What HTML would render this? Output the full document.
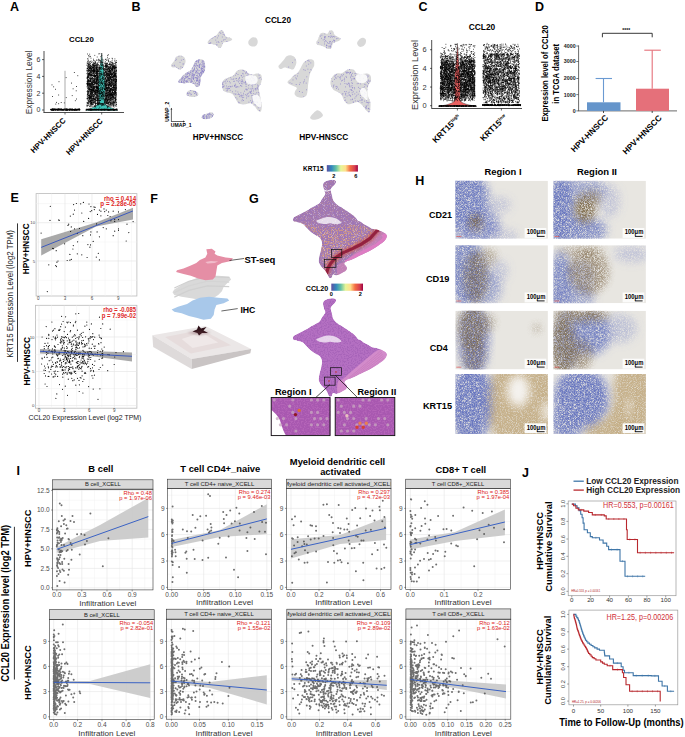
<!DOCTYPE html>
<html><head><meta charset="utf-8"><style>
html,body{margin:0;padding:0;background:#fff;}
body{width:685px;height:737px;overflow:hidden;}
svg{display:block;}
text{font-family:"Liberation Sans",sans-serif;}
</style></head><body>
<svg width="685" height="737" viewBox="0 0 685 737">
<rect width="685" height="737" fill="#fff"/>
<defs>
<linearGradient id="spec" x1="0" x2="1" y1="0" y2="0"><stop offset="0" stop-color="#5e4fa2"/><stop offset="0.15" stop-color="#3288bd"/><stop offset="0.3" stop-color="#66c2a5"/><stop offset="0.45" stop-color="#e6f598"/><stop offset="0.6" stop-color="#fee08b"/><stop offset="0.75" stop-color="#f46d43"/><stop offset="0.9" stop-color="#d53e4f"/><stop offset="1" stop-color="#9e0142"/></linearGradient>
<filter id="blur1" x="-20%" y="-20%" width="140%" height="140%"><feGaussianBlur stdDeviation="1"/></filter>
<filter id="blur2" x="-20%" y="-20%" width="140%" height="140%"><feGaussianBlur stdDeviation="2"/></filter>
<filter id="blur4" x="-50%" y="-50%" width="200%" height="200%"><feGaussianBlur stdDeviation="4"/></filter>
<filter id="dotsO" x="0" y="0" width="100%" height="100%"><feTurbulence type="fractalNoise" baseFrequency="0.7" numOctaves="1" seed="5" result="n"/><feColorMatrix in="n" type="matrix" values="0 0 0 0 0  0 0 0 0 0  0 0 0 0 0  6 0 0 0 -2.8" result="m"/><feComposite in="SourceGraphic" in2="m" operator="in"/></filter>
<filter id="dotsW" x="0" y="0" width="100%" height="100%"><feTurbulence type="fractalNoise" baseFrequency="1.1" numOctaves="1" seed="29" result="n"/><feColorMatrix in="n" type="matrix" values="0 0 0 0 0  0 0 0 0 0  0 0 0 0 0  7 0 0 0 -3.9" result="m"/><feComposite in="SourceGraphic" in2="m" operator="in"/></filter>
<filter id="speckB" x="-20%" y="-20%" width="140%" height="140%"><feGaussianBlur in="SourceGraphic" stdDeviation="4.5" result="b"/><feTurbulence type="fractalNoise" baseFrequency="1.5" numOctaves="2" seed="11" result="n"/><feColorMatrix in="n" type="matrix" values="0 0 0 0 0  0 0 0 0 0  0 0 0 0 0  2.4 0 0 0 -0.45" result="m"/><feComposite in="b" in2="m" operator="in"/></filter>
<filter id="speckBr" x="-20%" y="-20%" width="140%" height="140%"><feGaussianBlur in="SourceGraphic" stdDeviation="3.5" result="b"/><feTurbulence type="fractalNoise" baseFrequency="1.3" numOctaves="2" seed="17" result="n"/><feColorMatrix in="n" type="matrix" values="0 0 0 0 0  0 0 0 0 0  0 0 0 0 0  2.4 0 0 0 -0.55" result="m"/><feComposite in="b" in2="m" operator="in"/></filter>
<filter id="speckT" x="-20%" y="-20%" width="140%" height="140%"><feGaussianBlur in="SourceGraphic" stdDeviation="4" result="b"/><feTurbulence type="fractalNoise" baseFrequency="1.2" numOctaves="2" seed="23" result="n"/><feColorMatrix in="n" type="matrix" values="0 0 0 0 0  0 0 0 0 0  0 0 0 0 0  2 0 0 0 -0.1" result="m"/><feComposite in="b" in2="m" operator="in"/></filter>
</defs>
<text x="10" y="11" font-size="12.5" font-weight="bold" fill="#000" text-anchor="start">A</text>
<text x="131.5" y="11.2" font-size="12.5" font-weight="bold" fill="#000" text-anchor="start">B</text>
<text x="418.5" y="11.2" font-size="12.5" font-weight="bold" fill="#000" text-anchor="start">C</text>
<text x="535" y="11.3" font-size="12.5" font-weight="bold" fill="#000" text-anchor="start">D</text>
<text x="10.5" y="201.5" font-size="12.5" font-weight="bold" fill="#000" text-anchor="start">E</text>
<text x="150.3" y="203" font-size="12.5" font-weight="bold" fill="#000" text-anchor="start">F</text>
<text x="249" y="203" font-size="12.5" font-weight="bold" fill="#000" text-anchor="start">G</text>
<text x="415.2" y="185.2" font-size="12.5" font-weight="bold" fill="#000" text-anchor="start">H</text>
<text x="16.4" y="475.2" font-size="12.5" font-weight="bold" fill="#000" text-anchor="start">I</text>
<text x="522" y="476.9" font-size="12.5" font-weight="bold" fill="#000" text-anchor="start">J</text>
<text x="81.4" y="42.3" font-size="7.8" font-weight="bold" fill="#000" text-anchor="middle">CCL20</text>
<line x1="44" y1="51" x2="44" y2="112.5" stroke="#222" stroke-width="0.8"/>
<line x1="43.5" y1="112.5" x2="124" y2="112.5" stroke="#222" stroke-width="0.8"/>
<line x1="42" y1="110.0" x2="44" y2="110.0" stroke="#222" stroke-width="0.7"/>
<text x="38.4" y="112.4" font-size="7" fill="#333" text-anchor="middle">0</text>
<line x1="42" y1="93.2" x2="44" y2="93.2" stroke="#222" stroke-width="0.7"/>
<text x="38.4" y="95.60000000000001" font-size="7" fill="#333" text-anchor="middle">2</text>
<line x1="42" y1="76.4" x2="44" y2="76.4" stroke="#222" stroke-width="0.7"/>
<text x="38.4" y="78.80000000000001" font-size="7" fill="#333" text-anchor="middle">4</text>
<line x1="42" y1="59.599999999999994" x2="44" y2="59.599999999999994" stroke="#222" stroke-width="0.7"/>
<text x="38.4" y="61.99999999999999" font-size="7" fill="#333" text-anchor="middle">6</text>
<line x1="65" y1="112.5" x2="65" y2="114.5" stroke="#222" stroke-width="0.7"/>
<line x1="101.7" y1="112.5" x2="101.7" y2="114.5" stroke="#222" stroke-width="0.7"/>
<text x="32.2" y="82.4" font-size="8.6" fill="#333" text-anchor="middle" textLength="63.6" lengthAdjust="spacingAndGlyphs" transform="rotate(-90 32.2 82.4)">Expression Level</text>
<path d="M60.4 109.3h0M69.9 109.2h0M66.5 109.5h0M52.7 109.6h0M52.1 109.5h0M53.0 109.2h0M63.3 109.9h0M54.6 109.3h0M69.2 110.0h0M67.7 109.5h0M79.3 109.1h0M75.9 109.4h0M55.2 109.2h0M59.9 109.9h0M56.2 109.7h0M69.5 109.5h0M66.9 109.2h0M52.7 109.3h0M70.7 109.5h0M60.1 109.7h0M64.1 109.4h0M74.0 109.8h0M58.1 109.7h0M66.2 110.0h0M72.2 109.4h0M79.4 109.2h0M63.1 109.9h0M55.4 109.6h0M52.1 109.8h0M73.2 109.7h0M76.4 109.4h0M71.2 109.7h0M67.8 109.6h0M75.4 110.0h0M64.7 109.8h0M52.8 109.8h0M69.8 110.1h0M74.8 109.4h0M62.2 109.8h0M51.7 109.6h0M55.9 109.2h0M52.7 109.9h0M54.8 109.3h0M62.3 110.0h0M53.3 109.5h0M66.9 110.0h0M74.8 110.0h0M59.1 109.5h0M61.4 110.0h0M78.8 109.3h0M56.1 109.3h0M57.8 109.6h0M68.1 109.4h0M51.1 109.5h0M61.7 109.7h0M78.6 109.8h0M65.9 109.7h0M70.6 109.2h0M77.1 109.9h0M76.4 109.9h0M62.4 109.5h0M54.0 109.7h0M52.8 109.2h0M57.1 109.3h0M60.9 109.2h0M51.0 109.3h0M53.9 109.5h0M51.7 110.0h0M68.8 109.2h0M58.3 109.4h0M61.6 109.2h0M75.6 110.1h0M64.5 109.6h0M53.5 109.2h0M60.9 109.4h0M75.0 109.3h0M51.7 110.1h0M66.3 109.2h0M66.8 109.1h0M66.3 110.1h0M76.0 109.8h0M58.6 109.5h0M55.8 109.9h0M66.4 109.9h0M60.6 109.3h0M74.5 110.1h0M75.7 109.9h0M74.7 109.8h0M57.6 109.6h0M61.3 109.1h0M51.8 109.4h0M58.5 109.8h0M78.7 109.5h0M78.2 110.1h0M78.7 109.5h0M57.4 109.3h0M56.7 109.3h0M69.1 110.0h0M75.4 109.6h0M69.9 109.9h0M53.5 109.8h0M77.4 109.9h0M72.8 109.6h0M56.2 109.9h0M60.6 109.9h0M79.2 109.5h0M62.6 110.0h0M72.0 109.3h0M54.7 109.3h0M77.2 109.9h0M55.2 109.9h0M79.4 109.8h0M61.2 109.6h0M54.8 109.1h0M79.2 109.7h0M66.3 110.0h0M63.6 110.0h0M75.0 109.3h0M58.3 109.4h0M58.0 109.7h0M58.5 109.5h0M54.8 110.0h0M61.3 109.6h0M67.9 110.0h0M63.2 110.0h0M65.5 109.6h0M66.2 109.1h0M63.8 109.3h0M51.1 109.9h0M56.0 109.6h0M72.0 109.7h0M60.5 109.6h0M67.1 109.9h0M54.1 109.7h0M58.2 109.4h0M73.4 109.6h0M67.3 109.9h0M77.5 109.5h0M68.8 109.6h0M65.9 109.8h0M64.1 109.6h0M64.9 110.0h0M71.3 110.0h0M78.3 109.4h0M67.2 110.0h0M75.4 109.2h0M54.5 109.5h0M53.1 109.3h0M53.1 109.8h0M73.7 110.0h0M55.5 109.8h0M70.1 109.2h0M76.6 110.1h0M57.4 110.1h0M62.5 109.6h0M79.7 109.9h0M55.7 109.5h0M66.0 109.4h0M56.7 109.4h0M71.9 109.1h0M67.1 109.5h0M51.5 109.4h0M69.1 109.6h0M52.9 110.1h0M73.9 110.1h0M54.0 109.4h0M52.1 109.9h0M58.8 109.2h0M63.2 110.0h0M74.8 109.4h0M55.3 110.0h0M67.5 109.8h0M53.6 109.2h0M71.0 109.5h0M53.1 110.0h0M69.4 109.9h0M53.4 110.0h0M52.9 110.0h0M64.2 109.4h0M67.0 110.0h0M58.8 109.2h0M66.3 109.3h0M54.2 109.3h0M52.5 109.3h0M60.0 109.4h0M73.0 109.4h0M65.5 109.3h0M61.1 109.1h0M58.3 109.1h0M72.3 109.7h0M56.5 109.6h0M78.1 109.2h0M74.7 109.5h0M65.4 109.9h0M62.4 109.6h0M70.9 110.1h0M60.9 109.9h0M71.5 109.7h0M62.7 109.4h0M52.6 109.2h0M53.1 109.8h0M58.4 109.3h0M53.5 109.9h0M76.2 109.8h0M59.2 109.3h0M59.5 109.6h0M55.6 109.5h0M58.6 110.1h0M79.2 109.6h0M58.1 110.1h0M60.0 109.5h0M51.0 109.5h0M64.8 109.6h0M56.8 109.6h0M51.1 109.4h0M53.6 109.5h0M52.2 109.1h0M59.8 109.3h0M68.0 109.6h0M72.8 109.8h0M71.8 110.0h0M62.3 109.4h0M79.6 109.2h0M72.0 109.7h0M52.3 109.9h0M76.9 109.7h0M72.3 109.9h0M55.0 109.6h0M65.6 109.9h0M74.3 109.9h0M67.9 110.0h0M70.8 109.8h0M57.7 109.1h0M54.9 109.5h0M54.0 109.9h0M67.2 109.7h0M69.2 109.8h0M65.2 109.1h0M74.1 109.8h0M65.6 109.6h0M70.1 109.2h0M72.4 109.4h0M53.2 109.4h0M72.2 109.3h0M72.5 110.1h0M65.3 109.5h0M64.9 109.8h0M73.2 109.7h0M69.6 109.2h0M55.3 109.4h0M72.6 109.4h0M67.5 109.1h0M52.8 109.4h0M70.5 109.8h0M70.6 109.4h0M66.0 109.6h0M64.5 109.2h0M76.9 109.3h0M79.4 110.0h0M51.5 109.6h0M74.8 110.1h0M64.0 109.4h0M57.1 110.0h0M57.1 109.7h0M55.1 109.6h0M78.6 109.2h0M74.8 109.6h0M76.7 109.8h0M57.7 110.0h0M65.1 109.1h0M51.1 109.6h0M64.1 109.4h0M55.1 109.4h0M60.2 109.9h0M51.1 109.9h0M75.3 109.2h0M77.9 109.8h0M77.1 109.4h0M61.8 109.5h0M80.0 109.7h0M61.5 109.5h0M59.0 109.1h0M53.9 109.9h0M59.3 110.0h0M58.2 109.4h0M65.8 109.3h0M61.8 110.1h0M76.6 109.9h0M69.3 110.0h0M78.3 109.6h0M71.9 109.1h0M72.2 109.6h0M72.8 109.7h0M59.3 109.1h0M77.9 109.2h0M64.7 109.4h0M59.6 109.8h0M79.3 109.4h0M70.0 109.4h0M67.2 109.5h0M56.5 102.4h0M76.5 99.0h0M76.5 86.5h0M55.8 104.1h0M61.2 102.5h0M59.0 81.7h0M72.2 95.6h0M66.2 97.6h0M53.7 86.8h0M55.4 89.3h0M75.3 100.7h0M58.7 95.0h0M77.8 75.7h0M52.6 96.5h0M76.2 90.8h0M52.0 84.9h0M74.3 72.5h0M58.7 103.7h0M66.1 77.6h0M71.5 83.1h0M64.3 102.9h0M73.1 88.8h0" stroke="#000" stroke-width="0.9" stroke-linecap="round" opacity="1"/>
<line x1="65" y1="110" x2="65" y2="70.8" stroke="#555" stroke-width="0.5"/>
<path d="M85.7,110.5 C90,108.5 95,107 98.5,104 C99.5,100 98.5,95 98.3,90 C98.2,82 98.8,74 100,67 C100.8,62 101.4,57 101.7,53 C102,57 102.6,62 103.4,67 C104.6,74 105.2,82 105.1,90 C104.9,95 103.9,100 104.9,104 C108.4,107 113.4,108.5 118,110.5 Z" fill="#3fc2b6" stroke="#222" stroke-width="0.4"/>
<path d="M107.7 92.0h0M115.4 78.9h0M93.9 69.3h0M101.7 65.7h0M114.4 93.1h0M92.9 103.0h0M93.1 73.1h0M93.8 92.4h0M115.2 70.2h0M115.1 97.7h0M115.8 87.0h0M113.2 106.0h0M96.7 65.7h0M98.2 67.3h0M87.1 91.5h0M93.1 92.6h0M113.6 89.0h0M109.7 89.7h0M109.1 99.1h0M97.0 75.4h0M96.4 67.8h0M114.1 107.0h0M115.3 65.2h0M108.9 86.9h0M96.7 73.3h0M109.3 90.7h0M94.8 60.7h0M108.0 96.8h0M109.1 93.1h0M111.9 76.7h0M94.3 79.6h0M106.3 66.8h0M90.0 85.2h0M95.7 69.1h0M104.3 102.7h0M115.0 72.0h0M93.4 80.6h0M106.3 99.4h0M107.1 103.5h0M88.9 91.7h0M105.9 85.2h0M96.1 98.2h0M96.2 95.4h0M97.8 95.5h0M87.2 73.3h0M99.0 102.8h0M103.3 97.0h0M98.0 71.9h0M102.4 97.9h0M90.7 83.4h0M114.4 88.4h0M111.4 68.5h0M111.5 73.9h0M103.6 94.8h0M106.5 90.3h0M105.3 86.2h0M92.3 95.7h0M108.7 81.3h0M116.5 70.7h0M116.1 68.5h0M114.5 67.7h0M91.7 92.1h0M91.2 87.9h0M94.8 63.4h0M114.7 91.1h0M110.2 68.6h0M90.1 92.6h0M110.6 92.3h0M97.7 63.2h0M111.3 85.7h0M104.3 83.2h0M99.8 104.3h0M93.7 68.6h0M97.6 102.5h0M93.0 81.7h0M91.4 82.3h0M110.2 84.0h0M97.4 91.3h0M108.7 87.8h0M94.0 65.6h0M103.3 72.9h0M111.1 95.3h0M88.4 91.2h0M87.2 81.2h0M109.0 71.2h0M96.9 95.1h0M108.1 78.3h0M94.9 78.9h0M113.0 64.3h0M109.1 95.4h0M94.1 65.4h0M106.7 96.2h0M100.9 97.1h0M96.1 66.8h0M114.0 78.6h0M91.2 100.2h0M105.8 100.5h0M111.2 72.4h0M112.7 67.8h0M93.1 79.9h0M111.0 104.8h0M89.9 70.4h0M115.5 93.7h0M87.9 68.4h0M89.7 94.8h0M115.9 100.5h0M110.6 85.6h0M114.9 82.7h0M105.6 103.4h0M113.4 85.5h0M113.7 67.5h0M93.9 90.5h0M97.3 83.8h0M106.6 103.6h0M90.7 94.8h0M92.7 67.7h0M94.3 76.0h0M96.7 83.1h0M90.0 65.8h0M108.7 66.5h0M101.8 72.3h0M113.9 102.0h0M107.1 70.2h0M105.6 83.3h0M94.4 87.7h0M99.1 83.2h0M110.0 78.3h0M88.1 89.0h0M90.0 98.0h0M102.2 89.4h0M107.3 79.1h0M116.1 71.1h0M93.6 88.8h0M105.8 74.1h0M105.9 81.7h0M95.7 65.8h0M94.9 101.8h0M92.5 93.3h0M114.5 76.8h0M91.2 106.0h0M87.3 74.9h0M90.0 89.4h0M97.3 97.8h0M105.0 69.0h0M110.3 79.8h0M100.0 98.8h0M91.1 92.0h0M87.2 83.5h0M98.1 90.0h0M105.9 64.8h0M101.3 63.0h0M97.8 77.9h0M93.2 85.8h0M111.5 84.0h0M102.0 83.5h0M104.4 72.1h0M113.2 106.1h0M114.3 103.7h0M113.9 79.0h0M107.2 77.7h0M109.6 75.6h0M106.4 102.6h0M114.6 87.3h0M90.5 80.0h0M116.0 90.6h0M91.5 85.9h0M90.6 103.4h0M90.8 66.1h0M108.7 73.5h0M108.6 104.3h0M100.6 83.9h0M106.3 66.0h0M108.6 102.1h0M97.8 99.9h0M115.0 82.0h0M88.8 81.2h0M96.8 90.7h0M113.5 66.5h0M94.8 91.5h0M111.7 79.5h0M95.1 65.3h0M89.5 70.4h0M109.2 67.9h0M107.1 83.3h0M109.2 93.9h0M93.9 90.8h0M97.7 98.6h0M91.4 87.7h0M110.3 63.9h0M94.7 63.1h0M109.7 90.4h0M92.3 66.1h0M112.8 103.0h0M94.6 86.9h0M116.4 89.2h0M113.8 104.3h0M108.0 106.2h0M114.8 66.6h0M109.4 93.0h0M92.0 92.4h0M87.4 98.6h0M114.6 92.1h0M113.3 79.2h0M105.6 92.1h0M101.1 95.1h0M91.3 92.9h0M94.9 78.8h0M92.0 98.8h0M90.4 97.5h0M106.8 63.1h0M94.6 84.3h0M89.9 99.7h0M108.5 68.4h0M91.1 61.0h0M92.5 71.1h0M92.3 67.6h0M89.3 73.3h0M105.1 78.7h0M93.0 72.3h0M111.0 72.3h0M94.9 106.7h0M91.8 70.8h0M96.5 72.3h0M115.2 90.1h0M90.0 83.7h0M89.9 70.6h0M102.5 94.4h0M88.3 70.4h0M104.0 70.3h0M111.9 69.5h0M110.0 90.5h0M110.8 97.3h0M111.1 74.8h0M97.8 87.7h0M91.1 100.2h0M110.0 79.5h0M113.2 98.1h0M88.0 99.6h0M114.4 94.0h0M99.8 93.7h0M115.3 92.5h0M94.2 99.7h0M105.1 85.8h0M93.6 89.2h0M112.5 89.7h0M95.4 82.7h0M91.7 90.1h0M88.8 65.8h0M115.4 87.6h0M97.4 98.2h0M108.9 77.7h0M110.2 70.7h0M109.7 64.6h0M100.6 68.0h0M98.4 88.2h0M92.5 71.7h0M111.8 94.2h0M93.0 66.0h0M101.7 67.5h0M115.1 87.6h0M98.1 81.5h0M102.7 62.5h0M107.4 57.3h0M95.6 63.0h0M92.4 83.3h0M88.3 76.1h0M107.4 67.0h0M92.8 91.4h0M106.1 80.2h0M91.6 62.4h0M92.0 100.2h0M87.4 68.5h0M97.5 95.5h0M97.3 90.4h0M113.4 86.7h0M88.3 63.0h0M112.3 79.2h0M115.4 67.9h0M98.5 64.7h0M94.2 95.1h0M115.8 89.0h0M94.3 69.8h0M97.1 94.1h0M95.0 76.1h0M91.7 105.0h0M115.4 74.4h0M90.9 64.9h0M106.5 69.1h0M112.2 92.2h0M90.7 91.6h0M113.9 93.3h0M87.9 68.6h0M99.2 77.5h0M92.4 94.2h0M108.1 70.2h0M98.3 103.3h0M92.3 91.6h0M107.3 81.9h0M88.4 89.2h0M93.2 102.5h0M107.6 84.8h0M95.3 76.1h0M108.9 61.7h0M88.6 77.3h0M109.6 82.4h0M94.7 77.3h0M88.8 63.8h0M96.2 86.5h0M97.4 91.9h0M111.1 67.3h0M106.7 72.0h0M95.6 86.3h0M95.3 92.6h0M116.4 102.4h0M90.2 100.9h0M114.7 94.2h0M91.1 92.7h0M105.9 72.8h0M110.2 65.9h0M96.5 76.0h0M111.6 81.7h0M107.9 107.3h0M115.0 91.1h0M89.4 84.1h0M115.7 97.3h0M87.1 105.7h0M106.7 82.6h0M95.8 67.5h0M96.6 81.7h0M112.6 67.2h0M111.0 70.0h0M95.8 77.1h0M97.2 63.0h0M87.8 82.9h0M98.0 76.9h0M112.5 95.9h0M94.4 99.9h0M100.0 85.8h0M108.4 76.4h0M92.1 70.4h0M91.0 102.2h0M98.0 101.8h0M99.6 81.8h0M114.2 67.8h0M97.1 75.9h0M90.6 81.4h0M114.4 71.5h0M92.5 103.8h0M112.9 92.9h0M115.1 79.7h0M110.7 93.4h0M107.1 100.7h0M112.8 83.6h0M93.4 98.6h0M92.0 87.6h0M116.2 81.7h0M95.1 99.4h0M115.3 85.0h0M88.0 70.7h0M105.8 71.0h0M112.8 97.3h0M109.6 88.7h0M97.4 82.9h0M116.3 87.0h0M94.0 89.8h0M95.9 98.6h0M114.3 70.3h0M104.2 100.6h0M101.3 69.4h0M91.9 93.0h0M104.8 76.3h0M115.5 100.2h0M91.0 100.7h0M105.9 88.5h0M109.2 82.5h0M97.0 86.9h0M114.4 85.7h0M96.7 68.4h0M109.7 98.2h0M103.4 69.5h0M94.6 93.6h0M115.9 74.7h0M114.9 92.2h0M109.4 64.5h0M103.4 104.1h0M91.4 66.5h0M110.0 74.1h0M105.8 64.7h0M90.2 75.0h0M98.9 102.6h0M105.6 87.3h0M93.4 75.9h0M112.7 101.0h0M101.4 74.0h0M97.7 79.1h0M112.6 65.2h0M90.3 85.5h0M87.3 82.5h0M89.9 74.4h0M97.1 74.4h0M116.0 89.5h0M107.4 101.2h0M87.6 84.7h0M96.4 73.3h0M91.0 75.6h0M91.4 96.4h0M114.2 83.4h0M113.1 98.5h0M88.3 93.7h0M97.7 87.2h0M107.4 75.7h0M112.9 96.0h0M87.2 102.3h0M94.1 67.6h0M110.2 104.5h0M96.6 68.8h0M115.8 82.0h0M116.4 73.3h0M98.2 82.3h0M96.5 86.2h0M105.1 82.9h0M106.0 93.8h0M88.3 73.1h0M94.4 71.0h0M101.2 85.6h0M97.9 99.6h0M87.5 94.4h0M92.3 80.6h0M89.7 95.3h0M99.5 68.8h0M108.1 87.9h0M111.0 88.3h0M115.8 84.9h0M96.8 87.8h0M113.7 72.4h0M93.5 82.5h0M89.6 67.9h0M116.5 87.3h0M87.2 68.5h0M95.1 77.0h0M110.7 98.3h0M98.1 95.0h0M97.8 84.9h0M96.3 94.7h0M96.6 87.4h0M100.2 68.2h0M89.1 88.5h0M103.6 99.0h0M111.8 77.1h0M90.0 66.1h0M94.6 71.0h0M107.3 88.2h0M95.7 103.7h0M91.5 94.2h0M88.0 61.1h0M100.7 78.9h0M111.5 74.7h0M95.6 61.8h0M114.5 74.8h0M89.6 83.6h0M112.0 97.2h0M97.2 71.1h0M106.4 81.8h0M92.3 93.9h0M97.4 98.8h0M96.8 79.3h0M91.4 68.5h0M90.5 67.4h0M112.8 88.8h0M114.9 67.9h0M109.2 69.8h0M104.6 66.3h0M104.7 101.6h0M111.0 78.7h0M114.8 63.6h0M107.1 90.7h0M92.9 90.6h0M105.8 69.7h0M108.2 77.6h0M106.9 102.8h0M109.1 103.1h0M99.9 67.6h0M115.0 68.0h0M94.5 72.1h0M101.6 95.4h0M110.2 73.9h0M89.6 73.3h0M104.6 69.7h0M111.0 105.2h0M96.9 80.9h0M89.6 89.3h0M106.6 74.0h0M92.4 101.1h0M93.6 65.7h0M102.0 99.6h0M92.2 70.0h0M100.5 73.4h0M113.5 76.6h0M97.7 104.6h0M102.5 77.9h0M115.9 95.2h0M96.6 68.6h0M91.3 70.7h0M106.0 84.5h0M107.0 96.5h0M107.4 69.8h0M97.3 103.3h0M91.8 86.7h0M98.3 98.5h0M115.5 81.4h0M115.5 89.0h0M105.9 99.7h0M109.4 91.3h0M97.7 80.8h0M94.9 87.9h0M99.2 98.9h0M115.6 91.9h0M109.0 77.7h0M97.4 92.1h0M113.7 66.9h0M95.1 76.1h0M91.5 74.6h0M109.0 80.1h0M90.9 79.1h0M104.9 75.3h0M89.8 95.7h0M89.1 64.9h0M105.6 90.2h0M110.9 91.9h0M93.6 70.8h0M110.5 90.2h0M105.6 102.0h0M96.8 74.6h0M89.1 85.3h0M100.5 104.0h0M95.4 96.9h0M107.8 72.8h0M107.8 94.6h0M114.2 85.2h0M93.1 70.1h0M97.5 69.6h0M96.1 83.3h0M100.9 103.7h0M101.1 68.3h0M99.9 94.1h0M93.3 71.6h0M111.6 89.1h0M89.1 81.6h0M101.3 81.5h0M105.8 85.6h0M106.2 74.8h0M88.9 82.9h0M98.6 60.9h0M89.8 69.1h0M110.8 98.2h0M106.9 103.4h0M105.9 59.6h0M87.5 85.3h0M108.0 103.0h0M110.3 71.0h0M114.1 73.6h0M105.3 66.4h0M88.6 71.3h0M87.7 94.1h0M90.6 72.2h0M112.1 76.3h0M105.0 89.3h0M90.4 101.5h0M105.1 78.4h0M110.6 68.4h0M87.9 75.8h0M113.0 67.4h0M95.9 63.3h0M100.1 91.0h0M109.3 67.8h0M87.6 90.7h0M109.9 71.3h0M110.5 89.4h0M97.9 100.5h0M102.7 64.1h0M115.6 62.5h0M113.8 94.0h0M100.0 93.5h0M94.4 82.5h0M115.5 104.0h0M104.7 79.9h0M91.2 102.8h0M107.4 85.7h0M99.1 73.6h0M114.6 74.8h0M112.3 66.9h0M87.3 77.3h0M106.6 66.5h0M116.1 96.8h0M87.4 77.3h0M97.8 101.2h0M98.3 71.2h0M97.8 96.0h0M88.5 88.0h0M90.4 71.3h0M90.5 75.9h0M89.0 98.3h0M112.4 79.9h0M94.1 65.0h0M114.4 70.0h0M87.7 77.9h0M104.9 73.5h0M108.9 73.1h0M104.7 89.4h0M107.1 69.8h0M93.0 97.3h0M115.5 92.3h0M106.8 88.6h0M91.1 86.7h0M88.7 86.3h0M113.3 96.5h0M95.0 71.8h0M114.1 87.8h0M95.6 104.6h0M102.7 77.0h0M90.5 77.0h0M115.5 82.6h0M103.9 105.0h0M102.5 77.2h0M101.0 73.4h0M110.3 99.0h0M115.5 86.4h0M93.9 86.7h0M93.6 88.8h0M91.0 91.2h0M111.7 103.6h0M115.6 84.4h0M104.8 74.9h0M87.1 83.5h0M93.8 75.2h0M114.7 76.0h0M91.4 85.0h0M94.7 83.2h0M89.7 100.0h0M97.1 77.5h0M110.6 74.3h0M92.7 99.3h0M106.6 72.2h0M108.4 95.7h0M95.6 73.3h0M96.2 73.3h0M93.7 91.5h0M96.2 73.1h0M105.0 69.9h0M113.0 105.2h0M89.1 72.0h0M106.8 85.1h0M98.0 96.6h0M105.3 68.2h0M116.0 85.7h0M90.8 91.5h0M109.8 80.6h0M89.8 101.4h0M109.7 76.3h0M91.9 100.8h0M90.5 97.2h0M115.3 71.1h0M108.2 90.5h0M111.1 98.3h0M100.9 89.6h0M97.1 71.3h0M112.5 90.0h0M115.2 105.7h0M94.9 74.3h0M93.7 88.9h0M99.2 76.3h0M114.2 84.5h0M109.3 66.9h0M91.0 96.8h0M97.2 94.0h0M109.0 71.9h0M112.8 78.0h0M112.7 89.4h0M90.0 88.1h0M89.0 104.2h0M98.9 95.9h0M113.5 90.5h0M96.2 72.1h0M104.4 89.4h0M113.1 85.3h0M107.6 98.8h0M110.4 90.7h0M110.7 98.3h0M108.0 66.8h0M93.0 85.4h0M101.8 92.1h0M103.6 68.0h0M97.7 72.4h0M93.1 90.6h0M102.1 89.5h0M110.8 96.7h0M108.2 103.5h0M104.8 95.9h0M109.2 84.7h0M88.6 77.2h0M105.9 72.4h0M96.9 90.2h0M105.3 95.2h0M89.5 97.7h0M100.0 91.2h0M92.9 66.9h0M115.6 100.3h0M97.4 90.4h0M87.2 86.8h0M105.6 71.7h0M95.8 94.3h0M115.1 80.1h0M107.0 88.1h0M102.7 68.4h0M110.3 84.9h0M97.7 88.4h0M96.8 93.3h0M87.6 98.7h0M88.7 102.9h0M113.9 76.9h0M92.7 65.9h0M109.3 71.3h0M88.7 64.9h0M91.8 104.0h0M115.7 77.3h0M93.9 63.2h0M116.4 80.4h0M108.8 98.0h0M88.0 82.7h0M114.1 68.2h0M87.1 98.8h0M87.2 71.2h0M99.1 90.3h0M114.5 97.2h0M110.4 94.2h0M107.4 73.4h0M112.4 74.4h0M89.5 97.9h0M109.5 84.5h0M99.6 67.0h0M112.8 72.2h0M108.6 74.7h0M106.4 97.8h0M114.9 90.7h0M110.9 97.5h0M98.9 88.5h0M88.6 100.9h0M103.0 90.9h0M88.0 80.9h0M113.4 103.6h0M97.2 90.6h0M92.5 81.4h0M97.0 71.1h0M110.3 66.4h0M115.7 67.2h0M112.3 74.4h0M109.0 97.8h0M115.5 89.1h0M113.2 82.7h0M91.2 69.6h0M87.8 63.6h0M105.6 98.6h0M105.8 67.7h0M97.7 68.1h0M88.9 95.3h0M107.1 80.6h0M99.6 100.5h0M104.4 85.0h0M111.6 97.3h0M96.6 66.9h0M99.0 62.4h0M109.1 99.6h0M106.6 93.5h0M108.5 78.6h0M91.7 89.5h0M91.7 82.7h0M87.4 79.7h0M109.4 87.4h0M111.7 95.5h0M89.1 82.0h0M106.2 90.6h0M91.6 87.2h0M107.9 92.9h0M106.2 100.2h0M106.8 74.6h0M113.7 75.6h0M107.3 95.3h0M96.9 80.5h0M114.2 86.0h0M101.7 83.5h0M115.9 99.0h0M90.3 79.9h0M107.6 100.1h0M116.0 74.5h0M108.2 101.6h0M97.5 90.0h0M116.5 85.6h0M115.7 67.3h0M92.8 61.9h0M99.4 83.0h0M110.1 84.6h0M108.6 88.1h0M96.1 82.7h0M110.2 74.6h0M107.5 76.3h0M102.5 103.7h0M93.8 66.5h0M97.9 100.2h0M113.5 89.7h0M115.8 67.6h0M114.3 98.3h0M92.7 89.0h0M113.7 86.1h0M96.9 91.6h0M105.1 79.9h0M113.9 98.0h0M96.6 79.7h0M90.6 80.0h0M90.4 95.1h0M94.1 79.6h0M110.6 93.7h0M101.2 96.0h0M111.9 90.6h0M90.1 93.4h0M97.9 99.0h0M116.1 83.9h0M98.0 81.0h0M97.6 79.2h0M95.4 75.5h0M99.4 70.1h0M111.6 70.1h0M107.2 77.4h0M92.8 85.0h0M91.0 78.6h0M96.3 96.9h0M96.1 96.8h0M110.1 83.0h0M109.3 92.2h0M111.3 89.0h0M115.8 101.9h0M92.2 95.2h0M111.6 79.1h0M93.0 84.4h0M97.0 86.1h0M90.6 102.3h0M112.8 94.8h0M100.0 60.6h0M93.7 98.4h0M105.1 65.7h0M100.7 74.3h0M95.3 100.8h0M93.6 71.5h0M102.1 62.6h0M97.6 104.8h0M106.5 95.7h0M102.0 81.0h0M111.0 71.4h0M90.7 68.4h0M110.3 94.9h0M92.6 75.7h0M91.4 87.4h0M101.9 82.7h0M108.5 73.0h0M88.9 80.8h0M103.3 75.4h0M89.5 70.7h0M94.4 101.7h0M90.4 89.9h0M90.2 102.3h0M109.4 72.0h0M96.2 67.4h0M109.8 64.1h0M99.0 86.0h0M94.3 76.0h0M97.9 69.2h0M105.6 83.0h0M90.9 71.0h0M106.4 76.2h0M96.6 103.2h0M110.4 89.3h0M90.4 86.0h0M97.9 103.5h0M93.8 91.0h0M96.5 87.0h0M90.2 68.2h0M93.0 90.0h0M99.6 74.2h0M94.0 78.6h0M96.0 91.3h0M114.4 76.0h0M90.7 93.3h0M93.6 104.7h0M111.3 101.0h0M111.9 92.6h0M104.7 70.3h0M104.4 99.7h0M110.7 76.9h0M108.3 94.1h0M95.1 90.8h0M114.9 58.9h0M93.0 67.5h0M92.2 100.7h0M89.8 81.4h0M106.2 98.9h0M116.4 104.3h0M109.0 69.2h0M110.3 64.6h0M110.6 88.5h0M108.2 100.2h0M94.9 68.6h0M98.2 101.0h0M93.8 70.4h0M108.0 104.7h0M98.0 85.1h0M113.2 75.8h0M107.6 74.8h0M105.6 98.8h0M96.9 88.3h0M106.6 66.6h0M100.7 82.7h0M110.9 98.6h0M116.5 88.4h0M92.2 74.2h0M110.1 103.0h0M93.0 86.5h0M88.6 102.2h0M105.4 83.8h0M90.0 81.4h0M90.4 70.8h0M113.0 65.7h0M111.5 94.8h0M98.2 84.6h0M96.8 71.2h0M116.4 62.5h0M108.5 84.6h0M105.8 93.7h0M87.4 78.8h0M106.2 65.6h0M93.7 94.4h0M115.3 82.3h0M114.7 74.2h0M114.7 91.8h0M88.9 73.7h0M96.0 97.5h0M91.2 78.6h0M114.8 68.9h0M89.9 101.4h0M111.6 73.9h0M114.3 94.5h0M112.1 73.5h0M112.4 94.4h0M94.2 71.1h0M96.1 81.2h0M100.8 97.2h0M89.2 98.4h0M89.5 97.8h0M87.9 76.7h0M108.1 97.7h0M95.7 83.5h0M96.6 74.1h0M114.3 68.4h0M90.1 85.1h0M99.8 72.2h0M90.7 87.2h0M106.5 79.8h0M114.0 84.0h0M114.4 73.3h0M112.8 62.5h0M112.1 60.7h0M89.6 74.4h0M115.0 74.4h0M116.0 84.2h0M110.2 95.9h0M94.0 82.7h0M89.0 84.6h0M114.2 76.7h0M93.6 90.5h0M108.8 84.4h0M92.4 92.6h0M97.3 87.8h0M92.6 79.8h0M106.9 93.8h0M112.0 77.7h0M110.2 88.8h0M108.4 93.0h0M111.1 70.6h0M109.4 91.7h0M109.6 84.4h0M106.8 87.6h0M96.2 80.4h0M108.6 99.5h0M91.4 98.8h0M95.0 94.2h0M109.2 76.5h0M115.1 81.9h0M96.5 75.1h0M87.7 88.3h0M93.3 87.7h0M92.3 90.2h0M109.9 80.0h0M110.4 92.4h0M105.0 86.9h0M88.0 68.9h0M101.8 91.3h0M116.1 79.0h0M91.4 74.6h0M89.9 99.1h0M100.9 71.6h0M97.2 90.7h0M103.2 79.1h0M109.2 71.9h0M108.4 102.8h0M109.2 77.3h0M111.0 64.0h0M115.3 84.0h0M111.1 98.4h0M95.0 105.9h0M91.3 96.0h0M106.7 85.4h0M90.1 71.1h0M88.3 75.2h0M91.3 82.1h0M94.9 69.3h0M103.9 83.1h0M96.7 83.0h0M88.0 100.6h0M107.6 107.1h0M108.6 74.1h0M97.2 79.4h0M90.5 75.1h0M110.1 100.7h0M106.2 86.8h0M90.8 77.3h0M87.5 83.6h0M94.1 73.3h0M93.9 76.2h0M90.4 73.0h0M88.8 64.6h0M106.7 105.7h0M90.6 69.0h0M111.1 89.7h0M115.0 75.2h0M90.3 91.8h0M97.1 77.1h0M105.3 99.3h0M100.0 94.2h0M93.3 96.4h0M98.7 89.4h0M99.6 95.9h0M95.0 61.8h0M107.7 68.8h0M107.2 83.7h0M99.8 107.2h0M96.7 94.0h0M97.3 89.3h0M90.4 71.7h0M102.6 94.1h0M97.1 88.5h0M112.1 58.3h0M90.0 75.6h0M106.0 76.8h0M88.3 94.3h0M99.9 90.3h0M92.3 96.5h0M90.3 96.4h0M108.5 93.0h0M110.1 104.5h0M107.4 95.0h0M106.5 76.8h0M89.6 85.5h0M114.3 68.2h0M94.6 83.0h0M96.4 78.0h0M98.0 70.1h0M97.1 100.9h0M113.1 87.1h0M96.0 72.2h0M89.7 88.8h0M106.9 80.0h0M114.5 71.8h0M102.7 105.0h0M113.7 95.0h0M110.2 91.4h0M101.4 93.5h0M110.8 68.4h0M113.6 63.7h0M108.1 84.8h0M106.2 91.6h0M94.7 97.8h0M111.8 104.1h0M115.9 86.3h0M108.5 70.9h0M99.5 101.0h0M93.6 64.7h0M106.9 91.6h0M108.8 80.1h0M88.2 73.6h0M112.5 79.9h0M90.3 79.1h0M112.0 89.3h0M96.0 65.6h0M103.1 62.1h0M90.1 67.8h0M87.8 58.5h0M94.8 90.8h0M113.0 96.1h0M99.3 69.3h0M106.3 92.3h0M107.6 67.0h0M114.4 77.2h0M106.8 101.5h0M112.1 88.1h0M91.3 67.4h0M108.1 81.3h0M112.5 95.4h0M109.3 84.3h0M90.2 65.2h0M96.6 88.7h0M96.6 87.6h0M105.6 96.0h0M98.0 64.7h0M103.3 79.3h0M116.6 79.7h0M106.3 65.3h0M116.1 81.9h0M109.0 91.0h0M88.1 67.5h0M105.7 104.6h0M105.4 65.1h0M87.1 98.3h0M95.9 90.4h0M110.1 70.5h0M114.2 86.6h0M108.8 79.2h0M105.7 95.3h0M111.1 97.8h0M108.5 85.7h0M89.7 73.0h0M93.9 70.4h0M99.3 100.9h0M109.9 82.0h0M109.2 80.4h0M116.3 92.2h0M107.8 81.9h0M99.2 67.9h0M96.2 98.1h0M93.1 102.9h0M93.7 67.8h0M105.7 89.7h0M92.1 78.7h0M101.3 82.8h0M110.2 78.8h0M90.3 101.3h0M87.6 78.2h0M87.1 105.4h0M87.1 102.9h0M93.1 65.2h0M90.5 67.0h0M105.6 78.3h0M112.6 90.7h0M89.2 84.0h0M111.2 99.7h0M94.7 91.5h0M110.6 77.8h0M106.0 97.7h0M97.4 96.4h0M93.5 87.4h0M89.8 83.1h0M105.9 65.5h0M115.7 98.3h0M110.1 94.4h0M99.6 75.5h0M106.8 60.5h0M97.6 67.1h0M95.3 103.5h0M101.6 93.0h0M98.4 99.7h0M106.0 84.4h0M106.0 74.5h0M93.6 69.4h0M90.4 87.2h0M108.1 75.4h0M97.6 102.2h0M91.5 84.2h0M112.9 101.9h0M90.2 68.6h0M88.5 70.7h0M91.9 89.0h0M111.7 83.4h0M89.0 56.9h0M109.0 83.9h0M115.6 76.4h0M116.1 84.1h0M109.2 79.1h0M88.4 66.8h0M115.8 97.6h0M89.9 73.3h0M111.6 86.8h0M105.8 100.2h0M115.7 82.6h0M109.6 71.1h0M90.5 61.7h0M87.3 103.2h0M94.8 63.5h0M113.5 70.0h0M89.4 83.2h0M103.7 91.8h0M116.2 87.0h0M108.1 96.4h0M104.7 83.8h0M94.5 83.4h0M105.7 66.9h0M97.0 69.8h0M107.1 79.0h0M94.6 99.5h0M114.2 74.3h0M100.7 82.0h0M102.1 104.7h0M89.6 69.0h0M88.1 74.0h0M88.3 69.3h0M114.4 70.0h0M106.1 86.6h0M91.3 97.7h0M107.9 80.3h0M112.9 97.3h0M96.8 79.9h0M113.8 83.2h0M103.1 103.7h0M107.8 89.3h0M113.7 65.2h0M95.2 90.3h0M91.7 73.0h0M94.9 80.5h0M101.4 92.4h0M106.7 102.8h0M90.8 94.9h0M88.2 103.6h0M91.7 71.5h0M106.3 96.2h0M109.4 74.8h0M97.7 90.6h0M113.0 68.6h0M113.7 97.7h0M95.2 93.5h0M115.3 100.9h0M114.6 90.1h0M106.1 71.6h0M102.6 87.5h0M110.0 85.5h0M89.2 78.5h0M115.8 92.9h0M103.6 77.5h0M115.0 79.1h0M110.9 84.2h0M112.4 77.3h0M88.8 95.9h0M98.5 86.9h0M100.6 77.0h0M102.0 82.8h0M91.1 103.6h0M91.3 69.6h0M90.9 83.2h0M88.2 97.5h0M96.4 88.9h0M99.2 93.3h0M92.4 98.4h0M92.4 90.2h0M94.4 76.7h0M105.9 65.4h0M102.1 98.7h0M111.8 66.3h0M112.9 104.8h0M112.9 68.9h0M106.2 81.3h0M93.9 98.3h0M108.0 102.5h0M104.2 105.0h0M98.2 96.4h0M88.0 77.6h0M91.9 98.7h0M106.5 80.8h0M93.4 70.7h0M92.1 104.3h0M115.1 81.2h0M109.6 82.0h0M115.7 98.2h0M107.1 95.5h0M98.7 68.8h0M93.7 102.6h0M103.4 73.6h0M99.2 81.3h0M97.5 73.5h0M113.1 100.1h0M110.9 77.4h0M96.9 66.6h0M97.7 86.6h0M103.2 79.1h0M91.5 102.7h0M92.2 82.6h0M93.9 68.0h0M95.4 76.5h0M109.0 69.0h0M102.7 92.6h0M96.3 69.6h0M115.3 61.1h0M89.5 73.5h0M101.6 91.6h0M105.2 94.1h0M112.1 70.0h0M107.6 77.7h0M109.3 74.9h0M108.2 79.1h0M93.9 94.5h0M108.8 99.5h0M114.6 79.1h0M95.6 98.2h0M105.4 86.3h0M112.5 73.7h0M89.1 91.0h0M113.7 94.4h0M104.0 68.5h0M94.7 86.3h0M107.4 71.0h0M115.7 82.1h0M94.5 86.3h0M94.6 105.8h0M98.0 103.4h0M87.1 63.0h0M94.4 102.5h0M108.0 87.9h0M111.7 82.6h0M96.6 81.1h0M94.1 80.5h0M113.3 102.6h0M96.3 75.7h0M94.7 66.8h0M96.2 92.1h0M92.4 89.8h0M108.4 103.2h0M110.0 73.5h0M95.0 101.1h0M113.4 86.5h0M90.3 93.6h0M112.6 69.6h0M116.4 77.5h0M94.5 103.1h0M90.6 74.8h0M113.0 102.9h0M106.3 73.5h0M93.6 72.7h0M109.3 83.1h0M106.9 101.1h0M112.8 85.1h0M110.1 78.0h0M109.4 80.9h0M102.4 92.6h0M110.2 82.9h0M96.3 96.1h0M98.0 88.0h0M105.6 59.3h0M110.8 100.7h0M99.3 103.5h0M109.7 87.4h0M92.9 85.3h0M111.8 92.1h0M91.3 69.1h0M106.3 76.6h0M91.3 104.2h0M109.1 105.2h0M110.4 100.3h0M110.8 65.1h0M110.6 72.2h0M109.6 100.8h0M112.2 92.0h0M94.6 99.3h0M92.8 75.5h0M113.6 79.6h0M114.4 84.1h0M96.2 86.7h0M102.3 64.7h0M115.4 88.5h0M99.0 78.2h0M109.3 73.7h0M89.7 61.8h0M94.5 74.3h0M109.9 70.7h0M89.2 75.8h0M110.5 77.6h0M97.1 69.8h0M114.7 100.3h0M106.5 64.0h0M90.4 89.9h0M87.9 84.0h0M98.0 77.0h0M88.4 82.1h0M115.9 81.6h0M98.2 80.8h0M116.2 99.4h0M98.3 85.1h0M87.5 93.0h0M112.9 96.1h0M105.2 70.0h0M110.1 62.4h0M89.5 72.2h0M115.7 80.2h0M106.9 73.5h0M95.3 87.3h0M112.9 68.5h0M94.2 65.7h0M88.3 95.4h0M116.4 94.6h0M105.5 77.6h0M88.8 64.4h0M105.9 95.5h0M102.5 105.0h0M110.5 67.5h0M90.5 89.4h0M88.3 76.3h0M91.1 86.3h0M94.0 70.2h0M106.9 65.9h0M88.5 65.3h0M94.2 96.1h0M114.4 80.7h0M115.9 87.9h0M102.3 94.1h0M115.1 89.5h0M111.8 83.1h0M104.6 63.1h0M114.3 87.4h0M106.6 69.9h0M90.7 72.6h0M109.1 94.5h0M87.2 68.2h0M116.5 70.1h0M114.0 92.3h0M98.7 100.6h0M113.2 84.9h0M102.9 78.8h0M111.3 64.7h0M115.6 73.0h0M108.8 91.1h0M101.3 75.8h0M106.3 92.6h0M87.8 61.4h0M116.0 82.2h0M106.2 85.0h0M103.7 85.5h0M101.3 74.2h0M97.4 88.0h0M107.5 90.3h0M95.7 102.8h0M116.1 96.2h0M107.0 95.2h0M89.1 74.4h0M97.8 100.7h0M99.4 67.3h0M91.9 76.8h0M107.6 100.0h0M110.5 103.4h0M116.6 106.0h0M97.8 92.9h0M100.1 60.7h0M107.9 66.2h0M87.2 65.0h0M116.4 90.3h0M106.9 69.8h0M111.6 85.5h0M110.0 73.8h0M110.0 81.9h0M116.5 62.7h0M105.6 88.7h0M109.8 79.1h0M108.9 80.4h0M106.0 74.9h0M95.3 70.9h0M113.4 72.5h0M108.5 64.6h0M99.2 88.8h0M103.6 66.2h0M93.5 72.6h0M100.2 69.0h0M103.0 103.6h0M97.7 97.6h0M87.3 83.7h0M113.9 93.1h0M112.0 84.6h0M90.2 93.3h0M98.0 82.6h0M91.4 90.7h0M106.8 81.7h0M91.7 66.4h0M113.9 105.5h0M102.1 78.3h0M107.1 88.3h0M97.2 92.7h0M92.6 89.8h0M109.9 91.8h0M93.5 84.4h0M113.4 90.0h0M102.2 92.6h0M94.4 75.1h0M97.7 100.1h0M90.5 84.5h0M116.1 73.2h0M96.5 81.2h0M111.2 86.1h0M108.9 84.7h0M88.7 84.3h0M91.0 97.9h0M112.9 99.5h0M109.4 101.8h0M108.3 68.9h0M87.9 87.2h0M115.8 98.1h0M97.8 87.0h0M88.4 60.8h0M89.2 70.8h0M116.1 80.3h0M98.1 71.6h0M109.5 75.5h0M92.4 84.6h0M113.4 80.9h0M110.8 102.9h0M90.7 83.4h0M92.0 87.2h0M95.3 94.2h0M108.4 87.1h0M109.2 67.6h0M106.0 103.3h0M111.9 93.4h0M88.4 91.9h0M91.9 77.3h0M116.5 67.6h0M114.8 66.3h0M107.8 99.6h0M89.9 97.6h0M90.2 97.4h0M105.2 78.2h0M105.3 89.5h0M96.4 90.4h0M113.6 77.9h0M110.2 90.7h0M97.3 92.9h0M107.5 63.5h0M96.4 83.4h0M91.5 75.4h0M94.2 80.8h0M113.7 71.0h0M110.1 72.3h0M110.8 83.6h0M92.1 68.2h0M105.4 100.9h0M96.8 69.3h0M91.0 100.3h0M115.6 92.6h0M98.8 104.4h0M96.7 84.1h0M113.4 69.0h0M108.2 79.3h0M89.6 77.8h0M93.7 65.4h0M88.6 83.8h0M92.4 82.7h0M89.8 63.0h0M105.5 81.2h0M92.9 86.4h0M104.7 81.3h0M91.8 93.7h0M100.8 80.4h0M92.5 77.6h0M114.0 79.4h0M101.5 103.8h0M109.1 102.7h0M87.1 70.6h0M112.8 80.9h0M95.6 81.6h0M89.4 75.9h0M95.3 78.7h0M90.0 86.7h0M113.3 80.0h0M97.6 83.7h0M106.2 85.1h0M112.3 98.9h0M97.2 82.2h0M107.5 73.4h0M97.8 91.0h0M97.9 74.3h0M97.8 100.4h0M105.3 65.9h0M106.2 67.2h0M109.9 76.6h0M98.4 70.9h0M97.5 103.4h0M90.4 67.7h0M90.1 68.7h0M96.5 68.4h0M116.1 81.6h0M95.6 90.0h0M111.1 105.3h0M112.2 102.9h0M97.4 76.8h0M106.9 84.3h0M90.9 81.5h0M96.8 77.5h0M108.4 75.1h0M112.8 68.7h0M99.1 73.3h0M91.5 89.3h0M91.3 96.1h0M111.2 84.5h0M107.8 69.7h0M100.5 79.7h0M116.2 104.1h0M111.6 93.8h0M87.8 66.6h0M115.4 73.2h0M92.5 73.1h0M93.8 68.2h0M113.0 87.6h0M106.2 85.2h0M111.6 79.6h0M91.4 72.4h0M109.8 90.7h0M108.2 85.8h0M115.6 69.1h0M100.7 90.5h0M109.2 75.1h0M114.7 71.9h0M94.5 84.2h0M109.9 93.4h0M103.4 69.4h0M105.8 102.6h0M91.3 74.1h0M106.7 76.8h0M93.4 60.4h0M107.5 78.8h0M99.8 79.1h0M97.2 57.0h0M108.7 94.3h0M108.0 80.5h0M97.8 86.2h0M93.8 71.9h0M110.0 94.7h0M97.9 99.3h0M91.7 80.3h0M114.4 72.3h0M94.8 69.2h0M95.4 79.3h0M91.2 72.5h0M94.2 66.6h0M105.7 82.2h0M95.0 90.5h0M97.4 78.4h0M91.4 100.2h0M109.8 77.7h0M104.5 73.6h0M110.5 89.5h0M102.3 74.2h0M92.7 106.2h0M93.6 84.5h0M88.7 74.8h0M93.0 82.9h0M94.6 68.4h0M90.5 96.7h0M106.4 88.2h0M93.6 101.8h0M115.3 66.9h0M108.4 71.7h0M97.4 79.6h0M109.8 77.6h0M93.3 89.8h0M113.5 67.3h0M111.5 82.3h0M115.5 84.2h0M111.3 69.5h0M92.4 93.1h0M113.0 95.9h0M103.3 104.7h0M114.6 66.2h0M99.2 94.0h0M103.1 94.1h0M115.2 89.0h0M106.2 93.9h0M98.4 76.9h0M92.0 91.2h0M99.3 92.4h0M89.6 96.3h0M109.4 101.3h0M110.5 78.5h0M98.0 102.7h0M90.5 105.0h0M107.1 65.0h0M89.5 64.9h0M89.9 106.0h0M111.2 96.2h0M105.1 93.4h0M100.6 75.8h0M115.8 79.0h0M92.3 83.0h0M94.4 75.8h0M107.9 87.2h0M98.8 79.4h0M89.6 106.3h0M87.7 84.5h0M87.9 93.2h0M112.4 67.8h0M96.2 86.7h0M89.0 87.9h0M100.9 89.4h0M113.8 78.1h0M97.4 64.6h0M115.7 76.1h0M106.5 74.2h0M99.8 91.7h0M94.6 91.7h0M116.5 104.4h0M106.5 87.8h0M110.1 99.1h0M110.9 88.8h0M109.0 85.6h0M111.5 75.6h0M88.2 75.2h0M108.8 102.9h0M108.7 80.4h0M95.8 89.6h0M104.9 102.7h0M115.6 75.6h0M114.9 81.9h0M88.3 87.6h0M113.6 87.5h0M106.5 75.7h0M105.5 97.7h0M100.7 80.0h0M110.7 85.1h0M107.4 88.3h0M100.4 100.3h0M90.1 85.7h0M110.2 96.8h0M93.3 88.7h0M97.8 77.0h0M97.8 72.8h0M103.8 86.7h0M94.2 89.2h0M90.9 69.7h0M113.9 87.1h0M111.0 85.2h0M107.9 76.3h0M115.8 100.1h0M112.9 95.8h0M107.1 84.6h0M111.6 62.2h0M107.7 102.5h0M97.2 68.0h0M87.1 104.9h0M105.8 99.5h0M109.8 96.6h0M95.6 102.9h0M98.4 75.0h0M91.2 102.4h0M88.6 69.7h0M95.5 101.8h0M90.2 88.9h0M92.6 104.3h0M110.1 94.1h0M95.5 62.6h0M109.1 64.9h0M96.2 80.8h0M113.9 101.6h0M93.1 89.8h0M108.7 106.3h0M115.2 99.8h0M103.7 74.9h0M114.3 89.6h0M108.3 98.1h0M93.7 90.6h0M112.5 104.2h0M110.7 95.2h0M98.0 76.2h0M89.8 86.8h0M106.0 78.1h0M101.8 96.5h0M107.4 100.5h0M116.0 64.7h0M101.5 65.7h0M113.8 65.2h0M100.7 71.2h0M106.2 93.6h0M98.4 104.9h0M115.6 73.8h0M97.1 91.8h0M105.3 94.9h0M89.5 70.1h0M92.3 104.7h0M110.9 99.7h0M111.2 81.0h0M92.4 102.2h0M96.6 80.2h0M109.7 84.5h0M108.9 68.4h0M112.5 99.6h0M106.5 88.2h0M105.8 85.0h0M107.9 105.8h0M113.3 96.8h0M87.7 77.3h0M111.9 69.6h0M93.2 99.3h0M87.7 92.0h0M112.4 91.9h0M112.4 70.3h0M115.8 78.5h0M100.1 69.1h0M112.1 83.8h0M106.6 64.8h0M111.9 72.2h0M102.3 80.5h0M94.1 75.8h0M92.8 98.9h0M109.4 63.4h0M115.3 75.6h0M114.1 72.4h0M98.3 104.4h0M106.2 67.9h0M92.1 94.0h0M108.8 96.8h0M111.5 80.7h0M89.5 91.7h0M95.3 65.5h0M87.9 103.3h0M111.0 103.2h0M116.1 93.7h0M104.7 99.2h0M89.1 96.9h0M100.4 100.5h0M97.8 77.8h0M97.0 92.4h0M108.4 94.9h0M93.3 98.0h0M110.5 76.6h0M107.1 80.6h0M111.8 94.4h0M94.0 80.1h0M111.5 99.6h0M92.7 70.3h0M87.2 96.0h0M112.6 73.3h0M107.7 103.3h0M90.4 90.3h0M94.9 66.8h0M90.5 84.7h0M110.1 74.4h0M100.3 88.7h0M113.4 80.4h0M115.9 99.6h0M109.0 94.6h0M116.5 79.5h0M105.5 71.6h0M105.1 101.9h0M110.2 89.4h0M87.5 80.2h0M107.6 90.1h0M94.4 76.9h0M115.5 91.4h0M109.8 80.4h0M108.5 97.7h0M114.1 75.5h0M98.2 84.6h0M90.7 101.2h0M96.0 92.1h0M112.3 75.1h0M94.6 70.4h0M102.5 96.2h0M108.9 98.0h0M113.1 90.2h0M99.2 67.5h0M98.3 97.9h0M96.8 87.1h0M111.6 68.0h0M89.1 86.1h0M88.5 95.9h0M103.1 88.6h0M105.9 72.1h0M94.4 92.6h0M92.4 92.1h0M94.0 67.2h0M106.6 96.8h0M92.0 92.2h0M101.2 98.3h0M90.0 98.3h0M107.5 96.2h0M88.3 74.8h0M89.5 88.0h0M94.3 73.9h0M104.7 68.5h0M107.9 93.2h0M114.3 102.5h0M95.1 71.2h0M114.8 95.1h0M97.7 88.0h0M105.1 88.8h0M114.1 80.5h0M100.1 76.0h0M116.2 92.3h0M112.2 77.4h0M87.2 86.8h0M109.9 95.4h0M95.0 99.5h0M98.3 98.0h0M112.5 82.9h0M91.6 76.0h0M114.1 102.6h0M91.3 97.5h0M113.5 80.6h0M95.9 81.0h0M88.4 101.6h0M99.5 68.3h0M98.7 91.6h0M107.3 106.8h0M94.4 79.4h0M97.1 91.0h0M114.4 87.4h0M109.4 75.8h0M96.9 71.6h0M112.2 70.3h0M115.2 90.1h0M114.6 81.9h0M93.1 86.9h0M116.3 76.6h0M116.0 76.4h0M106.5 101.4h0M103.1 87.2h0M93.0 63.7h0M111.8 62.8h0M92.8 94.8h0M116.3 93.3h0M115.0 87.7h0M112.4 81.4h0M114.1 88.2h0M110.4 68.1h0M106.5 98.6h0M108.4 90.0h0M101.6 62.5h0M113.6 87.3h0M93.6 87.7h0M91.0 73.1h0M91.5 102.6h0M88.6 85.6h0M102.7 88.8h0M113.5 83.2h0M109.4 72.3h0M113.9 66.2h0M87.4 83.0h0M95.1 106.2h0M107.9 95.4h0M91.9 79.5h0M94.3 71.5h0M106.2 98.5h0M96.4 70.5h0M91.7 91.5h0M106.7 96.9h0M87.5 63.1h0M90.0 103.8h0M105.3 79.3h0M88.0 95.3h0M93.1 82.1h0M93.1 74.8h0M97.1 87.6h0M115.8 94.2h0M98.8 71.2h0M92.1 78.2h0M110.6 70.0h0M89.2 75.1h0M94.9 69.8h0M88.0 81.4h0M108.2 95.7h0M87.1 83.5h0M114.9 76.3h0M96.6 86.2h0M109.8 84.8h0M114.5 98.2h0M109.7 94.0h0M106.8 83.5h0M107.4 65.9h0M93.5 103.1h0M96.9 87.6h0M90.0 78.5h0M111.6 85.9h0M115.2 92.7h0M87.6 72.3h0M113.3 73.1h0M95.9 82.5h0M93.3 100.9h0M114.2 85.6h0M89.1 88.1h0M107.5 68.6h0M110.4 101.9h0M105.4 63.4h0M103.5 93.2h0M89.7 89.3h0M107.7 74.8h0M94.0 98.6h0M94.7 82.1h0M115.5 67.6h0M87.3 85.2h0M113.2 100.6h0M113.4 81.8h0M100.4 87.4h0M98.4 82.6h0M102.7 78.8h0M97.8 88.2h0M97.4 76.6h0M95.7 64.7h0M108.8 96.5h0M113.3 102.7h0M93.6 98.3h0M108.1 94.7h0M111.4 94.4h0M91.7 83.9h0M96.2 97.3h0M90.9 98.1h0M89.2 67.6h0M92.2 68.2h0M110.5 91.5h0M105.2 90.0h0M112.0 97.2h0M92.9 64.8h0M111.9 80.8h0M88.1 95.9h0M91.9 98.3h0M108.5 85.5h0M112.4 92.0h0M101.8 96.7h0M113.8 93.8h0M115.2 73.5h0M91.4 85.3h0M112.7 82.6h0M92.7 70.0h0M114.9 85.2h0M88.4 80.9h0M93.0 85.0h0M92.3 78.9h0M115.7 105.9h0M107.5 90.8h0M107.7 90.1h0M102.7 65.6h0M112.9 76.6h0M114.8 75.0h0M113.1 76.4h0M95.7 94.8h0M91.6 99.9h0M88.6 69.7h0M114.4 79.2h0M116.5 60.8h0M113.0 84.5h0M92.0 68.2h0M89.0 73.6h0M97.9 96.4h0M91.5 103.4h0M109.0 87.9h0M93.9 69.3h0M114.6 68.5h0M110.2 94.4h0M87.6 76.1h0M116.4 67.2h0M109.4 84.4h0M96.7 78.2h0M93.3 78.8h0M116.4 77.0h0M115.6 85.5h0M99.5 96.9h0M88.5 76.1h0M98.2 87.2h0M109.2 98.2h0M103.5 96.7h0M94.5 72.4h0M115.1 83.4h0M112.5 70.3h0M87.5 84.9h0M91.8 96.3h0M91.9 103.2h0M109.8 78.8h0M95.7 107.0h0M112.3 81.1h0M92.6 100.6h0M115.7 76.2h0M94.3 96.7h0M115.6 77.7h0M88.7 74.1h0M91.4 104.3h0M92.7 83.6h0M90.8 100.6h0M100.4 64.1h0M106.8 90.0h0M111.3 81.4h0M94.1 88.7h0M88.9 79.7h0M91.5 90.6h0M103.7 67.9h0M93.1 82.3h0M113.3 85.2h0M87.3 94.6h0M100.8 84.2h0M92.9 83.9h0M96.0 86.8h0M103.2 95.6h0M91.1 75.0h0M92.3 70.9h0M97.1 64.9h0M112.2 68.2h0M97.5 77.7h0M90.8 93.4h0M113.3 105.9h0M91.1 84.2h0M110.7 86.8h0M106.2 73.9h0M90.4 98.5h0M91.8 81.3h0M109.3 75.7h0M111.8 77.0h0M98.3 80.3h0M107.2 80.3h0M106.3 66.5h0M93.0 88.1h0M112.2 62.3h0M112.0 102.9h0M92.9 84.5h0M91.7 92.6h0M90.4 94.2h0M111.7 69.3h0M92.1 96.0h0M92.5 75.0h0M113.6 87.2h0M114.2 104.9h0M111.6 75.1h0M116.1 72.2h0M105.6 96.7h0M94.6 75.7h0M96.3 71.4h0M90.3 86.9h0M97.3 67.1h0M95.5 83.9h0M100.1 74.0h0M106.3 89.1h0M89.0 77.2h0M93.5 59.2h0M94.5 91.6h0M105.9 72.5h0M91.0 106.2h0M112.1 95.0h0M94.0 80.5h0M95.7 99.6h0M112.2 94.2h0M110.5 76.5h0M105.8 66.1h0M88.0 103.4h0M112.7 89.3h0M115.2 99.7h0M95.9 75.2h0M88.6 86.9h0M96.7 81.6h0M112.7 76.8h0M107.5 87.5h0M107.2 75.5h0M98.1 90.7h0M116.0 80.3h0M116.4 70.2h0M97.9 75.6h0M92.9 73.5h0M111.6 85.9h0M103.5 95.3h0M87.4 91.9h0M91.4 89.8h0M88.7 67.5h0M94.7 86.7h0M110.3 66.9h0M94.1 93.7h0M94.1 89.8h0M96.4 71.9h0M108.1 83.4h0M115.7 81.6h0M104.3 103.7h0M116.1 65.9h0M105.6 66.0h0M110.5 72.0h0M105.3 61.7h0M91.3 83.7h0M88.0 88.8h0M108.3 100.2h0M93.8 76.5h0M90.9 75.3h0M95.5 93.8h0M116.6 79.2h0M98.4 89.1h0M105.6 85.8h0M89.6 89.4h0M108.0 71.6h0M94.6 98.6h0M104.9 100.3h0M97.9 92.8h0M111.5 73.5h0M93.5 96.3h0M113.6 89.1h0M106.3 81.7h0M97.3 66.0h0M93.7 69.9h0M108.3 92.3h0M92.2 102.1h0M93.6 98.1h0M113.4 75.1h0M107.2 79.6h0M95.6 82.4h0M113.4 88.8h0M114.9 75.7h0M88.5 100.3h0M88.4 91.7h0M96.0 67.1h0M100.9 62.3h0M116.4 88.1h0M106.7 67.7h0M113.0 78.0h0M104.4 72.6h0M105.9 75.5h0M103.5 91.7h0M89.1 95.5h0M89.1 90.1h0M95.2 91.9h0M115.1 91.4h0M113.7 97.7h0M88.1 71.7h0M95.5 76.4h0M106.7 87.9h0M89.6 86.8h0M101.0 67.6h0M109.3 91.1h0M115.6 99.2h0M97.4 65.4h0M102.5 84.2h0M88.0 90.8h0M94.0 88.0h0M112.6 77.4h0M111.4 90.4h0M96.9 74.4h0M109.6 105.0h0M115.4 81.6h0M113.8 83.8h0M112.5 92.7h0M89.6 96.5h0M87.3 77.4h0M96.1 72.7h0M99.2 90.8h0M112.8 103.5h0M115.4 82.0h0M91.3 75.5h0M89.4 83.7h0M107.7 77.7h0M112.7 87.1h0M90.0 96.1h0M89.2 79.0h0M105.3 95.7h0M109.6 70.1h0M88.0 84.8h0M114.3 65.6h0M97.5 80.4h0M96.3 83.6h0M103.2 74.2h0M114.3 95.7h0M95.4 92.1h0M92.8 77.9h0M108.3 60.5h0M116.4 83.7h0M112.7 63.5h0M101.4 82.0h0M97.4 72.9h0M98.4 71.5h0M96.0 90.5h0M94.3 95.7h0M93.6 73.6h0M107.4 63.2h0M91.6 78.7h0M93.5 70.0h0M90.3 81.1h0M112.8 87.5h0M87.0 78.5h0M103.0 76.2h0M109.6 85.4h0M92.6 90.5h0M96.2 86.7h0M95.8 97.7h0M109.5 102.4h0M98.8 67.2h0M93.3 86.9h0M88.8 77.0h0M90.4 103.6h0M91.3 84.6h0M93.9 67.1h0M87.8 85.9h0M115.9 81.2h0M93.1 96.9h0M110.6 103.1h0M100.3 93.1h0M90.8 65.4h0M92.6 89.0h0M91.5 95.4h0M106.4 63.5h0M104.9 92.3h0M89.7 73.7h0M90.8 81.0h0M98.3 69.0h0M97.8 73.5h0M96.5 65.0h0M95.5 68.7h0M108.3 86.0h0M113.0 87.6h0M93.0 67.4h0M89.9 100.3h0M95.8 105.3h0M106.8 87.7h0M94.9 71.1h0M93.5 96.5h0M95.1 75.7h0M99.1 69.3h0M99.3 65.6h0M98.4 89.6h0M113.5 101.8h0M108.7 75.3h0M88.7 97.7h0M96.7 75.7h0M87.4 94.2h0M94.4 87.7h0M104.0 81.7h0M97.4 71.7h0M91.5 68.7h0M100.0 93.3h0M107.6 65.1h0M113.2 75.0h0M91.7 70.2h0M90.6 79.8h0M94.5 88.3h0M110.1 83.4h0M101.6 95.6h0M107.5 93.3h0M94.2 66.8h0M96.9 83.0h0M87.9 102.6h0M110.6 61.7h0M104.7 88.2h0M91.6 93.9h0M110.3 94.7h0M109.9 75.5h0M94.7 65.0h0M108.5 68.3h0M98.4 91.9h0M112.6 68.9h0M108.0 78.5h0M91.0 96.8h0M104.9 81.8h0M89.5 68.3h0M111.2 77.6h0M111.2 71.3h0M98.4 89.1h0M114.0 92.1h0M110.6 72.2h0M88.0 59.3h0M100.2 93.6h0M97.0 83.2h0M91.6 94.4h0M106.0 68.4h0M103.4 98.6h0M110.1 104.9h0M93.7 80.1h0M88.3 92.2h0M109.5 78.1h0M114.5 60.9h0M109.1 82.9h0M95.9 77.2h0M94.2 81.8h0M111.2 89.3h0M94.3 95.2h0M89.6 66.8h0M112.5 69.2h0M103.5 72.0h0M111.4 88.4h0M93.6 100.2h0M95.3 92.1h0M113.8 80.8h0M112.3 74.3h0M114.4 88.8h0M97.1 71.7h0M93.4 90.3h0M93.3 67.5h0M103.4 65.0h0M94.5 81.1h0M90.0 81.2h0M109.5 92.0h0M110.6 83.9h0M97.6 88.5h0M92.2 95.4h0M113.2 87.5h0M94.9 81.1h0M108.6 82.4h0M96.4 84.0h0M98.1 70.3h0M93.6 81.8h0M111.9 87.9h0M88.2 83.7h0M108.8 74.8h0M95.8 73.6h0M91.4 102.8h0M109.1 97.1h0M113.0 90.5h0M106.2 90.9h0M87.1 69.9h0M90.9 78.3h0M100.1 92.0h0M107.5 101.2h0M90.8 100.0h0M91.0 101.5h0M110.8 100.8h0M88.6 92.1h0M110.4 86.6h0M110.0 70.4h0M107.4 92.2h0M109.5 67.1h0M87.5 96.8h0M105.1 101.3h0M87.1 77.3h0M103.1 65.9h0M90.0 96.4h0M106.9 99.5h0M97.8 78.5h0M112.2 92.1h0M115.0 79.6h0M98.6 82.9h0M91.1 86.1h0M97.6 75.4h0M97.3 77.9h0M105.0 75.3h0M100.4 93.8h0M111.4 93.7h0M110.4 95.0h0M87.0 73.6h0M112.3 94.8h0M111.3 79.7h0M96.5 65.1h0M89.7 95.7h0M89.0 64.1h0M99.7 71.3h0M96.6 99.9h0M107.8 66.8h0M105.5 87.4h0M105.2 75.4h0M96.2 79.5h0M116.2 81.9h0M105.0 63.9h0M89.2 89.0h0M96.1 85.6h0M99.3 92.1h0M87.8 81.1h0M96.8 103.6h0M88.4 73.7h0M92.2 85.7h0M101.9 93.1h0M106.4 85.6h0M97.3 87.5h0M112.3 91.4h0M91.9 98.3h0M97.3 74.6h0M96.0 93.8h0M101.4 61.4h0M90.7 74.6h0M111.1 106.2h0M89.7 68.5h0M107.8 98.2h0M112.5 92.5h0M115.3 63.9h0M108.3 73.8h0M88.6 105.2h0M109.5 83.8h0M112.5 66.3h0M91.5 90.3h0M114.1 85.3h0M98.8 73.6h0M113.1 75.2h0M110.5 78.8h0M87.1 106.6h0M115.1 87.8h0M100.1 104.1h0M109.7 99.8h0M95.1 99.1h0M87.5 77.0h0M95.3 79.1h0M107.0 95.6h0M114.4 102.8h0M87.9 66.1h0M97.1 69.7h0M106.3 92.1h0M99.8 98.2h0M93.0 81.0h0M106.5 102.4h0M101.9 74.6h0M89.8 95.6h0M110.5 98.8h0M111.9 90.2h0M107.0 89.2h0M94.9 82.0h0M98.5 103.5h0M113.6 67.0h0M96.0 89.5h0M110.5 66.4h0M93.5 99.9h0M87.0 65.3h0M108.9 88.7h0M88.7 79.7h0M113.0 66.4h0M95.9 71.1h0M95.5 70.6h0M93.8 73.9h0M111.3 98.0h0M88.1 80.3h0M115.1 85.7h0M90.3 89.2h0M109.0 91.7h0M114.3 76.1h0M113.5 73.9h0M111.9 85.6h0M110.5 102.6h0M95.6 87.9h0M92.6 87.0h0M112.0 80.2h0M87.2 84.3h0M113.2 77.1h0M106.1 70.1h0M90.2 85.6h0M112.0 82.5h0M95.9 100.7h0M109.7 90.7h0M90.9 89.6h0M116.4 80.8h0M114.9 70.6h0M105.9 91.1h0M114.6 93.7h0M106.6 80.8h0M107.1 69.3h0M106.5 90.2h0M116.3 71.5h0M87.8 105.4h0M111.3 95.7h0M90.2 92.8h0M93.9 102.0h0M90.9 91.1h0M108.5 88.7h0M109.6 95.8h0M92.2 67.8h0M90.1 106.8h0M94.6 70.7h0M111.3 80.2h0M101.3 78.9h0M96.3 96.0h0M97.0 67.9h0M96.7 90.3h0M88.7 84.7h0M92.7 64.7h0M95.4 104.0h0M89.1 62.3h0M98.0 79.3h0M105.2 101.0h0M105.0 84.3h0M87.2 84.1h0M88.5 80.5h0M114.6 73.2h0M94.2 91.8h0M107.2 74.1h0M112.2 99.0h0M97.7 101.1h0M114.8 68.9h0M113.2 93.8h0M113.1 94.6h0M96.1 76.0h0M106.6 88.7h0M109.5 88.9h0M114.0 66.0h0M90.7 65.8h0M114.2 98.4h0M107.0 97.1h0M115.5 71.6h0M107.9 100.2h0M109.9 95.5h0M92.8 75.7h0M98.4 93.3h0M104.3 74.9h0M96.0 103.7h0M108.0 74.8h0M95.4 91.0h0M115.4 91.4h0M109.3 69.2h0M97.7 79.5h0M91.0 91.1h0M87.1 70.7h0M110.2 81.7h0M110.0 106.6h0M97.9 93.8h0M112.9 93.9h0M106.2 98.4h0M100.6 62.0h0M91.6 89.2h0M115.5 96.0h0M113.3 104.6h0M111.1 75.8h0M104.9 102.4h0M106.7 88.5h0M95.8 101.0h0M91.0 70.9h0M88.4 93.3h0M91.5 87.0h0M89.4 102.4h0M105.7 63.1h0M115.0 74.2h0M88.4 66.7h0M116.0 79.4h0M111.4 94.4h0M97.4 99.2h0M105.1 89.2h0M110.4 77.8h0M94.0 101.0h0M116.3 95.2h0M109.5 69.8h0M97.8 104.6h0M95.2 100.4h0M90.6 78.4h0M109.7 71.1h0M107.6 97.8h0M97.3 90.8h0M107.3 65.0h0M97.6 94.6h0M91.9 71.4h0M97.6 73.1h0M115.4 102.1h0M107.6 74.9h0M93.8 71.5h0M113.5 73.1h0M103.0 82.2h0M96.0 91.9h0M115.7 83.9h0M97.1 63.8h0M95.9 67.1h0M93.9 63.4h0M89.2 64.0h0M87.3 98.1h0M89.5 74.4h0M98.8 85.3h0M108.5 92.7h0M89.7 67.0h0M112.6 63.9h0M93.3 78.4h0M112.4 66.4h0M87.9 85.0h0M112.7 96.1h0M101.3 88.2h0M111.5 79.2h0M94.9 85.1h0M113.1 96.1h0M111.0 86.3h0M109.5 91.5h0M112.6 71.3h0M108.9 79.4h0M97.6 71.0h0M92.8 83.8h0M115.5 93.3h0M114.0 81.2h0M105.9 93.2h0M115.5 92.6h0M107.3 73.2h0M108.4 86.7h0M111.4 65.2h0M110.5 98.7h0M106.8 86.1h0M102.8 95.2h0M112.8 84.0h0M91.5 102.7h0M88.0 74.3h0M97.4 90.5h0M113.2 90.6h0M107.0 72.7h0M102.8 88.4h0M108.8 89.4h0M90.0 94.6h0M106.6 82.8h0M91.3 101.6h0M95.2 99.4h0M88.7 89.4h0M110.7 90.1h0M93.3 64.3h0M101.5 87.0h0M111.5 88.9h0M105.9 99.4h0M88.9 80.6h0M115.8 82.4h0M93.5 86.6h0M106.4 95.1h0M88.7 97.9h0M96.5 100.5h0M112.0 94.2h0M88.1 79.8h0M108.7 61.6h0M110.5 74.0h0M105.9 79.0h0M90.0 98.7h0M93.7 62.7h0M89.2 98.0h0M96.1 64.3h0M88.1 91.2h0M105.1 94.3h0M110.0 93.6h0M96.3 69.3h0M108.7 71.7h0M108.2 84.0h0M108.5 78.9h0M87.3 81.6h0M89.3 98.7h0M99.3 80.0h0M96.5 78.1h0M112.0 65.3h0M107.0 100.9h0M105.9 98.0h0M94.6 65.1h0M111.3 95.1h0M107.0 95.1h0M87.7 68.3h0M107.3 93.8h0M111.4 74.8h0M112.7 97.2h0M104.0 91.9h0M90.4 63.5h0M102.3 90.2h0M113.2 71.8h0M104.3 88.9h0M90.0 84.6h0M111.6 95.8h0M114.4 74.7h0M115.2 73.6h0M89.6 80.4h0M97.9 98.1h0M93.8 94.5h0M114.5 91.7h0M93.7 75.6h0M113.7 92.5h0M92.4 87.7h0M90.6 104.8h0M110.6 96.0h0M89.6 84.5h0M93.4 95.6h0M114.6 67.2h0M102.1 69.0h0M111.9 67.9h0M99.4 85.4h0M110.0 92.1h0M96.8 92.4h0M91.1 82.8h0M113.5 76.3h0M106.4 93.7h0M111.2 82.5h0M98.6 91.3h0M95.9 92.4h0M90.9 73.7h0M107.5 95.1h0M88.5 83.9h0M97.3 78.8h0M90.0 81.0h0M108.3 77.5h0M111.8 65.0h0M97.3 90.0h0M101.6 74.0h0M116.4 75.6h0M107.2 95.3h0M111.2 103.9h0M93.7 69.9h0M95.5 76.2h0M95.9 105.6h0M105.2 81.1h0M107.9 90.7h0M106.6 97.2h0M111.4 101.1h0M109.9 94.1h0M96.3 84.7h0M101.9 96.0h0M97.3 90.6h0M114.8 96.0h0M110.8 94.8h0M108.9 68.6h0M101.5 104.9h0M97.4 75.2h0M95.2 92.6h0M115.2 75.6h0M95.4 93.1h0M113.9 93.9h0M105.8 78.4h0M97.1 70.8h0M93.2 81.5h0M89.7 98.8h0M91.1 68.9h0M108.1 71.2h0M96.5 95.0h0M89.1 99.3h0M109.1 80.4h0M112.8 96.1h0M99.7 103.1h0M115.6 95.6h0M113.4 76.6h0M111.7 102.4h0M110.1 88.7h0M96.1 72.1h0M106.6 80.5h0M93.0 99.9h0M91.0 89.4h0M115.5 90.3h0M113.7 99.6h0M108.0 92.5h0M108.9 69.1h0M102.7 83.6h0M112.8 92.5h0M94.3 81.6h0M111.5 74.7h0M88.2 83.5h0M95.5 75.8h0M98.8 65.9h0M109.7 99.6h0M92.7 78.1h0M93.6 91.1h0M110.9 71.7h0M107.6 103.7h0M94.9 78.4h0M107.3 99.9h0M109.5 86.9h0M109.5 69.3h0M112.0 64.4h0M110.3 81.4h0M95.4 75.8h0M97.1 81.6h0M87.3 81.4h0M97.3 83.4h0M92.3 88.5h0M109.7 96.8h0M99.9 103.3h0M102.6 103.9h0M102.7 84.7h0M112.0 93.6h0M111.6 93.3h0M114.5 91.3h0M96.4 78.8h0M91.3 89.5h0M91.7 78.7h0M95.9 83.1h0M115.3 94.4h0M114.6 89.8h0M89.4 66.7h0M99.2 60.7h0M115.4 93.2h0M96.6 97.8h0M115.9 66.1h0M94.1 106.5h0M109.7 83.2h0M110.7 72.7h0M97.1 89.1h0M105.3 72.2h0M101.3 103.5h0M115.2 63.2h0M115.5 99.1h0M108.6 67.5h0M92.1 75.4h0M99.7 102.6h0M94.8 88.9h0M96.6 67.8h0M92.5 64.7h0M92.3 100.1h0M105.8 69.5h0M106.2 93.7h0M113.0 101.7h0M105.2 84.4h0M107.1 81.7h0M108.5 59.9h0M96.7 60.1h0M113.1 66.7h0M108.2 87.6h0M112.1 97.9h0M101.3 64.7h0M95.9 93.0h0M90.8 67.0h0M106.5 88.2h0M110.7 83.2h0M90.6 80.9h0M97.8 70.5h0M114.5 75.3h0M106.3 81.1h0M109.9 91.5h0M116.1 102.3h0M89.2 101.5h0M106.7 87.1h0M107.6 89.5h0M91.1 96.9h0M88.4 81.2h0M105.5 83.8h0M112.6 84.3h0M97.7 87.0h0M109.5 95.0h0M116.2 70.2h0M115.8 101.8h0M116.2 79.7h0M110.0 73.9h0M101.6 105.8h0M108.2 75.8h0M113.2 72.3h0M108.7 82.4h0M104.8 96.4h0M102.7 84.1h0M114.3 101.7h0M90.4 81.2h0M102.3 94.0h0M115.9 84.8h0M107.0 71.5h0M107.3 100.3h0M113.5 97.2h0M111.2 77.0h0M114.8 102.2h0M91.4 83.4h0M110.3 73.9h0M89.6 90.5h0M94.8 55.4h0M107.4 55.4h0M91.0 58.2h0M100.9 61.1h0M103.8 60.0h0M101.8 55.5h0M89.7 54.2h0M109.1 58.5h0M89.8 56.1h0M99.8 53.7h0M100.9 56.6h0M97.0 60.2h0M99.1 59.6h0M102.0 59.4h0M108.5 54.8h0M107.1 59.1h0M88.6 55.6h0M98.8 53.9h0M90.6 56.6h0M112.4 58.9h0M98.6 59.3h0M87.5 54.0h0M98.4 109.9h0M86.1 109.9h0M101.2 109.9h0M95.5 109.4h0M100.3 109.5h0M96.3 109.3h0M86.9 109.2h0M90.5 109.4h0M111.9 109.7h0M103.4 109.3h0M95.8 110.0h0M113.7 109.9h0M97.2 109.7h0M93.8 109.7h0M102.5 109.7h0M87.7 109.4h0M94.8 109.6h0M95.6 109.5h0M101.4 109.7h0M97.1 109.5h0M103.7 109.7h0M108.9 109.7h0M89.7 109.5h0M105.8 109.8h0M114.1 109.8h0M104.6 109.7h0M94.3 109.7h0M97.3 109.5h0M92.9 110.0h0M116.0 109.4h0M101.9 109.3h0M111.7 109.4h0M112.4 109.4h0M101.9 109.8h0M104.5 109.9h0M108.8 109.6h0M98.1 109.5h0M100.1 109.9h0M86.9 109.4h0M107.7 109.3h0M110.8 109.5h0M113.4 109.4h0M109.9 109.9h0M96.1 109.7h0M110.0 110.0h0M103.8 109.9h0M113.6 110.0h0M92.4 109.6h0M105.1 109.7h0M89.2 109.7h0M114.5 109.6h0M91.6 109.4h0M114.2 109.5h0M88.6 109.4h0M103.7 109.3h0M101.2 109.6h0M106.6 109.4h0M91.8 109.6h0M91.6 109.6h0M98.2 109.9h0M91.7 109.6h0M94.6 109.3h0M90.2 109.6h0M102.1 109.7h0M107.1 109.3h0M116.1 110.0h0M94.1 109.3h0M110.6 109.3h0M105.9 109.4h0M115.9 109.3h0M101.2 109.3h0M90.0 109.8h0M110.4 109.3h0M116.8 109.3h0M95.2 109.4h0M93.9 109.7h0M86.4 109.8h0M111.3 110.0h0M106.1 109.3h0M94.9 109.3h0M114.9 109.7h0M108.2 109.8h0M109.3 110.0h0M91.7 109.5h0M100.7 109.7h0M101.5 109.4h0M95.8 109.7h0M88.4 109.9h0M88.7 109.5h0M113.1 109.3h0M102.1 109.4h0M89.5 109.7h0M113.9 109.5h0M114.4 109.5h0M107.0 109.9h0M91.5 109.8h0M94.7 109.5h0M90.5 109.9h0M95.0 109.5h0M112.2 109.5h0M103.9 109.7h0M110.4 109.6h0M113.4 109.4h0M116.8 109.2h0M111.2 109.6h0M113.2 109.3h0M88.8 109.8h0M98.8 109.4h0M112.2 109.7h0M92.5 109.7h0M104.6 109.2h0M102.2 109.7h0M91.8 109.9h0M97.6 109.6h0M95.8 109.5h0M116.4 109.5h0M100.5 109.4h0M98.6 109.4h0M115.8 109.9h0M90.5 109.8h0M113.7 109.7h0M115.1 109.4h0M114.3 109.8h0M107.1 109.6h0M108.5 110.0h0M91.5 109.2h0M105.7 109.3h0M113.9 109.9h0M116.9 109.3h0M99.3 109.3h0M107.8 109.3h0M89.4 109.4h0M91.0 109.9h0M114.5 109.8h0M107.7 109.5h0M92.3 109.4h0M88.5 109.3h0M94.8 109.6h0M88.2 109.7h0M101.5 109.4h0M88.4 109.5h0M112.4 109.8h0M108.0 109.4h0M91.3 109.8h0M88.7 109.6h0M97.1 109.4h0M87.6 109.4h0M103.7 109.6h0M111.2 109.7h0M115.8 109.4h0M95.4 109.5h0M90.5 109.4h0M101.5 109.5h0M95.0 109.8h0M108.6 109.9h0M102.9 109.7h0M104.5 109.9h0M96.2 109.9h0M101.7 109.8h0M110.3 109.4h0M104.4 109.6h0M91.1 109.5h0M115.6 109.5h0M90.1 109.7h0M100.7 109.7h0M90.0 109.6h0M99.9 109.7h0M100.7 109.6h0M116.7 109.3h0M87.6 109.5h0M89.7 109.2h0M109.2 109.9h0M86.2 109.3h0M92.6 109.5h0M116.7 109.3h0M98.1 109.6h0M92.2 109.5h0M107.8 109.7h0M110.7 109.8h0M96.4 109.3h0M86.5 109.7h0M110.7 109.8h0M104.7 109.5h0M87.5 109.6h0M89.5 109.4h0M109.7 109.7h0M113.7 109.9h0M108.4 109.9h0M90.7 109.8h0M105.6 109.6h0M89.8 109.6h0M114.1 109.8h0M114.8 109.8h0M88.0 109.5h0M112.2 109.8h0M101.2 109.6h0M98.2 109.5h0M97.0 109.6h0M104.3 109.3h0M91.2 109.7h0M103.8 109.6h0M102.1 109.5h0M116.9 109.4h0M102.5 109.4h0M104.7 109.4h0M99.1 109.2h0M96.5 109.6h0M105.1 109.8h0M87.6 109.5h0M93.5 109.6h0M114.1 109.9h0M108.4 109.9h0M101.5 109.7h0M90.2 109.8h0M94.2 109.6h0M93.2 109.6h0M98.3 109.9h0M102.2 109.8h0M94.0 109.6h0M102.4 109.4h0M98.8 109.2h0M90.7 109.5h0M107.1 109.7h0M108.1 109.3h0M92.8 109.9h0M90.2 109.3h0M103.2 109.6h0M113.1 109.9h0M104.1 109.6h0M99.8 110.0h0M89.4 109.6h0M109.7 109.7h0M89.0 109.8h0M114.8 109.8h0M91.3 109.9h0M90.5 109.2h0M107.7 109.8h0M110.2 109.6h0M88.2 109.2h0M106.0 109.8h0M96.7 109.8h0M97.7 109.6h0M107.3 109.8h0M106.1 109.3h0M107.4 109.8h0M109.3 109.7h0M104.4 109.4h0M116.9 110.0h0M94.0 109.7h0M109.3 109.6h0" stroke="#000" stroke-width="0.8" stroke-linecap="round" opacity="1"/>
<line x1="101.7" y1="53" x2="101.7" y2="64" stroke="#444" stroke-width="0.5"/>
<text x="66.3" y="121" font-size="7.8" font-weight="bold" fill="#000" text-anchor="end" textLength="46" lengthAdjust="spacingAndGlyphs" transform="rotate(-45 66.3 121)">HPV-HNSCC</text>
<text x="103.3" y="121.5" font-size="7.8" font-weight="bold" fill="#000" text-anchor="end" textLength="48" lengthAdjust="spacingAndGlyphs" transform="rotate(-45 103.3 121.5)">HPV+HNSCC</text>
<text x="278" y="22.8" font-size="8.6" font-weight="bold" fill="#000" text-anchor="middle" textLength="26" lengthAdjust="spacingAndGlyphs">CCL20</text>
<path d="M207.7,41.9C208.0,41.0 209.7,39.7 210.7,38.8C211.7,38.0 212.8,37.5 213.8,36.8C214.8,36.1 216.0,35.6 216.9,34.7C217.7,33.9 218.2,32.4 218.9,31.7C219.6,30.9 220.3,30.4 220.9,30.2C221.6,30.1 222.4,30.1 223.0,30.7C223.6,31.2 223.9,32.8 224.4,33.7C224.9,34.7 225.1,35.7 226.1,36.4C227.0,37.1 229.1,37.3 230.1,37.8C231.2,38.3 232.2,38.7 232.2,39.2C232.2,39.8 231.2,40.4 230.1,40.9C229.1,41.3 227.2,41.6 226.1,41.9C224.9,42.2 223.7,42.2 223.0,42.9C222.3,43.6 222.5,45.1 222.0,46.0C221.5,46.8 220.6,47.9 219.9,48.0C219.2,48.2 218.6,47.5 217.9,47.0C217.2,46.5 216.9,45.5 215.8,45.0C214.8,44.5 212.9,44.1 211.7,43.9C210.6,43.8 209.4,44.3 208.7,43.9C208.0,43.6 207.3,42.7 207.7,41.9Z" fill="#d8d8d8"/>
<clipPath id="ub0"><path d="M207.7,41.9C208.0,41.0 209.7,39.7 210.7,38.8C211.7,38.0 212.8,37.5 213.8,36.8C214.8,36.1 216.0,35.6 216.9,34.7C217.7,33.9 218.2,32.4 218.9,31.7C219.6,30.9 220.3,30.4 220.9,30.2C221.6,30.1 222.4,30.1 223.0,30.7C223.6,31.2 223.9,32.8 224.4,33.7C224.9,34.7 225.1,35.7 226.1,36.4C227.0,37.1 229.1,37.3 230.1,37.8C231.2,38.3 232.2,38.7 232.2,39.2C232.2,39.8 231.2,40.4 230.1,40.9C229.1,41.3 227.2,41.6 226.1,41.9C224.9,42.2 223.7,42.2 223.0,42.9C222.3,43.6 222.5,45.1 222.0,46.0C221.5,46.8 220.6,47.9 219.9,48.0C219.2,48.2 218.6,47.5 217.9,47.0C217.2,46.5 216.9,45.5 215.8,45.0C214.8,44.5 212.9,44.1 211.7,43.9C210.6,43.8 209.4,44.3 208.7,43.9C208.0,43.6 207.3,42.7 207.7,41.9Z"/></clipPath>
<g clip-path="url(#ub0)">
<path d="M214.8 36.5h0M211.5 44.5h0M220.4 48.0h0M212.9 47.7h0M223.6 40.0h0M210.3 31.4h0M219.9 32.4h0M223.2 34.4h0M230.3 41.8h0M208.9 45.6h0M224.4 34.1h0M216.8 42.2h0M229.6 37.3h0M227.5 47.0h0M231.0 41.3h0M227.8 31.6h0M225.1 45.4h0M216.2 45.3h0M216.2 45.1h0M215.8 40.1h0M222.9 32.4h0M209.7 36.5h0M218.2 41.6h0M231.2 47.0h0M210.8 42.8h0M210.5 31.4h0M210.1 46.2h0M225.0 39.5h0M221.8 41.4h0M210.2 38.7h0M229.9 30.8h0M225.1 31.5h0M220.8 33.4h0M209.5 31.4h0M218.1 47.5h0M211.2 38.1h0M215.2 36.7h0M213.0 37.3h0M231.7 32.7h0M228.0 44.4h0M218.9 42.5h0M221.2 47.9h0M209.0 43.7h0M227.8 41.9h0M231.5 31.2h0M222.7 43.5h0M209.4 39.8h0M227.7 42.2h0M217.0 44.8h0M230.1 34.3h0M213.8 44.9h0M226.2 37.9h0M232.0 47.6h0M222.3 37.0h0M209.8 30.5h0M217.3 37.9h0M209.7 34.2h0M228.9 43.5h0M216.5 32.1h0M230.5 46.3h0M226.4 42.4h0M224.4 35.1h0M221.3 30.3h0M215.5 33.5h0M210.4 43.1h0M218.5 35.9h0M226.8 41.6h0M224.2 46.3h0M212.2 38.2h0M209.4 43.3h0" stroke="#6a5ac4" stroke-width="0.8" stroke-linecap="round" opacity="0.72"/>
</g>
<path d="M248.5,40.9C248.9,40.0 249.7,39.0 250.6,38.4C251.4,37.8 252.6,37.2 253.6,37.2C254.7,37.2 256.0,37.6 256.7,38.4C257.4,39.2 257.8,40.7 257.7,41.9C257.7,43.1 257.0,44.6 256.3,45.4C255.6,46.2 254.6,46.5 253.6,46.6C252.7,46.7 251.4,46.4 250.6,46.0C249.7,45.5 248.9,44.8 248.5,43.9C248.2,43.1 248.2,41.8 248.5,40.9Z" fill="#d8d8d8"/>
<path d="M170.9,65.4C171.0,64.4 173.1,62.7 173.9,61.3C174.8,59.9 175.0,58.2 176.0,57.2C177.0,56.3 178.7,55.6 180.1,55.6C181.4,55.6 183.2,56.3 184.2,57.2C185.1,58.2 185.6,59.9 185.6,61.3C185.6,62.7 184.7,64.2 184.2,65.4C183.6,66.6 183.0,67.8 182.1,68.5C181.3,69.1 180.1,69.7 179.0,69.5C178.0,69.3 177.0,67.8 176.0,67.4C175.0,67.1 173.8,67.8 172.9,67.4C172.1,67.1 170.7,66.4 170.9,65.4Z" fill="#d8d8d8"/>
<clipPath id="ub1"><path d="M170.9,65.4C171.0,64.4 173.1,62.7 173.9,61.3C174.8,59.9 175.0,58.2 176.0,57.2C177.0,56.3 178.7,55.6 180.1,55.6C181.4,55.6 183.2,56.3 184.2,57.2C185.1,58.2 185.6,59.9 185.6,61.3C185.6,62.7 184.7,64.2 184.2,65.4C183.6,66.6 183.0,67.8 182.1,68.5C181.3,69.1 180.1,69.7 179.0,69.5C178.0,69.3 177.0,67.8 176.0,67.4C175.0,67.1 173.8,67.8 172.9,67.4C172.1,67.1 170.7,66.4 170.9,65.4Z"/></clipPath>
<g clip-path="url(#ub1)">
<path d="M181.9 56.0h0M175.9 56.6h0M182.9 64.0h0M174.5 65.3h0M184.6 67.8h0M176.6 55.9h0M176.3 59.3h0M181.3 60.2h0M183.3 59.5h0M184.0 68.5h0M178.9 56.1h0M182.5 67.5h0M172.8 65.7h0M172.2 60.0h0M175.1 57.8h0M180.3 69.3h0M178.3 68.7h0M174.8 57.4h0M175.0 67.0h0M175.7 60.4h0M183.7 64.0h0M176.7 67.7h0M173.0 58.4h0M180.0 62.4h0M180.9 66.9h0" stroke="#6a5ac4" stroke-width="0.8" stroke-linecap="round" opacity="0.72"/>
</g>
<path d="M178.0,81.7C178.2,80.9 179.9,79.0 181.1,77.7C182.3,76.3 183.6,74.8 185.2,73.6C186.7,72.4 188.9,71.9 190.3,70.5C191.7,69.1 192.5,66.9 193.4,65.4C194.2,63.9 194.4,62.3 195.4,61.3C196.4,60.3 198.1,59.4 199.5,59.3C200.8,59.1 202.6,59.3 203.6,60.3C204.5,61.3 205.0,63.5 205.2,65.4C205.4,67.3 205.2,69.8 204.6,71.5C204.0,73.2 202.2,74.1 201.5,75.6C200.8,77.2 200.8,79.0 200.5,80.7C200.2,82.4 200.2,84.8 199.5,85.8C198.8,86.9 197.4,87.2 196.4,86.9C195.4,86.5 194.5,84.5 193.4,83.8C192.2,83.1 190.8,82.8 189.3,82.8C187.7,82.7 185.7,83.4 184.2,83.4C182.6,83.4 181.1,83.0 180.1,82.8C179.0,82.5 177.9,82.6 178.0,81.7Z" fill="#d8d8d8"/>
<clipPath id="ub2"><path d="M178.0,81.7C178.2,80.9 179.9,79.0 181.1,77.7C182.3,76.3 183.6,74.8 185.2,73.6C186.7,72.4 188.9,71.9 190.3,70.5C191.7,69.1 192.5,66.9 193.4,65.4C194.2,63.9 194.4,62.3 195.4,61.3C196.4,60.3 198.1,59.4 199.5,59.3C200.8,59.1 202.6,59.3 203.6,60.3C204.5,61.3 205.0,63.5 205.2,65.4C205.4,67.3 205.2,69.8 204.6,71.5C204.0,73.2 202.2,74.1 201.5,75.6C200.8,77.2 200.8,79.0 200.5,80.7C200.2,82.4 200.2,84.8 199.5,85.8C198.8,86.9 197.4,87.2 196.4,86.9C195.4,86.5 194.5,84.5 193.4,83.8C192.2,83.1 190.8,82.8 189.3,82.8C187.7,82.7 185.7,83.4 184.2,83.4C182.6,83.4 181.1,83.0 180.1,82.8C179.0,82.5 177.9,82.6 178.0,81.7Z"/></clipPath>
<g clip-path="url(#ub2)">
<path d="M196.6 64.1h0M197.7 65.8h0M180.6 67.5h0M188.5 73.2h0M181.2 76.8h0M188.4 86.6h0M191.1 82.2h0M200.0 76.0h0M196.1 61.6h0M202.7 86.0h0M203.0 61.5h0M183.9 68.0h0M182.8 66.3h0M180.7 75.4h0M201.7 68.5h0M200.7 83.2h0M193.6 83.1h0M184.9 76.1h0M195.5 59.4h0M204.9 66.5h0M192.1 81.1h0M191.0 62.7h0M204.9 83.2h0M191.4 68.2h0M178.2 67.9h0M204.7 80.1h0M182.0 77.2h0M180.4 72.8h0M203.9 60.0h0M191.7 86.0h0M180.7 71.7h0M199.8 82.5h0M192.6 75.2h0M192.7 77.8h0M204.6 77.5h0M184.1 65.7h0M191.4 77.7h0M199.6 66.8h0M183.2 61.7h0M198.7 60.1h0M178.3 71.4h0M200.0 86.3h0M185.3 69.0h0M181.0 62.9h0M183.4 81.2h0M197.3 78.6h0M199.1 64.8h0M204.4 73.9h0M185.2 81.5h0M184.8 59.7h0M198.7 62.8h0M205.0 82.5h0M187.1 85.9h0M194.1 74.3h0M185.7 84.1h0M194.7 67.3h0M186.5 67.5h0M187.0 85.1h0M193.7 76.6h0M198.2 61.0h0M194.4 80.9h0M180.2 85.0h0M191.4 59.7h0M204.5 70.5h0M200.5 86.3h0M178.9 66.8h0M191.4 67.5h0M197.4 69.3h0M191.0 70.6h0M199.2 74.2h0M188.5 83.3h0M190.0 86.7h0M181.6 61.8h0M197.0 83.8h0M179.4 68.7h0M197.8 79.2h0M193.1 78.2h0M201.7 75.2h0M188.3 65.0h0M187.1 81.8h0M201.3 69.3h0M184.4 86.3h0M179.5 70.0h0M189.1 78.5h0M179.1 78.1h0M179.1 65.0h0M190.0 80.4h0M183.3 77.3h0M178.7 63.6h0M186.4 61.4h0M200.0 75.1h0M200.6 72.2h0M193.2 60.1h0M203.4 67.9h0M195.5 82.7h0M189.1 68.8h0M198.8 81.5h0M202.8 70.4h0M187.2 73.2h0M194.2 77.8h0M200.6 76.6h0M184.9 80.6h0M199.1 82.4h0M180.7 70.3h0M201.2 70.1h0M182.4 60.3h0M197.2 60.1h0M187.4 71.9h0M182.7 71.9h0M198.0 61.3h0M186.8 77.7h0M194.9 74.8h0M185.7 69.1h0M203.4 72.6h0M185.9 72.3h0M181.2 75.0h0M203.6 77.2h0M178.1 82.5h0M183.4 60.3h0M185.6 74.0h0M178.1 86.6h0M189.1 59.5h0M196.6 86.2h0M178.7 63.7h0M181.2 69.3h0M188.4 60.1h0M204.2 80.4h0M185.7 76.6h0M191.0 81.4h0M184.6 85.6h0M197.9 76.5h0M193.4 77.2h0M178.6 83.8h0M191.3 64.7h0M187.8 79.2h0M199.4 65.2h0M188.5 86.5h0M179.8 70.1h0M204.0 79.2h0M192.1 71.7h0M179.9 80.0h0M187.3 61.3h0M204.3 61.7h0M190.8 78.4h0M192.8 70.2h0M198.1 66.0h0M197.1 70.8h0M204.3 82.8h0M184.1 83.9h0M190.1 68.7h0M182.0 64.1h0M179.0 65.4h0M188.6 78.1h0M202.6 78.3h0M204.2 85.3h0M201.6 67.2h0M179.2 75.6h0M188.0 86.3h0M178.7 85.4h0M185.7 78.0h0M197.8 72.5h0M199.0 82.5h0M181.4 81.8h0M204.8 82.0h0M194.1 75.8h0M180.7 74.7h0M186.1 65.7h0M203.3 66.4h0M183.4 83.0h0M192.6 83.5h0M182.8 84.2h0M189.4 83.7h0M194.6 68.7h0M187.7 62.3h0M193.1 61.3h0M202.6 66.4h0M186.7 69.9h0M191.0 84.8h0M180.1 69.0h0M192.8 73.5h0M201.8 74.2h0M196.2 77.7h0M188.2 71.5h0M183.7 62.4h0M204.1 77.9h0M181.2 82.6h0M189.2 70.7h0M199.5 67.5h0M196.6 80.8h0M196.2 63.9h0M181.3 80.0h0M194.6 69.3h0M203.5 74.5h0M204.9 64.3h0M200.6 86.4h0M182.6 64.8h0M190.9 68.1h0M194.0 62.2h0M179.0 61.9h0M181.0 68.7h0M199.5 75.3h0M182.5 75.7h0M204.8 85.8h0M181.7 78.5h0M180.3 83.1h0M186.9 76.7h0M202.9 71.7h0M186.7 60.8h0M196.2 77.8h0M196.5 61.6h0M187.2 66.9h0M182.3 62.3h0M184.2 83.0h0M201.6 76.1h0M186.8 68.3h0M202.5 63.1h0M181.2 85.4h0M185.5 85.6h0M186.0 62.0h0M186.7 83.0h0M201.4 76.1h0M192.4 71.4h0M187.4 85.2h0M188.7 62.3h0M193.9 69.6h0M186.6 85.3h0M196.1 72.1h0M203.1 64.3h0M182.9 86.1h0M181.1 79.7h0M185.8 62.2h0M203.8 79.1h0M186.8 65.0h0M197.5 80.0h0M186.1 60.3h0M187.6 74.3h0M186.3 80.5h0M190.8 65.3h0M192.8 63.1h0M197.3 86.2h0M184.3 64.1h0M193.8 66.0h0M181.1 73.2h0M183.1 78.0h0M191.8 65.4h0M202.7 74.3h0M199.5 81.0h0M185.0 65.4h0M185.9 73.4h0M198.1 62.6h0M185.2 59.7h0M199.8 84.9h0M194.1 75.4h0M189.7 68.3h0M188.2 59.3h0M184.4 72.5h0M187.2 76.3h0M182.1 69.9h0M203.3 65.3h0M204.9 59.3h0M204.4 86.0h0M202.9 86.8h0M204.6 73.1h0M200.1 64.2h0M200.3 64.0h0M201.4 80.5h0M196.6 80.7h0M186.9 81.6h0M203.1 76.9h0M196.6 65.7h0M188.9 78.9h0M194.0 74.4h0M181.7 59.7h0M191.1 81.9h0M205.0 63.2h0M204.7 67.0h0M204.5 70.7h0M199.8 75.0h0M195.5 61.1h0M181.7 84.3h0M179.6 76.2h0M203.9 76.9h0M193.7 78.8h0M199.5 67.3h0M181.1 67.8h0M195.1 65.2h0M187.6 72.1h0M187.3 77.1h0M203.5 74.1h0M199.8 65.7h0M202.3 82.9h0M181.1 59.7h0M189.4 66.1h0M178.2 63.8h0M200.4 72.8h0M195.4 73.0h0M181.0 86.4h0M203.5 71.6h0M204.3 77.8h0M189.4 62.5h0M204.9 60.3h0M189.4 68.2h0M197.9 69.9h0M179.5 70.0h0M178.8 75.5h0M203.4 77.6h0M204.1 74.8h0M193.1 75.0h0M178.7 67.9h0M190.7 74.2h0M202.5 78.8h0M187.2 86.4h0M194.6 61.3h0M192.2 67.4h0M188.9 76.1h0M200.9 79.2h0M203.8 75.0h0M181.1 75.4h0M201.8 68.4h0M204.5 61.2h0M194.7 65.5h0M194.0 65.8h0M192.4 64.4h0M203.2 84.7h0M192.0 64.0h0M192.9 64.9h0M203.2 82.5h0M181.4 63.3h0M195.5 66.3h0M181.3 64.0h0M179.1 83.1h0M181.8 61.3h0M185.7 60.0h0M199.3 80.3h0M192.5 86.4h0M203.1 75.3h0M182.3 80.0h0M178.2 85.6h0M199.4 77.9h0M181.4 81.5h0M199.4 85.3h0M189.7 69.6h0M201.8 71.0h0M196.3 80.0h0M183.6 74.9h0M200.0 86.4h0M184.8 68.6h0M190.5 63.8h0M178.1 77.5h0M198.2 70.8h0M181.7 70.4h0M181.3 76.5h0M179.8 66.8h0M179.5 73.1h0M203.0 78.1h0M181.4 63.1h0M196.2 61.7h0M194.1 60.3h0M180.8 83.6h0M188.9 68.1h0M179.4 79.4h0M193.1 79.0h0M180.7 69.8h0M186.7 59.5h0M189.8 73.8h0M191.6 79.2h0M190.3 72.3h0M182.9 70.4h0M184.3 71.1h0M195.8 72.5h0M184.2 80.0h0M181.7 82.2h0M202.0 64.9h0M182.9 74.7h0M179.0 73.4h0M191.4 81.0h0M183.2 79.9h0M180.1 73.6h0M189.5 69.5h0M191.1 68.5h0M197.2 77.7h0M178.1 71.0h0M186.2 77.4h0M200.6 80.8h0M202.5 84.8h0M192.9 59.8h0M197.3 83.6h0M202.8 71.1h0M181.3 72.9h0M182.2 67.4h0M182.9 82.5h0M204.3 82.1h0M194.0 83.6h0M202.9 70.9h0M188.3 67.5h0M183.2 81.8h0M186.8 70.5h0M201.4 75.6h0M179.1 76.4h0M180.7 73.0h0M184.7 80.8h0M193.5 71.8h0M198.6 84.2h0M189.4 78.5h0M182.2 85.5h0M180.2 77.2h0M188.6 62.0h0M181.5 70.2h0M182.1 73.7h0M205.0 80.3h0M201.9 71.8h0M183.0 60.4h0M193.4 70.5h0M196.5 67.8h0M185.7 76.8h0M202.7 71.7h0M199.0 60.0h0M191.9 83.3h0M178.7 80.7h0M189.9 61.6h0M195.4 86.2h0M188.1 62.9h0M192.4 60.9h0M204.5 76.7h0M191.0 61.3h0M188.1 59.3h0M181.7 72.6h0M186.1 72.4h0M196.5 60.5h0M203.6 76.6h0M193.0 60.3h0M204.0 69.7h0M184.6 78.6h0M191.1 64.9h0M180.8 83.4h0M200.0 86.0h0M196.5 71.2h0M202.9 61.2h0M190.4 83.2h0M192.7 81.3h0M199.1 67.4h0M204.1 60.1h0M198.8 59.6h0M181.2 60.3h0M183.1 74.8h0M189.4 75.0h0M202.6 68.5h0M179.8 84.1h0M204.7 85.9h0M202.7 74.3h0M180.8 84.8h0M204.0 69.2h0M182.9 60.7h0M189.0 65.6h0M187.4 68.8h0M199.8 70.6h0M182.6 75.7h0M191.2 61.3h0M190.8 67.3h0M185.0 84.0h0M205.2 72.8h0M202.3 70.9h0M201.5 73.3h0M186.3 68.0h0M202.5 83.2h0M203.3 84.8h0M184.7 60.1h0M196.6 75.5h0M187.1 66.0h0M197.8 80.7h0M182.0 68.3h0M186.8 67.0h0M198.8 59.8h0M187.2 81.2h0M179.9 71.2h0M204.4 86.2h0M197.2 80.9h0M194.9 70.6h0M178.9 72.7h0M178.1 61.8h0M192.0 84.0h0M188.8 73.4h0M181.6 76.2h0M202.7 86.4h0M179.5 65.9h0M190.7 72.4h0M202.9 79.2h0M194.2 64.1h0M196.3 73.1h0M196.6 59.3h0M188.5 68.2h0M189.1 73.3h0M199.5 73.8h0M183.6 72.6h0M193.6 60.6h0M193.9 74.8h0M195.5 77.8h0M198.6 61.6h0M186.6 66.8h0M195.2 83.8h0M187.9 80.9h0M178.5 66.2h0M192.7 84.0h0M197.9 83.9h0M204.2 66.7h0M203.5 63.7h0M193.7 64.9h0M181.0 68.1h0M197.1 78.4h0M182.4 68.9h0M204.3 75.7h0M200.2 86.9h0M181.2 60.7h0M200.4 81.7h0M186.6 81.6h0M196.9 68.5h0M196.8 81.0h0M191.9 74.1h0M183.5 61.3h0M179.7 81.2h0M205.0 81.6h0M201.6 72.1h0M181.0 84.5h0M192.8 75.5h0M197.6 65.7h0M203.4 74.8h0M194.6 68.8h0M193.5 85.5h0M182.6 65.3h0M197.0 78.9h0M191.4 80.1h0M192.5 64.9h0M186.4 67.9h0M188.0 63.5h0M202.6 68.7h0M183.3 62.5h0M191.0 61.2h0M190.1 63.2h0M191.0 62.9h0M184.6 85.7h0M179.3 73.3h0M200.4 80.3h0M181.9 67.7h0M193.4 79.5h0M203.0 74.1h0M181.8 60.2h0M193.6 83.4h0M185.0 78.4h0M198.4 59.3h0M183.3 72.8h0M184.2 62.2h0M195.7 63.4h0M194.8 86.7h0M178.9 66.1h0M180.8 72.4h0M199.3 80.2h0M186.6 68.2h0M192.8 74.2h0M180.1 84.4h0M199.9 79.6h0M180.3 74.6h0M181.8 84.9h0M183.0 62.1h0M192.0 72.9h0M190.1 79.4h0M193.2 70.9h0M201.9 65.0h0M192.3 61.2h0M199.5 64.8h0M193.4 78.6h0M180.2 61.7h0M191.7 76.0h0M183.3 68.6h0M203.7 77.1h0M182.7 76.2h0M185.3 60.2h0M178.3 81.4h0M204.2 65.8h0M197.9 80.4h0M182.4 85.8h0M202.2 60.6h0M184.5 79.3h0M188.6 62.9h0M178.9 83.9h0M203.6 71.6h0M198.2 77.8h0M205.0 67.4h0M191.1 76.0h0M203.5 84.6h0M199.3 73.9h0M187.2 86.3h0M198.2 85.9h0M185.7 72.1h0M190.4 70.9h0M202.0 72.7h0M198.0 73.3h0M202.6 82.2h0M186.3 86.8h0M201.3 81.3h0M196.6 71.4h0M181.8 62.0h0M187.8 76.6h0M201.8 69.7h0M197.1 75.7h0M202.5 84.6h0M178.3 79.6h0M185.9 85.3h0M179.8 69.6h0M179.0 76.2h0M179.3 61.6h0M193.8 63.5h0M178.3 83.5h0M200.8 73.0h0M201.1 75.5h0M201.8 62.2h0M179.1 78.1h0M186.1 75.0h0M198.2 73.4h0M186.0 85.4h0M188.5 71.6h0M192.1 60.3h0M192.8 76.2h0M182.6 78.6h0M190.3 85.4h0M188.3 61.6h0M203.0 67.0h0M204.1 77.5h0M187.5 73.1h0M199.8 83.5h0M181.7 67.4h0M180.6 73.5h0M185.5 67.0h0M195.9 86.1h0M183.6 73.8h0M189.6 75.0h0M187.0 64.3h0M186.0 84.5h0M191.5 85.5h0M178.5 64.5h0M203.1 62.3h0M193.9 64.1h0M181.7 72.4h0M201.7 74.8h0M178.4 65.1h0M205.0 80.9h0M192.2 68.2h0M186.6 60.3h0M184.3 82.6h0M188.0 82.8h0M204.0 78.1h0M185.9 71.3h0M181.3 65.6h0M187.5 60.3h0M201.2 73.1h0M187.6 76.5h0M190.4 68.0h0M188.5 71.5h0M186.3 69.4h0M190.7 83.0h0M200.0 83.1h0M190.8 85.6h0M179.6 82.6h0M196.3 60.0h0M201.0 68.3h0M194.5 60.8h0M195.7 77.5h0M187.6 68.5h0M199.6 84.5h0M178.1 67.5h0M192.3 68.0h0M186.9 74.8h0M201.1 81.5h0M188.6 83.3h0M204.6 63.3h0M183.0 86.2h0M180.7 66.3h0M205.1 81.8h0M183.4 70.5h0M205.1 66.2h0M199.1 66.2h0M189.6 85.2h0M196.0 71.1h0M204.2 84.0h0M203.7 73.8h0M181.4 68.0h0M183.0 67.0h0M182.2 77.8h0M199.2 59.9h0M200.2 81.4h0M191.8 86.4h0M180.8 60.3h0M181.2 63.3h0M198.9 76.6h0M181.4 82.1h0M197.4 75.1h0M185.3 69.9h0M204.7 76.0h0M179.6 71.2h0M193.4 78.3h0M192.6 65.2h0" stroke="#6a5ac4" stroke-width="0.8" stroke-linecap="round" opacity="0.72"/>
</g>
<path d="M186.2,94.0C186.2,93.2 187.4,91.6 188.2,90.9C189.1,90.3 190.1,89.9 191.3,89.9C192.5,89.9 194.2,90.3 195.4,90.9C196.6,91.6 198.3,93.1 198.5,94.0C198.6,94.9 197.6,96.0 196.4,96.5C195.2,97.0 192.7,97.1 191.3,97.1C189.9,97.0 189.1,96.6 188.2,96.1C187.4,95.5 186.2,94.9 186.2,94.0Z" fill="#d8d8d8"/>
<clipPath id="ub3"><path d="M186.2,94.0C186.2,93.2 187.4,91.6 188.2,90.9C189.1,90.3 190.1,89.9 191.3,89.9C192.5,89.9 194.2,90.3 195.4,90.9C196.6,91.6 198.3,93.1 198.5,94.0C198.6,94.9 197.6,96.0 196.4,96.5C195.2,97.0 192.7,97.1 191.3,97.1C189.9,97.0 189.1,96.6 188.2,96.1C187.4,95.5 186.2,94.9 186.2,94.0Z"/></clipPath>
<g clip-path="url(#ub3)">
<path d="M194.5 93.5h0M194.4 97.0h0M197.3 92.2h0M195.6 91.4h0M190.4 90.3h0M195.9 91.5h0M196.4 94.2h0M196.3 94.9h0M188.4 95.2h0M196.2 93.0h0M195.8 92.2h0M187.4 93.6h0M187.1 92.5h0M197.5 96.1h0M195.4 92.8h0M188.0 93.6h0M187.3 95.4h0M196.0 90.5h0M190.1 93.7h0M190.9 94.9h0M186.7 95.3h0M194.3 91.5h0M187.2 90.9h0M188.1 93.2h0M188.1 90.0h0M190.8 90.2h0M186.5 95.7h0M193.5 91.8h0M189.7 92.9h0M191.4 94.3h0" stroke="#6a5ac4" stroke-width="0.8" stroke-linecap="round" opacity="0.72"/>
</g>
<path d="M201.5,117.5C201.5,116.7 202.6,115.1 203.6,114.4C204.6,113.8 206.3,113.8 207.7,113.4C209.0,113.1 210.7,112.2 211.7,112.4C212.8,112.6 213.8,113.6 213.8,114.4C213.8,115.3 212.8,116.8 211.7,117.5C210.7,118.3 209.0,118.7 207.7,118.9C206.3,119.2 204.6,119.4 203.6,119.1C202.6,118.9 201.5,118.3 201.5,117.5Z" fill="#d8d8d8"/>
<clipPath id="ub4"><path d="M201.5,117.5C201.5,116.7 202.6,115.1 203.6,114.4C204.6,113.8 206.3,113.8 207.7,113.4C209.0,113.1 210.7,112.2 211.7,112.4C212.8,112.6 213.8,113.6 213.8,114.4C213.8,115.3 212.8,116.8 211.7,117.5C210.7,118.3 209.0,118.7 207.7,118.9C206.3,119.2 204.6,119.4 203.6,119.1C202.6,118.9 201.5,118.3 201.5,117.5Z"/></clipPath>
<g clip-path="url(#ub4)">
<path d="M203.6 116.5h0M209.3 118.2h0M211.5 117.6h0M208.7 112.8h0M212.5 116.8h0M208.9 114.8h0M202.6 113.2h0M212.6 115.5h0M206.4 118.5h0M207.5 114.6h0M206.4 115.7h0M209.1 117.2h0M202.0 117.5h0M210.3 118.6h0M205.8 113.2h0M213.5 114.4h0M211.9 118.6h0M210.5 114.3h0M207.8 116.2h0M204.9 116.3h0M213.6 116.4h0M208.9 115.4h0M204.7 118.1h0M202.6 115.6h0M209.1 119.1h0M203.6 118.8h0M209.4 112.7h0M205.5 113.3h0M212.3 116.8h0M212.4 112.7h0M206.9 118.2h0M203.2 114.7h0M209.1 118.3h0M204.2 113.9h0M202.0 116.2h0M209.4 112.7h0M203.1 115.5h0M209.2 112.7h0M212.4 116.1h0M209.1 116.7h0M206.2 116.4h0M206.3 117.4h0M207.8 112.8h0M206.1 112.8h0M212.5 112.9h0M207.0 117.4h0M206.6 112.6h0M204.0 115.2h0M204.6 118.0h0M204.2 118.8h0M209.9 114.0h0M206.7 116.3h0M203.5 118.5h0M203.3 117.0h0M207.8 118.1h0M202.6 113.3h0M208.4 114.1h0M204.6 114.5h0M210.9 116.0h0M203.3 116.8h0M203.5 112.4h0M204.8 115.0h0M207.5 114.0h0M203.4 118.0h0M202.9 115.9h0M211.4 114.8h0M209.6 114.3h0M209.5 112.9h0M213.3 118.8h0M213.3 117.0h0" stroke="#6a5ac4" stroke-width="0.8" stroke-linecap="round" opacity="0.72"/>
</g>
<path d="M222.0,83.8C222.1,82.1 223.0,80.7 224.0,79.7C225.0,78.7 226.6,78.3 228.1,77.7C229.6,77.0 231.8,76.6 233.2,75.6C234.6,74.6 235.1,72.6 236.3,71.5C237.5,70.5 238.8,69.7 240.4,69.5C241.9,69.3 244.1,69.8 245.5,70.5C246.8,71.2 247.3,72.9 248.5,73.6C249.7,74.3 251.3,74.6 252.6,74.6C254.0,74.6 255.3,73.6 256.7,73.6C258.1,73.6 259.9,73.7 260.8,74.6C261.7,75.4 261.8,77.2 261.8,78.7C261.8,80.2 261.3,82.3 260.8,83.8C260.3,85.3 258.9,86.2 258.8,87.9C258.6,89.6 259.4,92.0 259.8,94.0C260.1,96.1 260.5,98.1 260.8,100.1C261.1,102.2 261.8,104.4 261.8,106.3C261.8,108.1 261.5,110.7 260.8,111.4C260.1,112.1 258.8,111.2 257.7,110.4C256.7,109.5 255.9,107.5 254.7,106.3C253.5,105.1 252.3,103.5 250.6,103.2C248.9,102.9 246.5,104.2 244.4,104.2C242.4,104.2 239.9,104.2 238.3,103.2C236.8,102.2 236.3,99.6 235.3,98.1C234.2,96.6 233.7,95.0 232.2,94.0C230.7,93.0 227.6,92.6 226.1,92.0C224.5,91.3 223.7,91.3 223.0,89.9C222.3,88.6 221.8,85.5 222.0,83.8Z" fill="#d8d8d8"/>
<clipPath id="ub5"><path d="M222.0,83.8C222.1,82.1 223.0,80.7 224.0,79.7C225.0,78.7 226.6,78.3 228.1,77.7C229.6,77.0 231.8,76.6 233.2,75.6C234.6,74.6 235.1,72.6 236.3,71.5C237.5,70.5 238.8,69.7 240.4,69.5C241.9,69.3 244.1,69.8 245.5,70.5C246.8,71.2 247.3,72.9 248.5,73.6C249.7,74.3 251.3,74.6 252.6,74.6C254.0,74.6 255.3,73.6 256.7,73.6C258.1,73.6 259.9,73.7 260.8,74.6C261.7,75.4 261.8,77.2 261.8,78.7C261.8,80.2 261.3,82.3 260.8,83.8C260.3,85.3 258.9,86.2 258.8,87.9C258.6,89.6 259.4,92.0 259.8,94.0C260.1,96.1 260.5,98.1 260.8,100.1C261.1,102.2 261.8,104.4 261.8,106.3C261.8,108.1 261.5,110.7 260.8,111.4C260.1,112.1 258.8,111.2 257.7,110.4C256.7,109.5 255.9,107.5 254.7,106.3C253.5,105.1 252.3,103.5 250.6,103.2C248.9,102.9 246.5,104.2 244.4,104.2C242.4,104.2 239.9,104.2 238.3,103.2C236.8,102.2 236.3,99.6 235.3,98.1C234.2,96.6 233.7,95.0 232.2,94.0C230.7,93.0 227.6,92.6 226.1,92.0C224.5,91.3 223.7,91.3 223.0,89.9C222.3,88.6 221.8,85.5 222.0,83.8Z"/></clipPath>
<g clip-path="url(#ub5)">
<path d="M240.2 95.4h0M254.1 106.7h0M241.6 83.4h0M229.6 81.7h0M250.0 73.1h0M246.4 71.5h0M253.1 78.8h0M239.8 105.4h0M251.7 74.4h0M248.7 85.6h0M261.4 79.2h0M246.5 89.2h0M242.0 96.1h0M238.6 102.2h0M246.8 80.1h0M230.3 96.8h0M243.9 76.2h0M239.1 108.1h0M238.6 81.9h0M246.7 71.9h0M236.1 108.0h0M223.4 75.2h0M235.9 78.8h0M223.6 91.0h0M246.3 70.5h0M250.7 92.4h0M247.1 79.5h0M247.1 111.3h0M257.7 85.0h0M222.8 84.6h0M252.3 86.8h0M246.5 98.0h0M239.3 78.6h0M251.8 89.1h0M242.8 83.8h0M243.7 95.0h0M255.0 98.9h0M244.0 105.0h0M252.5 101.9h0M225.9 108.4h0M239.9 80.7h0M251.7 76.7h0M246.7 71.8h0M248.9 102.2h0M250.9 91.8h0M253.1 78.2h0M240.9 92.8h0M233.1 108.3h0M259.1 93.0h0M222.7 82.9h0M251.0 91.5h0M250.6 92.9h0M253.6 105.5h0M259.8 90.3h0M251.7 104.2h0M232.0 109.1h0M226.1 88.4h0M225.0 106.5h0M251.4 71.7h0M235.3 98.9h0M230.7 77.3h0M234.4 86.0h0M242.0 79.7h0M233.5 107.8h0M223.9 77.9h0M230.2 90.3h0M247.6 89.8h0M259.6 89.7h0M226.2 74.5h0M245.8 73.3h0M252.3 99.1h0M232.0 109.8h0M260.6 84.5h0M227.8 89.0h0M233.5 103.6h0M227.2 90.1h0M238.2 103.8h0M238.0 74.5h0M222.7 87.4h0M237.1 86.5h0M251.1 84.0h0M243.1 74.0h0M222.3 87.0h0M249.3 83.1h0M259.7 72.6h0M226.4 79.7h0M230.3 74.4h0M228.8 110.5h0M234.6 106.5h0M257.8 88.1h0M252.9 100.8h0M247.3 93.8h0M246.0 72.7h0M247.2 94.8h0M257.1 101.7h0M241.6 95.2h0M233.0 79.4h0M228.3 94.4h0M233.8 78.8h0M250.9 107.0h0M227.0 110.7h0M236.1 87.4h0M249.0 107.6h0M255.7 104.8h0M246.4 95.8h0M222.2 92.0h0M224.4 107.4h0M233.3 96.3h0M224.3 103.8h0M229.6 72.1h0M233.9 97.9h0M245.5 81.7h0M238.4 69.9h0M229.3 73.8h0M260.1 77.5h0M248.1 96.6h0M225.1 101.8h0M253.9 101.4h0M226.0 72.2h0M248.1 109.7h0M250.8 70.2h0M248.5 73.9h0M230.0 86.3h0M249.6 84.0h0M232.3 100.6h0M235.7 85.2h0M225.4 81.1h0M252.1 70.1h0M242.7 81.6h0M248.0 79.7h0M241.1 96.8h0M259.1 75.3h0M242.1 95.4h0M222.8 75.1h0M230.7 86.8h0M222.1 78.5h0M239.7 102.8h0M260.4 107.1h0M225.8 73.4h0M244.5 91.2h0M227.0 90.7h0M259.0 89.6h0M239.7 83.5h0M246.8 109.7h0M245.4 84.0h0M249.6 92.0h0M246.1 86.4h0M225.8 101.4h0M234.3 72.2h0M236.6 78.5h0M250.3 70.4h0M255.2 94.1h0M226.1 100.2h0M238.1 94.5h0M233.7 75.8h0M235.3 94.2h0M261.2 97.3h0M242.0 100.8h0M252.0 85.4h0M223.8 106.1h0M227.8 76.5h0M234.2 98.7h0M238.9 86.9h0M228.2 102.1h0M251.4 95.8h0M257.7 71.0h0M254.6 102.0h0M241.0 85.4h0M261.2 102.6h0M259.8 71.1h0M251.6 81.0h0M223.4 103.9h0M257.5 102.4h0M243.6 93.3h0M225.7 97.3h0M233.3 103.8h0M225.2 77.6h0M232.5 91.8h0M234.4 85.4h0M241.6 75.8h0M243.3 70.3h0M239.3 94.6h0M242.9 70.2h0M242.8 107.4h0M236.8 80.7h0M255.0 104.7h0M254.0 89.0h0M230.6 74.4h0M247.1 75.8h0M248.2 75.3h0M239.7 96.6h0M247.7 82.5h0M245.4 107.0h0M252.3 88.4h0M223.6 73.0h0M229.9 70.7h0M248.9 95.9h0M223.8 110.0h0M240.3 107.2h0M229.6 97.5h0M259.3 98.5h0M233.1 108.7h0M234.8 86.0h0M241.6 81.3h0M257.1 89.2h0M225.9 83.1h0M251.9 107.2h0M224.4 100.6h0M256.3 69.6h0M243.6 107.4h0M247.0 108.7h0M250.1 79.8h0M255.9 90.0h0M226.6 86.0h0M222.7 106.6h0M222.8 106.4h0M228.5 72.6h0M248.6 93.2h0M243.2 82.2h0M237.2 87.0h0M258.3 92.4h0M256.7 92.8h0M235.4 75.2h0M242.3 97.5h0M222.9 84.6h0M248.8 81.2h0M260.7 93.0h0M252.0 77.5h0M255.3 84.1h0M227.2 88.1h0M229.5 88.5h0M258.2 85.9h0M230.1 100.0h0M236.0 94.1h0M254.0 80.4h0M230.9 74.2h0M248.1 72.4h0M258.8 72.2h0M255.9 102.2h0M252.0 110.6h0M237.0 99.0h0M245.3 69.5h0M243.7 97.4h0M234.2 81.2h0M225.8 70.8h0M228.8 71.7h0M223.0 82.3h0M242.3 99.3h0M227.7 108.2h0M255.6 88.6h0M226.1 93.0h0M222.6 74.8h0M246.3 84.2h0M258.6 95.1h0M249.4 105.0h0M241.8 86.4h0M247.7 73.8h0M229.2 73.7h0M252.8 95.5h0M229.2 106.4h0M228.0 78.0h0M235.2 102.2h0M246.1 111.2h0M251.4 102.4h0M250.7 100.7h0M243.0 109.5h0M251.4 90.9h0M246.4 89.9h0M235.8 97.5h0M255.1 96.9h0M224.1 85.8h0M238.6 110.8h0M233.9 81.5h0M224.6 70.8h0M236.0 87.0h0M244.2 71.2h0M259.8 104.6h0M228.9 88.3h0M250.8 73.9h0M231.2 79.1h0M243.6 100.5h0M253.9 84.4h0M223.0 73.6h0M236.5 73.4h0M233.5 102.7h0M241.1 82.0h0M238.5 104.7h0M261.4 98.6h0M225.5 103.8h0M257.0 88.2h0M228.4 97.9h0M254.4 110.6h0M254.8 79.3h0M228.6 109.1h0M256.4 97.9h0M224.3 74.6h0M244.9 109.7h0M251.2 93.5h0M245.7 89.2h0M255.6 89.1h0M257.3 87.9h0M240.8 110.9h0M248.3 88.2h0M222.4 87.1h0M231.0 86.7h0M223.8 86.6h0M236.9 103.4h0M234.8 100.5h0M245.4 94.7h0M253.4 106.4h0M227.4 81.3h0M223.5 93.9h0M224.1 81.7h0M258.0 86.3h0M238.0 80.9h0M253.4 90.9h0M241.3 105.5h0M228.4 70.3h0M257.7 102.5h0M251.5 103.2h0M242.8 73.4h0M229.7 99.3h0M227.5 94.7h0M238.1 108.3h0M252.5 84.4h0M226.9 92.3h0M247.3 70.9h0M241.2 75.5h0M234.9 100.8h0M258.7 73.7h0M235.8 91.0h0M259.5 106.9h0M253.6 76.1h0M252.1 97.8h0M223.6 86.8h0M242.3 77.3h0M228.3 86.6h0M222.1 83.5h0M242.5 80.8h0M242.7 106.9h0M240.6 85.6h0M249.1 106.5h0M226.8 104.2h0M258.2 107.8h0M229.5 107.0h0M235.3 84.2h0M233.4 102.6h0M247.2 75.7h0M234.0 93.8h0M255.1 95.0h0M248.5 82.4h0M255.9 95.3h0M246.0 81.4h0M244.7 82.8h0M237.8 108.9h0M239.6 77.5h0M238.4 79.1h0M250.2 78.4h0M250.2 88.9h0M238.5 93.9h0M260.9 94.4h0M230.3 82.9h0M227.7 96.0h0M258.2 72.1h0M232.7 74.3h0M243.0 104.5h0M228.0 104.2h0M237.9 92.0h0M246.0 108.7h0M259.5 110.6h0M245.2 109.6h0M253.3 93.6h0M245.6 82.5h0M228.2 88.7h0M232.1 69.6h0M259.1 78.3h0M260.5 90.5h0M232.3 86.2h0M225.7 92.7h0M234.4 69.6h0" stroke="#6a5ac4" stroke-width="0.8" stroke-linecap="round" opacity="0.72"/>
</g>
<path d="M316.2,42.9C316.2,41.9 317.6,40.4 318.2,38.8C318.9,37.3 319.4,34.7 320.3,33.7C321.1,32.7 322.2,32.7 323.4,32.7C324.5,32.7 326.4,34.1 327.4,33.7C328.5,33.4 328.6,31.2 329.5,30.7C330.3,30.1 331.7,30.0 332.6,30.7C333.4,31.3 333.7,33.7 334.6,34.7C335.4,35.8 336.6,36.1 337.7,36.8C338.7,37.5 340.6,38.1 340.7,38.8C340.9,39.5 339.5,40.4 338.7,40.9C337.8,41.4 336.6,41.4 335.6,41.9C334.6,42.4 333.2,42.9 332.6,43.9C331.9,45.0 332.2,47.2 331.5,48.0C330.8,48.9 329.5,49.2 328.5,49.0C327.4,48.9 326.6,48.0 325.4,47.4C324.2,46.8 322.5,45.8 321.3,45.4C320.1,45.0 319.1,45.4 318.2,45.0C317.4,44.6 316.2,43.9 316.2,42.9Z" fill="#d8d8d8"/>
<clipPath id="ub6"><path d="M316.2,42.9C316.2,41.9 317.6,40.4 318.2,38.8C318.9,37.3 319.4,34.7 320.3,33.7C321.1,32.7 322.2,32.7 323.4,32.7C324.5,32.7 326.4,34.1 327.4,33.7C328.5,33.4 328.6,31.2 329.5,30.7C330.3,30.1 331.7,30.0 332.6,30.7C333.4,31.3 333.7,33.7 334.6,34.7C335.4,35.8 336.6,36.1 337.7,36.8C338.7,37.5 340.6,38.1 340.7,38.8C340.9,39.5 339.5,40.4 338.7,40.9C337.8,41.4 336.6,41.4 335.6,41.9C334.6,42.4 333.2,42.9 332.6,43.9C331.9,45.0 332.2,47.2 331.5,48.0C330.8,48.9 329.5,49.2 328.5,49.0C327.4,48.9 326.6,48.0 325.4,47.4C324.2,46.8 322.5,45.8 321.3,45.4C320.1,45.0 319.1,45.4 318.2,45.0C317.4,44.6 316.2,43.9 316.2,42.9Z"/></clipPath>
<g clip-path="url(#ub6)">
<path d="M321.6 38.3h0M338.7 34.7h0M336.5 38.7h0M324.7 37.8h0M328.8 36.6h0M331.2 44.6h0M337.9 38.4h0M330.5 33.4h0M328.9 46.9h0M320.8 32.0h0M316.4 35.3h0M325.4 40.7h0M325.8 48.8h0M330.1 46.8h0M321.9 35.2h0M329.4 30.7h0M333.6 36.5h0M333.7 40.1h0M336.8 34.4h0M339.2 48.7h0M326.2 41.3h0M316.3 41.0h0M326.5 45.0h0M334.4 43.6h0M340.4 31.0h0M324.6 41.9h0M338.5 36.5h0M335.3 45.6h0M328.2 43.5h0M334.5 42.9h0M336.9 31.7h0M336.6 31.6h0M330.7 37.3h0M329.1 46.1h0M323.2 39.9h0M334.7 40.5h0M329.9 41.9h0M340.1 32.2h0M326.8 45.6h0M317.2 45.0h0M324.9 33.9h0M334.9 43.3h0M334.2 44.4h0M334.6 48.9h0M337.1 31.9h0M318.3 42.6h0M324.4 36.8h0M338.6 35.1h0M326.4 48.5h0M332.7 41.7h0M321.1 45.4h0M326.2 48.3h0M325.2 37.8h0M326.5 47.4h0M334.4 41.8h0M317.1 33.5h0M324.4 44.0h0M324.6 37.2h0M326.6 30.9h0M336.1 36.2h0M339.8 47.4h0M330.6 41.6h0M333.7 31.8h0M340.6 41.7h0M329.9 43.5h0M330.6 45.9h0M328.9 36.6h0M320.5 36.1h0M325.6 36.6h0M329.6 41.9h0M324.6 39.3h0M333.2 49.0h0M321.0 31.9h0M333.2 45.0h0M334.4 36.9h0M318.0 37.4h0M336.5 34.7h0M332.5 37.1h0M338.3 30.9h0M331.0 36.0h0M334.0 40.5h0M326.5 48.8h0M327.4 42.6h0M331.8 36.4h0M330.6 48.1h0M340.4 38.6h0M331.4 43.1h0M318.8 35.7h0M330.3 46.7h0M326.8 45.6h0" stroke="#6a5ac4" stroke-width="0.8" stroke-linecap="round" opacity="0.72"/>
</g>
<path d="M357.1,42.9C357.2,41.6 359.1,39.7 360.1,38.8C361.2,38.0 362.3,37.6 363.2,37.8C364.2,38.0 365.5,38.8 365.9,39.9C366.2,40.9 365.9,42.8 365.3,43.9C364.6,45.1 363.2,46.2 362.2,46.6C361.2,47.0 360.0,47.2 359.1,46.6C358.3,46.0 356.9,44.2 357.1,42.9Z" fill="#d8d8d8"/>
<path d="M278.4,66.4C278.4,65.5 279.6,64.8 280.4,63.8C281.3,62.7 282.5,61.6 283.5,60.3C284.5,59.0 285.4,57.1 286.6,56.2C287.8,55.4 289.3,55.0 290.7,55.2C292.0,55.4 293.8,56.0 294.7,57.2C295.7,58.4 296.4,60.6 296.4,62.3C296.4,64.0 295.4,66.3 294.7,67.4C294.1,68.6 293.7,69.3 292.7,69.5C291.7,69.7 290.0,68.8 288.6,68.5C287.2,68.1 285.9,67.3 284.5,67.4C283.2,67.5 281.5,69.2 280.4,69.1C279.4,68.9 278.4,67.3 278.4,66.4Z" fill="#d8d8d8"/>
<clipPath id="ub7"><path d="M278.4,66.4C278.4,65.5 279.6,64.8 280.4,63.8C281.3,62.7 282.5,61.6 283.5,60.3C284.5,59.0 285.4,57.1 286.6,56.2C287.8,55.4 289.3,55.0 290.7,55.2C292.0,55.4 293.8,56.0 294.7,57.2C295.7,58.4 296.4,60.6 296.4,62.3C296.4,64.0 295.4,66.3 294.7,67.4C294.1,68.6 293.7,69.3 292.7,69.5C291.7,69.7 290.0,68.8 288.6,68.5C287.2,68.1 285.9,67.3 284.5,67.4C283.2,67.5 281.5,69.2 280.4,69.1C279.4,68.9 278.4,67.3 278.4,66.4Z"/></clipPath>
<g clip-path="url(#ub7)">
<path d="M288.7 67.1h0M295.1 59.9h0M285.4 55.8h0M292.6 62.6h0" stroke="#6a5ac4" stroke-width="0.8" stroke-linecap="round" opacity="0.72"/>
</g>
<path d="M287.6,81.7C287.9,80.9 289.6,79.7 290.7,78.7C291.7,77.7 292.5,76.6 293.7,75.6C294.9,74.6 296.6,73.9 297.8,72.6C299.0,71.2 299.9,69.1 300.9,67.4C301.9,65.7 302.6,63.7 303.9,62.3C305.3,61.0 307.4,59.6 309.0,59.3C310.7,58.9 312.7,59.3 313.5,60.3C314.4,61.3 314.4,63.9 314.2,65.4C313.9,66.9 312.8,68.1 312.1,69.5C311.4,70.8 310.6,72.0 310.1,73.6C309.6,75.1 309.4,76.6 309.0,78.7C308.7,80.7 308.3,83.6 308.0,85.8C307.8,88.1 307.8,90.3 307.4,92.0C307.1,93.7 306.9,95.1 306.0,96.1C305.1,97.0 303.3,97.5 301.9,97.7C300.5,97.9 299.0,97.6 297.8,97.1C296.6,96.5 295.2,95.4 294.7,94.4C294.3,93.4 294.8,92.0 295.2,90.9C295.5,89.9 297.2,88.7 296.8,87.9C296.4,87.0 294.1,86.5 292.7,85.8C291.3,85.2 289.5,84.5 288.6,83.8C287.8,83.1 287.2,82.6 287.6,81.7Z" fill="#d8d8d8"/>
<clipPath id="ub8"><path d="M287.6,81.7C287.9,80.9 289.6,79.7 290.7,78.7C291.7,77.7 292.5,76.6 293.7,75.6C294.9,74.6 296.6,73.9 297.8,72.6C299.0,71.2 299.9,69.1 300.9,67.4C301.9,65.7 302.6,63.7 303.9,62.3C305.3,61.0 307.4,59.6 309.0,59.3C310.7,58.9 312.7,59.3 313.5,60.3C314.4,61.3 314.4,63.9 314.2,65.4C313.9,66.9 312.8,68.1 312.1,69.5C311.4,70.8 310.6,72.0 310.1,73.6C309.6,75.1 309.4,76.6 309.0,78.7C308.7,80.7 308.3,83.6 308.0,85.8C307.8,88.1 307.8,90.3 307.4,92.0C307.1,93.7 306.9,95.1 306.0,96.1C305.1,97.0 303.3,97.5 301.9,97.7C300.5,97.9 299.0,97.6 297.8,97.1C296.6,96.5 295.2,95.4 294.7,94.4C294.3,93.4 294.8,92.0 295.2,90.9C295.5,89.9 297.2,88.7 296.8,87.9C296.4,87.0 294.1,86.5 292.7,85.8C291.3,85.2 289.5,84.5 288.6,83.8C287.8,83.1 287.2,82.6 287.6,81.7Z"/></clipPath>
<g clip-path="url(#ub8)">
<path d="M310.8 62.9h0M299.6 91.5h0M293.0 79.9h0M310.8 89.2h0M293.1 76.1h0M297.5 76.0h0M289.7 94.0h0M302.3 92.4h0M305.4 61.8h0M297.1 65.2h0M295.5 88.8h0M308.2 60.0h0M307.8 60.6h0M288.0 94.1h0M290.0 82.8h0M309.1 61.2h0M309.5 72.7h0M310.0 89.5h0M300.2 82.7h0M298.9 62.8h0M303.4 82.9h0M289.4 77.7h0M294.2 74.4h0M303.8 69.7h0M296.8 60.4h0M306.6 89.8h0M314.0 77.0h0M298.0 73.3h0M304.0 81.5h0M289.7 76.7h0M312.1 71.3h0M303.8 96.8h0M290.7 95.8h0M296.5 78.9h0M295.8 70.4h0M299.5 84.4h0M302.7 62.8h0M306.8 76.8h0M289.7 73.8h0M312.4 86.5h0M311.9 70.8h0M290.8 61.3h0M293.1 93.6h0M288.7 85.6h0M288.5 59.4h0M313.0 88.5h0M310.9 69.6h0M291.3 90.7h0M307.9 69.2h0M306.2 83.1h0M288.8 96.6h0M291.9 83.7h0M295.8 77.9h0M308.7 64.2h0M295.0 75.6h0M296.2 84.5h0M310.2 90.9h0M304.4 79.9h0M305.2 70.3h0M306.3 66.0h0" stroke="#6a5ac4" stroke-width="0.8" stroke-linecap="round" opacity="0.72"/>
</g>
<path d="M310.1,117.5C310.1,116.7 311.3,115.5 312.1,114.4C313.0,113.4 314.2,112.1 315.2,111.4C316.2,110.7 317.2,110.2 318.2,110.4C319.3,110.5 320.5,111.6 321.3,112.4C322.1,113.3 323.1,114.5 322.9,115.5C322.8,116.4 321.4,117.4 320.3,118.1C319.2,118.8 317.6,119.3 316.2,119.6C314.8,119.8 313.1,119.9 312.1,119.6C311.1,119.2 310.1,118.4 310.1,117.5Z" fill="#d8d8d8"/>
<path d="M330.5,81.7C330.7,80.2 331.5,78.0 332.6,76.6C333.6,75.3 335.1,74.2 336.6,73.6C338.2,73.0 340.2,73.7 341.7,73.2C343.3,72.7 344.5,71.2 345.8,70.5C347.2,69.8 348.6,69.2 349.9,69.1C351.3,69.0 352.8,69.1 354.0,69.9C355.2,70.6 355.7,72.9 357.1,73.6C358.4,74.3 360.5,74.0 362.2,74.0C363.9,74.0 365.9,73.3 367.3,73.6C368.7,73.8 369.7,74.4 370.4,75.6C371.0,76.8 371.3,79.0 371.0,80.7C370.6,82.4 368.9,84.1 368.3,85.8C367.7,87.5 367.3,89.1 367.3,90.9C367.3,92.8 367.8,95.2 368.3,97.1C368.8,99.0 370.0,100.3 370.4,102.2C370.7,104.1 370.5,106.6 370.4,108.3C370.2,110.0 370.0,112.1 369.3,112.4C368.7,112.7 367.5,111.6 366.3,110.4C365.1,109.2 363.5,106.6 362.2,105.3C360.8,103.9 359.6,102.5 358.1,102.2C356.6,101.8 354.7,102.9 353.0,103.2C351.3,103.5 349.4,104.7 347.9,104.2C346.3,103.7 344.8,101.7 343.8,100.1C342.8,98.6 342.8,96.4 341.7,95.0C340.7,93.7 339.0,92.8 337.7,92.0C336.3,91.1 334.7,90.9 333.6,89.9C332.5,88.9 331.6,87.2 331.1,85.8C330.6,84.5 330.3,83.3 330.5,81.7Z" fill="#d8d8d8"/>
<clipPath id="ub9"><path d="M330.5,81.7C330.7,80.2 331.5,78.0 332.6,76.6C333.6,75.3 335.1,74.2 336.6,73.6C338.2,73.0 340.2,73.7 341.7,73.2C343.3,72.7 344.5,71.2 345.8,70.5C347.2,69.8 348.6,69.2 349.9,69.1C351.3,69.0 352.8,69.1 354.0,69.9C355.2,70.6 355.7,72.9 357.1,73.6C358.4,74.3 360.5,74.0 362.2,74.0C363.9,74.0 365.9,73.3 367.3,73.6C368.7,73.8 369.7,74.4 370.4,75.6C371.0,76.8 371.3,79.0 371.0,80.7C370.6,82.4 368.9,84.1 368.3,85.8C367.7,87.5 367.3,89.1 367.3,90.9C367.3,92.8 367.8,95.2 368.3,97.1C368.8,99.0 370.0,100.3 370.4,102.2C370.7,104.1 370.5,106.6 370.4,108.3C370.2,110.0 370.0,112.1 369.3,112.4C368.7,112.7 367.5,111.6 366.3,110.4C365.1,109.2 363.5,106.6 362.2,105.3C360.8,103.9 359.6,102.5 358.1,102.2C356.6,101.8 354.7,102.9 353.0,103.2C351.3,103.5 349.4,104.7 347.9,104.2C346.3,103.7 344.8,101.7 343.8,100.1C342.8,98.6 342.8,96.4 341.7,95.0C340.7,93.7 339.0,92.8 337.7,92.0C336.3,91.1 334.7,90.9 333.6,89.9C332.5,88.9 331.6,87.2 331.1,85.8C330.6,84.5 330.3,83.3 330.5,81.7Z"/></clipPath>
<g clip-path="url(#ub9)">
<path d="M368.1 102.3h0M360.5 89.4h0M354.7 88.8h0M357.3 72.6h0M351.0 86.9h0M366.1 72.7h0M365.5 110.1h0M369.3 81.2h0M342.7 75.8h0M362.6 99.9h0M339.7 99.5h0M340.6 103.0h0M333.0 107.3h0M347.5 107.5h0M351.4 74.4h0M361.7 100.2h0M331.6 75.4h0M336.1 86.8h0M352.7 94.6h0M367.7 89.7h0M352.4 99.1h0M369.2 109.0h0M352.0 85.6h0M334.8 76.2h0M338.6 89.2h0M354.9 73.6h0M351.6 107.0h0M366.3 106.4h0M364.1 89.6h0M350.6 72.3h0M369.7 87.4h0M331.1 106.6h0M360.6 97.7h0M339.4 72.0h0M354.1 78.2h0M352.3 99.6h0M345.4 104.8h0M366.0 111.7h0M332.0 90.0h0M360.7 83.9h0M360.1 75.0h0M350.7 112.3h0M346.2 72.5h0M352.9 76.5h0M351.3 107.6h0M369.7 99.4h0M358.6 87.4h0M356.8 92.2h0M346.9 83.7h0M349.5 69.5h0M360.3 95.5h0M344.3 100.7h0M360.4 89.7h0M352.6 73.3h0M332.2 104.5h0M341.9 100.8h0M346.8 102.4h0M365.7 71.9h0M336.6 88.5h0M334.4 69.5h0M347.3 72.9h0M368.0 105.1h0M331.6 95.8h0M359.9 72.7h0M331.6 78.5h0M361.4 74.2h0M336.6 100.1h0M349.2 92.2h0M334.8 74.3h0M346.2 91.5h0M347.2 105.0h0M360.0 100.4h0M357.2 83.7h0M354.4 78.7h0M367.2 85.8h0M355.3 100.9h0M359.7 74.9h0M332.3 81.4h0M351.9 82.7h0M341.4 101.6h0M335.8 77.5h0M349.4 73.8h0M364.0 95.3h0M367.0 81.4h0M351.4 90.2h0M364.4 86.8h0M356.3 110.6h0M348.4 72.5h0M359.0 80.6h0M356.7 112.1h0M367.0 75.3h0M334.0 109.3h0M344.6 81.1h0M351.3 80.5h0M354.2 78.8h0M361.9 107.9h0M364.1 110.2h0M340.4 84.0h0M347.6 72.2h0M351.4 75.7h0M365.2 76.1h0M340.0 77.7h0M359.5 91.2h0M342.9 93.7h0M353.8 107.3h0M335.4 92.8h0M340.8 76.4h0M368.6 103.0h0M339.9 104.0h0M338.0 76.7h0M341.2 110.0h0M366.5 100.7h0M342.0 107.6h0M356.7 75.5h0M367.7 86.7h0M365.6 69.5h0M368.3 80.0h0M365.8 93.4h0M331.3 86.3h0M349.1 108.9h0M358.8 72.8h0M346.7 112.1h0M359.9 88.5h0M341.1 109.2h0M336.2 86.4h0M349.4 95.0h0M364.6 101.1h0M354.2 103.8h0M360.9 82.3h0M334.8 108.8h0M359.9 78.2h0M352.6 87.5h0M343.4 74.4h0M360.2 80.5h0M333.4 85.9h0M343.7 106.8h0M338.7 70.9h0M369.3 90.2h0M341.7 104.9h0M349.8 85.8h0M350.5 95.8h0M330.6 110.9h0M349.0 95.1h0M363.2 97.2h0M331.3 98.9h0M344.4 91.6h0M362.1 73.1h0M336.1 78.4h0M370.6 94.0h0M353.2 102.1h0M368.6 111.8h0M340.1 112.3h0M370.8 87.8h0M330.6 99.5h0M338.7 71.2h0M351.0 108.3h0M334.1 92.3h0M364.7 92.6h0M368.2 108.6h0M334.5 79.4h0M359.9 76.3h0M350.7 96.2h0M334.0 85.0h0M365.9 112.1h0M350.5 72.6h0M336.4 71.6h0M357.7 101.1h0M347.1 96.0h0M370.8 81.1h0M352.1 92.8h0M339.9 77.3h0M362.3 91.1h0M368.4 83.5h0M345.5 100.1h0M362.4 95.0h0M370.3 99.1h0M349.3 84.0h0M368.8 92.1h0M358.4 69.2h0M352.1 90.6h0M365.8 80.0h0M354.9 98.2h0M361.8 99.2h0M350.5 77.7h0M339.2 94.6h0M330.6 96.5h0M363.6 78.4h0M356.8 77.7h0M369.5 98.5h0M368.4 81.0h0M332.0 98.7h0M366.2 105.9h0M368.3 76.1h0M346.4 112.2h0M354.5 110.7h0M346.0 76.4h0M358.6 101.5h0M362.0 102.6h0M370.6 109.6h0M358.7 83.4h0M350.0 72.6h0M347.2 84.5h0M344.8 104.3h0M333.4 87.0h0M344.9 83.5h0M358.2 94.2h0M366.3 102.3h0M361.7 108.0h0M368.4 94.8h0M340.3 79.0h0M356.0 96.7h0M338.6 112.3h0M353.9 69.6h0M341.5 96.7h0M341.8 95.3h0M353.1 110.7h0M331.2 70.0h0M341.9 104.7h0M345.6 86.9h0M364.9 111.3h0M363.6 107.0h0M352.5 88.0h0M346.5 73.1h0M347.6 69.6h0M349.6 86.8h0M331.1 93.4h0M345.7 94.9h0M366.1 108.2h0M345.6 93.9h0M369.5 111.8h0M341.5 80.9h0M337.1 110.7h0M351.6 79.1h0M365.7 107.4h0M342.1 94.2h0M345.6 105.2h0M368.6 108.4h0M340.9 71.1h0M338.8 92.8h0M361.1 91.2h0M365.8 84.8h0M351.3 89.7h0M364.1 94.0h0M349.2 85.1h0M369.3 88.5h0M331.7 108.0h0M370.4 100.8h0M344.9 97.5h0M335.3 75.7h0M344.2 79.5h0M350.9 99.8h0M354.3 87.6h0M364.7 84.3h0M337.2 106.2h0M350.5 72.6h0M358.1 71.9h0M363.2 87.6h0M353.7 102.2h0M356.8 110.5h0M344.6 78.2h0M361.4 110.3h0M355.7 75.6h0M353.0 78.9h0M348.9 108.0h0M340.2 111.3h0M356.8 95.3h0M337.5 87.1h0M366.6 97.5h0M367.4 102.6h0M367.5 82.5h0M341.6 74.8h0M335.6 99.5h0M346.4 77.4h0M342.5 80.3h0M345.9 93.2h0M369.7 91.8h0M370.0 102.5h0M353.3 91.8h0M336.4 92.6h0M343.1 69.1h0M346.0 71.8h0M350.2 89.7h0M335.9 108.7h0M348.8 83.3h0M355.9 73.6h0M348.2 93.0h0M336.5 74.6h0M336.7 106.3h0M356.1 106.6h0M354.8 93.9h0M348.7 83.2h0M350.9 76.3h0M369.0 89.2h0M339.6 106.1h0M367.3 77.1h0M366.2 108.0h0M352.3 83.5h0M331.1 97.5h0M352.4 108.0h0M357.2 107.0h0" stroke="#6a5ac4" stroke-width="0.8" stroke-linecap="round" opacity="0.72"/>
</g>
<path d="M245.5,76.6C246.2,75.5 248.9,75.3 250.6,75.2C252.3,75.1 254.5,75.2 255.7,76.0C256.9,76.8 257.7,78.8 257.7,80.1C257.7,81.4 256.9,83.0 255.7,83.8C254.5,84.5 252.1,84.9 250.6,84.6C249.0,84.3 247.3,83.5 246.5,82.2C245.6,80.8 244.8,77.8 245.5,76.6Z" fill="#fff" opacity="0.85"/>
<path d="M252.6,96.1C253.3,94.9 256.4,94.4 257.7,95.0C259.1,95.7 260.3,98.1 260.8,100.1C261.3,102.2 261.3,106.3 260.8,107.3C260.3,108.3 258.9,107.1 257.7,106.3C256.5,105.4 254.5,103.9 253.6,102.2C252.8,100.5 251.9,97.2 252.6,96.1Z" fill="#fff" opacity="0.85"/>
<path d="M356.1,75.2C356.9,74.3 359.5,74.0 361.2,74.0C362.9,74.0 365.3,74.3 366.3,75.2C367.3,76.2 367.6,78.4 367.3,79.7C367.0,81.0 365.6,82.3 364.2,82.8C362.9,83.3 360.5,83.3 359.1,82.8C357.8,82.3 356.6,81.0 356.1,79.7C355.5,78.4 355.2,76.2 356.1,75.2Z" fill="#fff" opacity="0.85"/>
<path d="M360.1,89.9C360.7,88.7 363.0,87.4 364.2,87.9C365.4,88.4 366.8,90.9 367.3,93.0C367.8,95.0 367.8,99.3 367.3,100.1C366.8,101.0 365.3,99.0 364.2,98.1C363.2,97.2 361.8,96.4 361.2,95.0C360.5,93.7 359.6,91.1 360.1,89.9Z" fill="#fff" opacity="0.85"/>
<line x1="171.4" y1="108.6" x2="171.4" y2="121.5" stroke="#222" stroke-width="0.7"/>
<line x1="171.1" y1="121.5" x2="184" y2="121.5" stroke="#222" stroke-width="0.7"/>
<path d="M170.5,109.6 L171.4,107.8 L172.3,109.6Z" fill="#222" stroke="none" stroke-width="1"/>
<path d="M183.2,120.6 L185,121.5 L183.2,122.4Z" fill="#222" stroke="none" stroke-width="1"/>
<text x="169.3" y="111.85" font-size="4.8" font-weight="bold" fill="#000" text-anchor="middle" textLength="20" lengthAdjust="spacingAndGlyphs" transform="rotate(-90 169.3 111.85)">UMAP_2</text>
<text x="170.8" y="127.4" font-size="4.8" font-weight="bold" fill="#000" text-anchor="start" textLength="20.7" lengthAdjust="spacingAndGlyphs">UMAP_1</text>
<text x="218" y="139.9" font-size="9.2" font-weight="bold" fill="#000" text-anchor="middle" textLength="50.4" lengthAdjust="spacingAndGlyphs">HPV+HNSCC</text>
<text x="323.8" y="139.9" font-size="9.2" font-weight="bold" fill="#000" text-anchor="middle" textLength="49" lengthAdjust="spacingAndGlyphs">HPV-HNSCC</text>
<text x="482" y="30.2" font-size="8.4" font-weight="bold" fill="#000" text-anchor="middle" textLength="26.5" lengthAdjust="spacingAndGlyphs">CCL20</text>
<line x1="431.7" y1="40" x2="431.7" y2="108.5" stroke="#222" stroke-width="0.8"/>
<line x1="431.5" y1="108.5" x2="522" y2="108.5" stroke="#222" stroke-width="0.8"/>
<line x1="430" y1="105.7" x2="432" y2="105.7" stroke="#222" stroke-width="0.7"/>
<text x="424.6" y="108.2" font-size="7.4" fill="#333" text-anchor="middle">0</text>
<line x1="430" y1="87.04" x2="432" y2="87.04" stroke="#222" stroke-width="0.7"/>
<text x="424.6" y="89.54" font-size="7.4" fill="#333" text-anchor="middle">2</text>
<line x1="430" y1="68.38" x2="432" y2="68.38" stroke="#222" stroke-width="0.7"/>
<text x="424.6" y="70.88" font-size="7.4" fill="#333" text-anchor="middle">4</text>
<line x1="430" y1="49.72" x2="432" y2="49.72" stroke="#222" stroke-width="0.7"/>
<text x="424.6" y="52.22" font-size="7.4" fill="#333" text-anchor="middle">6</text>
<line x1="457.4" y1="108.5" x2="457.4" y2="110.5" stroke="#222" stroke-width="0.7"/>
<line x1="501.4" y1="108.5" x2="501.4" y2="110.5" stroke="#222" stroke-width="0.7"/>
<text x="417.8" y="75" font-size="9.6" fill="#333" text-anchor="middle" textLength="70" lengthAdjust="spacingAndGlyphs" transform="rotate(-90 417.8 75)">Expression Level</text>
<path d="M438.3,106.3 C446,105.2 451,104 454,101.5 C455.5,99 455,96 454.5,91 C454.2,82 454.8,72 455.8,64 C456.6,58 457.1,50 457.4,43.3 C457.7,50 458.2,58 459,64 C460,72 460.6,82 460.3,91 C459.8,96 459.3,99 460.8,101.5 C463.8,104 468.8,105.2 477,106.3 Z" fill="#e86060" stroke="#222" stroke-width="0.4"/>
<path d="M460.6 76.8h0M449.0 68.7h0M448.8 92.8h0M449.0 71.9h0M464.7 87.1h0M460.5 66.8h0M447.3 72.9h0M453.6 65.8h0M451.9 84.2h0M445.6 71.4h0M452.1 71.7h0M442.9 90.1h0M440.9 94.9h0M471.3 74.6h0M463.4 70.6h0M450.0 66.5h0M460.4 100.9h0M462.4 73.6h0M473.1 80.1h0M463.2 90.7h0M448.2 66.6h0M453.1 66.0h0M471.8 82.1h0M474.0 74.5h0M442.2 66.1h0M467.3 68.9h0M468.0 81.3h0M444.6 88.0h0M446.2 62.3h0M474.4 90.8h0M453.8 70.2h0M457.3 55.7h0M442.0 92.5h0M447.5 72.6h0M440.7 93.6h0M440.7 83.9h0M451.2 83.2h0M472.4 81.8h0M441.9 87.9h0M463.7 64.8h0M463.5 79.8h0M455.4 88.6h0M462.9 79.1h0M469.3 79.7h0M449.9 88.1h0M461.4 91.2h0M459.6 79.7h0M462.1 67.3h0M462.7 91.3h0M459.3 67.7h0M464.3 83.6h0M465.2 65.5h0M449.3 68.6h0M461.5 66.8h0M472.8 92.8h0M467.0 61.8h0M474.9 61.3h0M450.6 76.5h0M442.6 97.5h0M471.3 75.4h0M450.5 80.9h0M452.0 97.9h0M444.2 70.3h0M443.4 65.6h0M448.7 78.1h0M458.4 86.8h0M450.7 83.8h0M464.8 70.5h0M473.3 90.0h0M461.6 74.8h0M455.6 89.6h0M454.2 92.4h0M446.9 79.9h0M462.4 92.8h0M473.0 65.7h0M469.4 62.3h0M472.0 92.5h0M449.5 75.4h0M446.9 77.0h0M474.8 90.1h0M446.2 77.2h0M453.3 66.2h0M453.5 75.6h0M452.7 63.4h0M451.1 64.3h0M454.5 97.5h0M446.8 66.3h0M442.1 93.8h0M461.4 100.2h0M453.3 92.8h0M464.0 90.8h0M466.8 84.1h0M474.2 94.6h0M461.8 76.8h0M467.3 83.7h0M440.5 82.9h0M452.2 57.4h0M460.7 92.4h0M444.7 63.9h0M447.9 83.1h0M462.8 65.0h0M450.0 72.5h0M463.2 96.1h0M460.3 62.7h0M459.7 96.9h0M451.3 71.4h0M469.8 73.6h0M453.2 71.9h0M473.6 54.4h0M464.2 92.1h0M469.2 99.2h0M448.5 91.7h0M464.3 79.9h0M451.9 86.9h0M453.5 76.6h0M466.3 92.5h0M450.4 89.7h0M440.4 86.2h0M451.9 73.1h0M464.7 97.4h0M445.8 70.8h0M447.6 81.5h0M449.3 76.5h0M448.3 87.8h0M451.5 89.0h0M473.4 95.3h0M447.8 60.9h0M442.1 63.1h0M468.2 73.9h0M469.9 56.6h0M458.9 67.0h0M445.3 99.1h0M470.8 87.6h0M469.1 85.3h0M474.6 55.4h0M460.1 63.1h0M465.3 65.7h0M461.4 71.7h0M462.7 69.3h0M440.7 53.2h0M465.2 76.0h0M468.1 68.9h0M471.2 58.6h0M465.8 79.9h0M460.9 87.5h0M449.9 69.0h0M469.8 90.3h0M468.3 85.7h0M461.3 96.0h0M447.9 91.7h0M463.3 73.9h0M453.0 62.7h0M453.6 93.8h0M450.6 63.1h0M461.1 100.8h0M453.2 84.9h0M440.5 94.4h0M450.5 53.8h0M440.5 85.0h0M442.7 84.5h0M453.5 80.7h0M451.6 85.5h0M447.8 78.8h0M455.5 70.9h0M470.2 66.3h0M448.0 92.8h0M460.7 65.1h0M468.2 77.9h0M470.5 97.6h0M452.5 62.6h0M459.4 76.5h0M452.4 84.4h0M467.2 80.8h0M468.0 86.3h0M455.8 95.9h0M449.8 96.6h0M464.4 83.3h0M455.8 85.9h0M448.1 90.3h0M472.2 77.8h0M440.5 66.6h0M441.7 60.3h0M468.5 89.7h0M462.8 99.9h0M453.9 85.9h0M462.3 61.9h0M462.0 51.5h0M449.6 72.2h0M463.4 74.4h0M474.8 95.6h0M443.8 90.6h0M463.8 63.0h0M442.5 94.6h0M466.0 87.2h0M454.4 81.0h0M472.3 88.0h0M451.0 69.1h0M449.1 82.6h0M468.8 83.9h0M473.5 64.4h0M469.0 74.5h0M441.1 76.0h0M465.2 91.3h0M465.4 72.1h0M473.3 76.7h0M464.1 66.9h0M462.2 45.0h0M442.2 64.7h0M468.1 80.9h0M441.6 91.0h0M450.4 67.6h0M440.3 73.0h0M467.8 92.0h0M464.8 91.6h0M471.0 61.7h0M469.7 80.5h0M452.9 64.0h0M448.9 84.5h0M446.9 75.7h0M461.0 88.9h0M446.2 78.8h0M468.6 88.5h0M446.7 67.3h0M467.0 89.1h0M466.2 85.2h0M456.7 90.6h0M445.4 79.0h0M464.9 80.7h0M445.4 56.7h0M440.3 67.5h0M448.0 93.3h0M454.2 70.5h0M466.2 77.2h0M467.4 75.7h0M450.2 72.8h0M464.4 57.2h0M462.6 85.2h0M452.7 97.4h0M466.7 70.9h0M452.6 59.4h0M466.0 83.9h0M464.4 73.6h0M460.1 74.9h0M469.2 46.7h0M460.6 87.7h0M458.1 72.4h0M462.1 63.7h0M454.8 67.7h0M446.0 81.5h0M469.9 96.7h0M441.7 77.9h0M461.6 65.4h0M465.1 71.4h0M474.3 70.5h0M469.9 84.4h0M468.9 86.8h0M468.0 66.6h0M452.1 78.1h0M446.3 56.7h0M449.4 83.6h0M453.5 92.2h0M472.8 99.4h0M444.5 62.8h0M469.2 76.1h0M441.4 71.0h0M465.7 90.2h0M454.7 67.4h0M469.9 80.9h0M464.2 78.1h0M469.6 59.7h0M472.0 69.9h0M464.6 99.4h0M447.4 82.6h0M461.1 64.5h0M442.6 89.5h0M470.3 78.9h0M473.0 68.9h0M449.6 82.2h0M468.5 78.5h0M463.0 76.8h0M455.8 69.3h0M457.2 69.1h0M463.8 75.7h0M470.4 67.1h0M463.9 91.8h0M441.2 62.1h0M452.3 92.7h0M461.9 93.5h0M472.2 67.4h0M451.5 59.9h0M462.2 74.0h0M465.1 83.4h0M463.8 64.7h0M450.4 87.8h0M461.0 80.5h0M469.9 66.1h0M463.8 67.5h0M453.1 94.4h0M472.9 95.3h0M463.5 62.1h0M445.7 72.8h0M444.2 96.6h0M471.9 67.9h0M467.9 73.9h0M453.4 89.6h0M467.5 65.6h0M441.7 77.0h0M470.9 81.4h0M455.5 97.0h0M474.5 83.8h0M447.9 98.1h0M448.7 79.4h0M461.1 74.0h0M446.6 87.5h0M472.7 81.4h0M467.8 95.9h0M461.5 84.3h0M447.0 96.6h0M440.7 74.1h0M445.2 60.7h0M450.1 67.6h0M451.0 81.0h0M444.3 64.3h0M444.2 91.4h0M468.1 97.7h0M462.0 85.3h0M475.0 77.3h0M466.7 71.7h0M443.5 72.2h0M450.9 74.3h0M449.0 92.3h0M469.4 95.0h0M447.1 75.1h0M459.5 66.4h0M464.9 70.2h0M460.6 75.0h0M457.5 97.4h0M473.8 71.2h0M465.6 62.2h0M441.9 63.7h0M448.1 61.1h0M467.8 89.5h0M464.2 74.1h0M473.8 93.1h0M470.2 66.7h0M453.3 86.3h0M473.2 91.3h0M453.7 64.4h0M443.6 64.6h0M448.2 65.7h0M441.1 68.2h0M452.1 80.9h0M440.4 68.2h0M474.7 72.0h0M441.4 63.7h0M466.8 62.9h0M460.5 87.6h0M449.8 82.1h0M468.9 84.9h0M446.1 92.1h0M460.5 98.7h0M448.6 96.0h0M451.9 66.8h0M442.3 92.5h0M460.6 81.7h0M462.4 62.0h0M451.2 90.7h0M444.4 87.5h0M461.1 92.9h0M464.5 56.6h0M447.1 84.9h0M472.4 68.2h0M441.5 74.1h0M453.7 67.0h0M472.7 80.2h0M472.7 78.0h0M462.0 67.0h0M469.2 78.9h0M461.3 90.2h0M441.8 56.7h0M452.0 80.3h0M461.3 68.1h0M442.5 58.0h0M444.8 94.9h0M453.6 63.9h0M448.8 60.3h0M465.4 70.7h0M448.9 65.9h0M474.8 79.7h0M464.9 61.6h0M445.5 97.6h0M450.9 82.4h0M467.7 85.1h0M469.8 61.9h0M468.5 68.6h0M461.2 69.7h0M447.0 100.3h0M447.8 82.6h0M472.3 66.3h0M460.7 76.2h0M462.9 62.0h0M445.2 76.4h0M470.9 87.7h0M468.5 76.4h0M447.0 95.3h0M453.9 58.9h0M441.9 65.3h0M446.5 61.3h0M449.9 75.0h0M451.5 87.7h0M451.7 87.4h0M473.5 79.8h0M468.0 72.7h0M458.8 67.3h0M463.9 91.2h0M457.7 88.5h0M453.6 95.7h0M451.2 69.1h0M441.8 74.1h0M453.0 75.7h0M467.8 75.3h0M469.9 77.7h0M469.6 61.8h0M449.0 82.0h0M466.9 68.1h0M471.1 64.2h0M443.0 75.8h0M446.3 70.8h0M461.0 78.1h0M448.7 92.9h0M465.9 72.6h0M444.9 89.3h0M451.4 83.0h0M465.8 99.9h0M447.4 87.1h0M444.5 93.5h0M462.4 91.1h0M446.2 83.1h0M440.6 74.1h0M449.4 67.6h0M463.1 63.1h0M442.3 86.7h0M460.5 86.2h0M461.1 94.6h0M445.2 99.4h0M462.6 97.6h0M444.6 51.6h0M445.7 67.6h0M452.7 69.2h0M449.1 85.1h0M471.5 81.1h0M440.8 76.9h0M445.8 89.6h0M448.9 97.9h0M460.7 80.0h0M472.0 98.8h0M458.3 84.5h0M462.8 66.0h0M442.9 63.6h0M448.6 93.4h0M464.5 70.7h0M448.2 77.5h0M458.5 75.8h0M461.3 93.1h0M452.7 72.1h0M474.2 91.5h0M454.2 69.3h0M452.8 75.5h0M443.5 98.1h0M469.6 75.2h0M449.6 67.9h0M473.2 75.1h0M472.6 79.9h0M447.6 63.9h0M466.0 81.4h0M445.9 85.9h0M461.2 69.8h0M440.3 56.8h0M441.5 71.1h0M448.0 83.4h0M447.6 82.5h0M465.7 92.0h0M447.5 62.4h0M447.5 76.1h0M447.8 87.7h0M462.0 63.3h0M441.6 87.7h0M464.8 91.1h0M471.6 77.3h0M460.5 80.1h0M464.7 84.6h0M470.3 72.0h0M445.5 82.0h0M457.8 95.2h0M458.7 78.2h0M453.2 68.1h0M443.6 62.4h0M465.4 95.9h0M440.6 71.7h0M455.5 60.9h0M466.5 82.8h0M462.2 62.5h0M468.3 58.9h0M441.2 66.6h0M474.6 90.8h0M474.3 63.3h0M452.8 86.8h0M470.8 62.7h0M453.9 73.2h0M462.3 73.7h0M448.4 97.8h0M453.1 76.1h0M444.0 99.5h0M443.6 67.3h0M453.3 87.6h0M459.5 99.5h0M456.0 95.5h0M451.7 95.5h0M461.7 96.6h0M474.1 87.8h0M448.9 86.2h0M460.9 73.9h0M442.6 78.1h0M442.2 75.4h0M451.4 70.8h0M469.8 90.3h0M465.2 68.4h0M441.1 58.3h0M451.6 68.4h0M464.3 79.5h0M445.6 88.7h0M444.1 68.7h0M440.4 91.0h0M464.7 87.2h0M450.5 77.4h0M451.7 85.0h0M452.2 63.7h0M451.7 74.6h0M447.8 99.8h0M460.5 89.4h0M468.1 69.2h0M446.5 75.5h0M467.8 73.8h0M461.8 94.6h0M442.3 77.0h0M444.8 78.6h0M472.2 93.2h0M467.8 76.1h0M472.5 66.5h0M444.7 84.6h0M474.9 95.6h0M463.4 86.6h0M446.7 88.1h0M441.5 62.5h0M443.6 90.1h0M458.7 81.9h0M472.6 79.5h0M462.5 78.3h0M466.4 78.4h0M467.2 88.7h0M454.6 89.5h0M462.9 70.6h0M449.2 97.7h0M460.7 83.4h0M447.3 71.4h0M466.5 64.0h0M470.9 84.1h0M474.4 62.4h0M461.1 58.5h0M464.6 77.9h0M447.1 75.7h0M462.8 78.9h0M451.7 85.6h0M473.6 49.3h0M461.6 79.6h0M461.1 68.4h0M456.8 64.0h0M457.4 87.5h0M458.3 98.3h0M456.0 90.6h0M468.8 69.9h0M467.0 74.1h0M441.1 93.5h0M451.7 95.3h0M462.2 61.3h0M451.4 84.5h0M447.4 90.4h0M441.6 89.2h0M442.0 96.2h0M465.0 59.6h0M444.8 91.5h0M447.8 76.2h0M441.7 74.3h0M458.4 96.0h0M460.9 71.7h0M474.3 88.6h0M448.6 78.9h0M465.7 77.7h0M464.4 67.2h0M449.2 94.6h0M465.7 94.1h0M461.0 90.7h0M447.0 76.4h0M449.5 57.8h0M462.2 69.0h0M456.0 59.1h0M457.6 100.6h0M457.4 96.9h0M472.6 66.4h0M464.4 89.5h0M469.0 81.3h0M470.0 92.2h0M466.1 82.4h0M466.7 68.8h0M440.7 99.8h0M472.5 98.0h0M467.1 81.9h0M470.6 93.6h0M446.2 66.7h0M443.0 76.9h0M468.8 75.2h0M446.8 92.9h0M458.5 91.2h0M467.6 82.4h0M466.1 63.5h0M450.3 90.6h0M446.4 79.6h0M473.2 91.2h0M448.4 90.2h0M453.9 95.6h0M461.1 65.7h0M448.5 81.0h0M453.5 90.8h0M470.5 73.8h0M445.2 73.2h0M470.4 78.6h0M443.2 87.4h0M463.1 88.4h0M463.5 74.9h0M444.8 83.1h0M464.3 66.3h0M466.5 68.5h0M451.0 80.3h0M444.1 60.2h0M464.5 72.0h0M467.3 77.4h0M471.2 71.9h0M441.4 53.6h0M451.3 71.3h0M446.0 63.0h0M461.7 96.7h0M446.4 61.3h0M449.8 69.2h0M467.3 79.0h0M446.3 76.1h0M474.5 78.6h0M460.6 65.6h0M441.4 79.3h0M466.6 50.6h0M470.7 66.7h0M442.2 72.5h0M468.6 74.3h0M448.6 75.0h0M466.6 84.8h0M467.9 70.3h0M467.2 88.8h0M458.2 67.6h0M466.0 84.4h0M466.4 85.5h0M468.7 72.2h0M447.1 79.2h0M473.1 83.1h0M459.3 59.8h0M451.7 63.3h0M451.6 77.0h0M441.7 99.7h0M467.8 73.1h0M443.7 82.4h0M453.9 90.0h0M446.6 88.0h0M467.9 71.4h0M451.1 68.6h0M472.8 76.8h0M468.0 88.8h0M445.3 87.0h0M444.0 73.4h0M467.0 92.0h0M448.2 89.3h0M450.2 89.7h0M474.5 94.3h0M453.0 65.7h0M451.7 50.5h0M469.1 66.0h0M454.8 74.2h0M471.9 82.0h0M470.8 78.2h0M442.1 91.2h0M466.1 68.5h0M463.3 80.8h0M452.3 74.5h0M472.9 78.9h0M464.5 96.2h0M460.3 85.4h0M463.1 85.2h0M470.1 62.7h0M473.4 81.5h0M443.9 80.7h0M470.3 81.2h0M444.3 64.5h0M471.3 65.5h0M465.4 87.5h0M473.7 87.2h0M461.6 75.4h0M444.9 72.2h0M462.7 89.7h0M456.7 75.8h0M449.9 80.8h0M452.7 84.6h0M469.8 66.8h0M467.4 72.7h0M449.2 78.9h0M448.6 86.4h0M444.5 54.0h0M449.8 56.6h0M445.4 67.6h0M470.8 71.5h0M466.7 87.1h0M448.3 64.1h0M449.8 63.4h0M460.1 68.2h0M464.5 88.8h0M449.4 85.0h0M441.8 85.5h0M468.8 80.9h0M464.1 83.0h0M449.1 68.4h0M452.1 69.3h0M470.4 76.7h0M460.7 76.0h0M447.2 77.3h0M469.3 66.7h0M465.0 85.1h0M453.2 65.3h0M472.9 93.6h0M473.4 84.9h0M462.8 84.6h0M450.5 67.4h0M443.1 88.4h0M470.3 94.2h0M448.9 69.8h0M467.0 88.2h0M471.4 88.7h0M446.2 84.7h0M471.4 86.4h0M466.2 95.2h0M474.6 93.5h0M464.0 64.1h0M446.3 69.0h0M471.4 71.1h0M440.6 67.1h0M468.7 63.9h0M461.5 45.7h0M454.3 76.2h0M474.1 100.3h0M469.1 63.9h0M441.6 74.0h0M447.2 69.2h0M465.1 96.1h0M464.6 57.6h0M467.8 85.9h0M445.2 65.8h0M471.5 64.5h0M454.3 78.5h0M452.1 80.2h0M446.3 62.6h0M451.3 83.5h0M469.4 69.0h0M472.1 78.9h0M473.2 66.8h0M443.5 95.9h0M461.8 82.4h0M452.0 68.0h0M459.0 92.3h0M469.0 89.3h0M454.0 92.2h0M468.6 64.1h0M467.6 56.4h0M450.2 76.8h0M458.4 75.7h0M466.1 64.1h0M454.2 86.6h0M465.5 60.9h0M464.1 58.6h0M448.0 97.0h0M452.6 87.2h0M448.0 79.3h0M448.4 65.1h0M463.9 76.5h0M448.4 100.0h0M465.9 89.1h0M445.2 89.9h0M469.4 60.1h0M468.8 82.5h0M468.5 78.2h0M445.7 64.1h0M473.1 89.7h0M456.2 58.6h0M465.4 60.9h0M454.3 64.4h0M474.6 74.7h0M465.1 88.0h0M459.1 77.6h0M453.0 71.1h0M446.7 61.7h0M447.0 79.5h0M446.7 74.3h0M472.2 83.2h0M461.7 94.0h0M455.3 85.4h0M465.9 98.1h0M456.9 72.8h0M469.0 93.1h0M446.7 70.4h0M464.2 87.3h0M455.0 90.5h0M456.8 99.4h0M471.9 88.5h0M469.5 55.3h0M469.5 71.7h0M457.1 64.7h0M474.8 96.6h0M466.8 72.9h0M470.8 84.1h0M474.7 65.2h0M473.1 78.0h0M441.2 75.3h0M442.3 98.1h0M462.7 75.8h0M449.6 57.9h0M450.5 89.7h0M467.1 79.6h0M467.0 75.8h0M441.5 88.3h0M445.2 68.8h0M449.0 79.6h0M442.1 72.7h0M473.4 70.9h0M465.4 79.7h0M456.1 97.4h0M460.8 87.9h0M447.0 72.5h0M474.1 89.2h0M471.1 87.4h0M448.5 73.9h0M452.6 82.9h0M462.1 72.3h0M453.1 75.6h0M453.7 77.4h0M473.3 62.0h0M450.6 88.6h0M448.6 83.7h0M451.7 76.1h0M453.2 59.4h0M448.5 85.4h0M440.3 92.3h0M471.5 68.9h0M452.4 61.2h0M460.6 90.3h0M469.6 85.7h0M461.5 65.2h0M443.7 64.5h0M453.9 93.3h0M467.2 73.0h0M455.5 92.6h0M445.8 95.9h0M461.7 76.7h0M443.1 71.4h0M464.4 82.9h0M453.5 80.7h0M466.2 89.4h0M447.3 79.3h0M473.2 93.4h0M452.8 64.4h0M461.0 76.2h0M473.4 82.3h0M468.6 71.7h0M474.5 67.8h0M460.8 66.7h0M448.8 76.8h0M445.2 78.0h0M440.5 66.1h0M466.9 73.5h0M463.5 71.9h0M442.9 83.3h0M468.9 74.7h0M440.3 93.3h0M465.2 82.4h0M456.6 97.6h0M447.1 69.5h0M440.7 89.9h0M471.8 99.1h0M448.2 80.9h0M447.0 71.5h0M453.2 64.9h0M452.5 100.9h0M448.2 67.7h0M465.8 74.8h0M451.2 57.7h0M460.9 96.8h0M461.7 73.9h0M464.6 94.0h0M468.8 79.9h0M444.6 75.2h0M461.9 85.6h0M440.7 76.5h0M465.0 70.7h0M451.6 85.1h0M467.6 75.7h0M442.3 68.6h0M461.9 61.7h0M471.8 64.8h0M471.8 68.0h0M452.1 87.9h0M449.3 90.8h0M471.6 87.4h0M444.6 59.0h0M445.1 73.9h0M460.8 95.2h0M451.5 85.7h0M472.1 73.2h0M450.9 57.3h0M450.4 93.8h0M447.9 65.3h0M456.0 56.3h0M448.0 57.2h0M441.6 94.0h0M447.5 80.3h0M447.1 60.7h0M474.4 92.1h0M458.5 67.4h0M441.1 77.3h0M450.6 90.0h0M442.6 80.4h0M450.8 82.9h0M465.3 94.6h0M469.8 98.9h0M451.6 90.4h0M444.0 87.3h0M452.2 69.9h0M460.8 69.0h0M452.3 70.4h0M468.6 61.1h0M444.7 70.1h0M447.8 96.5h0M444.7 77.3h0M466.9 66.4h0M446.9 66.7h0M456.4 70.1h0M444.2 89.2h0M471.3 60.9h0M445.4 76.6h0M467.5 64.9h0M449.5 76.7h0M444.0 72.3h0M471.0 86.5h0M447.9 62.9h0M440.6 91.8h0M469.0 84.4h0M450.0 83.8h0M471.8 75.2h0M440.4 93.9h0M470.4 63.0h0M442.6 83.1h0M463.2 89.6h0M442.0 65.9h0M447.2 76.6h0M465.7 90.7h0M474.5 81.2h0M448.9 85.2h0M443.9 74.1h0M468.2 69.9h0M461.0 78.4h0M447.8 62.9h0M459.1 69.8h0M446.1 80.0h0M453.6 71.1h0M445.7 76.8h0M453.8 63.8h0M461.2 84.7h0M464.1 64.7h0M443.3 96.4h0M460.5 88.1h0M472.0 66.1h0M460.6 63.5h0M461.0 78.1h0M443.5 70.3h0M471.2 89.5h0M450.8 64.8h0M443.1 76.9h0M464.9 85.9h0M463.4 78.6h0M472.8 98.3h0M447.8 56.1h0M453.9 90.0h0M448.8 74.8h0M457.1 73.8h0M442.8 83.4h0M444.9 78.7h0M444.1 58.8h0M452.7 85.8h0M470.0 61.0h0M448.1 75.3h0M465.5 60.9h0M457.1 79.1h0M450.9 89.3h0M470.7 68.6h0M451.7 77.4h0M451.5 72.0h0M465.9 89.5h0M465.2 100.5h0M448.4 96.2h0M456.6 68.6h0M468.3 73.5h0M464.3 84.6h0M461.6 80.1h0M446.0 62.4h0M451.4 58.1h0M470.4 76.5h0M444.2 67.4h0M467.9 74.1h0M445.6 69.1h0M461.4 59.7h0M446.1 77.3h0M471.6 60.8h0M448.1 67.6h0M465.0 98.2h0M464.7 60.6h0M453.7 82.3h0M474.8 74.0h0M474.7 71.3h0M454.7 59.8h0M464.0 64.5h0M462.0 94.8h0M446.4 71.8h0M470.7 86.2h0M464.7 60.6h0M456.1 82.7h0M445.9 77.2h0M471.0 58.2h0M453.0 78.4h0M467.4 92.3h0M457.1 93.2h0M453.1 61.0h0M473.4 69.4h0M468.5 76.7h0M466.6 64.5h0M447.2 86.9h0M465.0 57.5h0M452.7 91.3h0M445.7 78.4h0M448.6 73.4h0M445.1 66.0h0M464.6 68.7h0M446.4 85.4h0M460.6 64.1h0M468.9 80.2h0M451.3 62.4h0M447.0 91.6h0M444.5 87.4h0M471.1 67.4h0M474.6 88.6h0M474.5 86.3h0M457.0 75.5h0M474.8 92.0h0M472.0 78.4h0M450.0 92.0h0M452.8 76.7h0M456.4 66.6h0M473.8 61.7h0M452.4 65.8h0M442.8 67.3h0M452.6 70.0h0M461.9 74.5h0M443.0 90.0h0M465.3 89.5h0M445.3 93.4h0M468.3 87.2h0M441.7 88.2h0M467.0 81.8h0M448.9 88.0h0M448.1 90.2h0M443.2 95.8h0M460.5 61.8h0M452.8 85.5h0M472.1 96.8h0M473.7 86.0h0M468.0 85.4h0M474.0 69.1h0M462.8 64.9h0M442.9 67.9h0M450.1 100.5h0M452.1 97.6h0M450.2 89.1h0M449.5 86.9h0M472.2 88.4h0M449.8 63.5h0M464.4 82.7h0M461.7 64.7h0M444.8 87.4h0M464.9 75.8h0M462.9 62.8h0M469.4 83.1h0M464.7 86.8h0M450.4 81.7h0M470.7 62.5h0M441.5 66.0h0M459.3 76.9h0M472.5 60.8h0M462.5 79.6h0M469.4 61.0h0M443.5 81.5h0M462.7 70.5h0M469.8 87.6h0M450.4 89.5h0M445.3 76.7h0M455.9 91.3h0M446.7 81.1h0M461.5 87.0h0M462.3 74.1h0M458.3 60.9h0M443.9 73.2h0M472.0 83.4h0M469.3 69.0h0M452.0 65.4h0M441.1 85.8h0M464.5 91.1h0M443.7 76.3h0M472.1 82.7h0M452.1 75.9h0M443.7 93.5h0M465.3 93.9h0M449.9 85.8h0M443.9 93.3h0M445.4 70.2h0M448.7 65.1h0M470.1 86.9h0M447.3 83.8h0M473.2 89.6h0M472.4 69.2h0M467.0 63.9h0M451.3 92.3h0M457.2 62.2h0M469.0 89.4h0M445.3 70.7h0M443.6 88.0h0M450.2 88.6h0M472.9 93.1h0M471.3 82.6h0M473.2 59.3h0M453.3 65.5h0M445.6 95.2h0M468.3 74.9h0M464.3 101.0h0M459.3 71.1h0M458.9 82.3h0M467.1 60.6h0M445.7 77.8h0M453.2 75.1h0M444.9 79.2h0M440.7 75.3h0M465.6 90.1h0M452.5 97.9h0M444.3 81.3h0M459.2 98.8h0M459.6 71.5h0M461.8 60.0h0M447.6 60.4h0M470.9 62.7h0M473.7 80.8h0M448.0 87.5h0M455.9 79.3h0M465.9 62.0h0M444.2 77.9h0M442.3 61.9h0M444.7 71.3h0M450.9 60.9h0M452.5 66.3h0M473.5 72.0h0M440.5 90.5h0M446.1 79.6h0M444.5 66.7h0M455.4 89.2h0M471.3 71.5h0M468.0 57.4h0M442.7 83.4h0M441.3 81.3h0M452.6 71.8h0M452.0 96.0h0M446.0 65.4h0M448.9 80.1h0M442.0 67.2h0M441.0 82.1h0M448.2 73.8h0M441.4 87.1h0M448.6 78.2h0M458.9 81.2h0M443.5 95.6h0M443.9 94.8h0M453.9 93.0h0M449.3 66.6h0M470.5 75.8h0M469.0 86.3h0M470.3 89.9h0M452.2 78.4h0M471.0 85.5h0M461.5 74.4h0M454.6 73.0h0M441.1 62.4h0M470.0 75.2h0M458.5 66.9h0M472.7 82.6h0M441.5 77.8h0M466.8 54.2h0M442.8 62.0h0M466.5 84.3h0M440.4 57.4h0M448.9 91.0h0M459.6 85.3h0M440.4 92.1h0M454.4 84.4h0M457.2 62.9h0M452.0 84.3h0M448.9 83.6h0M460.4 80.4h0M468.0 88.9h0M449.2 66.6h0M442.3 84.8h0M462.0 74.6h0M451.9 80.5h0M463.0 62.5h0M442.4 95.2h0M444.6 75.1h0M473.3 56.7h0M467.9 61.5h0M468.0 71.1h0M442.5 75.3h0M461.4 57.9h0M474.5 81.2h0M471.2 61.3h0M451.0 81.6h0M440.8 97.0h0M442.6 58.5h0M449.6 95.4h0M454.5 81.1h0M468.5 97.9h0M454.3 87.8h0M469.8 78.6h0M470.3 60.9h0M441.5 89.0h0M449.7 68.2h0M443.2 93.6h0M472.0 73.6h0M443.5 95.9h0M473.9 95.8h0M445.5 70.1h0M450.5 90.5h0M471.9 71.4h0M465.2 70.0h0M442.6 88.6h0M447.3 90.4h0M466.7 92.1h0M446.4 87.4h0M453.6 73.4h0M463.4 72.2h0M445.3 64.7h0M463.6 87.6h0M464.9 65.7h0M467.0 81.1h0M469.1 99.4h0M447.0 58.7h0M456.5 64.3h0M462.2 86.7h0M473.8 68.8h0M464.3 95.0h0M464.4 64.4h0M471.3 73.2h0M445.5 69.5h0M449.2 73.7h0M467.5 84.1h0M461.8 96.5h0M461.2 55.9h0M451.2 87.5h0M466.5 55.0h0M447.1 64.8h0M472.2 70.8h0M452.7 75.0h0M461.3 83.6h0M461.0 96.5h0M448.5 78.1h0M443.0 79.5h0M441.5 69.7h0M446.3 65.5h0M444.8 82.3h0M441.6 68.2h0M454.2 64.6h0M441.5 89.9h0M450.7 59.0h0M453.3 89.4h0M466.6 82.9h0M451.7 88.4h0M467.2 65.8h0M464.1 73.1h0M465.9 63.7h0M441.6 78.8h0M470.7 72.6h0M464.1 86.4h0M440.5 68.8h0M455.3 98.3h0M464.3 77.1h0M443.6 61.0h0M474.3 78.9h0M472.4 89.8h0M468.5 69.2h0M456.0 81.3h0M474.4 81.1h0M446.0 64.2h0M461.7 89.1h0M447.3 62.6h0M466.9 98.4h0M468.9 68.4h0M460.4 59.3h0M446.0 90.3h0M467.0 71.9h0M464.7 70.6h0M470.8 85.9h0M466.9 88.7h0M473.6 86.3h0M470.7 78.1h0M458.1 91.3h0M440.6 98.9h0M443.0 77.4h0M470.2 74.3h0M465.1 76.5h0M446.7 76.6h0M448.5 65.9h0M461.7 99.4h0M471.9 60.2h0M443.0 87.3h0M472.2 61.1h0M441.5 93.3h0M450.6 74.7h0M449.5 68.6h0M463.7 85.7h0M455.5 96.7h0M441.0 60.5h0M468.5 91.4h0M449.1 78.3h0M468.6 77.1h0M441.3 61.7h0M461.0 76.6h0M456.7 56.6h0M462.2 100.3h0M452.4 68.3h0M470.9 80.2h0M465.2 73.4h0M441.8 75.2h0M473.9 94.1h0M443.1 70.5h0M450.6 66.4h0M449.9 71.1h0M450.5 73.1h0M474.5 85.1h0M452.6 92.0h0M465.5 90.3h0M471.6 77.3h0M447.3 68.3h0M451.1 72.0h0M469.6 76.5h0M468.7 61.7h0M457.7 57.7h0M451.0 84.5h0M449.6 87.8h0M460.4 60.2h0M441.2 83.6h0M454.6 61.1h0M471.8 65.4h0M468.9 93.0h0M463.7 58.1h0M449.7 85.7h0M448.6 70.4h0M472.3 76.2h0M450.9 98.0h0M463.7 65.2h0M466.0 86.8h0M444.7 63.3h0M450.9 81.3h0M471.9 74.6h0M451.6 72.4h0M449.5 82.3h0M451.2 89.5h0M451.2 96.7h0M464.9 82.4h0M466.1 74.6h0M474.9 72.2h0M473.0 71.0h0M463.4 63.0h0M463.2 83.9h0M472.5 95.8h0M468.1 71.8h0M452.2 75.1h0M461.2 97.3h0M460.7 94.7h0M453.2 67.4h0M444.5 85.3h0M448.8 84.1h0M443.9 67.7h0M461.0 94.2h0M448.1 70.0h0M469.1 64.2h0M463.4 89.4h0M451.8 87.9h0M468.8 63.2h0M463.4 82.3h0M472.6 99.7h0M450.7 61.2h0M467.0 77.5h0M462.1 63.8h0M447.5 89.5h0M448.4 94.3h0M473.2 63.8h0M461.5 68.6h0M471.8 60.4h0M471.3 73.0h0M442.0 70.3h0M466.4 57.1h0M463.2 96.9h0M457.6 82.6h0M443.5 80.1h0M467.7 96.8h0M462.6 65.3h0M444.0 52.5h0M463.9 70.8h0M460.8 60.9h0M441.6 78.2h0M468.8 93.8h0M466.8 72.7h0M447.9 66.3h0M445.8 87.7h0M474.0 89.6h0M452.9 87.4h0M474.0 82.3h0M475.0 66.7h0M463.7 71.2h0M445.0 95.6h0M465.1 88.7h0M464.2 100.1h0M459.4 88.8h0M441.2 73.7h0M444.6 69.0h0M473.8 76.9h0M442.0 68.8h0M447.3 56.6h0M443.6 70.8h0M469.1 67.8h0M440.7 78.5h0M450.3 77.9h0M451.6 75.7h0M464.6 74.3h0M442.4 91.8h0M447.2 80.5h0M474.9 57.5h0M444.1 81.5h0M451.3 66.4h0M444.2 98.7h0M463.1 94.0h0M450.5 78.2h0M466.0 89.7h0M451.8 94.4h0M469.1 69.2h0M446.3 73.0h0M446.8 60.1h0M446.3 96.8h0M472.0 81.3h0M448.1 79.6h0M455.0 77.6h0M442.1 64.2h0M440.9 72.5h0M449.2 70.8h0M447.7 69.4h0M452.8 83.2h0M472.4 73.9h0M456.1 92.0h0M450.8 60.1h0M440.7 71.0h0M474.4 93.4h0M452.5 87.4h0M445.1 95.8h0M443.4 95.6h0M442.8 78.0h0M463.0 96.1h0M444.2 84.5h0M471.4 64.8h0M454.4 99.1h0M441.9 66.8h0M445.1 76.6h0M442.0 71.7h0M446.8 89.4h0M470.4 83.1h0M456.2 57.5h0M474.8 72.9h0M462.0 64.7h0M474.5 84.7h0M443.9 65.4h0M470.7 85.5h0M444.3 72.4h0M464.7 72.3h0M472.2 89.5h0M468.9 88.8h0M464.1 70.8h0M451.0 94.6h0M442.2 68.4h0M471.9 62.1h0M461.4 86.4h0M457.9 55.1h0M471.2 91.9h0M447.1 83.3h0M445.3 69.5h0M450.7 84.1h0M463.6 67.0h0M465.9 75.3h0M454.9 99.6h0M446.2 95.9h0M446.5 71.3h0M469.9 60.4h0M458.4 91.2h0M460.5 84.6h0M449.3 89.9h0M450.2 99.9h0M458.7 75.2h0M464.0 90.3h0M472.1 60.8h0M444.2 90.5h0M447.4 97.0h0M465.6 67.7h0M464.1 54.1h0M450.8 72.4h0M467.8 73.6h0M453.7 63.4h0M454.2 101.0h0M469.5 80.2h0M444.2 65.7h0M444.2 84.7h0M449.5 58.9h0M449.2 84.2h0M463.4 60.0h0M441.6 64.4h0M446.3 82.2h0M447.3 79.0h0M465.2 76.9h0M447.7 82.4h0M460.7 98.1h0M458.4 82.7h0M447.6 88.0h0M448.0 58.1h0M459.4 72.3h0M462.3 61.8h0M444.2 75.7h0M444.2 85.2h0M453.8 81.4h0M474.4 61.0h0M453.7 67.3h0M444.7 82.6h0M472.1 89.1h0M466.9 95.2h0M472.6 68.1h0M443.8 74.2h0M446.0 68.1h0M453.7 86.9h0M473.1 60.8h0M440.3 87.1h0M470.0 59.1h0M462.3 99.1h0M468.9 64.2h0M460.3 74.3h0M461.9 66.2h0M473.6 92.2h0M453.0 70.7h0M445.2 58.1h0M443.5 88.8h0M450.4 76.4h0M446.1 78.3h0M470.5 56.5h0M444.5 84.1h0M463.0 71.0h0M466.8 94.0h0M449.2 77.6h0M461.7 72.2h0M469.2 90.9h0M452.2 88.7h0M466.8 76.2h0M452.5 95.1h0M464.2 89.1h0M465.6 77.5h0M453.1 67.3h0M469.5 64.4h0M446.6 94.0h0M460.0 63.0h0M456.8 62.2h0M446.9 76.9h0M454.9 89.4h0M448.0 59.5h0M463.1 91.7h0M469.8 89.7h0M462.8 62.3h0M459.5 89.8h0M466.6 86.4h0M464.9 84.5h0M450.6 67.9h0M463.1 89.6h0M470.6 89.6h0M447.2 70.0h0M468.9 80.2h0M464.3 64.5h0M453.1 83.6h0M470.3 91.8h0M449.8 78.5h0M446.6 97.8h0M470.3 85.8h0M441.6 95.1h0M448.2 89.4h0M449.9 58.8h0M442.7 65.7h0M474.7 60.4h0M450.1 73.2h0M452.7 61.2h0M472.8 78.0h0M441.7 89.6h0M442.4 91.4h0M459.6 79.7h0M443.3 83.3h0M446.8 73.9h0M452.0 78.1h0M455.8 85.3h0M474.7 84.8h0M446.3 61.1h0M458.8 84.9h0M444.7 83.7h0M441.3 79.0h0M468.4 100.5h0M454.7 98.3h0M446.2 74.8h0M468.3 73.6h0M471.5 77.8h0M469.6 79.2h0M456.4 62.1h0M464.7 96.2h0M449.3 71.8h0M468.7 79.6h0M461.4 82.8h0M449.5 71.5h0M465.8 97.4h0M453.5 83.7h0M443.3 82.4h0M441.5 71.3h0M453.3 98.2h0M448.5 95.1h0M451.4 80.5h0M460.3 78.6h0M455.9 84.2h0M467.3 74.7h0M444.4 78.4h0M463.3 96.8h0M461.2 85.4h0M466.4 90.1h0M450.7 78.8h0M443.2 76.5h0M464.3 66.8h0M445.2 76.8h0M451.9 86.3h0M472.9 89.2h0M470.8 69.4h0M453.9 79.2h0M451.5 69.5h0M474.2 77.3h0M466.5 87.1h0M465.7 82.6h0M472.7 79.7h0M462.2 59.6h0M452.7 95.0h0M453.6 68.9h0M472.8 70.6h0M471.9 85.3h0M458.8 69.3h0M468.4 74.7h0M463.1 76.0h0M446.1 64.1h0M474.0 60.7h0M460.5 94.0h0M467.6 89.1h0M442.2 76.0h0M468.9 70.2h0M472.1 84.3h0M467.7 89.9h0M474.9 73.4h0M454.6 92.9h0M441.7 59.5h0M451.1 69.6h0M450.6 77.3h0M460.3 89.1h0M448.2 87.5h0M456.7 52.4h0M452.7 69.0h0M464.4 87.9h0M465.8 71.1h0M464.4 87.3h0M474.4 66.4h0M445.3 65.8h0M448.0 88.7h0M468.0 90.1h0M448.1 78.1h0M460.4 89.8h0M453.6 81.9h0M449.2 96.4h0M446.8 69.3h0M461.4 71.7h0M473.8 61.1h0M468.8 68.1h0M466.0 83.7h0M473.4 88.1h0M467.3 65.9h0M464.8 88.0h0M469.0 70.6h0M449.4 63.4h0M442.3 91.3h0M442.1 88.6h0M471.9 94.8h0M446.7 74.0h0M442.4 67.5h0M460.9 97.9h0M442.9 56.6h0M471.8 88.5h0M444.6 65.7h0M464.6 69.2h0M456.6 77.4h0M445.2 85.6h0M470.1 61.8h0M445.8 68.5h0M454.1 72.3h0M452.8 56.7h0M465.0 71.1h0M458.6 76.6h0M448.1 98.2h0M449.7 75.6h0M461.0 87.2h0M449.0 81.2h0M459.7 77.2h0M442.0 95.2h0M466.3 67.0h0M466.3 83.2h0M445.6 56.1h0M444.2 90.7h0M440.4 86.0h0M461.1 76.0h0M440.9 86.6h0M453.2 93.9h0M470.0 81.6h0M470.7 84.5h0M451.5 95.3h0M443.0 61.9h0M461.3 96.7h0M448.1 85.3h0M445.6 81.1h0M463.3 95.1h0M465.0 56.4h0M447.1 63.7h0M474.4 91.9h0M454.4 87.2h0M445.8 94.4h0M442.4 92.0h0M440.6 96.2h0M448.7 92.9h0M467.6 94.0h0M470.1 92.1h0M462.7 76.5h0M446.7 60.6h0M443.3 87.4h0M468.7 67.7h0M445.2 75.2h0M473.5 96.3h0M474.0 79.5h0M448.5 70.8h0M443.0 81.0h0M465.6 81.4h0M450.1 79.0h0M455.0 78.3h0M448.5 61.1h0M453.2 65.7h0M442.8 86.6h0M470.3 83.6h0M458.9 54.4h0M463.6 76.4h0M451.1 63.7h0M451.2 74.7h0M464.9 86.0h0M457.1 71.6h0M456.9 82.7h0M462.5 79.0h0M450.3 80.4h0M440.5 73.2h0M467.2 67.6h0M468.4 56.5h0M469.9 62.6h0M472.7 61.2h0M451.1 70.0h0M467.1 57.3h0M455.1 97.9h0M471.0 80.8h0M461.7 62.3h0M445.6 79.3h0M454.8 55.9h0M471.9 67.8h0M470.6 76.0h0M466.3 87.0h0M472.9 76.1h0M473.0 75.8h0M460.6 71.2h0M461.7 85.9h0M440.7 83.3h0M447.8 82.7h0M467.9 81.0h0M460.8 91.0h0M469.3 64.4h0M467.0 67.8h0M450.3 81.1h0M471.7 90.5h0M445.1 84.2h0M466.7 80.8h0M474.9 91.9h0M458.4 63.5h0M453.1 83.8h0M456.9 70.1h0M474.9 75.2h0M466.8 96.1h0M443.6 92.2h0M470.0 65.4h0M445.2 76.3h0M442.1 84.2h0M446.7 62.7h0M458.4 94.2h0M463.0 95.4h0M452.2 93.7h0M455.9 86.1h0M466.2 63.4h0M466.5 58.6h0M464.0 61.8h0M449.1 76.7h0M460.4 64.8h0M441.5 76.4h0M460.9 83.2h0M454.5 69.3h0M446.8 76.1h0M461.7 80.1h0M459.5 97.7h0M447.2 79.2h0M466.8 69.6h0M470.8 67.8h0M445.1 93.7h0M455.0 70.1h0M473.3 62.2h0M457.0 96.7h0M473.1 82.0h0M459.1 75.0h0M462.8 68.8h0M467.7 84.6h0M474.7 70.5h0M446.3 76.1h0M445.1 86.9h0M473.5 66.1h0M441.9 94.5h0M451.2 75.2h0M461.8 61.2h0M449.2 61.2h0M465.1 81.2h0M452.8 56.9h0M440.7 98.6h0M475.0 65.9h0M448.9 75.0h0M441.0 87.7h0M452.2 76.1h0M472.5 66.6h0M451.4 87.2h0M461.0 84.0h0M442.6 67.3h0M458.3 64.4h0M460.9 59.2h0M461.4 88.4h0M474.1 68.2h0M458.0 67.5h0M464.2 72.9h0M470.3 71.9h0M441.2 93.7h0M444.7 78.7h0M466.7 55.2h0M448.9 61.0h0M470.1 90.5h0M470.1 59.4h0M441.3 80.3h0M453.1 61.8h0M454.4 84.4h0M442.6 78.3h0M456.3 73.7h0M445.5 98.8h0M453.7 88.6h0M441.3 72.4h0M466.1 90.1h0M448.2 85.7h0M462.8 79.6h0M469.7 65.3h0M445.3 61.9h0M452.6 82.8h0M442.6 89.2h0M456.5 78.6h0M448.8 83.1h0M453.4 95.6h0M449.3 65.0h0M445.8 93.7h0M448.4 60.9h0M452.6 77.4h0M454.4 92.4h0M443.5 77.4h0M457.7 93.0h0M463.9 92.0h0M441.8 78.0h0M472.4 100.0h0M470.6 97.2h0M451.4 66.9h0M445.2 57.6h0M461.3 95.5h0M448.4 91.7h0M454.2 79.5h0M468.9 74.3h0M472.1 91.1h0M463.2 95.6h0M443.6 59.5h0M443.2 83.1h0M462.5 58.0h0M462.9 83.2h0M471.0 98.0h0M452.8 73.1h0M463.3 49.6h0M447.8 63.9h0M442.4 95.5h0M451.1 61.7h0M467.3 74.7h0M473.4 78.9h0M455.4 71.3h0M474.4 89.5h0M445.4 70.1h0M473.7 77.8h0M440.3 93.6h0M449.9 94.7h0M445.6 71.1h0M456.3 78.1h0M471.0 75.4h0M464.0 64.3h0M473.5 71.8h0M454.9 72.3h0M441.2 74.6h0M449.0 94.3h0M444.0 62.6h0M440.8 68.4h0M445.3 74.4h0M442.4 77.4h0M469.8 81.4h0M445.3 55.9h0M441.3 76.3h0M465.0 71.5h0M471.2 87.8h0M462.4 84.0h0M469.7 80.6h0M443.8 83.7h0M446.7 67.5h0M472.4 98.5h0M470.7 86.1h0M443.5 93.3h0M455.7 93.6h0M454.2 91.3h0M460.4 55.9h0M441.4 64.2h0M452.4 94.3h0M441.5 82.8h0M453.7 69.3h0M450.8 78.1h0M450.7 75.0h0M446.0 77.9h0M451.9 90.6h0M442.3 84.0h0M467.0 65.1h0M444.3 65.0h0M466.6 49.1h0M465.2 60.1h0M441.1 63.1h0M468.4 72.9h0M440.3 87.9h0M444.2 70.0h0M451.1 87.5h0M454.4 95.6h0M462.6 67.6h0M467.3 60.5h0M470.1 71.5h0M470.1 64.4h0M462.4 84.2h0M442.7 88.3h0M460.5 64.0h0M456.5 61.4h0M442.0 66.7h0M466.6 68.9h0M447.1 87.9h0M455.7 68.0h0M467.9 63.5h0M470.8 94.1h0M452.4 99.3h0M448.6 92.4h0M452.4 84.7h0M451.0 74.0h0M441.4 98.5h0M470.1 85.8h0M459.2 62.6h0M474.5 67.8h0M465.6 92.4h0M445.5 83.8h0M442.9 88.0h0M470.7 81.7h0M465.8 86.7h0M457.3 80.0h0M465.3 92.0h0M446.3 75.1h0M464.9 85.9h0M472.3 87.3h0M456.7 58.8h0M472.1 74.0h0M474.9 72.1h0M466.0 83.6h0M470.7 83.2h0M442.0 60.0h0M473.0 94.7h0M453.9 62.0h0M468.4 91.1h0M472.1 94.3h0M444.4 87.8h0M467.8 76.1h0M472.3 76.0h0M443.2 89.4h0M443.5 63.5h0M444.7 93.7h0M460.6 83.6h0M453.2 66.7h0M452.8 95.2h0M442.3 92.5h0M469.8 78.0h0M466.0 73.9h0M442.0 63.5h0M456.4 78.7h0M448.9 64.3h0M468.1 87.2h0M466.0 76.1h0M443.4 92.9h0M448.1 64.6h0M451.0 91.6h0M448.7 64.2h0M451.4 69.6h0M463.8 85.2h0M465.3 85.8h0M444.3 69.1h0M446.9 56.4h0M462.1 66.5h0M465.5 80.7h0M447.6 79.8h0M455.7 92.3h0M462.0 84.2h0M453.0 80.5h0M464.2 73.1h0M468.5 62.9h0M447.1 58.4h0M468.2 69.4h0M461.8 60.7h0M467.3 57.2h0M469.7 82.5h0M468.5 83.6h0M442.0 82.3h0M467.5 93.0h0M455.9 77.4h0M449.1 100.4h0M464.1 64.2h0M443.0 82.8h0M469.9 62.1h0M444.1 67.6h0M464.3 66.5h0M441.6 89.6h0M449.3 75.7h0M452.4 98.0h0M448.5 97.5h0M466.0 88.0h0M440.4 98.7h0M441.0 80.6h0M469.7 71.7h0M444.0 67.6h0M474.3 95.6h0M468.9 90.8h0M472.9 82.1h0M468.4 59.5h0M442.4 79.3h0M472.2 69.6h0M470.2 95.9h0M454.0 68.0h0M472.4 80.2h0M467.2 91.0h0M470.7 88.7h0M466.0 85.5h0M464.4 86.3h0M458.9 80.8h0M468.9 60.3h0M471.7 82.1h0M469.8 100.3h0M451.4 89.3h0M444.5 71.2h0M466.7 95.1h0M474.3 84.2h0M448.2 95.5h0M467.7 92.2h0M464.6 90.9h0M459.7 87.5h0M461.2 95.0h0M449.1 68.7h0M454.6 92.1h0M450.2 79.8h0M470.8 79.4h0M471.4 71.4h0M472.0 63.2h0M470.2 80.2h0M461.0 84.4h0M468.8 88.7h0M451.8 89.4h0M466.7 72.4h0M446.2 83.8h0M442.6 79.5h0M449.7 85.8h0M460.8 90.5h0M472.0 94.8h0M449.4 83.3h0M470.5 89.5h0M442.9 74.3h0M447.1 85.4h0M465.6 94.1h0M471.4 60.7h0M460.9 62.9h0M458.6 80.2h0M467.9 84.4h0M459.2 54.6h0M441.6 96.3h0M463.6 92.5h0M467.2 89.0h0M450.2 83.6h0M474.7 82.9h0M467.1 60.8h0M462.5 62.9h0M454.1 70.5h0M447.1 88.9h0M446.4 84.4h0M473.2 85.4h0M460.9 67.4h0M471.0 77.4h0M471.2 90.5h0M465.5 81.7h0M449.1 91.4h0M451.4 65.8h0M464.3 72.1h0M453.9 93.3h0M447.0 76.5h0M466.9 82.7h0M450.9 55.1h0M471.7 71.3h0M448.0 63.3h0M445.4 74.5h0M445.1 63.2h0M462.6 84.7h0M441.2 86.0h0M448.0 77.7h0M470.0 84.6h0M468.0 57.8h0M466.4 70.5h0M468.1 80.9h0M466.8 74.9h0M473.5 58.6h0M444.1 78.4h0M461.5 79.4h0M461.8 78.6h0M451.3 77.1h0M457.0 86.1h0M443.7 100.7h0M472.6 72.9h0M456.3 90.3h0M454.6 80.3h0M471.2 93.4h0M455.6 63.9h0M473.1 75.3h0M475.0 93.9h0M442.4 81.8h0M446.4 87.2h0M449.5 91.8h0M443.5 76.9h0M473.0 71.4h0M450.6 72.1h0M442.6 80.8h0M452.6 66.7h0M452.5 79.7h0M465.9 93.6h0M472.7 79.1h0M465.8 87.7h0M452.4 70.7h0M444.1 68.6h0M445.7 89.4h0M467.0 77.1h0M453.2 89.4h0M460.5 88.0h0M472.2 64.5h0M449.6 85.8h0M472.1 75.5h0M469.1 77.1h0M463.8 74.7h0M451.5 81.5h0M470.5 79.6h0M450.4 57.1h0M465.5 79.7h0M469.6 80.5h0M462.5 62.5h0M472.2 93.3h0M441.3 83.0h0M462.6 81.8h0M461.5 77.0h0M470.6 74.6h0M441.9 77.3h0M460.7 91.0h0M453.4 83.5h0M451.7 70.5h0M451.6 70.2h0M444.7 89.5h0M461.2 62.8h0M455.9 72.1h0M465.7 61.6h0M450.3 79.8h0M443.0 89.0h0M470.1 61.4h0M470.3 87.3h0M473.4 60.1h0M462.1 94.5h0M473.2 46.1h0M470.2 60.2h0M448.2 89.7h0M465.6 86.6h0M470.4 88.8h0M461.2 81.4h0M464.6 61.9h0M460.0 96.4h0M457.6 59.5h0M463.1 79.2h0M450.4 64.4h0M474.9 64.6h0M465.0 94.8h0M473.1 70.8h0M467.2 57.0h0M448.6 74.6h0M466.1 61.3h0M440.6 76.1h0M442.4 83.1h0M460.6 80.8h0M460.6 82.2h0M450.9 81.5h0M470.5 74.6h0M467.2 89.2h0M471.8 85.2h0M440.6 87.2h0M451.3 63.4h0M473.7 90.1h0M464.2 94.2h0M471.0 72.1h0M442.8 76.4h0M441.0 68.8h0M465.2 75.6h0M461.2 75.5h0M467.3 62.7h0M463.0 74.0h0M447.4 56.3h0M449.2 92.0h0M446.8 94.6h0M456.4 68.6h0M464.8 79.5h0M445.3 56.1h0M444.2 69.7h0M458.3 77.7h0M469.2 61.5h0M445.7 57.3h0M465.3 65.0h0M471.4 91.7h0M473.0 87.2h0M453.1 90.8h0M464.7 95.5h0M447.3 92.9h0M471.5 68.2h0M451.0 65.9h0M463.9 63.4h0M457.1 96.8h0M463.6 68.6h0M446.4 85.6h0M458.8 55.3h0M445.2 61.2h0M444.0 70.2h0M445.7 70.2h0M465.4 71.1h0M465.2 76.1h0M463.5 95.0h0M454.3 87.3h0M445.0 74.8h0M463.1 91.1h0M470.7 97.1h0M462.2 92.0h0M442.4 59.3h0M469.4 67.7h0M467.8 92.7h0M474.2 59.3h0M464.0 88.5h0M473.0 76.8h0M465.9 86.3h0M450.5 79.1h0M449.9 82.4h0M473.0 90.3h0M474.4 82.0h0M464.3 68.2h0M447.4 95.1h0M474.8 95.5h0M450.2 65.8h0M469.2 50.2h0M447.0 61.3h0M443.0 93.6h0M460.8 66.5h0M458.4 81.7h0M446.9 84.6h0M460.7 66.8h0M450.4 81.3h0M442.1 96.4h0M466.6 72.3h0M471.6 89.6h0M464.7 70.1h0M468.4 86.6h0M468.4 80.7h0M461.8 75.0h0M444.9 96.9h0M473.4 66.9h0M467.2 91.3h0M442.8 90.7h0M446.3 67.6h0M442.8 67.7h0M465.5 90.6h0M465.4 79.5h0M454.8 88.5h0M442.9 90.7h0M440.6 95.5h0M448.7 81.6h0M455.8 97.4h0M465.4 57.6h0M458.6 68.6h0M461.6 89.0h0M446.9 70.1h0M459.8 82.1h0M474.6 82.4h0M465.5 81.1h0M463.9 57.9h0M461.6 82.2h0M468.3 93.8h0M450.3 58.6h0M444.5 81.9h0M441.8 70.0h0M471.9 87.2h0M454.6 75.4h0M464.3 70.4h0M464.4 79.1h0M449.4 90.6h0M450.9 93.2h0M466.5 58.3h0M449.1 70.5h0M475.0 65.8h0M442.7 63.5h0M463.8 61.1h0M453.0 88.5h0M455.0 54.5h0M443.1 85.5h0M444.2 71.8h0M462.0 57.3h0M452.5 74.1h0M472.2 94.9h0M449.0 68.8h0M468.1 76.1h0M454.1 89.2h0M450.9 84.2h0M443.5 85.0h0M455.1 95.2h0M442.3 59.7h0M442.7 91.8h0M459.3 79.6h0M445.2 62.0h0M464.9 64.0h0M461.5 94.4h0M462.5 71.4h0M468.5 66.4h0M474.0 62.4h0M470.2 77.2h0M443.2 83.8h0M455.0 80.1h0M464.3 99.2h0M461.5 56.6h0M471.1 65.3h0M463.6 64.2h0M456.6 59.9h0M470.2 80.6h0M449.5 65.1h0M469.3 61.5h0M469.3 76.0h0M468.8 90.2h0M447.3 84.2h0M444.1 73.1h0M475.0 81.8h0M443.6 84.6h0M445.2 62.5h0M445.3 64.3h0M459.9 58.3h0M467.8 95.9h0M444.0 79.4h0M444.8 61.9h0M453.7 91.1h0M475.0 73.9h0M452.6 71.7h0M449.2 84.2h0M474.6 85.6h0M440.5 88.5h0M464.4 82.7h0M471.5 57.6h0M468.0 74.7h0M473.5 64.1h0M471.6 72.5h0M466.3 85.0h0M463.4 82.8h0M445.6 73.4h0M456.3 94.4h0M448.8 77.5h0M467.4 56.6h0M446.3 64.9h0M446.7 62.7h0M450.2 64.1h0M441.1 87.4h0M447.4 80.9h0M467.5 95.5h0M472.9 78.2h0M469.3 71.9h0M461.7 92.7h0M467.9 95.1h0M469.5 91.7h0M465.8 73.6h0M474.8 86.6h0M464.8 100.5h0M473.1 91.2h0M459.8 73.7h0M469.0 78.2h0M464.6 65.5h0M469.6 94.3h0M448.0 93.5h0M463.0 63.5h0M465.2 95.6h0M456.4 77.7h0M466.4 92.0h0M462.3 95.2h0M444.0 93.7h0M450.0 71.6h0M470.2 96.8h0M450.1 78.1h0M440.5 73.8h0M454.0 81.8h0M446.5 99.1h0M473.1 84.0h0M448.8 87.3h0M472.3 77.3h0M444.9 53.4h0M441.0 83.3h0M468.1 77.1h0M456.2 98.3h0M449.0 73.6h0M442.6 69.3h0M463.8 85.7h0M454.2 65.5h0M449.7 94.9h0M472.1 73.5h0M445.7 95.0h0M459.9 90.9h0M460.6 70.4h0M445.6 82.3h0M454.2 72.9h0M444.4 73.5h0M471.5 60.9h0M458.4 78.9h0M450.8 58.7h0M462.8 83.4h0M452.4 67.9h0M473.8 95.3h0M452.5 82.2h0M469.5 84.0h0M463.1 97.6h0M465.3 93.2h0M469.3 91.2h0M470.4 71.3h0M474.8 80.1h0M442.7 62.6h0M457.0 78.9h0M463.9 79.6h0M466.3 95.9h0M449.5 86.8h0M469.7 85.9h0M473.1 64.6h0M463.9 71.9h0M474.6 87.7h0M466.3 66.5h0M454.1 90.8h0M472.9 71.0h0M447.3 58.6h0M450.6 64.6h0M459.7 68.9h0M445.4 86.9h0M463.6 84.6h0M448.9 93.1h0M446.9 78.9h0M471.6 72.2h0M442.3 68.6h0M441.1 86.3h0M448.3 55.5h0M474.4 77.6h0M474.5 74.7h0M453.9 78.3h0M456.1 99.0h0M449.7 79.1h0M453.3 73.8h0M467.7 77.3h0M472.8 96.9h0M447.8 68.9h0M472.0 83.5h0M446.7 67.7h0M451.6 87.9h0M473.1 65.3h0M440.3 88.5h0M447.1 66.1h0M452.4 89.7h0M459.3 70.7h0M473.0 54.3h0M444.4 83.6h0M459.2 97.9h0M466.5 65.4h0M455.1 82.9h0M471.3 79.4h0M440.6 73.6h0M467.9 86.0h0M453.3 69.0h0M448.5 74.9h0M445.2 73.6h0M448.3 79.4h0M468.7 87.2h0M443.7 83.8h0M453.1 72.8h0M449.9 71.6h0M440.6 89.7h0M474.8 80.3h0M470.0 72.9h0M461.4 98.5h0M452.0 84.1h0M445.4 63.0h0M469.5 58.0h0M458.5 82.8h0M459.6 74.2h0M448.5 88.8h0M451.0 56.3h0M465.7 59.8h0M442.0 93.4h0M460.5 67.9h0M465.0 68.3h0M460.9 70.8h0M441.7 61.5h0M442.4 84.1h0M447.5 77.0h0M471.1 63.2h0M452.9 59.2h0M464.5 92.0h0M458.1 91.4h0M444.0 70.3h0M470.3 63.3h0M457.1 69.2h0M473.6 90.9h0M441.9 82.4h0M442.5 54.3h0M463.0 71.5h0M475.0 62.6h0M443.2 79.7h0M444.7 79.5h0M461.7 82.1h0M466.7 95.5h0M470.8 67.9h0M442.9 60.3h0M455.3 97.9h0M443.1 75.5h0M471.8 75.2h0M473.2 75.2h0M465.7 99.1h0M463.9 79.8h0M463.8 67.8h0M447.0 64.2h0M465.9 79.2h0M472.4 65.9h0M471.0 88.2h0M473.3 82.3h0M468.2 85.4h0M454.8 70.1h0M441.7 93.9h0M474.4 81.2h0M443.8 73.2h0M452.1 78.9h0M454.9 98.9h0M453.8 84.3h0M449.4 61.2h0M446.4 77.9h0M444.4 91.5h0M472.7 91.2h0M463.7 89.9h0M455.9 100.0h0M472.1 83.4h0M470.6 68.0h0M443.1 74.5h0M446.0 98.2h0M459.2 48.8h0M445.1 75.9h0M473.1 83.0h0M456.8 81.4h0M442.7 92.1h0M442.2 62.7h0M465.8 90.2h0M453.9 63.7h0M469.2 94.8h0M447.8 73.3h0M453.4 95.8h0M448.6 86.7h0M440.5 82.6h0M471.8 84.3h0M454.4 92.2h0M448.3 66.1h0M441.2 72.4h0M450.9 90.6h0M453.8 89.5h0M471.2 87.4h0M451.5 61.4h0M464.4 84.3h0M450.2 86.9h0M459.4 91.5h0M474.8 72.1h0M445.9 59.6h0M467.0 92.9h0M451.1 72.4h0M452.6 81.9h0M474.6 68.3h0M462.8 87.3h0M469.6 75.4h0M472.9 78.9h0M465.5 99.8h0M466.2 83.8h0M469.7 84.2h0M451.7 100.7h0M447.3 92.5h0M448.9 69.2h0M471.4 61.6h0M449.2 89.4h0M443.1 73.0h0M465.2 86.8h0M469.5 83.4h0M462.2 96.9h0M461.9 80.0h0M461.0 58.9h0M466.4 61.0h0M462.7 74.5h0M445.0 71.6h0M452.1 75.3h0M462.6 61.5h0M464.2 78.9h0M449.4 88.5h0M463.0 71.1h0M441.4 97.2h0M469.6 81.6h0M473.5 88.6h0M448.6 68.3h0M472.0 82.7h0M442.2 59.4h0M457.8 79.8h0M446.6 68.8h0M469.3 72.4h0M469.8 69.2h0M449.5 62.4h0M450.2 71.9h0M463.2 81.0h0M444.8 79.3h0M459.3 79.0h0M472.3 65.0h0M469.5 68.9h0M473.0 61.8h0M445.4 62.9h0M445.7 88.5h0M458.3 82.9h0M463.5 73.3h0M467.4 69.8h0M465.8 99.0h0M471.2 64.7h0M470.1 78.9h0M467.0 82.8h0M460.8 91.3h0M450.4 90.8h0M470.3 95.8h0M452.8 85.3h0M472.1 71.9h0M443.8 87.0h0M443.9 73.2h0M464.2 75.6h0M446.0 80.7h0M455.8 63.4h0M447.4 69.6h0M450.1 61.5h0M470.1 81.1h0M469.5 69.0h0M474.3 86.0h0M456.0 91.5h0M445.0 66.8h0M464.9 82.8h0M449.7 65.9h0M443.8 65.1h0M441.2 67.4h0M447.2 82.0h0M466.3 59.7h0M469.4 76.4h0M452.8 80.0h0M455.3 96.8h0M469.3 79.3h0M443.5 96.6h0M455.4 70.7h0M450.9 98.5h0M443.3 85.9h0M474.3 98.3h0M461.2 87.1h0M468.7 93.1h0M449.5 90.0h0M464.1 96.9h0M446.1 62.9h0M451.8 69.4h0M451.8 91.2h0M463.1 74.6h0M468.2 80.7h0M460.5 98.4h0M445.8 66.3h0M470.8 64.6h0M443.1 93.3h0M444.6 94.1h0M454.2 81.0h0M446.5 58.4h0M450.7 78.5h0M472.1 90.0h0M443.4 94.4h0M446.0 75.4h0M448.7 87.2h0M470.4 61.8h0M447.3 74.8h0M440.7 97.5h0M446.4 84.2h0M463.3 88.3h0M456.4 80.1h0M442.4 78.8h0M464.8 68.2h0M472.5 92.4h0M450.4 90.6h0M468.2 92.5h0M448.2 77.2h0M445.2 69.2h0M471.0 62.4h0M467.3 72.3h0M447.4 67.3h0M449.7 79.9h0M468.8 86.1h0M442.9 64.6h0M442.1 80.8h0M466.5 89.3h0M470.3 55.6h0M456.2 59.0h0M474.5 65.0h0M442.9 65.2h0M462.9 76.0h0M445.2 85.3h0M440.5 78.2h0M464.0 57.7h0M449.6 76.7h0M441.0 88.6h0M466.5 70.4h0M454.8 77.9h0M443.2 88.7h0M447.8 77.7h0M467.9 67.7h0M472.0 85.7h0M462.9 93.4h0M472.3 69.7h0M463.3 71.5h0M446.1 61.3h0M441.3 93.5h0M464.9 94.9h0M463.1 71.9h0M444.6 81.0h0M467.5 84.4h0M444.8 85.7h0M456.2 97.5h0M457.5 75.1h0M465.1 92.2h0M445.0 61.0h0M472.7 58.2h0M454.1 100.7h0M468.0 88.8h0M472.1 67.1h0M473.7 66.5h0M449.1 75.4h0M460.0 76.7h0M472.3 87.1h0M452.1 92.2h0M440.3 88.9h0M447.3 97.7h0M463.2 65.2h0M465.1 67.5h0M440.7 66.5h0M463.9 70.9h0M442.0 93.7h0M459.4 68.9h0M445.6 66.6h0M451.3 78.7h0M461.7 95.5h0M444.7 66.7h0M472.6 69.9h0M472.9 83.7h0M472.3 96.2h0M465.3 76.9h0M470.8 80.5h0M449.6 84.9h0M441.5 83.2h0M457.8 80.8h0M463.5 86.7h0M450.7 71.5h0M451.0 79.2h0M448.2 89.7h0M451.6 71.5h0M450.5 95.1h0M445.7 76.0h0M458.9 85.9h0M472.8 76.7h0M451.7 94.5h0M466.8 82.4h0M474.7 83.5h0M467.6 81.9h0M442.8 80.0h0M462.4 70.3h0M472.2 64.6h0M447.2 82.0h0M461.7 73.5h0M446.5 89.9h0M450.0 74.2h0M473.5 91.7h0M455.0 89.3h0M458.5 68.6h0M465.5 99.1h0M463.3 74.4h0M451.2 87.5h0M462.6 60.7h0M455.3 78.4h0M462.1 64.7h0M462.6 82.7h0M474.7 88.9h0M447.8 91.5h0M466.3 89.0h0M472.8 78.1h0M463.5 69.6h0M447.1 101.0h0M451.5 82.6h0M449.9 75.0h0M445.1 81.4h0M474.7 93.9h0M442.3 93.4h0M463.0 95.9h0M454.2 93.2h0M471.1 99.0h0M470.0 66.6h0M471.5 66.2h0M448.9 87.7h0M474.6 85.7h0M462.1 85.4h0M461.3 76.3h0M450.6 69.9h0M462.0 82.0h0M454.6 64.7h0M442.0 86.5h0M443.9 92.2h0M461.2 46.1h0M474.6 80.3h0M467.2 78.7h0M461.2 67.8h0M463.8 97.8h0M452.4 84.4h0M442.5 84.4h0M447.7 81.2h0M457.2 70.5h0M453.6 57.4h0M473.4 87.5h0M470.8 78.5h0M446.3 79.5h0M470.7 76.4h0M472.5 79.9h0M472.0 61.7h0M445.0 93.2h0M452.0 64.6h0M472.9 85.0h0M441.5 87.7h0M464.1 78.0h0M447.0 69.0h0M448.3 79.3h0M467.7 81.8h0M442.4 93.0h0M446.5 75.7h0M461.5 65.6h0M445.1 58.4h0M473.1 79.9h0M460.7 84.2h0M446.1 95.3h0M464.0 93.6h0M447.7 92.0h0M458.6 88.5h0M474.7 71.7h0M472.5 87.4h0M448.8 83.5h0M471.5 59.3h0M461.4 66.9h0M446.8 73.8h0M446.2 91.6h0M462.8 64.9h0M455.6 78.3h0M446.9 64.5h0M473.0 78.8h0M449.7 75.4h0M466.3 97.3h0M451.1 75.3h0M463.6 83.6h0M463.6 73.2h0M466.1 90.1h0M468.2 95.9h0M451.7 92.9h0M474.6 73.5h0M463.7 91.3h0M449.0 83.7h0M441.5 94.6h0M467.6 88.8h0M456.7 86.5h0M454.4 72.2h0M442.7 69.4h0M450.9 82.1h0M447.8 87.5h0M472.2 95.5h0M471.7 95.3h0M462.5 63.2h0M456.2 69.6h0M473.0 68.7h0M467.9 58.3h0M446.4 71.9h0M454.7 76.3h0M461.2 90.3h0M467.5 73.1h0M447.2 87.0h0M446.1 85.9h0M473.6 61.8h0M466.3 61.0h0M461.3 88.0h0M441.3 85.0h0M443.7 94.0h0M462.5 73.2h0M457.5 75.0h0M463.2 89.9h0M467.0 58.2h0M467.1 73.7h0M446.5 75.1h0M466.0 80.6h0M447.6 60.3h0M441.4 55.1h0M473.5 84.3h0M449.7 94.9h0M470.1 96.0h0M466.6 69.2h0M468.0 62.5h0M470.2 69.4h0M470.1 59.3h0M452.9 61.3h0M473.2 82.9h0M463.5 94.4h0M461.4 68.0h0M450.8 66.8h0M467.5 81.0h0M472.7 66.2h0M444.7 72.6h0M451.2 84.4h0M449.2 64.8h0M456.6 75.7h0M474.6 95.4h0M442.5 86.8h0M464.1 87.7h0M465.6 95.1h0M448.9 94.9h0M469.6 64.3h0M462.3 77.1h0M464.7 69.5h0M448.0 69.9h0M465.5 91.1h0M462.9 87.4h0M452.8 89.1h0M472.0 63.9h0M446.2 68.1h0M466.1 76.1h0M474.4 94.2h0M462.1 94.4h0M471.8 89.2h0M472.3 69.6h0M458.9 72.1h0M453.5 62.6h0M473.6 61.0h0M445.0 78.4h0M446.8 65.6h0M462.0 57.6h0M461.9 68.6h0M451.5 96.5h0M467.8 89.6h0M442.5 67.8h0M462.3 84.5h0M474.9 96.9h0M463.9 74.6h0M470.9 71.5h0M452.3 100.8h0M458.0 96.2h0M475.0 85.3h0M447.9 85.5h0M460.8 75.4h0M470.0 81.6h0M469.2 67.2h0M446.9 72.0h0M470.2 77.1h0M446.4 64.6h0M444.8 68.9h0M450.5 76.3h0M452.7 71.6h0M462.4 87.6h0M472.4 76.8h0M465.4 74.5h0M440.9 73.5h0M446.3 75.5h0M441.2 67.3h0M444.2 79.7h0M444.2 99.5h0M451.6 61.7h0M471.5 60.9h0M469.1 74.3h0M462.9 93.8h0M449.2 81.8h0M459.3 79.2h0M472.3 73.2h0M465.2 83.7h0M444.0 81.1h0M442.0 87.7h0M465.9 67.6h0M442.3 82.5h0M459.4 82.1h0M450.6 74.2h0M469.9 82.9h0M466.6 73.3h0M472.5 94.7h0M450.2 78.1h0M445.0 89.3h0M446.4 72.0h0M460.2 82.2h0M462.4 95.8h0M441.4 71.9h0M467.6 85.9h0M444.3 71.6h0M464.8 89.4h0M472.1 70.2h0M464.4 85.7h0M449.9 88.3h0M474.3 91.6h0M473.4 83.2h0M473.4 97.0h0M449.7 80.3h0M468.4 89.1h0M449.0 73.1h0M450.5 98.3h0M462.9 98.2h0M470.0 72.9h0M474.7 52.8h0M466.7 71.0h0M470.7 100.8h0M447.7 87.1h0M441.0 95.6h0M457.4 66.0h0M474.8 87.9h0M472.9 76.3h0M440.8 76.6h0M473.6 64.1h0M458.1 73.6h0M467.2 66.8h0M442.9 86.1h0M465.0 66.6h0M474.6 87.6h0M445.5 91.8h0M464.0 68.8h0M463.8 92.6h0M444.1 64.2h0M442.7 65.9h0M446.8 68.6h0M470.5 79.8h0M442.6 66.8h0M472.9 74.7h0M466.6 79.5h0M464.0 80.4h0M449.3 73.9h0M468.7 81.7h0M466.8 70.2h0M465.5 88.6h0M442.4 93.1h0M454.3 73.2h0M469.1 98.3h0M444.4 62.9h0M441.0 55.3h0M466.0 84.9h0M444.7 56.6h0M449.8 65.2h0M448.2 74.3h0M467.2 61.8h0M469.0 62.1h0M473.8 97.6h0M462.5 91.1h0M444.0 95.4h0M466.3 82.9h0M458.5 86.3h0M466.9 94.4h0M472.6 97.2h0M452.6 86.4h0M471.8 99.5h0M453.2 65.5h0M468.1 72.7h0M453.9 72.0h0M446.2 67.7h0M442.8 89.0h0M442.1 59.7h0M449.6 80.4h0M450.1 84.8h0M462.0 64.1h0M465.3 64.1h0M466.6 66.6h0M448.3 69.3h0M472.6 74.1h0M464.7 96.6h0M447.1 89.5h0M444.2 61.4h0M441.7 64.9h0M466.6 68.5h0M461.7 91.4h0M445.0 74.3h0M462.2 91.7h0M460.8 73.0h0M464.0 97.8h0M448.2 88.2h0M444.5 67.1h0M471.1 79.4h0M458.8 73.9h0M474.8 78.7h0M464.3 85.7h0M471.9 95.6h0M441.2 68.3h0M464.5 66.7h0M454.2 87.1h0M443.2 78.8h0M468.8 74.0h0M451.4 84.4h0M443.6 60.2h0M452.2 81.2h0M467.5 60.6h0M474.7 73.0h0M471.2 89.1h0M447.4 84.3h0M461.6 97.0h0M467.7 73.6h0M472.1 91.1h0M469.8 77.7h0M466.7 68.2h0M473.7 75.2h0M452.6 96.6h0M454.2 65.0h0M449.2 76.6h0M474.7 94.8h0M468.7 56.5h0M454.2 64.0h0M468.3 86.2h0M473.2 82.6h0M462.1 74.3h0M471.0 96.7h0M449.2 68.4h0M440.8 67.4h0M451.9 88.4h0M464.4 77.1h0M441.2 79.6h0M464.7 66.6h0M465.3 71.0h0M451.6 80.0h0M468.6 71.0h0M442.7 86.3h0M465.4 74.7h0M471.8 74.2h0M469.4 56.5h0M441.1 57.1h0M454.7 70.2h0M465.4 93.9h0M453.8 72.4h0M447.2 64.5h0M466.0 89.5h0M440.8 67.2h0M460.5 58.8h0M453.7 74.5h0M459.6 100.1h0M444.4 80.6h0M467.0 91.7h0M442.8 82.2h0M472.6 98.3h0M443.7 77.6h0M447.0 73.6h0M465.9 85.3h0M468.7 71.1h0M468.8 82.9h0M449.7 70.5h0M443.1 56.6h0M462.4 56.3h0M463.5 66.3h0M451.2 54.2h0M455.0 44.3h0M452.1 51.2h0M448.3 50.0h0M456.7 48.1h0M461.4 49.1h0M466.7 44.9h0M454.0 48.5h0M466.0 44.6h0M463.7 50.9h0M460.6 54.3h0M469.8 48.3h0M450.4 46.1h0M445.6 53.1h0M446.4 56.5h0M473.1 51.5h0M463.6 44.4h0M458.1 52.8h0M455.5 46.7h0M449.8 54.2h0M469.7 57.4h0M451.6 48.4h0M450.8 45.4h0M444.0 52.2h0M443.2 56.9h0M453.3 48.9h0M471.6 51.5h0M449.1 50.9h0M456.4 54.9h0M456.0 44.3h0M445.8 47.2h0M460.9 55.5h0M456.3 44.4h0M471.5 44.6h0M462.7 49.1h0M444.7 48.5h0M467.0 52.1h0M469.9 44.5h0M464.6 47.7h0M469.1 44.3h0M465.8 54.9h0M471.1 44.5h0M461.1 57.8h0M455.3 51.8h0M444.0 54.9h0M460.9 53.3h0M455.5 44.8h0M454.5 49.0h0M460.4 45.7h0M473.9 54.6h0M457.9 47.9h0M454.4 49.6h0M463.8 45.7h0M467.4 50.8h0M471.5 53.4h0M470.4 56.5h0M470.6 46.1h0M458.0 49.8h0M460.4 52.6h0M468.9 47.3h0M474.7 47.0h0M445.9 44.3h0M453.6 50.8h0M471.5 51.9h0M466.8 52.6h0M470.2 54.5h0M448.2 50.1h0M470.4 56.3h0M442.0 56.2h0M442.3 54.2h0M451.0 45.8h0M465.0 44.8h0M470.8 51.9h0M453.0 54.3h0M465.6 57.1h0M473.8 45.9h0M444.2 50.5h0M449.3 56.3h0M473.8 53.5h0M462.6 46.8h0M461.5 53.6h0M445.9 55.4h0M464.5 54.1h0M474.9 45.6h0M456.2 52.7h0M457.4 57.5h0M454.8 49.0h0M442.1 47.5h0M452.6 57.9h0M443.8 48.6h0M453.1 106.1h0M472.9 105.9h0M457.9 106.3h0M462.0 106.2h0M447.0 106.1h0M439.9 105.7h0M456.8 106.2h0M470.2 105.8h0M465.8 106.1h0M472.8 105.8h0M450.2 106.1h0M441.6 105.8h0M455.0 106.1h0M458.1 105.8h0M440.0 105.9h0M467.4 106.0h0M463.9 106.3h0M474.8 106.0h0M444.5 106.0h0M441.3 106.1h0M440.8 105.7h0M448.8 106.1h0M465.8 105.8h0M466.3 106.1h0M447.4 106.0h0M443.5 105.8h0M473.8 106.2h0M475.3 106.1h0M462.8 105.9h0M442.1 106.0h0M455.8 105.7h0M445.9 106.3h0M451.3 105.7h0M475.3 105.7h0M458.9 106.2h0M465.4 106.1h0M459.6 105.7h0M463.3 106.3h0M450.7 105.7h0M469.9 105.8h0M448.3 105.9h0M473.5 106.0h0M473.7 105.7h0M443.0 105.7h0M463.7 105.9h0M468.9 106.0h0M453.5 105.8h0M470.6 106.1h0M471.3 105.8h0M447.7 106.2h0M439.1 105.8h0M465.9 105.8h0M462.0 106.2h0M456.4 105.8h0M441.5 106.0h0M458.7 106.1h0M460.6 105.8h0M439.2 106.3h0M443.8 105.7h0M445.3 105.7h0M463.5 105.9h0M443.9 105.7h0M444.2 105.7h0M468.0 106.2h0M449.6 105.9h0M445.4 105.7h0M446.3 106.1h0M455.9 105.7h0M439.6 106.2h0M449.2 105.7h0M468.4 106.3h0M450.1 106.1h0M452.2 105.9h0M441.3 106.3h0M446.0 105.7h0M474.6 105.8h0M452.0 106.2h0M471.6 105.7h0M471.4 106.1h0M441.3 105.9h0M461.9 105.7h0M448.5 106.3h0M452.6 106.1h0M466.1 106.2h0M461.5 106.1h0M440.0 105.9h0M450.9 106.1h0M470.6 105.7h0M446.1 105.9h0M458.1 106.2h0M466.1 105.9h0M475.1 105.8h0M461.0 106.3h0M471.6 105.9h0M451.6 106.1h0M473.9 106.1h0M460.5 105.8h0M456.4 105.8h0M474.3 105.7h0M464.5 106.1h0M454.2 106.2h0M457.9 106.1h0M456.3 106.0h0M441.9 106.2h0M440.6 106.0h0M446.2 105.7h0M441.8 106.1h0M470.8 105.7h0M466.1 106.3h0M466.6 105.9h0M459.3 105.7h0M457.1 105.7h0M471.3 106.0h0M461.4 106.2h0M447.7 105.9h0M457.6 106.1h0M465.4 106.1h0M461.6 106.2h0M440.2 106.1h0M459.2 105.8h0M453.4 106.0h0M474.4 106.2h0M469.6 105.7h0M441.4 105.7h0M462.2 105.9h0M444.6 105.7h0M454.9 106.0h0M454.8 106.1h0M460.8 106.3h0M456.3 105.8h0M462.5 105.7h0M473.0 106.2h0M459.0 105.9h0M456.2 106.3h0M463.1 105.7h0M442.7 105.8h0M441.2 106.2h0M446.3 106.3h0M470.2 106.2h0M472.5 105.8h0M473.3 105.9h0M454.3 105.8h0M443.2 106.0h0M451.7 106.0h0M475.8 105.9h0M456.9 106.3h0M457.6 105.7h0M471.1 106.1h0M459.5 106.2h0M442.9 106.1h0M441.4 106.1h0M463.8 106.2h0M469.7 106.3h0M444.0 106.3h0M446.7 106.1h0M471.3 105.8h0M447.2 106.0h0M456.8 106.3h0M466.6 105.7h0M440.8 105.9h0M450.6 106.2h0M445.8 105.9h0M473.4 105.7h0M464.7 106.0h0M457.7 106.1h0M439.6 105.8h0M469.9 105.8h0M455.3 105.9h0M470.4 105.8h0M454.5 105.7h0M461.3 106.3h0M442.6 106.1h0M449.8 105.9h0M459.3 105.7h0M454.2 106.0h0M441.4 105.8h0M446.9 105.9h0M450.2 106.1h0M469.2 106.2h0M454.6 106.1h0M465.2 106.1h0M459.9 105.8h0M448.8 106.3h0M441.5 105.7h0M443.5 106.1h0M453.3 105.8h0M466.9 106.2h0M453.0 106.2h0M472.6 105.9h0M469.0 105.9h0M459.3 106.3h0M456.4 105.7h0M454.4 106.0h0M461.3 106.2h0M464.0 105.7h0M455.2 105.9h0M467.9 105.7h0M475.6 106.2h0M452.5 105.9h0M454.0 105.9h0M474.0 106.0h0M439.5 106.3h0M473.7 106.0h0M463.1 106.3h0M454.5 105.8h0M457.0 105.7h0M451.0 105.8h0M448.2 105.8h0M463.8 106.2h0M469.9 106.0h0M448.2 105.8h0M471.7 105.7h0M445.1 106.3h0M457.7 105.9h0M473.9 106.3h0M462.5 106.3h0M468.3 105.9h0M447.4 105.8h0M473.3 105.8h0M458.5 106.1h0" stroke="#000" stroke-width="0.8" stroke-linecap="round" opacity="1"/>
<path d="M485.0 75.4h0M504.0 69.5h0M507.1 65.7h0M493.9 47.6h0M503.5 98.5h0M487.4 58.9h0M502.6 70.3h0M499.8 69.7h0M513.2 102.3h0M498.0 49.9h0M488.4 95.3h0M507.2 53.1h0M502.0 81.9h0M513.2 50.3h0M511.7 54.3h0M495.6 87.2h0M514.4 56.6h0M494.2 46.2h0M507.1 62.0h0M484.8 88.9h0M494.1 84.0h0M498.1 89.7h0M516.8 64.5h0M495.7 64.3h0M488.4 78.0h0M514.9 81.8h0M491.7 54.6h0M488.5 59.8h0M491.5 94.6h0M503.1 86.6h0M497.7 73.4h0M510.0 82.5h0M513.4 73.2h0M505.3 69.1h0M505.8 64.7h0M495.4 70.4h0M518.0 94.8h0M518.4 85.0h0M498.7 66.5h0M487.9 66.6h0M492.4 50.4h0M495.9 89.4h0M515.1 62.3h0M497.9 89.5h0M493.9 48.0h0M509.9 88.2h0M490.0 95.2h0M490.1 54.6h0M486.6 93.0h0M486.9 71.1h0M503.4 94.7h0M485.0 46.8h0M489.5 78.8h0M519.1 77.2h0M511.1 99.9h0M501.5 63.4h0M492.1 82.9h0M487.6 67.6h0M490.9 89.0h0M512.5 89.0h0M516.2 86.4h0M514.5 77.8h0M519.4 91.4h0M486.0 97.4h0M488.4 94.8h0M519.0 67.1h0M486.0 84.0h0M506.3 73.5h0M509.7 101.3h0M488.6 82.3h0M518.6 73.5h0M511.2 86.9h0M489.0 97.0h0M499.1 98.1h0M509.3 80.9h0M509.5 55.8h0M489.1 61.6h0M506.6 66.8h0M499.4 66.4h0M488.9 56.7h0M505.0 67.0h0M503.9 78.0h0M489.7 73.1h0M518.8 81.4h0M485.3 64.1h0M511.6 53.8h0M507.0 61.2h0M503.1 88.4h0M491.1 46.4h0M497.0 72.5h0M510.4 73.9h0M509.1 102.3h0M492.5 82.0h0M504.8 97.0h0M506.9 83.2h0M494.6 77.4h0M508.9 71.2h0M519.0 80.0h0M496.8 53.6h0M488.4 56.5h0M492.5 76.6h0M503.8 78.4h0M496.2 62.3h0M512.2 73.3h0M502.2 89.3h0M508.1 63.2h0M516.1 88.3h0M484.2 82.7h0M508.4 92.5h0M507.2 76.2h0M514.8 73.4h0M501.7 89.8h0M488.0 60.4h0M484.1 55.4h0M515.4 55.4h0M514.4 72.3h0M485.9 84.4h0M519.1 83.1h0M485.4 55.3h0M503.5 69.9h0M486.2 75.3h0M488.7 71.6h0M491.0 89.7h0M495.7 83.1h0M483.7 70.9h0M487.5 78.0h0M509.4 80.4h0M491.1 57.4h0M500.9 96.2h0M505.7 80.2h0M503.9 76.8h0M495.8 96.2h0M516.5 70.5h0M508.5 99.4h0M516.6 78.7h0M494.6 73.3h0M500.2 72.1h0M492.0 72.2h0M485.4 65.8h0M489.1 66.8h0M511.7 78.4h0M499.7 62.0h0M488.5 47.0h0M516.7 53.3h0M486.7 87.9h0M513.1 78.6h0M517.8 69.2h0M495.8 77.4h0M503.2 82.2h0M514.1 75.0h0M498.4 84.5h0M489.0 96.3h0M510.5 71.8h0M495.6 56.8h0M494.8 86.5h0M486.6 83.3h0M493.2 75.7h0M494.2 57.1h0M489.1 76.2h0M496.0 69.4h0M490.6 93.4h0M497.6 92.9h0M494.9 51.4h0M486.5 68.5h0M500.9 58.7h0M484.4 71.9h0M484.8 90.0h0M514.3 75.7h0M498.1 65.7h0M485.3 66.3h0M489.8 74.8h0M504.2 47.3h0M511.8 52.2h0M494.5 97.4h0M495.2 54.1h0M486.3 87.4h0M505.0 98.1h0M510.7 53.8h0M496.0 79.6h0M514.7 70.4h0M487.1 53.4h0M483.7 76.7h0M514.5 74.4h0M518.0 80.1h0M500.3 64.7h0M516.6 68.6h0M513.5 91.1h0M513.8 96.5h0M505.3 63.3h0M510.0 84.6h0M514.8 80.4h0M509.6 102.5h0M484.2 52.4h0M505.5 81.5h0M517.4 95.3h0M509.0 89.0h0M491.2 53.1h0M498.2 86.7h0M498.5 80.0h0M507.3 79.7h0M506.2 65.7h0M485.5 57.9h0M496.7 62.4h0M506.3 62.9h0M513.5 65.5h0M517.1 57.1h0M503.8 62.9h0M489.9 70.7h0M509.2 77.6h0M493.2 54.6h0M491.7 66.5h0M513.4 82.6h0M485.7 57.9h0M495.9 56.3h0M498.6 55.6h0M511.6 71.4h0M507.8 62.7h0M486.8 52.9h0M513.1 72.3h0M486.4 102.7h0M487.4 68.6h0M498.7 75.0h0M486.0 101.8h0M518.1 57.3h0M497.1 58.8h0M485.7 92.3h0M518.9 55.5h0M492.0 90.6h0M505.0 80.5h0M513.8 100.3h0M511.4 89.2h0M485.8 86.4h0M502.3 60.7h0M508.7 67.4h0M488.1 82.7h0M508.8 60.4h0M510.4 45.9h0M492.2 87.0h0M510.4 93.4h0M495.1 71.0h0M506.0 62.7h0M510.6 66.9h0M488.3 93.4h0M517.7 85.0h0M507.4 67.2h0M510.1 87.1h0M513.7 68.2h0M499.2 58.8h0M489.5 91.1h0M500.8 90.2h0M494.2 86.7h0M510.5 68.6h0M503.0 80.4h0M518.0 57.3h0M517.3 53.6h0M496.5 57.2h0M485.2 99.3h0M488.7 68.4h0M516.3 67.7h0M487.6 71.6h0M497.1 65.6h0M504.0 85.7h0M491.1 61.8h0M509.3 79.0h0M490.2 82.4h0M509.3 67.6h0M508.3 54.2h0M489.8 100.5h0M498.2 103.3h0M485.4 67.6h0M501.3 91.5h0M487.8 81.9h0M515.6 73.0h0M509.2 71.4h0M495.0 59.1h0M492.9 84.0h0M491.9 55.0h0M507.4 87.3h0M503.8 75.6h0M498.3 78.1h0M493.8 74.1h0M516.7 66.0h0M495.9 57.3h0M507.6 68.3h0M517.1 97.2h0M489.6 76.0h0M492.3 77.9h0M515.5 68.3h0M488.3 67.0h0M509.6 93.2h0M495.8 68.7h0M504.2 88.7h0M504.6 93.2h0M492.2 85.5h0M512.5 57.1h0M512.3 89.7h0M515.7 91.8h0M498.7 53.0h0M494.0 83.5h0M483.6 58.6h0M508.3 89.7h0M494.0 102.4h0M506.8 63.7h0M487.3 82.9h0M487.6 89.6h0M506.5 80.5h0M499.2 98.9h0M492.4 91.0h0M516.5 46.5h0M491.0 46.0h0M499.0 84.3h0M511.1 97.8h0M497.3 95.2h0M510.5 50.6h0M499.0 81.0h0M494.8 44.5h0M497.4 88.3h0M508.4 99.0h0M501.8 88.3h0M492.6 73.2h0M515.1 51.9h0M519.5 63.4h0M483.0 70.5h0M506.2 49.6h0M504.6 92.9h0M513.6 87.9h0M493.4 75.3h0M502.4 89.4h0M492.8 90.3h0M514.5 89.8h0M493.3 74.3h0M508.5 74.5h0M508.6 54.9h0M518.7 64.6h0M494.0 78.2h0M487.0 70.1h0M484.9 58.8h0M501.4 78.6h0M501.2 93.5h0M499.0 98.4h0M494.3 80.9h0M504.6 98.3h0M519.3 56.4h0M500.7 61.3h0M490.4 74.2h0M492.4 88.3h0M483.2 66.9h0M518.8 77.3h0M491.7 85.7h0M504.1 76.9h0M519.0 56.0h0M494.7 100.5h0M497.0 53.9h0M502.2 65.8h0M489.3 82.5h0M487.8 95.0h0M505.4 52.6h0M488.0 59.8h0M483.7 80.5h0M493.8 73.3h0M502.3 93.4h0M497.4 47.3h0M496.4 54.0h0M495.8 54.0h0M491.6 61.9h0M486.0 70.8h0M515.4 85.4h0M503.9 63.8h0M514.1 57.1h0M513.3 53.8h0M513.0 57.3h0M516.3 76.1h0M508.5 69.8h0M497.5 55.8h0M508.3 89.2h0M501.3 96.2h0M493.2 99.5h0M509.3 86.2h0M502.6 55.0h0M514.7 79.1h0M484.8 78.2h0M510.7 71.7h0M489.3 85.5h0M496.3 45.5h0M495.6 93.5h0M493.8 101.0h0M502.1 98.2h0M502.3 99.4h0M508.2 51.5h0M487.8 58.0h0M483.2 78.1h0M509.2 72.8h0M509.5 59.7h0M506.3 81.4h0M503.1 90.2h0M498.8 70.0h0M514.2 70.8h0M497.0 68.6h0M490.6 69.2h0M495.4 69.9h0M491.2 102.6h0M499.2 93.5h0M494.3 48.4h0M515.9 86.7h0M515.3 66.2h0M518.5 61.7h0M511.3 96.5h0M517.8 77.1h0M492.5 92.3h0M485.3 59.5h0M504.7 87.5h0M489.8 79.9h0M494.7 65.2h0M483.2 92.2h0M519.3 58.5h0M494.9 72.3h0M498.2 81.0h0M485.1 79.5h0M498.5 101.4h0M493.3 81.4h0M509.2 69.4h0M507.2 61.5h0M510.9 65.7h0M506.5 82.1h0M492.1 96.0h0M515.4 74.4h0M513.7 57.9h0M515.7 84.4h0M510.9 90.0h0M519.1 78.0h0M508.2 84.0h0M487.0 81.1h0M496.2 99.5h0M517.6 101.9h0M514.8 60.7h0M497.4 62.3h0M505.8 101.9h0M504.6 76.4h0M500.7 84.3h0M496.2 68.6h0M501.1 85.1h0M494.6 65.5h0M518.1 82.2h0M507.4 93.1h0M490.4 93.6h0M497.1 91.4h0M494.8 85.1h0M499.7 72.9h0M490.5 74.0h0M492.7 55.0h0M509.0 72.0h0M485.8 69.9h0M509.3 102.7h0M488.4 45.0h0M518.5 87.2h0M489.8 80.8h0M514.6 62.2h0M508.8 101.6h0M487.3 77.4h0M491.8 91.1h0M503.0 86.2h0M519.2 93.1h0M490.5 85.2h0M483.6 73.0h0M515.6 71.6h0M497.4 97.8h0M503.9 74.5h0M515.9 68.6h0M496.4 65.5h0M515.9 97.1h0M499.9 86.6h0M513.6 96.9h0M508.2 70.3h0M500.0 70.6h0M496.6 66.8h0M505.1 64.5h0M503.0 45.9h0M490.3 87.4h0M501.7 56.7h0M490.1 100.2h0M491.3 77.8h0M493.7 93.8h0M486.3 81.0h0M495.2 73.1h0M499.4 62.3h0M515.1 68.7h0M514.9 91.2h0M489.3 69.3h0M484.9 72.3h0M491.8 94.9h0M497.2 56.2h0M513.1 95.1h0M502.5 57.0h0M495.8 83.2h0M507.6 91.0h0M486.1 53.6h0M491.6 62.7h0M491.8 102.9h0M496.5 93.2h0M500.7 78.1h0M498.3 81.4h0M493.7 69.5h0M485.5 87.1h0M495.8 47.1h0M484.0 60.6h0M494.1 61.2h0M517.1 60.3h0M489.8 90.1h0M518.0 89.5h0M487.0 92.0h0M495.0 68.6h0M485.4 68.1h0M500.3 63.0h0M495.9 77.3h0M485.5 90.5h0M515.6 69.8h0M518.4 62.2h0M508.3 59.4h0M485.9 75.8h0M518.6 55.5h0M484.0 81.4h0M511.0 82.8h0M484.5 66.0h0M492.8 74.4h0M515.1 85.1h0M505.5 49.4h0M507.8 63.5h0M503.9 102.6h0M500.3 55.2h0M516.3 63.8h0M505.3 64.4h0M507.7 50.0h0M508.0 50.8h0M498.3 102.5h0M492.1 60.3h0M502.7 75.5h0M492.0 46.0h0M515.7 89.2h0M516.8 87.6h0M498.8 85.9h0M506.6 63.4h0M493.3 85.0h0M519.5 67.8h0M501.8 80.1h0M497.2 75.9h0M518.9 88.4h0M490.9 86.4h0M497.3 80.3h0M504.5 55.2h0M514.9 62.0h0M513.9 64.5h0M513.8 77.3h0M513.7 95.4h0M507.9 83.7h0M495.9 67.8h0M512.6 88.4h0M483.0 90.1h0M499.2 54.5h0M483.1 66.0h0M485.5 82.4h0M488.8 54.8h0M499.2 97.1h0M495.1 45.1h0M492.4 62.7h0M500.0 102.7h0M486.5 75.6h0M485.2 62.9h0M511.0 80.6h0M488.0 80.3h0M507.6 53.5h0M513.4 77.7h0M499.5 68.7h0M506.3 87.6h0M494.2 80.9h0M485.7 91.3h0M493.5 89.9h0M511.6 57.2h0M508.7 57.8h0M500.4 89.7h0M511.6 102.5h0M499.9 94.4h0M512.0 92.4h0M508.0 71.5h0M508.4 78.1h0M509.8 95.3h0M485.2 87.2h0M488.7 92.5h0M517.0 98.4h0M498.3 72.2h0M493.7 81.1h0M505.6 72.4h0M514.0 79.6h0M514.3 79.8h0M514.6 82.8h0M503.2 74.7h0M491.0 68.3h0M516.1 58.8h0M494.1 68.8h0M488.6 75.7h0M512.4 54.4h0M515.4 88.2h0M496.2 87.1h0M488.8 50.2h0M519.3 92.7h0M515.5 83.8h0M512.7 74.7h0M493.9 46.3h0M501.4 56.1h0M508.4 76.3h0M508.1 93.6h0M495.5 80.3h0M483.8 71.0h0M512.3 99.9h0M518.4 64.7h0M496.1 73.0h0M488.9 50.5h0M498.6 79.8h0M512.7 88.0h0M502.8 54.7h0M497.2 55.6h0M505.8 65.4h0M515.4 96.9h0M510.0 89.8h0M492.8 82.7h0M496.1 64.3h0M489.1 77.4h0M504.8 72.9h0M491.1 74.5h0M483.9 66.9h0M505.2 86.5h0M485.9 56.9h0M499.4 96.7h0M508.1 50.6h0M493.8 78.1h0M491.7 54.7h0M512.0 77.5h0M487.7 69.9h0M503.0 78.1h0M512.1 84.3h0M517.6 90.4h0M498.7 82.1h0M492.4 55.9h0M502.4 67.2h0M502.4 95.8h0M515.4 68.2h0M513.4 97.4h0M515.0 68.1h0M500.8 91.3h0M518.2 76.2h0M516.1 57.3h0M509.2 66.4h0M503.2 57.1h0M497.3 68.9h0M504.7 74.4h0M493.0 69.3h0M497.2 70.0h0M490.3 69.6h0M510.4 89.2h0M495.1 79.6h0M512.9 75.5h0M490.0 97.3h0M490.7 82.2h0M498.4 91.4h0M510.6 67.6h0M516.3 96.9h0M500.6 48.0h0M493.4 77.1h0M489.0 81.1h0M497.1 91.7h0M508.6 80.4h0M504.4 99.5h0M505.7 58.4h0M498.9 94.0h0M514.1 92.0h0M518.3 70.3h0M490.7 74.1h0M516.9 55.4h0M494.6 53.2h0M497.8 94.6h0M518.2 53.8h0M506.2 68.7h0M498.7 56.1h0M515.0 84.3h0M511.1 84.2h0M502.7 85.2h0M496.1 58.6h0M512.7 61.3h0M486.8 59.9h0M491.7 98.6h0M512.1 89.0h0M488.5 83.4h0M491.8 89.1h0M491.6 101.6h0M489.3 47.7h0M509.8 72.9h0M500.0 62.4h0M507.0 83.7h0M486.0 87.8h0M515.0 78.7h0M514.8 74.4h0M486.0 48.8h0M492.2 50.0h0M501.9 102.1h0M491.7 97.4h0M501.9 66.7h0M512.0 91.8h0M491.1 70.2h0M491.1 80.2h0M495.0 57.3h0M487.6 76.6h0M488.0 92.7h0M496.1 88.5h0M491.4 74.6h0M490.2 73.2h0M489.0 76.7h0M499.4 77.9h0M491.5 82.8h0M510.4 80.3h0M518.7 87.1h0M514.6 88.0h0M489.9 74.8h0M495.7 84.7h0M483.4 53.6h0M515.2 69.8h0M513.1 44.3h0M485.7 83.7h0M509.2 80.7h0M494.1 45.1h0M492.8 96.3h0M513.2 94.7h0M502.9 79.5h0M504.4 74.2h0M516.1 70.2h0M496.4 101.7h0M486.2 62.4h0M504.0 59.2h0M497.9 87.4h0M496.0 98.2h0M491.6 73.2h0M499.6 97.1h0M503.3 61.9h0M511.6 100.4h0M505.9 79.4h0M507.2 80.8h0M495.9 77.0h0M514.5 56.7h0M487.8 90.4h0M502.1 99.3h0M502.4 64.3h0M484.4 51.2h0M511.0 73.6h0M484.4 87.8h0M497.8 54.9h0M483.4 55.5h0M484.1 102.8h0M512.8 78.8h0M508.6 63.6h0M502.6 80.8h0M508.0 47.3h0M515.1 71.3h0M486.2 86.2h0M497.6 44.8h0M498.8 57.6h0M496.3 59.5h0M506.9 63.3h0M506.6 92.2h0M509.5 58.3h0M505.1 61.5h0M486.9 72.0h0M487.6 63.4h0M502.7 60.4h0M500.5 61.5h0M497.5 46.2h0M489.3 89.3h0M488.8 63.8h0M485.9 47.4h0M488.7 82.6h0M505.9 84.5h0M512.4 93.4h0M517.2 56.5h0M486.5 77.3h0M492.6 96.2h0M494.8 45.4h0M517.7 56.0h0M488.0 90.7h0M517.4 90.6h0M490.6 83.8h0M484.9 95.5h0M487.5 82.3h0M490.2 50.2h0M492.3 88.5h0M503.5 89.8h0M511.9 92.5h0M496.9 54.0h0M501.3 62.9h0M500.0 72.5h0M515.6 56.8h0M503.8 70.0h0M499.2 70.3h0M499.8 51.2h0M486.6 76.7h0M488.3 101.3h0M510.1 72.3h0M484.2 87.1h0M515.5 91.1h0M504.8 81.4h0M512.0 76.6h0M506.9 94.5h0M513.1 48.3h0M485.1 91.3h0M487.1 74.7h0M497.2 97.8h0M490.2 64.9h0M494.8 90.9h0M510.4 80.6h0M509.7 90.6h0M487.2 53.9h0M497.9 89.7h0M511.0 54.8h0M490.5 88.2h0M505.2 89.3h0M513.1 61.3h0M494.5 54.7h0M503.1 82.3h0M505.3 85.1h0M500.8 68.6h0M491.7 93.6h0M500.3 46.6h0M510.2 85.0h0M501.2 88.8h0M484.1 84.5h0M496.5 87.4h0M504.1 80.9h0M484.8 56.1h0M484.1 60.2h0M486.0 55.4h0M485.2 87.6h0M513.0 58.8h0M502.8 59.3h0M497.2 62.6h0M517.7 54.5h0M495.8 62.2h0M498.3 87.5h0M511.0 68.3h0M505.2 60.3h0M508.6 89.5h0M497.2 92.7h0M485.8 92.0h0M494.3 79.1h0M508.5 85.0h0M511.3 88.7h0M510.1 48.7h0M503.9 88.8h0M502.4 79.9h0M483.4 57.5h0M511.7 68.6h0M508.8 83.4h0M512.1 74.8h0M497.7 52.0h0M496.8 57.2h0M488.7 81.0h0M494.4 103.2h0M517.7 97.8h0M512.7 82.6h0M507.1 80.8h0M488.5 71.6h0M490.5 89.9h0M497.4 83.2h0M502.7 82.6h0M494.5 88.8h0M486.4 102.8h0M507.4 57.3h0M492.6 84.8h0M518.4 85.4h0M498.0 58.9h0M508.0 73.0h0M511.4 90.6h0M493.9 99.3h0M503.9 53.9h0M515.8 80.0h0M496.9 58.0h0M490.9 76.5h0M513.5 68.7h0M500.9 53.5h0M506.9 97.7h0M494.5 67.2h0M504.3 62.9h0M503.1 72.4h0M493.5 79.2h0M509.4 94.0h0M504.1 86.5h0M517.9 53.6h0M491.6 56.5h0M498.9 80.5h0M508.0 94.7h0M486.9 89.2h0M518.8 77.7h0M510.0 84.6h0M515.3 68.7h0M488.6 65.6h0M500.9 88.1h0M485.1 94.7h0M495.5 66.2h0M518.4 60.0h0M506.9 73.8h0M485.1 78.4h0M499.8 71.9h0M503.4 47.4h0M499.1 71.6h0M502.4 58.9h0M505.6 81.2h0M513.9 84.1h0M514.2 81.6h0M501.0 64.5h0M508.5 85.0h0M494.8 55.3h0M489.1 68.5h0M491.2 85.2h0M505.3 81.6h0M484.0 67.1h0M514.4 78.9h0M503.1 87.0h0M488.6 75.0h0M517.1 59.2h0M515.7 98.5h0M494.6 83.0h0M517.9 102.6h0M494.2 81.4h0M484.2 69.8h0M500.0 58.1h0M497.3 64.7h0M512.1 48.2h0M514.3 47.6h0M510.1 73.2h0M518.4 69.8h0M489.1 79.8h0M496.2 87.5h0M510.0 87.5h0M487.6 100.9h0M504.3 68.1h0M495.0 60.9h0M495.5 74.4h0M497.9 89.7h0M492.4 70.8h0M516.9 60.1h0M485.4 95.9h0M489.0 95.7h0M512.3 102.5h0M514.9 73.3h0M496.7 56.3h0M489.5 62.7h0M516.2 98.6h0M496.1 97.9h0M507.8 102.2h0M492.8 67.3h0M484.7 73.7h0M518.1 99.6h0M508.8 100.0h0M517.7 54.2h0M511.5 93.2h0M508.9 67.0h0M511.7 47.3h0M518.3 82.3h0M497.5 66.4h0M503.4 100.2h0M495.7 72.1h0M516.8 91.8h0M507.6 72.0h0M512.9 54.5h0M490.7 72.2h0M496.3 89.5h0M500.1 99.9h0M503.5 54.2h0M515.5 83.4h0M503.6 70.5h0M507.3 101.6h0M501.7 92.5h0M500.5 72.0h0M500.6 78.1h0M487.4 102.9h0M511.5 58.9h0M495.3 81.3h0M515.9 88.3h0M517.7 76.2h0M515.0 44.4h0M508.6 59.7h0M496.7 81.0h0M501.3 77.3h0M507.1 68.2h0M493.9 90.8h0M489.0 80.7h0M494.7 76.8h0M498.7 73.6h0M494.6 83.1h0M510.3 71.7h0M518.2 102.8h0M511.4 72.9h0M514.9 48.9h0M494.2 73.3h0M503.8 59.4h0M483.4 71.7h0M483.5 45.5h0M513.0 87.4h0M497.0 88.5h0M517.7 77.3h0M512.6 57.6h0M514.2 84.1h0M494.1 95.1h0M491.6 45.4h0M502.4 82.6h0M496.6 101.4h0M500.3 71.2h0M484.6 80.9h0M507.1 72.3h0M485.1 60.5h0M511.4 92.6h0M511.5 91.8h0M488.7 83.3h0M513.3 80.6h0M507.1 91.6h0M502.8 53.7h0M512.7 86.3h0M507.1 85.1h0M509.1 83.6h0M508.2 74.6h0M510.2 67.2h0M516.6 68.8h0M498.2 102.4h0M509.4 100.9h0M517.9 58.2h0M489.3 98.8h0M488.9 77.9h0M507.0 54.1h0M483.4 71.6h0M505.0 58.2h0M504.2 76.5h0M515.2 90.9h0M488.7 86.6h0M503.6 101.4h0M515.2 66.9h0M483.3 97.9h0M505.7 75.8h0M513.4 64.4h0M505.8 75.7h0M490.8 81.8h0M511.6 68.5h0M483.2 80.1h0M510.8 73.3h0M509.3 87.0h0M483.0 77.7h0M493.9 65.9h0M506.5 93.2h0M501.5 55.0h0M517.4 93.5h0M510.3 59.4h0M486.5 66.0h0M515.5 91.6h0M488.4 66.9h0M511.2 58.0h0M501.8 86.3h0M506.0 95.9h0M512.8 101.4h0M501.8 59.0h0M488.9 59.6h0M518.5 78.3h0M510.3 54.4h0M494.9 69.2h0M490.5 83.1h0M492.1 74.6h0M483.7 57.1h0M501.4 84.8h0M490.4 80.4h0M503.6 98.1h0M506.7 102.3h0M518.3 54.0h0M503.5 54.4h0M489.9 78.1h0M494.8 71.2h0M492.8 100.9h0M488.8 62.1h0M505.5 83.5h0M517.0 101.8h0M485.2 60.2h0M514.7 67.9h0M486.5 76.9h0M510.4 62.4h0M485.2 82.2h0M491.4 87.9h0M483.1 97.5h0M483.7 51.3h0M514.4 92.2h0M494.8 75.4h0M515.5 96.4h0M487.8 73.7h0M510.1 88.8h0M489.9 93.1h0M499.6 78.3h0M499.7 77.3h0M490.1 80.4h0M509.6 63.2h0M508.9 87.8h0M515.3 91.9h0M489.6 89.5h0M493.0 88.0h0M505.7 82.7h0M500.3 75.4h0M511.4 84.9h0M491.0 59.6h0M503.9 86.0h0M506.7 54.7h0M511.5 78.7h0M497.1 74.2h0M489.7 72.0h0M487.1 43.4h0M489.9 70.4h0M487.3 59.5h0M500.3 54.0h0M498.5 62.9h0M497.6 59.2h0M488.6 73.9h0M514.0 74.9h0M494.1 54.4h0M487.3 59.8h0M514.5 95.4h0M502.4 88.5h0M514.5 66.2h0M494.7 55.3h0M507.4 68.1h0M497.8 97.3h0M505.8 102.2h0M499.1 91.0h0M485.1 49.1h0M511.4 54.3h0M496.1 64.5h0M491.5 51.1h0M487.9 91.8h0M497.3 82.0h0M499.7 79.1h0M502.8 86.9h0M514.5 72.8h0M488.8 78.8h0M508.4 82.9h0M497.3 53.4h0M485.9 72.2h0M508.7 55.2h0M503.1 91.8h0M511.9 81.5h0M515.5 67.0h0M501.8 88.5h0M511.8 71.2h0M503.3 86.3h0M492.3 95.5h0M516.6 95.0h0M503.3 88.5h0M494.4 81.5h0M500.2 71.7h0M486.8 91.3h0M485.6 89.8h0M511.0 81.3h0M484.4 89.3h0M502.8 89.2h0M489.6 72.2h0M509.7 83.5h0M491.6 56.0h0M504.9 67.0h0M498.0 74.1h0M499.3 97.8h0M518.7 67.1h0M500.1 68.7h0M496.6 68.8h0M517.1 82.4h0M511.6 46.8h0M512.0 73.2h0M493.5 47.6h0M485.1 94.3h0M485.8 102.5h0M505.0 92.5h0M505.3 98.8h0M516.0 93.7h0M494.9 92.8h0M497.4 83.7h0M495.3 81.9h0M519.5 55.0h0M488.3 93.0h0M516.2 98.4h0M510.4 75.8h0M503.8 65.9h0M515.8 70.5h0M507.3 86.2h0M494.6 81.7h0M517.7 49.6h0M508.8 56.7h0M497.3 72.9h0M494.1 96.8h0M492.1 54.3h0M516.8 72.5h0M493.4 89.8h0M504.5 85.5h0M486.8 61.8h0M485.4 92.5h0M507.8 83.1h0M501.2 73.3h0M490.2 55.3h0M490.3 71.7h0M496.4 58.2h0M504.6 58.0h0M489.8 70.7h0M491.7 69.4h0M491.9 45.8h0M493.0 44.3h0M516.5 85.2h0M490.5 83.6h0M490.9 55.7h0M490.9 93.1h0M505.7 65.1h0M488.8 71.6h0M515.9 65.5h0M497.7 90.7h0M491.6 74.3h0M499.9 80.8h0M503.5 56.5h0M491.8 63.8h0M498.3 75.2h0M493.6 78.2h0M510.1 78.7h0M489.3 72.3h0M507.1 55.0h0M513.8 72.0h0M491.9 54.5h0M483.8 56.3h0M503.8 63.1h0M518.0 78.6h0M493.8 54.1h0M508.3 103.4h0M496.8 78.4h0M498.7 74.4h0M504.7 61.6h0M489.3 78.3h0M518.0 74.9h0M487.4 73.9h0M508.3 88.7h0M488.3 92.1h0M495.2 58.6h0M497.9 59.8h0M483.9 80.0h0M503.1 44.2h0M497.1 80.4h0M495.5 58.8h0M489.6 89.0h0M502.7 79.5h0M510.8 79.3h0M507.2 73.4h0M489.7 71.0h0M501.6 72.0h0M512.3 93.9h0M488.7 55.9h0M498.3 84.7h0M510.6 78.6h0M484.0 92.2h0M518.3 50.7h0M490.9 92.2h0M504.4 51.1h0M495.7 90.9h0M508.0 93.0h0M511.4 100.7h0M507.5 54.9h0M508.2 63.9h0M512.5 72.6h0M499.0 54.1h0M515.0 75.6h0M507.9 74.2h0M500.4 79.7h0M510.4 67.9h0M489.5 86.3h0M488.9 44.7h0M502.7 90.9h0M498.0 91.1h0M515.7 68.7h0M506.8 46.1h0M501.2 90.0h0M506.8 75.3h0M494.3 100.4h0M490.9 88.9h0M517.1 64.7h0M510.5 72.2h0M507.5 75.3h0M498.4 55.0h0M510.0 90.7h0M503.7 75.2h0M518.4 93.7h0M503.4 55.2h0M502.2 91.1h0M516.5 79.8h0M499.9 87.9h0M506.6 48.3h0M483.3 83.4h0M504.2 98.0h0M495.9 69.9h0M490.2 79.3h0M495.9 63.1h0M506.6 88.6h0M519.4 73.6h0M509.9 95.2h0M517.9 94.3h0M488.9 81.8h0M488.6 57.5h0M497.1 45.2h0M484.6 79.5h0M509.5 70.1h0M504.5 74.2h0M502.2 94.7h0M486.6 80.4h0M494.6 75.7h0M505.5 61.1h0M510.8 66.2h0M483.8 61.8h0M494.2 63.6h0M494.7 102.4h0M495.5 60.8h0M516.1 85.7h0M487.3 52.9h0M503.2 53.9h0M489.6 76.3h0M492.3 81.7h0M498.4 80.5h0M513.4 84.6h0M487.9 59.4h0M493.9 69.4h0M502.0 47.6h0M515.7 61.0h0M490.5 66.6h0M490.7 84.4h0M483.2 93.0h0M498.7 80.9h0M502.7 82.3h0M485.5 76.0h0M506.2 81.8h0M507.4 82.2h0M499.0 51.3h0M494.3 60.9h0M494.7 82.9h0M491.9 57.2h0M489.3 74.5h0M490.6 62.4h0M510.6 82.2h0M496.5 86.8h0M507.3 102.8h0M483.4 56.4h0M505.3 80.8h0M485.0 70.5h0M507.6 56.4h0M508.5 95.9h0M505.0 98.5h0M502.0 89.2h0M487.9 79.6h0M495.7 89.0h0M512.4 101.5h0M483.6 81.4h0M504.8 53.0h0M488.2 85.7h0M490.3 79.8h0M513.2 102.4h0M517.7 85.2h0M512.8 66.7h0M492.2 79.3h0M502.8 54.9h0M497.3 87.0h0M502.1 55.0h0M484.5 44.5h0M505.6 67.4h0M518.8 99.2h0M501.5 76.6h0M499.2 55.2h0M504.3 66.6h0M490.6 68.6h0M492.3 80.1h0M486.1 63.3h0M491.3 88.6h0M504.1 81.1h0M503.3 57.9h0M486.2 68.3h0M498.2 80.0h0M519.4 90.8h0M496.9 68.9h0M501.7 75.0h0M515.7 92.5h0M494.0 99.5h0M500.8 66.4h0M490.5 58.0h0M502.7 86.9h0M498.8 76.5h0M499.5 69.4h0M517.4 94.9h0M499.2 59.6h0M509.1 97.8h0M509.0 66.2h0M500.7 98.5h0M496.3 71.1h0M508.6 62.3h0M483.0 56.0h0M496.4 79.7h0M509.6 80.2h0M512.0 72.8h0M505.7 87.9h0M488.0 68.5h0M495.3 61.9h0M513.1 85.0h0M497.2 61.5h0M485.2 80.3h0M498.3 83.1h0M501.6 72.3h0M508.0 64.6h0M513.4 91.9h0M508.6 73.2h0M484.8 61.8h0M515.5 68.8h0M499.4 72.1h0M490.2 83.5h0M498.5 102.5h0M503.2 69.8h0M516.6 74.2h0M497.0 57.1h0M517.0 69.4h0M491.7 83.1h0M485.3 68.7h0M516.6 88.0h0M507.8 99.1h0M503.7 75.5h0M513.3 84.0h0M503.3 83.0h0M495.1 83.2h0M490.4 64.4h0M484.3 58.0h0M493.9 71.8h0M504.7 68.4h0M518.8 84.1h0M505.1 88.4h0M490.4 87.7h0M490.6 82.4h0M483.5 82.2h0M502.8 72.7h0M487.1 47.5h0M485.3 83.2h0M497.7 63.5h0M488.6 74.7h0M507.6 57.2h0M514.1 75.4h0M498.9 66.7h0M501.1 82.7h0M505.9 63.2h0M511.5 67.7h0M519.2 73.1h0M510.1 100.4h0M508.1 98.7h0M494.6 89.8h0M497.7 82.3h0M505.5 57.7h0M490.1 81.7h0M503.5 78.9h0M501.5 96.1h0M492.1 63.6h0M516.9 98.9h0M503.1 82.5h0M500.6 44.9h0M501.6 88.2h0M510.0 73.7h0M507.3 68.1h0M507.8 96.6h0M489.6 72.2h0M517.0 89.3h0M508.1 79.6h0M512.5 76.1h0M487.2 63.0h0M484.3 56.5h0M499.0 46.7h0M483.2 71.3h0M486.6 46.3h0M492.0 74.8h0M489.8 87.4h0M503.5 85.8h0M518.8 56.7h0M491.0 57.8h0M506.8 95.6h0M491.3 76.0h0M511.0 80.0h0M499.5 90.3h0M514.5 94.6h0M513.1 83.2h0M497.6 72.0h0M490.4 91.4h0M494.2 80.4h0M485.8 76.0h0M515.6 53.6h0M513.8 73.5h0M513.8 76.5h0M513.9 86.9h0M488.7 55.9h0M502.6 54.8h0M487.0 67.8h0M487.7 49.1h0M501.2 82.6h0M516.1 84.2h0M507.2 98.9h0M495.3 89.1h0M495.2 49.1h0M498.3 84.0h0M518.2 60.2h0M513.4 90.2h0M518.8 102.1h0M511.6 81.1h0M495.7 86.2h0M485.3 48.8h0M518.2 66.2h0M484.1 80.1h0M503.4 79.3h0M500.4 61.8h0M505.5 86.1h0M508.7 58.7h0M496.3 79.1h0M502.7 54.5h0M492.3 80.4h0M518.8 90.4h0M490.0 81.5h0M483.1 58.5h0M493.4 102.4h0M515.8 89.3h0M485.2 91.9h0M516.3 73.4h0M514.3 81.3h0M491.3 60.7h0M517.4 81.6h0M495.4 52.2h0M503.7 68.5h0M485.9 90.4h0M512.2 91.8h0M512.4 50.8h0M494.3 85.0h0M511.3 79.8h0M483.3 76.4h0M513.8 82.0h0M486.5 65.9h0M484.0 74.2h0M511.8 46.3h0M490.3 68.6h0M496.5 101.1h0M499.1 92.3h0M509.1 63.6h0M500.3 101.6h0M487.1 69.6h0M490.2 91.6h0M487.3 85.9h0M499.9 88.7h0M497.4 78.0h0M516.4 60.4h0M491.3 65.8h0M493.6 78.4h0M497.5 48.3h0M488.2 78.8h0M503.8 67.1h0M499.3 99.3h0M503.8 65.2h0M483.0 80.6h0M514.2 57.7h0M495.5 74.8h0M514.3 71.6h0M506.4 85.6h0M483.0 73.5h0M517.0 97.4h0M515.8 95.5h0M486.4 81.1h0M502.3 60.7h0M490.4 56.6h0M514.9 68.6h0M511.3 68.8h0M507.8 62.4h0M505.2 87.4h0M515.9 90.0h0M508.1 66.2h0M489.0 95.4h0M483.6 78.0h0M502.2 85.0h0M495.5 73.8h0M499.6 93.7h0M513.6 95.6h0M515.8 86.4h0M509.9 77.9h0M503.2 84.6h0M515.2 97.7h0M503.7 69.5h0M514.0 57.5h0M498.9 86.5h0M490.7 74.5h0M500.5 83.3h0M512.0 86.1h0M503.5 72.3h0M487.7 74.2h0M509.6 56.8h0M502.5 50.2h0M486.7 67.9h0M485.9 66.7h0M503.1 97.2h0M497.5 63.4h0M496.5 92.6h0M512.6 54.4h0M497.5 101.2h0M507.5 66.2h0M485.3 82.2h0M509.1 91.8h0M512.2 64.5h0M501.9 96.1h0M489.8 68.0h0M500.6 48.6h0M505.7 69.7h0M504.9 92.2h0M505.0 90.5h0M504.9 87.2h0M491.7 70.7h0M492.3 72.7h0M510.6 65.6h0M492.1 74.7h0M507.9 55.5h0M518.0 58.4h0M490.4 88.2h0M492.3 86.5h0M490.5 54.8h0M489.6 51.0h0M498.2 74.0h0M508.0 72.5h0M484.6 83.8h0M485.8 75.9h0M518.7 97.4h0M505.8 65.9h0M509.2 77.9h0M485.9 51.3h0M490.3 49.6h0M513.6 69.1h0M484.0 99.7h0M502.2 72.5h0M517.3 57.9h0M485.2 99.3h0M488.2 78.5h0M516.2 89.7h0M504.5 56.0h0M499.0 84.4h0M507.5 54.7h0M485.3 56.4h0M487.5 78.5h0M483.8 54.6h0M493.4 62.2h0M502.7 94.0h0M486.1 78.2h0M497.3 79.3h0M484.8 66.0h0M483.6 56.8h0M497.6 54.4h0M493.9 54.9h0M496.5 78.3h0M501.7 58.8h0M514.8 77.1h0M509.5 77.7h0M492.8 68.0h0M517.9 102.4h0M498.0 61.9h0M498.3 81.8h0M488.1 88.0h0M489.3 66.6h0M503.0 90.7h0M514.1 99.5h0M510.7 87.9h0M495.1 98.0h0M518.6 59.8h0M505.5 44.0h0M490.4 85.6h0M485.7 91.8h0M488.5 88.8h0M516.6 46.7h0M510.7 53.7h0M499.0 83.4h0M484.7 57.1h0M513.0 100.4h0M500.9 92.5h0M492.6 88.7h0M494.0 60.1h0M512.8 78.5h0M514.5 81.1h0M507.0 64.7h0M514.9 85.1h0M489.8 58.9h0M483.1 64.5h0M518.1 51.5h0M509.6 70.8h0M501.5 56.4h0M496.6 69.9h0M493.4 69.3h0M507.7 86.1h0M486.3 71.7h0M492.8 74.4h0M509.9 80.7h0M511.7 81.9h0M507.6 95.0h0M491.3 94.6h0M517.0 92.5h0M486.2 71.4h0M492.9 101.0h0M486.5 85.6h0M493.5 74.6h0M495.1 90.4h0M495.7 75.0h0M508.4 56.3h0M509.4 66.6h0M511.6 95.2h0M503.1 73.1h0M518.4 83.7h0M506.1 52.6h0M509.6 89.4h0M507.6 93.3h0M493.1 79.1h0M489.6 71.9h0M487.7 76.0h0M490.2 75.4h0M511.7 91.2h0M499.2 48.8h0M493.5 65.4h0M497.9 91.6h0M508.5 49.4h0M497.5 93.7h0M503.6 97.5h0M500.8 56.2h0M494.5 62.6h0M499.5 57.5h0M485.0 68.0h0M488.2 61.8h0M515.3 53.4h0M483.8 72.0h0M515.6 82.2h0M490.7 95.2h0M493.3 66.3h0M503.1 64.7h0M484.7 63.7h0M486.3 78.8h0M518.3 97.6h0M494.5 49.4h0M515.8 76.4h0M502.7 69.6h0M518.7 98.9h0M490.1 81.3h0M502.7 100.9h0M500.2 66.5h0M507.2 72.8h0M510.2 48.6h0M502.2 89.5h0M505.3 87.9h0M513.9 97.8h0M517.5 78.3h0M484.9 68.9h0M510.2 55.5h0M508.4 78.2h0M510.3 67.5h0M511.4 79.7h0M509.5 70.9h0M486.4 72.8h0M494.4 72.0h0M491.5 95.9h0M489.5 66.8h0M504.1 65.7h0M489.0 68.3h0M490.3 88.6h0M518.9 61.5h0M492.7 97.9h0M499.0 71.8h0M508.0 74.5h0M487.4 76.1h0M491.8 64.3h0M489.3 87.0h0M503.1 49.6h0M519.0 78.9h0M503.2 82.4h0M493.7 77.4h0M489.6 86.7h0M490.9 70.9h0M499.2 57.1h0M508.9 59.5h0M508.9 68.4h0M486.5 73.5h0M508.3 87.1h0M518.6 79.0h0M487.1 68.9h0M511.5 51.3h0M506.9 67.0h0M516.2 66.3h0M509.8 79.0h0M487.9 73.8h0M515.7 67.6h0M484.1 54.5h0M488.8 65.7h0M484.1 79.0h0M508.5 60.9h0M489.3 58.8h0M517.2 57.6h0M513.3 78.0h0M487.1 66.5h0M515.7 86.5h0M504.2 79.8h0M509.2 78.1h0M483.6 44.9h0M518.4 77.8h0M499.7 84.2h0M491.0 91.5h0M518.3 64.4h0M491.2 68.8h0M515.0 97.5h0M513.9 87.5h0M503.8 82.5h0M509.4 91.1h0M497.7 74.4h0M488.5 96.6h0M507.4 82.6h0M499.4 91.7h0M493.3 71.8h0M517.0 89.9h0M489.5 77.1h0M515.3 82.3h0M494.2 70.5h0M485.0 90.1h0M511.8 100.5h0M518.4 78.8h0M513.9 47.2h0M515.1 75.8h0M504.4 75.1h0M484.2 74.6h0M500.6 59.6h0M483.5 91.1h0M495.1 85.6h0M513.6 57.3h0M508.1 79.5h0M493.1 90.0h0M485.8 63.3h0M519.0 93.8h0M499.7 60.1h0M504.6 68.2h0M510.9 45.7h0M515.4 101.4h0M514.7 71.2h0M515.6 68.2h0M494.4 74.3h0M511.8 66.8h0M504.6 74.6h0M518.6 79.8h0M507.5 73.0h0M496.7 56.3h0M513.8 62.5h0M495.5 55.4h0M501.4 82.7h0M492.3 65.3h0M493.1 71.6h0M488.7 81.0h0M508.0 58.1h0M498.4 56.1h0M492.7 74.7h0M490.3 92.3h0M511.0 46.8h0M484.3 61.4h0M503.1 71.8h0M497.6 83.0h0M498.5 100.3h0M492.4 97.0h0M502.6 95.3h0M517.9 44.3h0M485.2 88.5h0M487.8 48.6h0M487.2 67.8h0M496.9 97.4h0M499.0 85.6h0M490.7 87.0h0M508.5 76.3h0M490.6 60.9h0M499.1 76.7h0M501.8 67.7h0M492.9 83.8h0M483.7 71.8h0M494.0 46.3h0M503.1 70.9h0M509.1 73.3h0M487.4 98.7h0M498.3 83.7h0M500.1 89.0h0M489.7 56.4h0M500.2 91.0h0M489.2 78.7h0M519.5 96.1h0M493.0 77.5h0M494.0 75.2h0M493.4 46.0h0M514.8 45.6h0M514.2 63.7h0M496.6 81.9h0M518.6 46.2h0M517.0 46.3h0M501.1 89.4h0M501.2 94.3h0M497.6 94.0h0M494.5 82.0h0M512.3 77.9h0M510.7 72.4h0M514.9 45.1h0M501.2 86.9h0M496.3 55.7h0M498.7 65.5h0M492.1 53.5h0M518.1 79.6h0M498.1 92.2h0M503.1 88.0h0M507.0 57.8h0M496.6 72.4h0M486.9 65.7h0M508.1 98.2h0M489.7 62.3h0M485.5 78.2h0M496.7 73.9h0M494.9 69.5h0M490.2 98.7h0M492.9 80.1h0M494.3 56.7h0M496.1 100.2h0M483.9 76.4h0M501.4 60.1h0M500.4 86.5h0M493.6 84.8h0M489.6 101.3h0M515.1 87.6h0M492.0 66.9h0M486.5 96.6h0M495.5 91.9h0M499.1 77.2h0M487.7 94.8h0M498.8 98.0h0M509.7 84.5h0M496.4 81.4h0M505.1 70.9h0M516.2 102.8h0M511.9 82.0h0M518.4 99.6h0M491.4 59.5h0M505.4 61.1h0M510.0 101.1h0M490.5 61.7h0M492.9 100.9h0M507.5 73.2h0M505.9 102.2h0M484.3 45.1h0M519.0 88.4h0M491.1 82.1h0M507.6 70.2h0M500.1 88.6h0M506.8 83.6h0M517.5 77.5h0M488.4 84.7h0M491.6 77.2h0M511.2 79.0h0M502.8 77.3h0M509.2 60.2h0M501.7 83.4h0M516.3 54.4h0M499.5 98.6h0M514.7 72.5h0M497.0 54.3h0M514.5 96.6h0M500.6 50.1h0M513.3 57.3h0M515.2 85.0h0M485.6 86.9h0M507.9 76.3h0M498.9 83.9h0M496.5 65.7h0M508.8 97.1h0M490.6 70.0h0M505.8 59.4h0M495.9 69.2h0M505.1 82.0h0M483.9 90.8h0M510.4 83.6h0M492.6 102.9h0M519.0 95.5h0M485.0 85.7h0M497.1 75.7h0M486.7 76.7h0M514.2 57.8h0M491.3 68.5h0M514.2 48.1h0M483.0 73.8h0M501.2 96.6h0M483.0 76.0h0M498.6 66.2h0M511.0 70.9h0M498.8 65.0h0M493.4 70.6h0M515.2 94.2h0M489.6 82.8h0M512.6 85.9h0M486.4 77.3h0M492.4 61.3h0M491.9 85.4h0M506.3 64.9h0M490.5 76.7h0M505.6 64.3h0M514.8 94.1h0M486.3 66.7h0M488.6 57.2h0M497.5 69.8h0M506.9 80.2h0M492.7 80.3h0M487.8 75.7h0M492.8 80.2h0M490.3 67.9h0M513.1 73.1h0M490.4 74.5h0M504.2 59.0h0M513.7 85.3h0M490.9 100.3h0M514.6 94.7h0M496.1 78.0h0M492.3 79.6h0M502.5 74.0h0M490.7 77.7h0M497.1 68.9h0M514.0 85.4h0M483.0 66.6h0M516.2 92.1h0M485.7 65.8h0M484.8 96.5h0M492.8 47.1h0M491.2 80.2h0M506.5 57.8h0M500.8 96.7h0M506.1 80.8h0M484.7 62.5h0M483.3 85.3h0M484.8 56.7h0M485.4 77.2h0M515.5 70.0h0M513.9 55.6h0M508.3 59.7h0M493.9 62.3h0M487.2 89.8h0M517.9 66.0h0M508.7 60.9h0M499.2 79.1h0M509.0 96.6h0M496.8 50.2h0M506.5 58.2h0M491.6 87.2h0M503.6 71.8h0M484.8 97.0h0M501.6 55.1h0M488.9 77.2h0M490.3 56.7h0M493.6 51.2h0M516.7 68.5h0M484.5 56.3h0M487.1 98.4h0M489.9 69.9h0M517.8 94.5h0M507.3 84.1h0M513.5 57.5h0M485.8 60.6h0M499.0 82.7h0M510.1 52.9h0M512.5 67.2h0M487.6 48.3h0M518.6 62.6h0M499.0 57.3h0M516.6 97.7h0M517.8 102.8h0M507.9 83.3h0M495.3 79.5h0M519.1 101.6h0M500.2 64.4h0M514.1 49.3h0M516.4 61.2h0M487.6 68.7h0M494.8 76.1h0M496.3 78.8h0M506.1 101.3h0M505.2 90.4h0M485.3 63.3h0M486.8 60.0h0M483.3 82.0h0M485.0 92.9h0M514.7 66.0h0M494.5 65.3h0M489.6 55.4h0M504.9 71.3h0M509.5 47.7h0M492.6 58.6h0M493.8 99.6h0M511.5 71.3h0M494.6 59.4h0M504.6 80.1h0M507.2 81.5h0M496.2 74.8h0M511.7 73.7h0M514.2 86.9h0M494.3 71.8h0M483.1 72.2h0M505.3 84.3h0M483.3 82.5h0M509.3 83.4h0M493.4 82.3h0M490.2 99.0h0M506.5 63.7h0M516.5 90.5h0M512.0 59.4h0M500.9 71.3h0M503.0 86.6h0M495.9 59.6h0M483.6 54.4h0M502.1 69.7h0M503.0 71.2h0M500.0 58.8h0M499.0 80.2h0M494.6 84.2h0M515.6 69.5h0M496.9 94.5h0M485.8 64.6h0M504.7 90.7h0M487.7 63.2h0M498.1 79.5h0M511.5 54.1h0M502.0 86.8h0M500.5 65.4h0M488.2 76.5h0M509.4 100.5h0M485.6 79.6h0M483.8 73.7h0M510.4 78.5h0M508.8 68.2h0M510.7 95.9h0M491.3 85.8h0M490.4 55.2h0M495.3 91.4h0M504.5 86.9h0M499.9 44.9h0M499.2 78.0h0M486.1 94.6h0M491.3 78.1h0M483.9 91.1h0M499.4 89.6h0M507.0 64.4h0M483.4 68.8h0M498.5 55.8h0M512.1 72.8h0M494.6 44.7h0M486.0 93.5h0M507.1 80.3h0M516.8 66.6h0M500.7 101.2h0M487.0 77.1h0M483.1 88.1h0M489.2 90.1h0M507.6 75.8h0M496.0 78.3h0M519.5 48.9h0M499.8 50.6h0M488.9 61.3h0M498.3 74.0h0M503.5 58.5h0M519.3 74.6h0M495.9 53.8h0M510.8 63.6h0M502.2 61.0h0M502.9 87.9h0M511.5 78.5h0M511.8 89.8h0M496.3 67.0h0M507.5 87.4h0M501.2 101.0h0M515.2 51.8h0M499.2 64.8h0M496.9 85.1h0M486.4 79.4h0M509.9 50.9h0M513.8 70.4h0M514.4 59.9h0M496.7 80.3h0M488.9 93.1h0M505.2 101.8h0M499.0 56.5h0M506.2 64.5h0M485.2 94.7h0M486.2 59.0h0M501.5 65.8h0M495.1 73.7h0M495.9 54.8h0M485.4 57.3h0M489.8 81.4h0M487.0 76.4h0M505.2 102.1h0M491.3 63.1h0M500.1 75.1h0M486.7 85.3h0M487.4 50.3h0M484.9 74.5h0M497.2 98.8h0M498.1 61.9h0M495.8 90.9h0M492.6 92.1h0M496.2 51.0h0M498.7 57.3h0M515.0 80.4h0M498.5 52.3h0M508.7 85.9h0M512.5 56.2h0M497.6 93.6h0M508.5 65.7h0M493.6 99.9h0M491.1 76.5h0M495.4 87.8h0M485.8 88.3h0M509.2 99.0h0M484.6 91.4h0M509.4 49.5h0M500.2 80.9h0M512.3 48.4h0M501.7 73.8h0M515.0 78.3h0M512.5 58.7h0M515.6 76.5h0M511.0 81.0h0M504.9 79.0h0M508.5 78.9h0M514.6 93.1h0M504.9 55.0h0M492.5 73.9h0M504.7 68.8h0M510.4 61.0h0M497.7 93.7h0M502.7 59.7h0M510.0 75.1h0M507.1 65.4h0M515.8 55.6h0M510.8 56.0h0M484.3 83.3h0M490.8 68.0h0M507.2 67.3h0M519.4 70.8h0M490.9 56.3h0M494.7 57.9h0M514.0 61.1h0M491.7 61.0h0M483.3 56.1h0M497.9 55.9h0M499.5 58.5h0M515.7 66.2h0M506.0 84.8h0M508.2 62.7h0M517.8 74.7h0M486.9 44.5h0M504.3 53.9h0M504.8 89.3h0M514.2 97.1h0M490.5 55.9h0M518.4 52.1h0M491.0 54.2h0M510.8 61.1h0M497.7 71.6h0M512.2 89.7h0M508.1 90.2h0M517.1 99.6h0M503.1 84.1h0M488.4 85.5h0M509.4 70.5h0M506.4 96.5h0M510.0 79.7h0M509.4 99.3h0M513.6 78.9h0M515.3 64.9h0M494.6 102.8h0M517.8 102.7h0M510.0 57.5h0M484.4 77.8h0M506.7 57.1h0M491.4 101.8h0M514.6 98.0h0M514.7 56.5h0M514.6 59.6h0M487.0 47.0h0M485.9 102.4h0M497.1 86.9h0M489.6 62.6h0M489.2 59.1h0M499.2 96.9h0M484.5 85.5h0M512.2 81.2h0M489.9 53.6h0M494.4 80.0h0M485.2 67.8h0M487.9 72.9h0M507.5 76.2h0M500.1 47.9h0M511.1 76.6h0M487.6 67.6h0M505.7 102.9h0M506.7 75.4h0M513.6 71.0h0M503.3 61.1h0M498.2 49.5h0M489.9 75.5h0M487.7 88.7h0M492.7 77.5h0M517.9 47.0h0M499.2 64.2h0M488.1 70.3h0M511.3 79.0h0M517.3 70.5h0M506.5 97.5h0M491.4 99.2h0M487.3 76.4h0M506.4 72.4h0M512.6 66.6h0M505.4 73.9h0M484.8 70.0h0M498.7 63.0h0M489.4 70.4h0M509.6 83.8h0M506.9 79.3h0M517.9 72.6h0M512.9 67.8h0M506.1 78.8h0M512.7 100.7h0M511.2 98.4h0M509.3 80.3h0M516.0 86.2h0M517.9 78.7h0M486.7 87.0h0M505.1 83.2h0M496.1 76.6h0M492.1 87.1h0M517.5 55.2h0M503.8 96.8h0M484.8 86.8h0M513.6 78.6h0M507.8 54.9h0M500.2 65.2h0M489.1 82.0h0M497.8 57.4h0M486.4 84.2h0M499.9 54.7h0M502.9 80.3h0M517.6 71.5h0M515.7 71.8h0M508.4 68.5h0M488.0 67.6h0M507.3 100.7h0M516.0 92.4h0M490.1 78.7h0M500.2 61.8h0M498.7 59.0h0M511.8 70.8h0M519.5 83.2h0M505.5 92.8h0M488.0 85.5h0M513.9 98.6h0M517.3 78.4h0M488.5 85.9h0M492.1 91.8h0M503.5 73.7h0M508.0 91.3h0M504.1 69.4h0M505.0 99.7h0M504.3 98.6h0M502.7 80.2h0M503.5 80.7h0M505.1 47.0h0M484.2 70.9h0M495.0 68.3h0M492.0 99.0h0M504.9 65.1h0M497.0 87.6h0M513.3 96.2h0M517.5 62.0h0M501.9 102.6h0M507.6 92.3h0M501.9 70.4h0M500.5 63.9h0M510.6 67.6h0M488.3 61.9h0M510.6 66.2h0M487.3 58.2h0M505.6 89.2h0M504.6 99.0h0M504.7 69.1h0M518.8 64.2h0M516.8 73.0h0M486.1 71.6h0M492.3 62.6h0M507.9 59.0h0M490.1 81.2h0M509.0 66.8h0M509.7 76.5h0M495.4 93.2h0M486.2 72.2h0M486.0 81.2h0M489.2 46.8h0M494.1 66.2h0M514.6 58.6h0M504.2 100.8h0M486.1 64.2h0M483.3 55.1h0M495.1 73.5h0M497.0 89.7h0M493.6 96.3h0M486.2 56.5h0M491.2 59.4h0M514.6 78.3h0M508.3 96.8h0M487.2 77.0h0M507.2 65.3h0M484.2 68.8h0M491.5 73.8h0M508.9 75.1h0M491.4 75.2h0M489.2 81.0h0M502.6 91.4h0M496.9 50.2h0M495.4 51.7h0M506.0 59.0h0M488.9 86.8h0M483.3 72.8h0M506.7 74.8h0M515.7 68.4h0M508.7 84.6h0M507.3 82.6h0M512.1 63.6h0M488.0 88.1h0M483.4 92.2h0M497.0 102.3h0M493.7 77.9h0M511.4 68.2h0M486.7 75.1h0M486.6 79.7h0M509.8 97.9h0M487.4 84.6h0M497.1 56.4h0M487.9 68.2h0M491.0 77.4h0M510.9 72.0h0M504.1 54.3h0M491.9 55.6h0M485.9 77.5h0M500.0 93.3h0M497.4 45.6h0M513.7 78.5h0M510.1 88.3h0M500.5 69.9h0M516.6 86.8h0M513.2 73.6h0M494.2 80.6h0M516.4 56.9h0M494.2 70.8h0M486.1 89.3h0M484.8 65.7h0M499.3 50.9h0M501.1 54.4h0M491.9 75.5h0M506.9 54.9h0M490.6 61.0h0M483.2 75.0h0M498.4 74.5h0M507.7 93.7h0M483.9 64.7h0M497.9 69.3h0M514.1 96.2h0M503.6 70.2h0M487.2 79.7h0M506.2 77.6h0M496.5 90.3h0M515.0 76.9h0M496.0 55.3h0M486.9 47.5h0M510.7 77.1h0M491.2 60.3h0M485.2 86.7h0M490.6 85.5h0M513.4 80.0h0M506.0 57.9h0M513.5 72.5h0M488.1 78.1h0M496.0 78.0h0M489.0 71.9h0M490.0 67.8h0M515.0 79.7h0M499.8 85.9h0M508.6 98.5h0M497.7 51.6h0M485.3 72.6h0M496.1 69.7h0M491.1 54.2h0M517.9 80.9h0M516.5 70.7h0M516.3 82.7h0M507.2 63.7h0M501.9 52.3h0M500.6 75.4h0M483.2 58.0h0M488.7 74.9h0M492.0 71.8h0M494.2 87.7h0M488.0 87.9h0M496.7 55.8h0M485.4 63.6h0M496.0 64.4h0M490.8 93.4h0M514.3 72.5h0M509.6 92.5h0M518.6 66.9h0M491.0 64.6h0M503.2 90.8h0M518.2 82.4h0M487.4 71.3h0M505.3 67.9h0M493.2 89.7h0M502.3 76.5h0M514.6 56.9h0M502.0 91.2h0M500.4 76.3h0M510.0 99.2h0M505.7 92.3h0M493.1 81.9h0M492.9 89.4h0M507.4 81.6h0M511.5 90.8h0M507.0 54.7h0M484.1 80.7h0M488.1 78.3h0M485.4 69.0h0M483.2 77.0h0M497.0 74.3h0M511.3 84.7h0M496.3 54.1h0M484.7 65.4h0M490.7 59.0h0M493.3 79.5h0M505.8 44.8h0M514.9 98.3h0M485.4 90.3h0M487.2 81.9h0M487.0 57.6h0M492.3 79.5h0M492.9 82.3h0M498.7 73.3h0M499.5 87.7h0M511.3 84.6h0M516.0 98.0h0M519.4 100.6h0M513.7 81.2h0M485.3 87.1h0M502.2 100.1h0M484.0 51.9h0M490.5 97.3h0M492.1 63.3h0M486.0 101.0h0M513.9 74.5h0M489.1 79.0h0M489.2 89.7h0M517.0 87.7h0M489.8 73.6h0M498.7 71.8h0M490.8 80.7h0M505.6 87.7h0M494.6 91.8h0M507.0 59.7h0M499.1 101.3h0M500.8 66.6h0M518.9 86.0h0M496.6 72.1h0M504.6 73.7h0M501.8 63.6h0M511.8 74.9h0M486.2 67.3h0M516.6 89.0h0M514.7 82.9h0M488.8 81.7h0M512.1 100.8h0M503.6 76.9h0M503.6 63.0h0M484.7 96.7h0M517.4 60.8h0M509.5 58.3h0M503.3 65.5h0M498.1 76.9h0M518.7 83.5h0M518.5 99.2h0M510.5 53.9h0M484.4 54.3h0M488.0 67.8h0M487.9 61.7h0M496.8 82.7h0M496.9 83.5h0M491.0 54.3h0M508.8 94.9h0M485.9 72.4h0M515.3 86.7h0M485.3 92.7h0M503.0 93.3h0M502.9 67.9h0M505.0 95.9h0M492.6 85.3h0M491.8 93.7h0M494.0 66.6h0M483.4 50.6h0M483.5 81.1h0M496.9 47.2h0M486.6 101.7h0M483.6 93.4h0M502.7 100.6h0M485.9 77.9h0M514.0 61.6h0M483.3 56.1h0M505.8 79.5h0M511.6 95.2h0M500.7 100.7h0M491.8 65.9h0M489.7 76.8h0M510.0 87.1h0M499.6 85.6h0M492.7 65.5h0M509.3 78.7h0M487.2 76.8h0M513.6 59.4h0M492.1 73.2h0M517.2 94.9h0M489.4 87.3h0M498.2 89.8h0M511.8 98.4h0M515.7 82.0h0M485.7 102.8h0M498.7 70.2h0M492.0 93.6h0M486.1 60.6h0M513.8 81.7h0M517.9 80.1h0M488.3 71.5h0M492.4 94.5h0M484.2 58.0h0M510.9 87.9h0M494.9 83.2h0M514.9 71.5h0M516.0 60.8h0M512.5 83.8h0M514.0 90.6h0M515.6 93.1h0M500.8 89.2h0M483.9 74.3h0M514.3 95.8h0M504.9 91.9h0M518.2 76.1h0M503.9 101.6h0M485.4 93.7h0M507.6 61.5h0M500.6 99.0h0M518.0 91.8h0M499.8 87.8h0M486.7 84.6h0M501.8 86.3h0M514.4 68.3h0M510.1 58.5h0M500.2 63.2h0M492.3 62.2h0M498.8 59.9h0M498.4 101.5h0M493.4 78.9h0M488.6 68.6h0M489.0 97.7h0M500.2 105.6h0M518.8 105.0h0M502.8 105.5h0M495.6 105.5h0M482.7 105.2h0M494.3 105.6h0M502.5 105.3h0M513.6 105.1h0M487.7 105.5h0M509.4 105.0h0M491.3 104.6h0M519.9 105.3h0M513.2 105.1h0M497.5 104.6h0M487.6 105.1h0M497.6 104.8h0M483.5 105.2h0M506.5 104.7h0M484.4 105.6h0M490.7 105.0h0M504.8 104.8h0M486.7 104.8h0M487.0 104.6h0M489.6 105.2h0M501.6 105.1h0M506.4 105.0h0M494.9 104.8h0M494.9 104.8h0M508.1 104.6h0M493.1 105.3h0M503.0 105.2h0M506.2 105.3h0M518.2 105.6h0M516.9 104.7h0M488.0 104.9h0M490.7 105.4h0M519.1 104.8h0M497.2 104.6h0M501.0 104.9h0M484.3 105.0h0M515.2 104.7h0M489.3 105.6h0M498.8 105.6h0M520.4 105.6h0M485.7 105.2h0M503.7 105.1h0M500.4 105.5h0M518.5 105.1h0M498.3 104.8h0M518.2 104.8h0M496.8 105.6h0M504.2 104.8h0M495.6 105.6h0M494.1 105.4h0M504.1 105.0h0M507.7 105.0h0M513.1 105.5h0M488.8 105.5h0M495.4 105.0h0M498.1 104.8h0M487.7 104.8h0M485.1 104.8h0M519.9 104.8h0M494.2 104.6h0M496.5 105.5h0M488.2 104.7h0M498.3 105.6h0M506.7 105.3h0M516.0 105.1h0M488.1 104.7h0M512.9 105.5h0M490.6 104.7h0M486.8 104.7h0M509.6 105.4h0M509.2 105.6h0M518.8 105.2h0M485.3 104.6h0M508.2 104.7h0M497.4 105.5h0M505.7 104.9h0M506.7 104.9h0M514.2 104.9h0M502.7 105.1h0M517.7 104.9h0M520.3 105.5h0M486.7 105.0h0M508.2 105.3h0M500.8 104.9h0M515.5 105.5h0M517.8 105.2h0M511.9 105.3h0M502.6 105.3h0M485.1 105.4h0M515.8 105.5h0M496.0 105.0h0M502.8 105.1h0M499.4 105.6h0M482.6 104.8h0M511.4 105.2h0M508.5 105.6h0M515.8 104.9h0M498.0 105.1h0M518.8 104.7h0M520.2 105.3h0M490.6 105.3h0M491.6 105.3h0M519.1 105.1h0M483.7 104.9h0M489.2 104.6h0M484.7 104.8h0M502.4 104.7h0M512.4 105.5h0M506.6 105.0h0M514.6 104.8h0M516.6 105.4h0M517.2 104.8h0M490.2 105.3h0M508.8 105.6h0M509.6 105.3h0M490.6 104.8h0M501.3 105.2h0M497.6 105.2h0M520.4 104.8h0M515.7 105.0h0M504.7 105.0h0M486.4 105.1h0M487.7 105.0h0M499.0 104.9h0M509.7 104.6h0M499.7 105.2h0M503.2 104.8h0M496.8 105.5h0M498.0 104.9h0M498.3 104.6h0M516.8 105.4h0M483.0 104.8h0M503.2 104.8h0M520.1 105.0h0M511.3 104.9h0M512.5 105.1h0M499.7 105.6h0M518.1 105.0h0M498.6 105.4h0M508.6 105.0h0M498.3 104.8h0M487.3 105.5h0M488.0 105.1h0M492.6 104.7h0M490.5 105.2h0M497.6 105.3h0M501.8 105.5h0M484.0 104.9h0M517.1 105.0h0M502.0 105.3h0M516.6 105.1h0M488.4 105.0h0M509.9 105.6h0M497.3 105.0h0M509.1 104.9h0M490.3 105.3h0M495.6 105.3h0M507.8 105.3h0M504.6 104.7h0M484.4 104.9h0M492.4 105.4h0M499.2 105.1h0M488.0 104.9h0M511.2 105.2h0M505.6 105.3h0M518.7 104.7h0M504.4 104.9h0M496.2 105.6h0M519.9 105.2h0M493.6 105.2h0M515.2 104.7h0M491.5 104.7h0M518.7 105.2h0M486.7 105.0h0M500.6 105.5h0M491.9 104.6h0M492.5 105.3h0M494.8 105.0h0M512.8 104.9h0M508.6 105.5h0M494.4 105.4h0M512.9 105.1h0M490.2 104.7h0M511.3 105.4h0M483.3 104.8h0M516.2 105.0h0M508.3 105.5h0M491.3 105.2h0M492.5 105.3h0M510.1 105.0h0M515.2 105.1h0M487.9 105.3h0M515.0 105.0h0M498.3 105.5h0M503.9 104.9h0M500.3 105.2h0M520.1 104.6h0M503.0 105.5h0M513.9 105.5h0M494.5 105.5h0M514.6 105.0h0M517.9 104.8h0M488.6 104.8h0M483.1 105.1h0M498.5 105.1h0M498.4 104.9h0M509.4 105.2h0M492.1 104.7h0M510.4 105.2h0M484.4 105.0h0M500.5 105.6h0M519.2 104.7h0M499.5 104.8h0M518.0 105.4h0M487.2 105.5h0M510.8 105.4h0M512.1 105.3h0M500.7 104.9h0M506.0 104.8h0M517.8 104.9h0M517.2 105.5h0M508.4 104.9h0M492.6 105.1h0M499.2 105.1h0M499.7 105.2h0M488.8 104.7h0M493.5 105.5h0M492.2 104.8h0M483.5 105.2h0M520.6 104.8h0M508.4 105.1h0M497.6 104.9h0M499.3 105.4h0M515.0 104.6h0M506.7 105.5h0M485.8 104.8h0M505.2 104.7h0M482.5 105.5h0M499.7 105.2h0M484.4 105.5h0M488.7 105.2h0M485.1 104.8h0M495.4 105.4h0M489.0 105.1h0M486.2 104.7h0M495.5 104.6h0M484.6 105.1h0M517.2 104.7h0M492.1 105.4h0M490.9 105.3h0M485.1 104.9h0M504.4 104.9h0M500.6 104.6h0M485.1 105.6h0M490.7 104.8h0M502.6 104.9h0M491.7 105.6h0M497.8 105.2h0M487.0 105.0h0M501.0 104.9h0M484.7 104.9h0M487.7 104.7h0M514.6 104.9h0M483.0 105.1h0M488.9 105.3h0M501.2 104.7h0M484.7 105.0h0M490.7 105.0h0M502.9 105.0h0M500.4 104.6h0M505.9 104.9h0M485.7 104.6h0M488.0 105.3h0M502.8 104.9h0M519.9 104.7h0M512.4 105.0h0M517.9 105.1h0M491.2 105.4h0M495.2 105.2h0M494.3 104.9h0M520.5 105.6h0M515.1 105.2h0M511.6 105.5h0M495.9 105.4h0M502.8 105.4h0M492.5 104.7h0M501.7 105.3h0M516.6 105.2h0M490.6 105.4h0M489.2 105.0h0M504.5 105.5h0M504.1 105.1h0M494.8 104.7h0M505.2 105.3h0M500.2 105.0h0M514.1 105.3h0M517.4 105.2h0M501.5 105.0h0M503.9 105.5h0M487.4 104.9h0M493.8 105.4h0M513.5 104.6h0M496.0 105.3h0M485.1 105.5h0M502.2 105.2h0M486.6 105.4h0M486.4 105.3h0M485.0 105.2h0M487.5 104.8h0M490.7 104.6h0M485.2 104.7h0M499.0 104.8h0M487.4 105.4h0M491.8 105.4h0M492.7 105.3h0M502.1 105.2h0M490.9 105.5h0M507.5 104.8h0M499.1 105.5h0M488.2 105.3h0M484.3 105.5h0M514.8 104.7h0M501.1 105.3h0M495.0 104.8h0M519.1 105.4h0M518.5 104.7h0M513.7 104.7h0M520.7 104.9h0M517.0 105.1h0M507.0 105.3h0M513.3 105.6h0M518.1 105.2h0M482.6 104.6h0M490.3 104.7h0M495.0 105.0h0M509.0 105.2h0M489.8 104.9h0M491.5 105.2h0M518.6 105.4h0M499.5 105.1h0M488.6 104.7h0M507.9 105.0h0M501.0 104.9h0M502.1 105.6h0M486.6 105.4h0M491.6 105.0h0" stroke="#000" stroke-width="0.8" stroke-linecap="round" opacity="1"/>
<line x1="501.4" y1="105.7" x2="501.4" y2="43.5" stroke="#444" stroke-width="0.5"/>
<text x="461.3" y="118" font-size="8.4" font-weight="bold" fill="#000" text-anchor="end" transform="rotate(-45 461.3 118)">KRT15<tspan font-size="4.5" dy="-3">high</tspan></text>
<text x="507.5" y="117.8" font-size="8.4" font-weight="bold" fill="#000" text-anchor="end" transform="rotate(-45 507.5 117.8)">KRT15<tspan font-size="4.5" dy="-3">low</tspan></text>
<line x1="578.6" y1="45.4" x2="578.6" y2="110.9" stroke="#444" stroke-width="0.8"/>
<line x1="578.2" y1="110.9" x2="677" y2="110.9" stroke="#444" stroke-width="0.8"/>
<line x1="576.3" y1="110.9" x2="578.6" y2="110.9" stroke="#444" stroke-width="0.7"/>
<text x="575.6" y="112.80000000000001" font-size="5.3" font-weight="bold" fill="#222" text-anchor="end">0</text>
<line x1="576.3" y1="94.6" x2="578.6" y2="94.6" stroke="#444" stroke-width="0.7"/>
<text x="575.6" y="96.5" font-size="5.3" font-weight="bold" fill="#222" text-anchor="end">1000</text>
<line x1="576.3" y1="78.5" x2="578.6" y2="78.5" stroke="#444" stroke-width="0.7"/>
<text x="575.6" y="80.4" font-size="5.3" font-weight="bold" fill="#222" text-anchor="end">2000</text>
<line x1="576.3" y1="61.5" x2="578.6" y2="61.5" stroke="#444" stroke-width="0.7"/>
<text x="575.6" y="63.4" font-size="5.3" font-weight="bold" fill="#222" text-anchor="end">3000</text>
<line x1="576.3" y1="46" x2="578.6" y2="46" stroke="#444" stroke-width="0.7"/>
<text x="575.6" y="47.9" font-size="5.3" font-weight="bold" fill="#222" text-anchor="end">4000</text>
<rect x="587" y="102.3" width="33.5" height="8.6" fill="#6595cb" stroke="none" stroke-width="1"/>
<rect x="636" y="88.7" width="33" height="22.2" fill="#e5707a" stroke="none" stroke-width="1"/>
<line x1="603.5" y1="102.3" x2="603.5" y2="78.5" stroke="#6a9ad2" stroke-width="1.1"/>
<line x1="595.6" y1="78.5" x2="612" y2="78.5" stroke="#6a9ad2" stroke-width="1.1"/>
<line x1="652.2" y1="88.7" x2="652.2" y2="50.2" stroke="#e5707a" stroke-width="1.1"/>
<line x1="644.3" y1="50.2" x2="660.8" y2="50.2" stroke="#e5707a" stroke-width="1.1"/>
<path d="M602.4,37.3 V33.3 H652.2 V37.3" fill="none" stroke="#222" stroke-width="0.9"/>
<text x="626.2" y="32.2" font-size="5" font-weight="bold" fill="#000" text-anchor="middle">****</text>
<line x1="603.5" y1="110.9" x2="603.5" y2="113" stroke="#222" stroke-width="0.8"/>
<line x1="652.2" y1="110.9" x2="652.2" y2="113" stroke="#222" stroke-width="0.8"/>
<text x="548.4" y="73.4" font-size="8.2" font-weight="bold" fill="#000" text-anchor="middle" textLength="96.3" lengthAdjust="spacingAndGlyphs" transform="rotate(-90 548.4 73.4)">Expression level of CCL20</text>
<text x="559" y="73.8" font-size="8.2" font-weight="bold" fill="#000" text-anchor="middle" textLength="59.7" lengthAdjust="spacingAndGlyphs" transform="rotate(-90 559 73.8)">in TCGA dataset</text>
<text x="608.8" y="118.3" font-size="8.3" font-weight="bold" fill="#000" text-anchor="end" textLength="48.8" lengthAdjust="spacingAndGlyphs" transform="rotate(-45 608.8 118.3)">HPV-HNSCC</text>
<text x="662.3" y="118.5" font-size="8.3" font-weight="bold" fill="#000" text-anchor="end" textLength="51.5" lengthAdjust="spacingAndGlyphs" transform="rotate(-45 662.3 118.5)">HPV+HNSCC</text>
<rect x="36.1" y="193.6" width="100.80000000000001" height="102.4" fill="#fff" stroke="#bbb" stroke-width="0.8"/>
<line x1="51.6" y1="193.6" x2="51.6" y2="296" stroke="#f0f0f0" stroke-width="0.5"/>
<line x1="78.5" y1="193.6" x2="78.5" y2="296" stroke="#f0f0f0" stroke-width="0.5"/>
<line x1="105.1" y1="193.6" x2="105.1" y2="296" stroke="#f0f0f0" stroke-width="0.5"/>
<line x1="131.4" y1="193.6" x2="131.4" y2="296" stroke="#f0f0f0" stroke-width="0.5"/>
<line x1="36.1" y1="242" x2="136.9" y2="242" stroke="#f0f0f0" stroke-width="0.5"/>
<line x1="36.1" y1="280.3" x2="136.9" y2="280.3" stroke="#f0f0f0" stroke-width="0.5"/>
<line x1="36.1" y1="203.6" x2="136.9" y2="203.6" stroke="#f0f0f0" stroke-width="0.5"/>
<line x1="38.3" y1="193.6" x2="38.3" y2="296" stroke="#e2e2e2" stroke-width="0.6"/>
<text x="38.3" y="299.9" font-size="4.5" fill="#444" text-anchor="middle">0</text>
<line x1="65" y1="193.6" x2="65" y2="296" stroke="#e2e2e2" stroke-width="0.6"/>
<text x="65" y="299.9" font-size="4.5" fill="#444" text-anchor="middle">3</text>
<line x1="92" y1="193.6" x2="92" y2="296" stroke="#e2e2e2" stroke-width="0.6"/>
<text x="92" y="299.9" font-size="4.5" fill="#444" text-anchor="middle">6</text>
<line x1="118.2" y1="193.6" x2="118.2" y2="296" stroke="#e2e2e2" stroke-width="0.6"/>
<text x="118.2" y="299.9" font-size="4.5" fill="#444" text-anchor="middle">9</text>
<line x1="36.1" y1="261" x2="136.9" y2="261" stroke="#e2e2e2" stroke-width="0.6"/>
<text x="35.1" y="262.5" font-size="4.3" fill="#444" text-anchor="end">5</text>
<line x1="36.1" y1="222.7" x2="136.9" y2="222.7" stroke="#e2e2e2" stroke-width="0.6"/>
<text x="35.1" y="224.2" font-size="4.3" fill="#444" text-anchor="end">10</text>
<polygon points="41.2,239.2 96.0,222.6 133.0,207.8 133.0,219.6 96.0,226.5 41.2,255.6" fill="#9a9a9a" stroke="none" stroke-width="1" opacity="0.85"/>
<path d="M50.3 206.3h0M50.0 220.4h0M58.8 219.9h0M59.2 220.4h0M41.1 233.1h0M73.6 204.6h0M76.4 203.5h0M80.7 203.8h0M83.4 202.4h0M89.0 204.0h0M90.9 206.6h0M94.0 206.9h0M95.1 207.3h0M90.2 211.6h0M91.7 210.7h0M94.3 209.6h0M99.4 210.1h0M100.9 211.2h0M104.0 208.9h0M106.3 210.1h0M104.7 211.6h0M108.6 211.9h0M113.2 211.2h0M125.4 209.6h0M118.5 211.9h0M74.5 210.1h0M73.3 214.2h0M70.3 216.1h0M81.8 213.0h0M88.6 218.4h0M83.7 221.4h0M97.5 214.4h0M100.9 215.8h0M107.8 215.5h0M110.1 216.5h0M114.7 219.3h0M118.5 219.6h0M110.9 220.7h0M114.7 221.4h0M133.1 221.6h0M127.0 224.2h0M68.0 225.4h0M68.7 224.2h0M71.3 226.9h0M74.5 228.8h0M79.5 228.5h0M96.6 223.9h0M103.2 227.6h0M106.3 228.8h0M118.5 228.8h0M118.5 230.3h0M114.7 231.2h0M128.8 232.6h0M70.6 231.5h0M77.3 233.4h0M82.8 235.7h0M90.9 231.9h0M97.1 231.9h0M99.4 236.8h0M90.5 234.9h0M93.2 241.4h0M113.2 235.7h0M126.2 241.0h0M64.6 243.8h0M77.6 241.8h0M73.3 245.6h0M72.9 249.0h0M87.9 244.6h0M90.5 244.9h0M89.9 247.2h0M52.6 248.3h0M53.4 248.7h0M56.2 250.7h0M69.9 254.4h0M77.3 253.8h0M81.8 254.8h0M87.1 257.5h0M96.3 257.1h0M98.3 253.3h0M99.4 259.9h0M67.2 260.5h0M69.9 260.2h0M71.3 259.4h0M58.0 261.0h0M56.9 262.2h0M55.7 265.6h0M56.5 266.6h0M48.8 264.8h0M47.3 291.6h0" stroke="#111" stroke-width="1.2" stroke-linecap="round" opacity="1"/>
<line x1="41.2" y1="247.4" x2="132.9" y2="211" stroke="#3050c0" stroke-width="0.9"/>
<text x="136.1" y="200.5" font-size="6.3" font-weight="bold" fill="#e02828" text-anchor="end" textLength="32.2" lengthAdjust="spacingAndGlyphs">rho = 0.414</text>
<text x="136.1" y="205.79999999999998" font-size="6.3" font-weight="bold" fill="#e02828" text-anchor="end" textLength="35.8" lengthAdjust="spacingAndGlyphs">p = 2.28e-05</text>
<rect x="35.5" y="305.3" width="101.4" height="102.89999999999998" fill="#fff" stroke="#bbb" stroke-width="0.8"/>
<line x1="51.5" y1="305.3" x2="51.5" y2="408.2" stroke="#f0f0f0" stroke-width="0.5"/>
<line x1="76.6" y1="305.3" x2="76.6" y2="408.2" stroke="#f0f0f0" stroke-width="0.5"/>
<line x1="101.8" y1="305.3" x2="101.8" y2="408.2" stroke="#f0f0f0" stroke-width="0.5"/>
<line x1="127" y1="305.3" x2="127" y2="408.2" stroke="#f0f0f0" stroke-width="0.5"/>
<line x1="35.5" y1="320" x2="136.9" y2="320" stroke="#f0f0f0" stroke-width="0.5"/>
<line x1="35.5" y1="354.6" x2="136.9" y2="354.6" stroke="#f0f0f0" stroke-width="0.5"/>
<line x1="35.5" y1="388.5" x2="136.9" y2="388.5" stroke="#f0f0f0" stroke-width="0.5"/>
<line x1="39" y1="305.3" x2="39" y2="408.2" stroke="#e2e2e2" stroke-width="0.6"/>
<text x="39" y="411.7" font-size="4.5" fill="#444" text-anchor="middle">0</text>
<line x1="64.2" y1="305.3" x2="64.2" y2="408.2" stroke="#e2e2e2" stroke-width="0.6"/>
<text x="64.2" y="411.7" font-size="4.5" fill="#444" text-anchor="middle">3</text>
<line x1="89.3" y1="305.3" x2="89.3" y2="408.2" stroke="#e2e2e2" stroke-width="0.6"/>
<text x="89.3" y="411.7" font-size="4.5" fill="#444" text-anchor="middle">6</text>
<line x1="114.3" y1="305.3" x2="114.3" y2="408.2" stroke="#e2e2e2" stroke-width="0.6"/>
<text x="114.3" y="411.7" font-size="4.5" fill="#444" text-anchor="middle">9</text>
<line x1="35.5" y1="405.6" x2="136.9" y2="405.6" stroke="#e2e2e2" stroke-width="0.6"/>
<text x="34.5" y="407.1" font-size="4.3" fill="#444" text-anchor="end">0</text>
<line x1="35.5" y1="371.5" x2="136.9" y2="371.5" stroke="#e2e2e2" stroke-width="0.6"/>
<text x="34.5" y="373.0" font-size="4.3" fill="#444" text-anchor="end">5</text>
<line x1="35.5" y1="337" x2="136.9" y2="337" stroke="#e2e2e2" stroke-width="0.6"/>
<text x="34.5" y="338.5" font-size="4.3" fill="#444" text-anchor="end">10</text>
<polygon points="40.0,349.0 90.0,351.0 132.0,352.4 132.0,361.6 90.0,356.0 40.0,353.5" fill="#9a9a9a" stroke="none" stroke-width="1" opacity="0.85"/>
<path d="M55.4 347.2h0M48.9 376.3h0M67.5 360.9h0M54.1 371.3h0M45.0 343.4h0M83.5 340.3h0M63.0 337.3h0M60.2 367.3h0M86.8 322.1h0M107.9 354.5h0M53.4 330.2h0M91.5 352.2h0M59.8 329.3h0M80.2 377.6h0M77.6 361.6h0M88.7 354.6h0M45.3 368.0h0M42.0 358.0h0M55.9 338.4h0M100.2 351.3h0M87.0 345.1h0M102.7 355.7h0M60.3 359.1h0M67.2 374.2h0M65.6 372.6h0M67.9 344.1h0M92.0 375.7h0M91.1 370.3h0M79.4 384.8h0M102.4 351.2h0M75.5 367.8h0M59.5 384.6h0M97.5 352.7h0M48.3 366.8h0M48.1 348.3h0M64.4 348.1h0M93.4 370.6h0M57.8 371.5h0M55.5 367.0h0M79.5 343.8h0M48.3 346.8h0M83.0 346.9h0M46.5 345.7h0M63.8 340.6h0M71.7 344.0h0M71.1 374.2h0M76.3 362.3h0M94.0 346.2h0M77.9 348.5h0M61.7 365.5h0M90.0 338.6h0M82.6 343.7h0M70.9 364.2h0M70.1 342.5h0M74.6 356.2h0M81.1 363.2h0M64.0 373.5h0M60.2 342.5h0M60.8 343.1h0M81.2 368.8h0M55.2 351.5h0M73.9 340.2h0M67.4 355.1h0M77.5 330.2h0M100.8 355.2h0M65.3 363.8h0M78.0 366.6h0M70.5 354.9h0M55.7 363.2h0M55.9 398.3h0M72.0 350.9h0M92.9 378.1h0M71.2 367.3h0M61.6 362.6h0M100.9 337.9h0M66.1 357.5h0M66.4 337.7h0M74.7 358.8h0M100.3 367.5h0M101.9 358.3h0M52.4 349.0h0M73.8 345.0h0M61.6 324.1h0M82.6 337.5h0M102.1 353.4h0M66.8 348.3h0M83.2 357.8h0M72.9 368.3h0M78.3 361.5h0M78.6 365.5h0M86.6 343.6h0M68.8 322.0h0M64.9 360.0h0M42.1 337.0h0M100.8 328.5h0M74.1 371.1h0M81.6 367.2h0M92.8 333.7h0M44.0 370.2h0M71.6 349.5h0M97.2 354.7h0M57.6 376.4h0M71.1 341.9h0M44.2 346.5h0M51.6 366.0h0M85.6 363.2h0M64.0 354.8h0M98.9 344.1h0M60.2 366.3h0M59.6 364.4h0M72.4 358.0h0M61.8 336.5h0M43.3 351.2h0M63.7 343.9h0M76.3 355.2h0M74.2 379.9h0M82.1 362.4h0M69.6 341.1h0M79.0 380.4h0M51.0 360.0h0M81.1 378.0h0M81.3 333.3h0M62.8 377.2h0M42.0 358.3h0M79.6 356.6h0M79.4 367.3h0M84.2 363.8h0M71.8 346.3h0M89.2 351.6h0M102.8 350.6h0M89.1 357.7h0M51.9 322.0h0M65.6 316.8h0M79.3 343.5h0M70.7 356.3h0M83.0 363.6h0M84.9 326.2h0M93.5 339.6h0M64.2 331.6h0M54.8 349.7h0M75.0 358.1h0M62.3 345.8h0M57.1 361.6h0M44.5 357.2h0M49.1 350.2h0M69.5 360.1h0M45.1 384.0h0M68.7 356.1h0M102.7 323.9h0M82.0 357.1h0M56.8 354.2h0M69.2 372.7h0M75.7 373.5h0M69.5 367.8h0M68.4 370.7h0M94.9 361.1h0M51.6 351.2h0M66.5 359.5h0M73.7 336.1h0M82.0 366.3h0M71.9 373.2h0M78.8 353.0h0M88.4 339.1h0M82.8 354.7h0M52.9 351.1h0M81.5 342.3h0M52.8 366.4h0M82.1 375.8h0M101.0 342.7h0M66.5 358.9h0M65.2 356.3h0M78.7 313.5h0M75.8 347.7h0M82.8 381.5h0M98.0 399.3h0M82.9 354.7h0M73.0 368.7h0M67.2 360.9h0M88.3 356.2h0M79.3 342.8h0M73.4 326.0h0M56.3 365.7h0M48.1 376.5h0M72.8 380.7h0M98.6 343.5h0M58.0 344.5h0M61.2 349.7h0M62.4 355.5h0M77.1 367.9h0M70.1 361.9h0M78.4 345.4h0M45.5 370.5h0M85.6 336.8h0M71.0 373.6h0M61.0 341.6h0M84.5 354.8h0M68.7 356.4h0M56.8 354.9h0M55.5 362.7h0M78.8 369.2h0M82.1 371.2h0M62.8 339.9h0M52.7 354.0h0M77.1 342.9h0M63.1 341.9h0M60.7 339.3h0M52.5 331.1h0M57.3 362.3h0M71.1 351.7h0M99.9 388.8h0M62.1 369.8h0M84.7 346.7h0M85.7 373.5h0M71.5 352.2h0M55.4 339.8h0M75.8 321.3h0M65.4 327.1h0M60.8 340.3h0M91.4 323.9h0M75.3 322.6h0M63.7 343.6h0M89.4 355.6h0M99.1 335.1h0M52.6 362.1h0M73.4 357.3h0M51.2 367.2h0M48.8 335.5h0M44.2 373.5h0M89.2 348.2h0M63.1 321.5h0M57.5 356.0h0M67.2 340.8h0M80.1 334.7h0M88.6 386.6h0M67.9 357.1h0M73.4 325.0h0M59.3 352.4h0M85.0 344.9h0M93.6 371.6h0M48.5 346.4h0M78.6 339.0h0M70.4 358.4h0M77.1 337.5h0M90.9 353.9h0M78.7 338.9h0M47.9 343.1h0M57.9 358.7h0M60.0 329.6h0M80.1 362.0h0M54.7 346.6h0M75.8 385.2h0M102.8 353.8h0M68.7 358.8h0M88.3 338.6h0M63.1 337.3h0M92.9 336.5h0M82.7 356.4h0M80.2 368.4h0M90.8 357.5h0M42.2 358.8h0M75.9 349.4h0M71.6 344.1h0M57.8 355.3h0M67.1 372.9h0M63.5 361.4h0M64.9 351.8h0M71.8 378.3h0M73.5 344.0h0M65.4 336.7h0M86.1 363.6h0M75.1 335.7h0M65.0 367.2h0M62.5 389.3h0M71.7 353.1h0M63.2 359.4h0M81.9 340.7h0M46.6 338.4h0M87.8 352.0h0M80.1 352.9h0M76.3 346.9h0M77.0 347.6h0M72.1 360.9h0M57.5 337.2h0M82.5 361.3h0M69.9 373.1h0M87.4 359.0h0M78.3 353.0h0M75.8 345.1h0M123.4 351.7h0M83.7 356.4h0M64.1 353.1h0M84.5 373.2h0M77.9 363.3h0M44.3 348.7h0M66.0 367.8h0M94.4 375.2h0M66.5 353.3h0M116.0 352.6h0M68.7 351.9h0M78.8 365.4h0M51.7 357.8h0M64.4 337.7h0M72.3 337.2h0M54.9 350.4h0M88.2 343.0h0M69.6 361.2h0M66.7 363.0h0M84.3 360.4h0M59.5 360.9h0M62.1 348.0h0M62.3 367.4h0M63.7 343.6h0M69.0 352.4h0M92.5 367.8h0M59.6 353.9h0M76.7 353.2h0M82.1 358.5h0M88.9 340.9h0M97.9 350.5h0M74.7 334.5h0M79.3 357.6h0M79.2 391.5h0M79.5 347.8h0M90.0 337.9h0M54.4 345.9h0M79.0 343.7h0M91.3 348.3h0M101.5 338.6h0M49.4 345.5h0M48.8 338.3h0M50.8 369.4h0M53.1 376.9h0M69.2 342.7h0M70.0 367.3h0M79.1 336.6h0M75.3 371.4h0M65.8 356.9h0M77.2 355.5h0M81.5 343.9h0M55.0 338.2h0M59.5 330.3h0M68.7 362.2h0M58.3 358.4h0M69.1 339.8h0M114.2 364.5h0M66.6 346.5h0M72.7 366.9h0M49.2 371.8h0M76.5 344.0h0M75.9 341.9h0M92.3 344.2h0M54.5 352.2h0M68.6 366.5h0M74.4 352.4h0M61.6 316.3h0M91.2 337.1h0M92.5 354.4h0M89.5 329.4h0M55.5 367.0h0M61.5 364.0h0M86.8 325.0h0M65.3 386.2h0M60.7 326.7h0M73.9 354.7h0M62.6 347.7h0M92.2 337.1h0M77.3 344.9h0M69.8 339.9h0M94.7 348.4h0M54.9 328.7h0M65.7 350.6h0M114.7 357.0h0M51.6 374.0h0M65.2 351.8h0M94.7 337.2h0M69.6 369.4h0M47.0 386.5h0M52.0 339.6h0M95.1 354.1h0M44.5 366.1h0M63.5 366.5h0M83.7 359.0h0M79.3 342.3h0M109.2 354.8h0M48.5 367.8h0M93.2 389.1h0M104.2 347.1h0M72.2 348.3h0M76.1 359.0h0M81.1 360.0h0M67.0 358.3h0M75.9 345.4h0M49.2 360.7h0M102.6 357.9h0M62.2 370.4h0M64.2 350.3h0M69.2 362.3h0M87.9 361.3h0M82.9 393.0h0M61.1 348.8h0M71.3 344.2h0M58.5 354.0h0M107.7 370.7h0M46.2 326.6h0M67.0 322.2h0M77.1 363.1h0M75.2 351.4h0M51.3 351.4h0M58.6 330.2h0M67.3 347.9h0M85.1 362.0h0M56.8 393.9h0M56.9 366.3h0M92.1 354.1h0M94.2 365.5h0M90.5 368.6h0M90.4 351.6h0M75.8 313.8h0M60.7 360.7h0M67.8 355.4h0M65.7 362.7h0M99.2 359.3h0M70.2 331.7h0M102.7 365.1h0M79.8 364.5h0M45.5 375.9h0M64.3 342.4h0M41.6 364.0h0M74.4 372.2h0M55.7 374.2h0M67.5 351.5h0M92.5 364.4h0M88.6 366.6h0M83.9 351.6h0M88.8 359.3h0M71.0 372.3h0M48.8 334.4h0M65.3 354.8h0M64.7 358.0h0M55.6 337.1h0M53.7 376.9h0M99.5 317.2h0M83.1 332.3h0M83.9 379.3h0M67.5 334.4h0M63.3 370.2h0M83.2 363.0h0M87.6 363.0h0M95.2 346.1h0M85.2 352.5h0M57.1 366.9h0M81.3 335.8h0M84.6 344.2h0M72.5 341.0h0M72.1 346.1h0M85.3 345.9h0M65.1 369.9h0M47.9 353.2h0M75.6 338.5h0M67.5 395.3h0M61.7 365.9h0M101.8 349.0h0M61.5 341.8h0M67.4 322.8h0M69.1 355.3h0M88.0 353.2h0M46.4 352.5h0M79.0 337.6h0M77.2 367.0h0M77.5 378.3h0M99.0 369.5h0M55.1 376.2h0M70.5 322.6h0M63.6 372.5h0M46.6 354.7h0M80.2 353.8h0M70.6 330.6h0M87.7 367.1h0M72.2 350.5h0M67.1 359.6h0M53.4 364.3h0M47.1 357.4h0M52.5 351.9h0M68.5 338.1h0M68.5 368.9h0M83.9 361.7h0M75.6 354.7h0M53.3 336.8h0M72.7 360.9h0M66.5 357.8h0M85.2 372.7h0M52.8 357.2h0M90.7 371.1h0M55.5 371.0h0M62.6 374.2h0M93.4 355.1h0M47.5 364.0h0M66.8 366.6h0M99.6 337.1h0M76.0 341.0h0M90.7 336.6h0M52.5 348.9h0M62.4 369.3h0M90.6 359.5h0M57.0 335.1h0M61.4 338.2h0M54.4 373.1h0M74.2 352.0h0M68.3 379.2h0M86.5 364.6h0M83.0 350.4h0M69.4 362.7h0M110.2 329.2h0M77.5 366.0h0M78.7 354.4h0" stroke="#111" stroke-width="1.2" stroke-linecap="round" opacity="1"/>
<line x1="40" y1="351.3" x2="132" y2="356.3" stroke="#3050c0" stroke-width="0.9"/>
<text x="136.1" y="312.2" font-size="6.3" font-weight="bold" fill="#e02828" text-anchor="end" textLength="32.9" lengthAdjust="spacingAndGlyphs">rho = -0.085</text>
<text x="136.1" y="317.5" font-size="6.3" font-weight="bold" fill="#e02828" text-anchor="end" textLength="34.4" lengthAdjust="spacingAndGlyphs">p = 7.99e-02</text>
<text x="85" y="420.3" font-size="7.6" fill="#1a1a1a" text-anchor="middle" textLength="112.9" lengthAdjust="spacingAndGlyphs">CCL20 Expression Level (log2 TPM)</text>
<line x1="17.5" y1="223.4" x2="17.5" y2="361.9" stroke="#000" stroke-width="0.8"/>
<text x="12.6" y="293.9" font-size="8.8" fill="#222" text-anchor="middle" textLength="127.8" lengthAdjust="spacingAndGlyphs" transform="rotate(-90 12.6 293.9)">KRT15 Expression Level (log2 TPM)</text>
<text x="29.1" y="248.8" font-size="9" font-weight="bold" fill="#000" text-anchor="middle" textLength="50.7" lengthAdjust="spacingAndGlyphs" transform="rotate(-90 29.1 248.8)">HPV+HNSCC</text>
<text x="29.6" y="361.3" font-size="9" font-weight="bold" fill="#000" text-anchor="middle" textLength="48.4" lengthAdjust="spacingAndGlyphs" transform="rotate(-90 29.6 361.3)">HPV-HNSCC</text>
<polygon points="152.3,335.2 205.4,326.1 251.2,349.0 191.7,359.0" fill="#ebe7e7" stroke="none" stroke-width="1"/>
<polygon points="152.3,335.2 191.7,359.0 191.7,369.1 153.2,347.1" fill="#dedada" stroke="none" stroke-width="1"/>
<polygon points="191.7,359.0 251.2,349.0 250.3,353.2 191.7,369.1" fill="#c9c4c4" stroke="none" stroke-width="1"/>
<polygon points="165.1,337.1 201.8,329.7 231.1,345.3 190.8,353.5" fill="#e6dcdc" stroke="none" stroke-width="1"/>
<polygon points="181.6,338.9 201.8,332.5 218.2,342.5 192.6,348.0" fill="#efe8e8" stroke="none" stroke-width="1"/>
<path d="M192.5,331.5 197.0,329.5 198.5,325.5 201.0,328.5 206.5,327.0 203.5,330.5 208.0,333.0 202.0,333.0 199.0,335.5 197.5,333.0Z" fill="#2e1219" stroke="none" stroke-width="1"/>
<path d="M187.1,332.5 199.9,330.6 210.9,332.5 199.9,335.2Z" fill="#6a3a44" opacity="0.35" filter="url(#blur1)"/>
<polygon points="174.3,289.4 181.6,284.9 188.9,281.2 198.1,277.5 207.3,275.7 218.2,275.7 229.2,276.6 231.1,279.4 227.4,283.0 223.7,286.7 221.9,291.3 218.2,294.9 212.8,298.6 203.6,300.4 192.6,298.6 181.6,296.8 174.3,294.9 172.5,292.2" fill="#d9d9d9" stroke="none" stroke-width="1"/>
<path d="M174.3,288.0 188.9,281.2 207.3,276.6 229.2,277.5" fill="none" stroke="#cfcfcf" stroke-width="1.2"/>
<path d="M174.3,292.6 188.9,285.8 207.3,281.2 229.2,282.1" fill="none" stroke="#d4d4d4" stroke-width="1.2"/>
<path d="M174.3,297.1 188.9,290.4 207.3,285.8 229.2,286.7" fill="none" stroke="#d0d0d0" stroke-width="1.2"/>
<polygon points="171.6,309.6 178.0,306.8 187.1,304.1 192.6,300.4 199.9,297.7 209.1,296.8 218.2,297.7 227.4,298.6 229.2,300.4 223.7,303.2 216.4,305.0 214.6,309.6 213.7,315.1 210.9,318.7 203.6,319.7 196.3,317.8 188.9,316.0 181.6,313.2 174.3,311.8" fill="#a8c8ea" stroke="none" stroke-width="1"/>
<polygon points="206.3,249.2 211.8,248.8 215.5,251.4 214.6,253.7 217.3,255.6 225.6,257.4 232.9,258.3 231.1,261.1 221.9,262.9 217.3,265.6 216.4,271.1 215.5,276.6 212.8,279.4 205.4,280.3 198.1,278.5 190.8,275.7 183.5,273.9 176.1,272.0 177.0,270.2 183.5,268.4 190.8,265.6 196.3,262.9 199.9,260.1 205.4,257.4 207.3,253.7" fill="#e58ea5" stroke="none" stroke-width="1"/>
<polygon points="205.4,262.0 210.9,261.1 218.2,261.6 214.6,262.9 207.3,263.4" fill="#f4c8d4" stroke="none" stroke-width="1" opacity="0.8"/>
<path d="M229.5,260.5 L244,258.5" fill="none" stroke="#000" stroke-width="0.6"/>
<path d="M221.4,311 L237.7,308.6" fill="none" stroke="#000" stroke-width="0.6"/>
<text x="244.4" y="262.7" font-size="8.8" font-weight="bold" fill="#000" text-anchor="start" textLength="31" lengthAdjust="spacingAndGlyphs">ST-seq</text>
<text x="240.4" y="313" font-size="8.8" font-weight="bold" fill="#000" text-anchor="start" textLength="15" lengthAdjust="spacingAndGlyphs">IHC</text>
<text x="323.5" y="171.2" font-size="6.3" font-weight="bold" fill="#000" text-anchor="end" textLength="20.4" lengthAdjust="spacingAndGlyphs">KRT15</text>
<rect x="326.8" y="165.1" width="31.1" height="6.5" fill="url(#spec)" stroke="none" stroke-width="1"/>
<text x="333.8" y="178.3" font-size="5.6" font-weight="bold" fill="#000" text-anchor="middle">2</text>
<text x="355.8" y="178.3" font-size="5.6" font-weight="bold" fill="#000" text-anchor="middle">6</text>
<text x="328.2" y="290.8" font-size="6.3" font-weight="bold" fill="#000" text-anchor="end" textLength="22.4" lengthAdjust="spacingAndGlyphs">CCL20</text>
<rect x="331.3" y="283.6" width="31.7" height="7.2" fill="url(#spec)" stroke="none" stroke-width="1"/>
<text x="331.3" y="296" font-size="5.6" font-weight="bold" fill="#000" text-anchor="middle">0</text>
<text x="360.3" y="296" font-size="5.6" font-weight="bold" fill="#000" text-anchor="middle">2</text>
<clipPath id="tisU"><path d="M323.5,183.0C324.3,182.0 326.0,181.2 327.6,180.6C329.2,180.1 331.8,179.7 333.2,179.8C334.6,180.0 335.8,180.6 336.1,181.4C336.3,182.2 335.4,183.7 334.8,184.6C334.2,185.6 333.0,186.2 332.4,187.0C331.7,187.8 330.9,188.4 330.8,189.5C330.6,190.5 331.3,192.3 331.6,193.5C331.8,194.7 332.1,195.6 332.4,196.7C332.6,197.8 332.5,198.7 333.2,199.9C333.8,201.1 335.1,202.7 336.4,203.9C337.7,205.1 339.6,206.0 341.2,207.1C342.8,208.2 344.4,209.3 346.0,210.3C347.6,211.4 349.5,212.6 350.8,213.5C352.2,214.5 353.1,215.1 354.1,216.0C355.0,216.8 355.8,217.6 356.5,218.4C357.1,219.2 357.4,220.2 358.1,220.8C358.7,221.3 359.5,221.0 360.5,221.6C361.4,222.1 362.4,223.2 363.7,224.0C365.0,224.8 367.0,225.6 368.5,226.4C370.0,227.2 371.2,228.3 372.5,228.8C373.9,229.3 375.1,229.2 376.5,229.6C378.0,230.0 379.7,230.4 381.4,231.2C383.0,232.0 385.3,233.3 386.2,234.4C387.0,235.5 386.9,236.4 386.5,237.6C386.1,238.8 385.2,240.3 383.8,241.6C382.4,243.0 380.2,244.3 378.1,245.7C376.1,247.0 373.9,248.5 371.7,249.7C369.6,250.9 367.4,251.8 365.3,252.9C363.2,254.0 361.0,255.0 358.9,256.1C356.7,257.2 354.6,258.4 352.4,259.3C350.3,260.2 347.4,260.9 346.0,261.7C344.7,262.5 344.3,263.2 344.4,264.1C344.6,265.1 346.6,266.3 346.8,267.3C347.1,268.4 346.8,269.6 346.0,270.6C345.2,271.5 343.6,272.2 342.0,273.0C340.4,273.8 337.9,275.1 336.4,275.4C334.9,275.6 334.0,274.2 333.2,274.6C332.4,275.0 332.2,277.2 331.6,277.8C330.9,278.3 330.0,278.6 329.2,277.8C328.4,277.0 327.6,274.3 326.8,273.0C326.0,271.6 325.3,270.8 324.3,269.7C323.4,268.7 322.1,267.9 321.1,266.5C320.2,265.2 319.0,263.6 318.7,261.7C318.5,259.8 319.1,257.4 319.5,255.3C319.9,253.2 320.7,251.0 321.1,248.9C321.5,246.7 322.2,244.3 321.9,242.4C321.7,240.6 320.6,238.8 319.5,237.6C318.5,236.4 317.0,236.2 315.5,235.2C314.0,234.3 312.2,233.2 310.7,232.0C309.2,230.8 308.0,229.3 306.7,228.0C305.3,226.7 304.1,224.9 302.7,224.0C301.2,223.0 299.3,222.8 297.8,222.4C296.4,222.0 294.6,222.2 293.8,221.6C293.0,220.9 292.6,219.3 293.0,218.4C293.4,217.4 294.9,216.8 296.2,216.0C297.6,215.1 299.5,214.3 301.1,213.5C302.7,212.7 304.3,212.1 305.9,211.1C307.5,210.2 309.1,208.9 310.7,207.9C312.3,207.0 314.0,206.3 315.5,205.5C317.0,204.7 318.5,204.2 319.5,203.1C320.6,202.0 321.0,200.6 321.9,199.1C322.9,197.6 324.7,195.6 325.1,194.3C325.5,192.9 324.7,192.3 324.3,191.1C324.0,189.9 323.4,188.4 323.2,187.0C323.1,185.7 322.8,184.1 323.5,183.0Z"/></clipPath>
<clipPath id="tisL"><path d="M323.5,301.5C324.3,300.5 326.0,299.7 327.6,299.1C329.2,298.6 331.8,298.2 333.2,298.3C334.6,298.5 335.8,299.1 336.1,299.9C336.3,300.7 335.4,302.2 334.8,303.1C334.2,304.1 333.0,304.7 332.4,305.5C331.7,306.3 330.9,306.9 330.8,308.0C330.6,309.0 331.3,310.8 331.6,312.0C331.8,313.2 332.1,314.1 332.4,315.2C332.6,316.3 332.5,317.2 333.2,318.4C333.8,319.6 335.1,321.2 336.4,322.4C337.7,323.6 339.6,324.5 341.2,325.6C342.8,326.7 344.4,327.8 346.0,328.8C347.6,329.9 349.5,331.1 350.8,332.0C352.2,333.0 353.1,333.6 354.1,334.5C355.0,335.3 355.8,336.1 356.5,336.9C357.1,337.7 357.4,338.7 358.1,339.3C358.7,339.8 359.5,339.5 360.5,340.1C361.4,340.6 362.4,341.7 363.7,342.5C365.0,343.3 367.0,344.1 368.5,344.9C370.0,345.7 371.2,346.8 372.5,347.3C373.9,347.8 375.1,347.7 376.5,348.1C378.0,348.5 379.7,348.9 381.4,349.7C383.0,350.5 385.3,351.8 386.2,352.9C387.0,354.0 386.9,354.9 386.5,356.1C386.1,357.3 385.2,358.8 383.8,360.1C382.4,361.5 380.2,362.8 378.1,364.2C376.1,365.5 373.9,367.0 371.7,368.2C369.6,369.4 367.4,370.3 365.3,371.4C363.2,372.5 361.0,373.5 358.9,374.6C356.7,375.7 354.6,376.9 352.4,377.8C350.3,378.7 347.4,379.4 346.0,380.2C344.7,381.0 344.3,381.7 344.4,382.6C344.6,383.6 346.6,384.8 346.8,385.8C347.1,386.9 346.8,388.1 346.0,389.1C345.2,390.0 343.6,390.7 342.0,391.5C340.4,392.3 337.9,393.6 336.4,393.9C334.9,394.1 334.0,392.7 333.2,393.1C332.4,393.5 332.2,395.7 331.6,396.3C330.9,396.8 330.0,397.1 329.2,396.3C328.4,395.5 327.6,392.8 326.8,391.5C326.0,390.1 325.3,389.3 324.3,388.2C323.4,387.2 322.1,386.4 321.1,385.0C320.2,383.7 319.0,382.1 318.7,380.2C318.5,378.3 319.1,375.9 319.5,373.8C319.9,371.7 320.7,369.5 321.1,367.4C321.5,365.2 322.2,362.8 321.9,360.9C321.7,359.1 320.6,357.3 319.5,356.1C318.5,354.9 317.0,354.7 315.5,353.7C314.0,352.8 312.2,351.7 310.7,350.5C309.2,349.3 308.0,347.8 306.7,346.5C305.3,345.2 304.1,343.4 302.7,342.5C301.2,341.5 299.3,341.3 297.8,340.9C296.4,340.5 294.6,340.7 293.8,340.1C293.0,339.4 292.6,337.8 293.0,336.9C293.4,335.9 294.9,335.3 296.2,334.5C297.6,333.6 299.5,332.8 301.1,332.0C302.7,331.2 304.3,330.6 305.9,329.6C307.5,328.7 309.1,327.4 310.7,326.4C312.3,325.5 314.0,324.8 315.5,324.0C317.0,323.2 318.5,322.7 319.5,321.6C320.6,320.5 321.0,319.1 321.9,317.6C322.9,316.1 324.7,314.1 325.1,312.8C325.5,311.4 324.7,310.8 324.3,309.6C324.0,308.4 323.4,306.9 323.2,305.5C323.1,304.2 322.8,302.6 323.5,301.5Z"/></clipPath>
<g clip-path="url(#tisU)">
<path d="M323.5,183.0C324.3,182.0 326.0,181.2 327.6,180.6C329.2,180.1 331.8,179.7 333.2,179.8C334.6,180.0 335.8,180.6 336.1,181.4C336.3,182.2 335.4,183.7 334.8,184.6C334.2,185.6 333.0,186.2 332.4,187.0C331.7,187.8 330.9,188.4 330.8,189.5C330.6,190.5 331.3,192.3 331.6,193.5C331.8,194.7 332.1,195.6 332.4,196.7C332.6,197.8 332.5,198.7 333.2,199.9C333.8,201.1 335.1,202.7 336.4,203.9C337.7,205.1 339.6,206.0 341.2,207.1C342.8,208.2 344.4,209.3 346.0,210.3C347.6,211.4 349.5,212.6 350.8,213.5C352.2,214.5 353.1,215.1 354.1,216.0C355.0,216.8 355.8,217.6 356.5,218.4C357.1,219.2 357.4,220.2 358.1,220.8C358.7,221.3 359.5,221.0 360.5,221.6C361.4,222.1 362.4,223.2 363.7,224.0C365.0,224.8 367.0,225.6 368.5,226.4C370.0,227.2 371.2,228.3 372.5,228.8C373.9,229.3 375.1,229.2 376.5,229.6C378.0,230.0 379.7,230.4 381.4,231.2C383.0,232.0 385.3,233.3 386.2,234.4C387.0,235.5 386.9,236.4 386.5,237.6C386.1,238.8 385.2,240.3 383.8,241.6C382.4,243.0 380.2,244.3 378.1,245.7C376.1,247.0 373.9,248.5 371.7,249.7C369.6,250.9 367.4,251.8 365.3,252.9C363.2,254.0 361.0,255.0 358.9,256.1C356.7,257.2 354.6,258.4 352.4,259.3C350.3,260.2 347.4,260.9 346.0,261.7C344.7,262.5 344.3,263.2 344.4,264.1C344.6,265.1 346.6,266.3 346.8,267.3C347.1,268.4 346.8,269.6 346.0,270.6C345.2,271.5 343.6,272.2 342.0,273.0C340.4,273.8 337.9,275.1 336.4,275.4C334.9,275.6 334.0,274.2 333.2,274.6C332.4,275.0 332.2,277.2 331.6,277.8C330.9,278.3 330.0,278.6 329.2,277.8C328.4,277.0 327.6,274.3 326.8,273.0C326.0,271.6 325.3,270.8 324.3,269.7C323.4,268.7 322.1,267.9 321.1,266.5C320.2,265.2 319.0,263.6 318.7,261.7C318.5,259.8 319.1,257.4 319.5,255.3C319.9,253.2 320.7,251.0 321.1,248.9C321.5,246.7 322.2,244.3 321.9,242.4C321.7,240.6 320.6,238.8 319.5,237.6C318.5,236.4 317.0,236.2 315.5,235.2C314.0,234.3 312.2,233.2 310.7,232.0C309.2,230.8 308.0,229.3 306.7,228.0C305.3,226.7 304.1,224.9 302.7,224.0C301.2,223.0 299.3,222.8 297.8,222.4C296.4,222.0 294.6,222.2 293.8,221.6C293.0,220.9 292.6,219.3 293.0,218.4C293.4,217.4 294.9,216.8 296.2,216.0C297.6,215.1 299.5,214.3 301.1,213.5C302.7,212.7 304.3,212.1 305.9,211.1C307.5,210.2 309.1,208.9 310.7,207.9C312.3,207.0 314.0,206.3 315.5,205.5C317.0,204.7 318.5,204.2 319.5,203.1C320.6,202.0 321.0,200.6 321.9,199.1C322.9,197.6 324.7,195.6 325.1,194.3C325.5,192.9 324.7,192.3 324.3,191.1C324.0,189.9 323.4,188.4 323.2,187.0C323.1,185.7 322.8,184.1 323.5,183.0Z" fill="#9e76b6"/>
<clipPath id="midc"><path d="M301.1,223.2C302.9,222.4 317.1,227.7 325.1,228.0C333.2,228.3 342.0,224.8 349.2,224.8C356.5,224.8 364.2,226.7 368.5,228.0C372.8,229.3 375.5,230.4 374.9,232.8C374.4,235.2 370.1,239.2 365.3,242.4C360.5,245.7 351.4,248.3 346.0,252.1C340.7,255.8 336.9,263.3 333.2,264.9C329.4,266.5 325.7,265.5 323.5,261.7C321.4,258.0 321.9,247.3 320.3,242.4C318.7,237.6 317.1,236.0 313.9,232.8C310.7,229.6 299.2,224.0 301.1,223.2Z"/></clipPath>
<g clip-path="url(#midc)"><path d="M323.5,183.0C324.3,182.0 326.0,181.2 327.6,180.6C329.2,180.1 331.8,179.7 333.2,179.8C334.6,180.0 335.8,180.6 336.1,181.4C336.3,182.2 335.4,183.7 334.8,184.6C334.2,185.6 333.0,186.2 332.4,187.0C331.7,187.8 330.9,188.4 330.8,189.5C330.6,190.5 331.3,192.3 331.6,193.5C331.8,194.7 332.1,195.6 332.4,196.7C332.6,197.8 332.5,198.7 333.2,199.9C333.8,201.1 335.1,202.7 336.4,203.9C337.7,205.1 339.6,206.0 341.2,207.1C342.8,208.2 344.4,209.3 346.0,210.3C347.6,211.4 349.5,212.6 350.8,213.5C352.2,214.5 353.1,215.1 354.1,216.0C355.0,216.8 355.8,217.6 356.5,218.4C357.1,219.2 357.4,220.2 358.1,220.8C358.7,221.3 359.5,221.0 360.5,221.6C361.4,222.1 362.4,223.2 363.7,224.0C365.0,224.8 367.0,225.6 368.5,226.4C370.0,227.2 371.2,228.3 372.5,228.8C373.9,229.3 375.1,229.2 376.5,229.6C378.0,230.0 379.7,230.4 381.4,231.2C383.0,232.0 385.3,233.3 386.2,234.4C387.0,235.5 386.9,236.4 386.5,237.6C386.1,238.8 385.2,240.3 383.8,241.6C382.4,243.0 380.2,244.3 378.1,245.7C376.1,247.0 373.9,248.5 371.7,249.7C369.6,250.9 367.4,251.8 365.3,252.9C363.2,254.0 361.0,255.0 358.9,256.1C356.7,257.2 354.6,258.4 352.4,259.3C350.3,260.2 347.4,260.9 346.0,261.7C344.7,262.5 344.3,263.2 344.4,264.1C344.6,265.1 346.6,266.3 346.8,267.3C347.1,268.4 346.8,269.6 346.0,270.6C345.2,271.5 343.6,272.2 342.0,273.0C340.4,273.8 337.9,275.1 336.4,275.4C334.9,275.6 334.0,274.2 333.2,274.6C332.4,275.0 332.2,277.2 331.6,277.8C330.9,278.3 330.0,278.6 329.2,277.8C328.4,277.0 327.6,274.3 326.8,273.0C326.0,271.6 325.3,270.8 324.3,269.7C323.4,268.7 322.1,267.9 321.1,266.5C320.2,265.2 319.0,263.6 318.7,261.7C318.5,259.8 319.1,257.4 319.5,255.3C319.9,253.2 320.7,251.0 321.1,248.9C321.5,246.7 322.2,244.3 321.9,242.4C321.7,240.6 320.6,238.8 319.5,237.6C318.5,236.4 317.0,236.2 315.5,235.2C314.0,234.3 312.2,233.2 310.7,232.0C309.2,230.8 308.0,229.3 306.7,228.0C305.3,226.7 304.1,224.9 302.7,224.0C301.2,223.0 299.3,222.8 297.8,222.4C296.4,222.0 294.6,222.2 293.8,221.6C293.0,220.9 292.6,219.3 293.0,218.4C293.4,217.4 294.9,216.8 296.2,216.0C297.6,215.1 299.5,214.3 301.1,213.5C302.7,212.7 304.3,212.1 305.9,211.1C307.5,210.2 309.1,208.9 310.7,207.9C312.3,207.0 314.0,206.3 315.5,205.5C317.0,204.7 318.5,204.2 319.5,203.1C320.6,202.0 321.0,200.6 321.9,199.1C322.9,197.6 324.7,195.6 325.1,194.3C325.5,192.9 324.7,192.3 324.3,191.1C324.0,189.9 323.4,188.4 323.2,187.0C323.1,185.7 322.8,184.1 323.5,183.0Z" fill="#dca078" filter="url(#dotsO)" opacity="0.75"/></g>
<path d="M323.5,183.0C324.3,182.0 326.0,181.2 327.6,180.6C329.2,180.1 331.8,179.7 333.2,179.8C334.6,180.0 335.8,180.6 336.1,181.4C336.3,182.2 335.4,183.7 334.8,184.6C334.2,185.6 333.0,186.2 332.4,187.0C331.7,187.8 330.9,188.4 330.8,189.5C330.6,190.5 331.3,192.3 331.6,193.5C331.8,194.7 332.1,195.6 332.4,196.7C332.6,197.8 332.5,198.7 333.2,199.9C333.8,201.1 335.1,202.7 336.4,203.9C337.7,205.1 339.6,206.0 341.2,207.1C342.8,208.2 344.4,209.3 346.0,210.3C347.6,211.4 349.5,212.6 350.8,213.5C352.2,214.5 353.1,215.1 354.1,216.0C355.0,216.8 355.8,217.6 356.5,218.4C357.1,219.2 357.4,220.2 358.1,220.8C358.7,221.3 359.5,221.0 360.5,221.6C361.4,222.1 362.4,223.2 363.7,224.0C365.0,224.8 367.0,225.6 368.5,226.4C370.0,227.2 371.2,228.3 372.5,228.8C373.9,229.3 375.1,229.2 376.5,229.6C378.0,230.0 379.7,230.4 381.4,231.2C383.0,232.0 385.3,233.3 386.2,234.4C387.0,235.5 386.9,236.4 386.5,237.6C386.1,238.8 385.2,240.3 383.8,241.6C382.4,243.0 380.2,244.3 378.1,245.7C376.1,247.0 373.9,248.5 371.7,249.7C369.6,250.9 367.4,251.8 365.3,252.9C363.2,254.0 361.0,255.0 358.9,256.1C356.7,257.2 354.6,258.4 352.4,259.3C350.3,260.2 347.4,260.9 346.0,261.7C344.7,262.5 344.3,263.2 344.4,264.1C344.6,265.1 346.6,266.3 346.8,267.3C347.1,268.4 346.8,269.6 346.0,270.6C345.2,271.5 343.6,272.2 342.0,273.0C340.4,273.8 337.9,275.1 336.4,275.4C334.9,275.6 334.0,274.2 333.2,274.6C332.4,275.0 332.2,277.2 331.6,277.8C330.9,278.3 330.0,278.6 329.2,277.8C328.4,277.0 327.6,274.3 326.8,273.0C326.0,271.6 325.3,270.8 324.3,269.7C323.4,268.7 322.1,267.9 321.1,266.5C320.2,265.2 319.0,263.6 318.7,261.7C318.5,259.8 319.1,257.4 319.5,255.3C319.9,253.2 320.7,251.0 321.1,248.9C321.5,246.7 322.2,244.3 321.9,242.4C321.7,240.6 320.6,238.8 319.5,237.6C318.5,236.4 317.0,236.2 315.5,235.2C314.0,234.3 312.2,233.2 310.7,232.0C309.2,230.8 308.0,229.3 306.7,228.0C305.3,226.7 304.1,224.9 302.7,224.0C301.2,223.0 299.3,222.8 297.8,222.4C296.4,222.0 294.6,222.2 293.8,221.6C293.0,220.9 292.6,219.3 293.0,218.4C293.4,217.4 294.9,216.8 296.2,216.0C297.6,215.1 299.5,214.3 301.1,213.5C302.7,212.7 304.3,212.1 305.9,211.1C307.5,210.2 309.1,208.9 310.7,207.9C312.3,207.0 314.0,206.3 315.5,205.5C317.0,204.7 318.5,204.2 319.5,203.1C320.6,202.0 321.0,200.6 321.9,199.1C322.9,197.6 324.7,195.6 325.1,194.3C325.5,192.9 324.7,192.3 324.3,191.1C324.0,189.9 323.4,188.4 323.2,187.0C323.1,185.7 322.8,184.1 323.5,183.0Z" fill="#d09880" filter="url(#dotsO)" opacity="0.3"/>
<path d="M323.5,183.0C324.3,182.0 326.0,181.2 327.6,180.6C329.2,180.1 331.8,179.7 333.2,179.8C334.6,180.0 335.8,180.6 336.1,181.4C336.3,182.2 335.4,183.7 334.8,184.6C334.2,185.6 333.0,186.2 332.4,187.0C331.7,187.8 330.9,188.4 330.8,189.5C330.6,190.5 331.3,192.3 331.6,193.5C331.8,194.7 332.1,195.6 332.4,196.7C332.6,197.8 332.5,198.7 333.2,199.9C333.8,201.1 335.1,202.7 336.4,203.9C337.7,205.1 339.6,206.0 341.2,207.1C342.8,208.2 344.4,209.3 346.0,210.3C347.6,211.4 349.5,212.6 350.8,213.5C352.2,214.5 353.1,215.1 354.1,216.0C355.0,216.8 355.8,217.6 356.5,218.4C357.1,219.2 357.4,220.2 358.1,220.8C358.7,221.3 359.5,221.0 360.5,221.6C361.4,222.1 362.4,223.2 363.7,224.0C365.0,224.8 367.0,225.6 368.5,226.4C370.0,227.2 371.2,228.3 372.5,228.8C373.9,229.3 375.1,229.2 376.5,229.6C378.0,230.0 379.7,230.4 381.4,231.2C383.0,232.0 385.3,233.3 386.2,234.4C387.0,235.5 386.9,236.4 386.5,237.6C386.1,238.8 385.2,240.3 383.8,241.6C382.4,243.0 380.2,244.3 378.1,245.7C376.1,247.0 373.9,248.5 371.7,249.7C369.6,250.9 367.4,251.8 365.3,252.9C363.2,254.0 361.0,255.0 358.9,256.1C356.7,257.2 354.6,258.4 352.4,259.3C350.3,260.2 347.4,260.9 346.0,261.7C344.7,262.5 344.3,263.2 344.4,264.1C344.6,265.1 346.6,266.3 346.8,267.3C347.1,268.4 346.8,269.6 346.0,270.6C345.2,271.5 343.6,272.2 342.0,273.0C340.4,273.8 337.9,275.1 336.4,275.4C334.9,275.6 334.0,274.2 333.2,274.6C332.4,275.0 332.2,277.2 331.6,277.8C330.9,278.3 330.0,278.6 329.2,277.8C328.4,277.0 327.6,274.3 326.8,273.0C326.0,271.6 325.3,270.8 324.3,269.7C323.4,268.7 322.1,267.9 321.1,266.5C320.2,265.2 319.0,263.6 318.7,261.7C318.5,259.8 319.1,257.4 319.5,255.3C319.9,253.2 320.7,251.0 321.1,248.9C321.5,246.7 322.2,244.3 321.9,242.4C321.7,240.6 320.6,238.8 319.5,237.6C318.5,236.4 317.0,236.2 315.5,235.2C314.0,234.3 312.2,233.2 310.7,232.0C309.2,230.8 308.0,229.3 306.7,228.0C305.3,226.7 304.1,224.9 302.7,224.0C301.2,223.0 299.3,222.8 297.8,222.4C296.4,222.0 294.6,222.2 293.8,221.6C293.0,220.9 292.6,219.3 293.0,218.4C293.4,217.4 294.9,216.8 296.2,216.0C297.6,215.1 299.5,214.3 301.1,213.5C302.7,212.7 304.3,212.1 305.9,211.1C307.5,210.2 309.1,208.9 310.7,207.9C312.3,207.0 314.0,206.3 315.5,205.5C317.0,204.7 318.5,204.2 319.5,203.1C320.6,202.0 321.0,200.6 321.9,199.1C322.9,197.6 324.7,195.6 325.1,194.3C325.5,192.9 324.7,192.3 324.3,191.1C324.0,189.9 323.4,188.4 323.2,187.0C323.1,185.7 322.8,184.1 323.5,183.0Z" fill="#ffffff" filter="url(#dotsW)" opacity="0.35"/>
<path d="M344.4,261.7C347.1,259.8 350.8,256.1 354.1,253.7C357.3,251.3 360.6,249.5 363.7,247.3C366.8,245.0 369.8,242.6 372.5,240.0C375.2,237.5 376.9,233.6 379.7,232.0C382.6,230.4 387.8,228.9 389.4,230.4C391.0,231.9 391.5,237.8 389.4,240.8C387.2,243.9 381.1,246.3 376.5,248.9C372.0,251.4 366.4,254.0 362.1,256.1C357.8,258.2 353.0,258.6 350.8,261.7C348.7,264.8 351.4,272.4 349.2,274.6C347.1,276.7 339.9,276.2 338.0,274.6C336.1,273.0 336.9,267.1 338.0,264.9C339.1,262.8 341.7,263.6 344.4,261.7Z" fill="#cc84b8" opacity="0.75"/>
<path d="M346.8,264.1 357.3,257.7 368.5,252.1 378.1,246.9 384.9,241.5 387.5,237.0 385.4,233.1" fill="none" stroke="#e07cc4" stroke-width="8" stroke-linejoin="round" opacity="0.9"/>
<path d="M316.3,220.8C316.7,220.0 319.9,219.0 321.9,218.4C323.9,217.7 326.2,217.1 328.4,217.1C330.5,217.0 332.9,217.4 334.8,218.0C336.7,218.7 338.5,219.9 339.6,220.8C340.7,221.6 341.7,222.6 341.2,223.2C340.7,223.7 338.3,224.0 336.4,224.0C334.5,224.0 331.8,223.2 330.0,223.2C328.1,223.2 326.9,224.0 325.1,224.0C323.4,224.0 321.0,223.7 319.5,223.2C318.1,222.6 315.9,221.6 316.3,220.8Z" fill="#fff" opacity="0.75"/>
<path d="M326.4,274.2 328.0,268.1 330.8,263.3 335.6,257.7 342.8,252.9 352.4,248.6 362.1,243.7 370.1,238.4 376.5,231.2 378.9,229.9" fill="none" stroke="#d05848" stroke-width="7" stroke-linejoin="round" opacity="0.55" filter="url(#blur1)"/>
<path d="M326.4,274.2 328.0,268.1 330.8,263.3 335.6,257.7 342.8,252.9 352.4,248.6 362.1,243.7 370.1,238.4 376.5,231.2 378.9,229.9" fill="none" stroke="#8e1a3a" stroke-width="3.2" stroke-linejoin="round" opacity="0.9"/>
</g>
<path d="M322.7,189.8 327.1,191.1 333.2,189.1 336.7,187.8" fill="none" stroke="#fff" stroke-width="0.9"/>
<path d="M322.7,308.3 327.1,309.6 333.2,307.6 336.7,306.3" fill="none" stroke="#fff" stroke-width="0.9"/>
<rect x="331.4" y="249.4" width="10.4" height="8" fill="none" stroke="#111" stroke-width="0.7"/>
<rect x="324.3" y="259.3" width="11.6" height="8.1" fill="none" stroke="#111" stroke-width="0.7"/>
<g clip-path="url(#tisL)">
<path d="M323.5,301.5C324.3,300.5 326.0,299.7 327.6,299.1C329.2,298.6 331.8,298.2 333.2,298.3C334.6,298.5 335.8,299.1 336.1,299.9C336.3,300.7 335.4,302.2 334.8,303.1C334.2,304.1 333.0,304.7 332.4,305.5C331.7,306.3 330.9,306.9 330.8,308.0C330.6,309.0 331.3,310.8 331.6,312.0C331.8,313.2 332.1,314.1 332.4,315.2C332.6,316.3 332.5,317.2 333.2,318.4C333.8,319.6 335.1,321.2 336.4,322.4C337.7,323.6 339.6,324.5 341.2,325.6C342.8,326.7 344.4,327.8 346.0,328.8C347.6,329.9 349.5,331.1 350.8,332.0C352.2,333.0 353.1,333.6 354.1,334.5C355.0,335.3 355.8,336.1 356.5,336.9C357.1,337.7 357.4,338.7 358.1,339.3C358.7,339.8 359.5,339.5 360.5,340.1C361.4,340.6 362.4,341.7 363.7,342.5C365.0,343.3 367.0,344.1 368.5,344.9C370.0,345.7 371.2,346.8 372.5,347.3C373.9,347.8 375.1,347.7 376.5,348.1C378.0,348.5 379.7,348.9 381.4,349.7C383.0,350.5 385.3,351.8 386.2,352.9C387.0,354.0 386.9,354.9 386.5,356.1C386.1,357.3 385.2,358.8 383.8,360.1C382.4,361.5 380.2,362.8 378.1,364.2C376.1,365.5 373.9,367.0 371.7,368.2C369.6,369.4 367.4,370.3 365.3,371.4C363.2,372.5 361.0,373.5 358.9,374.6C356.7,375.7 354.6,376.9 352.4,377.8C350.3,378.7 347.4,379.4 346.0,380.2C344.7,381.0 344.3,381.7 344.4,382.6C344.6,383.6 346.6,384.8 346.8,385.8C347.1,386.9 346.8,388.1 346.0,389.1C345.2,390.0 343.6,390.7 342.0,391.5C340.4,392.3 337.9,393.6 336.4,393.9C334.9,394.1 334.0,392.7 333.2,393.1C332.4,393.5 332.2,395.7 331.6,396.3C330.9,396.8 330.0,397.1 329.2,396.3C328.4,395.5 327.6,392.8 326.8,391.5C326.0,390.1 325.3,389.3 324.3,388.2C323.4,387.2 322.1,386.4 321.1,385.0C320.2,383.7 319.0,382.1 318.7,380.2C318.5,378.3 319.1,375.9 319.5,373.8C319.9,371.7 320.7,369.5 321.1,367.4C321.5,365.2 322.2,362.8 321.9,360.9C321.7,359.1 320.6,357.3 319.5,356.1C318.5,354.9 317.0,354.7 315.5,353.7C314.0,352.8 312.2,351.7 310.7,350.5C309.2,349.3 308.0,347.8 306.7,346.5C305.3,345.2 304.1,343.4 302.7,342.5C301.2,341.5 299.3,341.3 297.8,340.9C296.4,340.5 294.6,340.7 293.8,340.1C293.0,339.4 292.6,337.8 293.0,336.9C293.4,335.9 294.9,335.3 296.2,334.5C297.6,333.6 299.5,332.8 301.1,332.0C302.7,331.2 304.3,330.6 305.9,329.6C307.5,328.7 309.1,327.4 310.7,326.4C312.3,325.5 314.0,324.8 315.5,324.0C317.0,323.2 318.5,322.7 319.5,321.6C320.6,320.5 321.0,319.1 321.9,317.6C322.9,316.1 324.7,314.1 325.1,312.8C325.5,311.4 324.7,310.8 324.3,309.6C324.0,308.4 323.4,306.9 323.2,305.5C323.1,304.2 322.8,302.6 323.5,301.5Z" fill="#b470c2"/>
<path d="M323.5,301.5C324.3,300.5 326.0,299.7 327.6,299.1C329.2,298.6 331.8,298.2 333.2,298.3C334.6,298.5 335.8,299.1 336.1,299.9C336.3,300.7 335.4,302.2 334.8,303.1C334.2,304.1 333.0,304.7 332.4,305.5C331.7,306.3 330.9,306.9 330.8,308.0C330.6,309.0 331.3,310.8 331.6,312.0C331.8,313.2 332.1,314.1 332.4,315.2C332.6,316.3 332.5,317.2 333.2,318.4C333.8,319.6 335.1,321.2 336.4,322.4C337.7,323.6 339.6,324.5 341.2,325.6C342.8,326.7 344.4,327.8 346.0,328.8C347.6,329.9 349.5,331.1 350.8,332.0C352.2,333.0 353.1,333.6 354.1,334.5C355.0,335.3 355.8,336.1 356.5,336.9C357.1,337.7 357.4,338.7 358.1,339.3C358.7,339.8 359.5,339.5 360.5,340.1C361.4,340.6 362.4,341.7 363.7,342.5C365.0,343.3 367.0,344.1 368.5,344.9C370.0,345.7 371.2,346.8 372.5,347.3C373.9,347.8 375.1,347.7 376.5,348.1C378.0,348.5 379.7,348.9 381.4,349.7C383.0,350.5 385.3,351.8 386.2,352.9C387.0,354.0 386.9,354.9 386.5,356.1C386.1,357.3 385.2,358.8 383.8,360.1C382.4,361.5 380.2,362.8 378.1,364.2C376.1,365.5 373.9,367.0 371.7,368.2C369.6,369.4 367.4,370.3 365.3,371.4C363.2,372.5 361.0,373.5 358.9,374.6C356.7,375.7 354.6,376.9 352.4,377.8C350.3,378.7 347.4,379.4 346.0,380.2C344.7,381.0 344.3,381.7 344.4,382.6C344.6,383.6 346.6,384.8 346.8,385.8C347.1,386.9 346.8,388.1 346.0,389.1C345.2,390.0 343.6,390.7 342.0,391.5C340.4,392.3 337.9,393.6 336.4,393.9C334.9,394.1 334.0,392.7 333.2,393.1C332.4,393.5 332.2,395.7 331.6,396.3C330.9,396.8 330.0,397.1 329.2,396.3C328.4,395.5 327.6,392.8 326.8,391.5C326.0,390.1 325.3,389.3 324.3,388.2C323.4,387.2 322.1,386.4 321.1,385.0C320.2,383.7 319.0,382.1 318.7,380.2C318.5,378.3 319.1,375.9 319.5,373.8C319.9,371.7 320.7,369.5 321.1,367.4C321.5,365.2 322.2,362.8 321.9,360.9C321.7,359.1 320.6,357.3 319.5,356.1C318.5,354.9 317.0,354.7 315.5,353.7C314.0,352.8 312.2,351.7 310.7,350.5C309.2,349.3 308.0,347.8 306.7,346.5C305.3,345.2 304.1,343.4 302.7,342.5C301.2,341.5 299.3,341.3 297.8,340.9C296.4,340.5 294.6,340.7 293.8,340.1C293.0,339.4 292.6,337.8 293.0,336.9C293.4,335.9 294.9,335.3 296.2,334.5C297.6,333.6 299.5,332.8 301.1,332.0C302.7,331.2 304.3,330.6 305.9,329.6C307.5,328.7 309.1,327.4 310.7,326.4C312.3,325.5 314.0,324.8 315.5,324.0C317.0,323.2 318.5,322.7 319.5,321.6C320.6,320.5 321.0,319.1 321.9,317.6C322.9,316.1 324.7,314.1 325.1,312.8C325.5,311.4 324.7,310.8 324.3,309.6C324.0,308.4 323.4,306.9 323.2,305.5C323.1,304.2 322.8,302.6 323.5,301.5Z" fill="#9050a8" filter="url(#dotsO)" opacity="0.35"/>
<path d="M316.3,339.3C316.7,338.5 319.9,337.5 321.9,336.9C323.9,336.2 326.2,335.6 328.4,335.6C330.5,335.5 332.9,335.9 334.8,336.5C336.7,337.2 338.5,338.4 339.6,339.3C340.7,340.1 341.7,341.1 341.2,341.7C340.7,342.2 338.3,342.5 336.4,342.5C334.5,342.5 331.8,341.7 330.0,341.7C328.1,341.7 326.9,342.5 325.1,342.5C323.4,342.5 321.0,342.2 319.5,341.7C318.1,341.1 315.9,340.1 316.3,339.3Z" fill="#fff" opacity="0.7"/>
<path d="M342.8,379.3C345.2,377.4 349.2,373.3 352.4,370.5C355.7,367.7 358.9,365.1 362.1,362.4C365.3,359.8 368.8,356.6 371.7,354.4C374.7,352.3 376.8,350.4 379.7,349.6C382.7,348.8 387.8,348.0 389.4,349.6C391.0,351.2 391.8,356.3 389.4,359.2C387.0,362.2 379.7,364.7 374.9,367.3C370.1,369.8 364.8,372.4 360.5,374.5C356.2,376.6 351.4,377.0 349.2,380.1C347.1,383.2 349.5,390.8 347.6,393.0C345.8,395.1 339.6,394.8 338.0,393.0C336.4,391.1 337.2,384.0 338.0,381.7C338.8,379.4 340.4,381.2 342.8,379.3Z" fill="#d890cc" opacity="0.85"/>
<line x1="349.2363899148868" y1="377.7043520154167" x2="381.3545848723302" y2="350.40388630158986" stroke="#c070b0" stroke-width="0.4"/>
<line x1="350.5211177131845" y1="378.3467159145656" x2="381.996948771479" y2="352.33097799903646" stroke="#c070b0" stroke-width="0.4"/>
<line x1="351.80584551148223" y1="378.98907981371445" x2="382.6393126706279" y2="354.25806969648306" stroke="#c070b0" stroke-width="0.4"/>
<line x1="353.09057330978" y1="379.6314437128633" x2="383.2816765697768" y2="356.18516139392966" stroke="#c070b0" stroke-width="0.4"/>
<line x1="354.37530110807774" y1="380.2738076120122" x2="383.9240404689256" y2="358.11225309137626" stroke="#c070b0" stroke-width="0.4"/>
</g>
<rect x="330.5" y="367.7" width="11" height="7.7" fill="none" stroke="#111" stroke-width="0.7"/>
<rect x="324.6" y="377.1" width="10.5" height="8.1" fill="none" stroke="#111" stroke-width="0.7"/>
<path d="M336.0 372.0h0M329.0 381.0h0" stroke="#c03020" stroke-width="1.6" stroke-linecap="round" opacity="1"/>
<line x1="330" y1="384.5" x2="315.8" y2="397.5" stroke="#000" stroke-width="0.7"/>
<line x1="335.5" y1="375.4" x2="357.4" y2="397.5" stroke="#000" stroke-width="0.7"/>
<text x="293.2" y="395.1" font-size="9.4" font-weight="bold" fill="#000" text-anchor="middle" textLength="36.6" lengthAdjust="spacingAndGlyphs">Region I</text>
<text x="376.8" y="395.1" font-size="9.4" font-weight="bold" fill="#000" text-anchor="middle" textLength="38.8" lengthAdjust="spacingAndGlyphs">Region II</text>
<rect x="271.2" y="397.5" width="59.2" height="38.1" fill="#a858b0" stroke="none" stroke-width="1"/>
<rect x="271.2" y="397.5" width="59.2" height="38.1" fill="#c070c0" stroke="none" stroke-width="1" filter="url(#dotsO)" opacity="0.5"/>
<rect x="335.2" y="397.5" width="59.6" height="38.1" fill="#a858b0" stroke="none" stroke-width="1"/>
<rect x="335.2" y="397.5" width="59.6" height="38.1" fill="#c070c0" stroke="none" stroke-width="1" filter="url(#dotsO)" opacity="0.5"/>
<path d="M271.5,410 C276,414 280,418 281,424 C283,430 285,434 286,435.5 L271.5,435.5Z" fill="#fff" stroke="none" stroke-width="1"/>
<path d="M274.2 400.0h0M292.8 400.0h0M311.4 400.0h0M317.6 400.0h0M323.8 400.0h0M289.7 406.2h0M292.8 412.4h0M311.4 412.4h0M317.6 412.4h0M277.3 418.6h0M283.5 418.6h0M295.9 418.6h0M314.5 418.6h0M320.7 418.6h0M326.9 418.6h0M280.4 424.8h0M286.6 424.8h0M311.4 424.8h0M317.6 424.8h0M323.8 424.8h0M295.9 431.0h0M338.2 400.0h0M363.0 400.0h0M369.2 400.0h0M381.6 400.0h0M387.8 400.0h0M341.3 406.2h0M353.7 406.2h0M359.9 406.2h0M338.2 412.4h0M344.4 412.4h0M350.6 412.4h0M347.5 418.6h0M353.7 418.6h0M366.1 418.6h0M378.5 418.6h0M384.7 418.6h0M344.4 424.8h0M356.8 424.8h0M363.0 424.8h0M369.2 424.8h0M375.4 424.8h0M387.8 424.8h0M341.3 431.0h0M347.5 431.0h0M353.7 431.0h0" stroke="#c8a8c0" stroke-width="3.2" stroke-linecap="round" opacity="0.75"/>
<path d="M299.2 410.4h0" stroke="#e07030" stroke-width="3.4" stroke-linecap="round" opacity="1"/>
<path d="M295.5 414.6h0" stroke="#901820" stroke-width="3.4" stroke-linecap="round" opacity="1"/>
<path d="M360.0 423.2h0M366.3 423.2h0" stroke="#e88050" stroke-width="3.4" stroke-linecap="round" opacity="1"/>
<path d="M357.0 427.2h0M363.2 427.2h0" stroke="#d84030" stroke-width="3.4" stroke-linecap="round" opacity="1"/>
<path d="M346.9 415.7h0" stroke="#e8c0c0" stroke-width="3.4" stroke-linecap="round" opacity="1"/>
<rect x="271.2" y="397.5" width="58.8" height="38.1" fill="none" stroke="#111" stroke-width="0.9"/>
<rect x="335.2" y="397.5" width="59.6" height="38.1" fill="none" stroke="#111" stroke-width="0.9"/>
<text x="503" y="175.2" font-size="9.4" font-weight="bold" fill="#000" text-anchor="middle" textLength="37" lengthAdjust="spacingAndGlyphs">Region I</text>
<text x="597" y="175.2" font-size="9.4" font-weight="bold" fill="#000" text-anchor="middle" textLength="40" lengthAdjust="spacingAndGlyphs">Region II</text>
<text x="452" y="218.3" font-size="9.4" font-weight="bold" fill="#000" text-anchor="end" textLength="23" lengthAdjust="spacingAndGlyphs">CD21</text>
<text x="449.5" y="281.8" font-size="9.4" font-weight="bold" fill="#000" text-anchor="end" textLength="23.6" lengthAdjust="spacingAndGlyphs">CD19</text>
<text x="447.8" y="351.3" font-size="9.4" font-weight="bold" fill="#000" text-anchor="end" textLength="18" lengthAdjust="spacingAndGlyphs">CD4</text>
<text x="452" y="408.9" font-size="9.4" font-weight="bold" fill="#000" text-anchor="end" textLength="29" lengthAdjust="spacingAndGlyphs">KRT15</text>
<clipPath id="cl0"><rect x="455.3" y="180.7" width="92.6" height="58"/></clipPath>
<g clip-path="url(#cl0)">
<rect x="455.3" y="180.7" width="92.6" height="58" fill="#e8e6e1" stroke="none" stroke-width="1"/>
<g filter="url(#speckB)">
<ellipse cx="462.7" cy="198.1" rx="25.9" ry="29.0" fill="#6a78c0" opacity="0.95"/>
<ellipse cx="475.7" cy="225.9" rx="24.1" ry="18.6" fill="#6a78c0" opacity="0.8"/>
<ellipse cx="499.7" cy="205.1" rx="11.1" ry="8.1" fill="#6a78c0" opacity="0.3"/>
<ellipse cx="501.6" cy="235.8" rx="16.7" ry="7.0" fill="#6a78c0" opacity="0.3"/>
</g>
<g filter="url(#speckBr)" opacity="0.85">
<ellipse cx="475.7" cy="222.5" rx="7.4" ry="8.7" fill="#76603e" opacity="0.95"/>
</g>
<line x1="456.3" y1="236.5" x2="461.3" y2="236.5" stroke="#e04040" stroke-width="0.6"/>
</g>
<rect x="524.6" y="228.0" width="21.7" height="9.9" fill="#fbfbfa" stroke="none" stroke-width="1"/>
<text x="536.1" y="234.39999999999998" font-size="6.4" font-weight="bold" fill="#000" text-anchor="middle" textLength="18.6" lengthAdjust="spacingAndGlyphs">100μm</text>
<line x1="536.9" y1="236.39999999999998" x2="544.6" y2="236.39999999999998" stroke="#000" stroke-width="0.9"/>
<clipPath id="cl1"><rect x="553.3" y="180.7" width="92.6" height="58"/></clipPath>
<g clip-path="url(#cl1)">
<rect x="553.3" y="180.7" width="92.6" height="58" fill="#e8e6e1" stroke="none" stroke-width="1"/>
<g filter="url(#speckB)">
<ellipse cx="560.7" cy="209.7" rx="13.9" ry="34.8" fill="#6a78c0" opacity="1"/>
<ellipse cx="581.1" cy="230.0" rx="25.9" ry="12.8" fill="#6a78c0" opacity="0.85"/>
<ellipse cx="581.1" cy="189.4" rx="25.9" ry="11.6" fill="#6a78c0" opacity="0.6"/>
<ellipse cx="608.9" cy="201.0" rx="11.1" ry="16.2" fill="#6a78c0" opacity="0.3"/>
</g>
<g filter="url(#speckBr)" opacity="0.85">
<ellipse cx="584.8" cy="208.5" rx="11.1" ry="15.1" fill="#76603e" opacity="1"/>
<ellipse cx="592.2" cy="198.1" rx="9.3" ry="8.1" fill="#76603e" opacity="0.6"/>
</g>
<line x1="554.3" y1="236.5" x2="559.3" y2="236.5" stroke="#e04040" stroke-width="0.6"/>
</g>
<rect x="622.6" y="228.0" width="21.7" height="9.9" fill="#fbfbfa" stroke="none" stroke-width="1"/>
<text x="634.1" y="234.39999999999998" font-size="6.4" font-weight="bold" fill="#000" text-anchor="middle" textLength="18.6" lengthAdjust="spacingAndGlyphs">100μm</text>
<line x1="634.9" y1="236.39999999999998" x2="642.6" y2="236.39999999999998" stroke="#000" stroke-width="0.9"/>
<clipPath id="cl2"><rect x="455.3" y="245.2" width="92.6" height="58"/></clipPath>
<g clip-path="url(#cl2)">
<rect x="455.3" y="245.2" width="92.6" height="58" fill="#e8e6e1" stroke="none" stroke-width="1"/>
<g filter="url(#speckB)">
<ellipse cx="466.4" cy="271.3" rx="18.5" ry="34.8" fill="#6a78c0" opacity="0.85"/>
<ellipse cx="483.1" cy="288.7" rx="18.5" ry="17.4" fill="#6a78c0" opacity="0.6"/>
<ellipse cx="497.0" cy="271.3" rx="11.1" ry="11.6" fill="#6a78c0" opacity="0.3"/>
</g>
<g filter="url(#speckBr)" opacity="0.85">
<ellipse cx="475.7" cy="277.1" rx="12.0" ry="26.1" fill="#76603e" opacity="0.75"/>
<ellipse cx="487.7" cy="256.8" rx="9.3" ry="8.7" fill="#76603e" opacity="0.5"/>
</g>
<line x1="456.3" y1="301.0" x2="461.3" y2="301.0" stroke="#e04040" stroke-width="0.6"/>
</g>
<rect x="524.6" y="292.5" width="21.7" height="9.9" fill="#fbfbfa" stroke="none" stroke-width="1"/>
<text x="536.1" y="298.9" font-size="6.4" font-weight="bold" fill="#000" text-anchor="middle" textLength="18.6" lengthAdjust="spacingAndGlyphs">100μm</text>
<line x1="536.9" y1="300.9" x2="544.6" y2="300.9" stroke="#000" stroke-width="0.9"/>
<clipPath id="cl3"><rect x="553.3" y="245.2" width="92.6" height="58"/></clipPath>
<g clip-path="url(#cl3)">
<rect x="553.3" y="245.2" width="92.6" height="58" fill="#e8e6e1" stroke="none" stroke-width="1"/>
<g filter="url(#speckB)">
<ellipse cx="560.7" cy="280.0" rx="11.1" ry="29.0" fill="#6a78c0" opacity="0.85"/>
<ellipse cx="571.8" cy="297.4" rx="23.1" ry="11.6" fill="#6a78c0" opacity="0.6"/>
<ellipse cx="632.0" cy="253.9" rx="18.5" ry="8.7" fill="#6a78c0" opacity="0.3"/>
<ellipse cx="581.1" cy="277.1" rx="13.9" ry="17.4" fill="#6a78c0" opacity="0.4"/>
</g>
<g filter="url(#speckBr)" opacity="0.85">
<ellipse cx="588.5" cy="271.3" rx="20.4" ry="23.2" fill="#76603e" opacity="0.7"/>
<ellipse cx="581.1" cy="251.0" rx="23.1" ry="5.8" fill="#76603e" opacity="0.45"/>
</g>
<line x1="554.3" y1="301.0" x2="559.3" y2="301.0" stroke="#e04040" stroke-width="0.6"/>
</g>
<rect x="622.6" y="292.5" width="21.7" height="9.9" fill="#fbfbfa" stroke="none" stroke-width="1"/>
<text x="634.1" y="298.9" font-size="6.4" font-weight="bold" fill="#000" text-anchor="middle" textLength="18.6" lengthAdjust="spacingAndGlyphs">100μm</text>
<line x1="634.9" y1="300.9" x2="642.6" y2="300.9" stroke="#000" stroke-width="0.9"/>
<clipPath id="cl4"><rect x="455.3" y="310.8" width="92.6" height="58.6"/></clipPath>
<g clip-path="url(#cl4)">
<rect x="455.3" y="310.8" width="92.6" height="58.6" fill="#e8e6e1" stroke="none" stroke-width="1"/>
<g filter="url(#speckB)">
<ellipse cx="473.8" cy="340.1" rx="15.7" ry="35.2" fill="#6a78c0" opacity="0.8"/>
<ellipse cx="475.7" cy="354.8" rx="9.3" ry="14.7" fill="#6a78c0" opacity="0.7"/>
</g>
<g filter="url(#speckBr)" opacity="0.85">
<ellipse cx="472.0" cy="328.4" rx="13.9" ry="23.4" fill="#76603e" opacity="0.85"/>
<ellipse cx="473.8" cy="354.8" rx="11.1" ry="17.6" fill="#76603e" opacity="0.65"/>
<ellipse cx="487.7" cy="322.5" rx="7.4" ry="8.8" fill="#76603e" opacity="0.5"/>
<ellipse cx="536.8" cy="328.4" rx="3.7" ry="4.7" fill="#76603e" opacity="0.5"/>
</g>
<line x1="456.3" y1="367.20000000000005" x2="461.3" y2="367.20000000000005" stroke="#e04040" stroke-width="0.6"/>
</g>
<rect x="524.6" y="358.70000000000005" width="21.7" height="9.9" fill="#fbfbfa" stroke="none" stroke-width="1"/>
<text x="536.1" y="365.1" font-size="6.4" font-weight="bold" fill="#000" text-anchor="middle" textLength="18.6" lengthAdjust="spacingAndGlyphs">100μm</text>
<line x1="536.9" y1="367.1" x2="544.6" y2="367.1" stroke="#000" stroke-width="0.9"/>
<clipPath id="cl5"><rect x="553.3" y="310.8" width="92.6" height="58.6"/></clipPath>
<g clip-path="url(#cl5)">
<rect x="553.3" y="310.8" width="92.6" height="58.6" fill="#e8e6e1" stroke="none" stroke-width="1"/>
<g filter="url(#speckB)">
<ellipse cx="590.3" cy="334.2" rx="20.4" ry="20.5" fill="#6a78c0" opacity="0.85"/>
<ellipse cx="618.1" cy="328.4" rx="18.5" ry="14.7" fill="#6a78c0" opacity="0.35"/>
<ellipse cx="567.2" cy="340.1" rx="13.9" ry="29.3" fill="#6a78c0" opacity="0.6"/>
</g>
<g filter="url(#speckBr)" opacity="0.85">
<ellipse cx="562.6" cy="346.0" rx="13.0" ry="29.3" fill="#76603e" opacity="0.9"/>
<ellipse cx="581.1" cy="315.5" rx="27.8" ry="7.0" fill="#76603e" opacity="0.85"/>
<ellipse cx="581.1" cy="354.8" rx="11.1" ry="14.7" fill="#76603e" opacity="0.7"/>
</g>
<line x1="554.3" y1="367.20000000000005" x2="559.3" y2="367.20000000000005" stroke="#e04040" stroke-width="0.6"/>
</g>
<rect x="622.6" y="358.70000000000005" width="21.7" height="9.9" fill="#fbfbfa" stroke="none" stroke-width="1"/>
<text x="634.1" y="365.1" font-size="6.4" font-weight="bold" fill="#000" text-anchor="middle" textLength="18.6" lengthAdjust="spacingAndGlyphs">100μm</text>
<line x1="634.9" y1="367.1" x2="642.6" y2="367.1" stroke="#000" stroke-width="0.9"/>
<clipPath id="cl6"><rect x="455.3" y="374" width="92.6" height="60"/></clipPath>
<g clip-path="url(#cl6)">
<rect x="455.3" y="374" width="92.6" height="60" fill="#e8e6e1" stroke="none" stroke-width="1"/>
<g filter="url(#speckT)">
<ellipse cx="522.0" cy="404.0" rx="37.0" ry="48.0" fill="#c4ae86" opacity="0.95"/>
</g>
<g filter="url(#blur4)">
<ellipse cx="518.3" cy="390.8" rx="11.1" ry="15.6" fill="#f4f2ee" opacity="1"/>
<ellipse cx="547.0" cy="411.2" rx="4.6" ry="9.6" fill="#f4f2ee" opacity="1"/>
<ellipse cx="457.2" cy="378.8" rx="3.7" ry="6.0" fill="#f4f2ee" opacity="0.8"/>
</g>
<g filter="url(#speckB)">
<ellipse cx="471.0" cy="404.0" rx="20.4" ry="42.0" fill="#6a78c0" opacity="1"/>
<ellipse cx="485.9" cy="386.0" rx="7.4" ry="12.0" fill="#6a78c0" opacity="0.5"/>
</g>
</g>
<rect x="524.6" y="423.3" width="21.7" height="9.9" fill="#fbfbfa" stroke="none" stroke-width="1"/>
<text x="536.1" y="429.7" font-size="6.4" font-weight="bold" fill="#000" text-anchor="middle" textLength="18.6" lengthAdjust="spacingAndGlyphs">100μm</text>
<line x1="536.9" y1="431.7" x2="544.6" y2="431.7" stroke="#000" stroke-width="0.9"/>
<clipPath id="cl7"><rect x="553.3" y="374" width="92.6" height="60"/></clipPath>
<g clip-path="url(#cl7)">
<rect x="553.3" y="374" width="92.6" height="60" fill="#e8e6e1" stroke="none" stroke-width="1"/>
<g filter="url(#speckT)">
<ellipse cx="632.9" cy="398.0" rx="20.4" ry="42.0" fill="#c4ae86" opacity="0.95"/>
<ellipse cx="604.2" cy="431.0" rx="20.4" ry="12.0" fill="#c4ae86" opacity="0.9"/>
<ellipse cx="622.8" cy="422.0" rx="18.5" ry="18.0" fill="#c4ae86" opacity="0.8"/>
</g>
<g filter="url(#blur4)">
<ellipse cx="629.2" cy="407.0" rx="2.8" ry="10.8" fill="#f4f2ee" opacity="0.6"/>
</g>
<g filter="url(#speckB)">
<ellipse cx="581.1" cy="398.0" rx="27.8" ry="30.0" fill="#6a78c0" opacity="1"/>
<ellipse cx="567.2" cy="422.0" rx="16.7" ry="18.0" fill="#6a78c0" opacity="0.9"/>
</g>
</g>
<rect x="622.6" y="423.3" width="21.7" height="9.9" fill="#fbfbfa" stroke="none" stroke-width="1"/>
<text x="634.1" y="429.7" font-size="6.4" font-weight="bold" fill="#000" text-anchor="middle" textLength="18.6" lengthAdjust="spacingAndGlyphs">100μm</text>
<line x1="634.9" y1="431.7" x2="642.6" y2="431.7" stroke="#000" stroke-width="0.9"/>
<text x="100.8" y="472.2" font-size="9.4" font-weight="bold" fill="#000" text-anchor="middle" textLength="25" lengthAdjust="spacingAndGlyphs">B cell</text>
<text x="220.3" y="472.2" font-size="9.4" font-weight="bold" fill="#000" text-anchor="middle" textLength="80" lengthAdjust="spacingAndGlyphs">T cell CD4+_naive</text>
<text x="337.5" y="464.5" font-size="9.4" font-weight="bold" fill="#000" text-anchor="middle" textLength="95.3" lengthAdjust="spacingAndGlyphs">Myeloid dendritic cell</text>
<text x="340.4" y="475" font-size="9.4" font-weight="bold" fill="#000" text-anchor="middle" textLength="40.4" lengthAdjust="spacingAndGlyphs">activated</text>
<text x="460.8" y="473.4" font-size="9.4" font-weight="bold" fill="#000" text-anchor="middle" textLength="50.7" lengthAdjust="spacingAndGlyphs">CD8+ T cell</text>
<line x1="14.4" y1="526.8" x2="14.4" y2="679.5" stroke="#000" stroke-width="0.8"/>
<text x="8.7" y="603.3" font-size="10" font-weight="bold" fill="#000" text-anchor="middle" textLength="157" lengthAdjust="spacingAndGlyphs" transform="rotate(-90 8.7 603.3)">CCL20 Expression level (log2 TPM)</text>
<text x="31.3" y="538.2" font-size="9.5" font-weight="bold" fill="#000" text-anchor="middle" textLength="57.4" lengthAdjust="spacingAndGlyphs" transform="rotate(-90 31.3 538.2)">HPV+HNSCC</text>
<text x="31.4" y="672.6" font-size="9.5" font-weight="bold" fill="#000" text-anchor="middle" textLength="54.9" lengthAdjust="spacingAndGlyphs" transform="rotate(-90 31.4 672.6)">HPV-HNSCC</text>
<rect x="52.6" y="489.2" width="100.4" height="100.69999999999999" fill="#fff" stroke="none" stroke-width="1"/>
<line x1="69.3" y1="489.2" x2="69.3" y2="589.9" stroke="#f0f0f0" stroke-width="0.5"/>
<line x1="94.4" y1="489.2" x2="94.4" y2="589.9" stroke="#f0f0f0" stroke-width="0.5"/>
<line x1="119.6" y1="489.2" x2="119.6" y2="589.9" stroke="#f0f0f0" stroke-width="0.5"/>
<line x1="144.7" y1="489.2" x2="144.7" y2="589.9" stroke="#f0f0f0" stroke-width="0.5"/>
<line x1="52.6" y1="578.0999999999999" x2="153" y2="578.0999999999999" stroke="#f0f0f0" stroke-width="0.5"/>
<line x1="52.6" y1="558.5999999999999" x2="153" y2="558.5999999999999" stroke="#f0f0f0" stroke-width="0.5"/>
<line x1="52.6" y1="539.0999999999999" x2="153" y2="539.0999999999999" stroke="#f0f0f0" stroke-width="0.5"/>
<line x1="52.6" y1="519.7" x2="153" y2="519.7" stroke="#f0f0f0" stroke-width="0.5"/>
<line x1="52.6" y1="500.2" x2="153" y2="500.2" stroke="#f0f0f0" stroke-width="0.5"/>
<line x1="56.8" y1="489.2" x2="56.8" y2="589.9" stroke="#e4e4e4" stroke-width="0.6"/>
<line x1="56.8" y1="589.9" x2="56.8" y2="591.4" stroke="#333" stroke-width="0.5"/>
<text x="56.8" y="597" font-size="6.5" fill="#4d4d4d" text-anchor="middle">0.0</text>
<line x1="81.8" y1="489.2" x2="81.8" y2="589.9" stroke="#e4e4e4" stroke-width="0.6"/>
<line x1="81.8" y1="589.9" x2="81.8" y2="591.4" stroke="#333" stroke-width="0.5"/>
<text x="81.8" y="597" font-size="6.5" fill="#4d4d4d" text-anchor="middle">0.3</text>
<line x1="107" y1="489.2" x2="107" y2="589.9" stroke="#e4e4e4" stroke-width="0.6"/>
<line x1="107" y1="589.9" x2="107" y2="591.4" stroke="#333" stroke-width="0.5"/>
<text x="107" y="597" font-size="6.5" fill="#4d4d4d" text-anchor="middle">0.6</text>
<line x1="132.2" y1="489.2" x2="132.2" y2="589.9" stroke="#e4e4e4" stroke-width="0.6"/>
<line x1="132.2" y1="589.9" x2="132.2" y2="591.4" stroke="#333" stroke-width="0.5"/>
<text x="132.2" y="597" font-size="6.5" fill="#4d4d4d" text-anchor="middle">0.9</text>
<line x1="52.6" y1="587.8" x2="153" y2="587.8" stroke="#e4e4e4" stroke-width="0.6"/>
<line x1="51.1" y1="587.8" x2="52.6" y2="587.8" stroke="#333" stroke-width="0.5"/>
<text x="49.6" y="590.0" font-size="6.5" fill="#4d4d4d" text-anchor="end">0.0</text>
<line x1="52.6" y1="568.4" x2="153" y2="568.4" stroke="#e4e4e4" stroke-width="0.6"/>
<line x1="51.1" y1="568.4" x2="52.6" y2="568.4" stroke="#333" stroke-width="0.5"/>
<text x="49.6" y="570.6" font-size="6.5" fill="#4d4d4d" text-anchor="end">2.5</text>
<line x1="52.6" y1="548.8" x2="153" y2="548.8" stroke="#e4e4e4" stroke-width="0.6"/>
<line x1="51.1" y1="548.8" x2="52.6" y2="548.8" stroke="#333" stroke-width="0.5"/>
<text x="49.6" y="551.0" font-size="6.5" fill="#4d4d4d" text-anchor="end">5.0</text>
<line x1="52.6" y1="529.4" x2="153" y2="529.4" stroke="#e4e4e4" stroke-width="0.6"/>
<line x1="51.1" y1="529.4" x2="52.6" y2="529.4" stroke="#333" stroke-width="0.5"/>
<text x="49.6" y="531.6" font-size="6.5" fill="#4d4d4d" text-anchor="end">7.5</text>
<line x1="52.6" y1="510" x2="153" y2="510" stroke="#e4e4e4" stroke-width="0.6"/>
<line x1="51.1" y1="510" x2="52.6" y2="510" stroke="#333" stroke-width="0.5"/>
<text x="49.6" y="512.2" font-size="6.5" fill="#4d4d4d" text-anchor="end">10.0</text>
<line x1="52.6" y1="490.4" x2="153" y2="490.4" stroke="#e4e4e4" stroke-width="0.6"/>
<line x1="51.1" y1="490.4" x2="52.6" y2="490.4" stroke="#333" stroke-width="0.5"/>
<text x="49.6" y="492.59999999999997" font-size="6.5" fill="#4d4d4d" text-anchor="end">12.5</text>
<polygon points="56.8,547.0 100.0,525.0 148.3,497.9 148.3,537.6 100.0,541.0 56.8,552.8" fill="#c8c8c8" stroke="none" stroke-width="1" opacity="0.9"/>
<path d="M90.4 513.4h0M56.9 576.1h0M57.3 586.0h0M62.5 569.5h0M62.2 551.3h0M62.0 538.8h0M66.5 551.0h0M57.2 537.6h0M72.5 515.9h0M70.5 520.9h0M59.0 543.2h0M59.6 581.0h0M57.3 559.4h0M57.1 558.2h0M63.9 570.7h0M67.7 550.0h0M66.3 525.3h0M58.1 560.9h0M65.1 533.5h0M61.5 505.3h0M70.6 543.0h0M60.9 550.5h0M57.4 528.3h0M61.6 540.2h0M64.9 519.2h0M85.0 544.5h0M74.0 521.9h0M60.3 552.1h0M58.7 537.8h0M60.1 540.3h0M56.8 546.6h0M66.9 528.7h0M57.0 529.6h0M57.2 563.0h0M59.3 534.0h0M71.7 545.1h0M56.9 533.6h0M60.9 542.0h0M68.6 564.1h0M57.6 542.8h0M60.3 571.9h0M60.3 539.9h0M59.5 552.3h0M63.9 523.9h0M62.2 564.1h0M60.2 564.1h0M77.1 534.3h0M59.3 537.7h0M61.8 516.0h0M69.0 539.4h0M62.1 561.9h0M61.1 552.0h0M57.3 566.5h0M71.4 559.7h0M61.1 526.2h0M57.1 529.9h0M79.7 554.5h0M84.6 535.0h0M58.8 521.3h0M64.0 544.9h0M59.8 557.2h0M86.9 540.9h0M59.4 562.9h0M102.8 566.2h0M58.9 549.4h0M58.5 555.0h0M57.3 532.2h0M67.6 528.6h0M62.7 538.1h0M68.5 538.9h0M61.5 544.9h0M57.5 562.6h0M63.5 520.6h0M59.0 559.2h0M59.7 570.6h0M59.8 503.6h0M108.4 538.3h0M56.9 544.9h0M56.9 530.3h0M57.4 563.4h0M57.4 544.8h0M60.5 555.0h0M59.3 532.0h0M57.3 544.9h0M71.8 549.8h0M64.6 582.5h0M69.0 569.8h0M59.2 537.3h0M57.3 529.9h0M57.0 571.2h0M58.1 530.8h0M81.2 534.0h0M61.1 538.7h0M58.5 574.1h0M58.1 568.0h0M60.5 550.9h0M68.2 574.8h0M57.6 540.6h0M64.3 558.7h0M57.0 565.3h0" stroke="#404040" stroke-width="2.0" stroke-linecap="round" opacity="0.75"/>
<line x1="56.8" y1="549.3" x2="148.3" y2="516.6" stroke="#3a62c4" stroke-width="1"/>
<rect x="52.6" y="479.8" width="100.4" height="9.399999999999977" fill="#d9d9d9" stroke="#333" stroke-width="0.6"/>
<rect x="52.6" y="489.2" width="100.4" height="100.69999999999999" fill="none" stroke="#333" stroke-width="0.6"/>
<clipPath id="st1005"><rect x="53.1" y="479.8" width="99.4" height="9.399999999999977"/></clipPath>
<text x="102.8" y="486.4" font-size="5.8" fill="#222" text-anchor="middle" textLength="35.7" lengthAdjust="spacingAndGlyphs" clip-path="url(#st1005)">B cell_XCELL</text>
<text x="152" y="495.0" font-size="5.8" fill="#e02020" text-anchor="end">Rho = 0.48</text>
<text x="152" y="499.59999999999997" font-size="5.8" fill="#e02020" text-anchor="end">p = 1.97e-06</text>
<text x="107.8" y="605.8" font-size="7.6" fill="#333" text-anchor="middle" textLength="57" lengthAdjust="spacingAndGlyphs">Infiltration Level</text>
<rect x="167.5" y="488.6" width="104.0" height="101.0" fill="#fff" stroke="none" stroke-width="1"/>
<line x1="187.7" y1="488.6" x2="187.7" y2="589.6" stroke="#f0f0f0" stroke-width="0.5"/>
<line x1="219.5" y1="488.6" x2="219.5" y2="589.6" stroke="#f0f0f0" stroke-width="0.5"/>
<line x1="251.05" y1="488.6" x2="251.05" y2="589.6" stroke="#f0f0f0" stroke-width="0.5"/>
<line x1="167.5" y1="574.2" x2="271.5" y2="574.2" stroke="#f0f0f0" stroke-width="0.5"/>
<line x1="167.5" y1="547.8" x2="271.5" y2="547.8" stroke="#f0f0f0" stroke-width="0.5"/>
<line x1="167.5" y1="521.5" x2="271.5" y2="521.5" stroke="#f0f0f0" stroke-width="0.5"/>
<line x1="167.5" y1="495.2" x2="271.5" y2="495.2" stroke="#f0f0f0" stroke-width="0.5"/>
<line x1="171.7" y1="488.6" x2="171.7" y2="589.6" stroke="#e4e4e4" stroke-width="0.6"/>
<line x1="171.7" y1="589.6" x2="171.7" y2="591.1" stroke="#333" stroke-width="0.5"/>
<text x="171.7" y="596.5" font-size="6.5" fill="#4d4d4d" text-anchor="middle">0.00</text>
<line x1="203.7" y1="488.6" x2="203.7" y2="589.6" stroke="#e4e4e4" stroke-width="0.6"/>
<line x1="203.7" y1="589.6" x2="203.7" y2="591.1" stroke="#333" stroke-width="0.5"/>
<text x="203.7" y="596.5" font-size="6.5" fill="#4d4d4d" text-anchor="middle">0.05</text>
<line x1="235.3" y1="488.6" x2="235.3" y2="589.6" stroke="#e4e4e4" stroke-width="0.6"/>
<line x1="235.3" y1="589.6" x2="235.3" y2="591.1" stroke="#333" stroke-width="0.5"/>
<text x="235.3" y="596.5" font-size="6.5" fill="#4d4d4d" text-anchor="middle">0.10</text>
<line x1="266.8" y1="488.6" x2="266.8" y2="589.6" stroke="#e4e4e4" stroke-width="0.6"/>
<line x1="266.8" y1="589.6" x2="266.8" y2="591.1" stroke="#333" stroke-width="0.5"/>
<text x="266.8" y="596.5" font-size="6.5" fill="#4d4d4d" text-anchor="middle">0.15</text>
<line x1="167.5" y1="587.4" x2="271.5" y2="587.4" stroke="#e4e4e4" stroke-width="0.6"/>
<line x1="166.0" y1="587.4" x2="167.5" y2="587.4" stroke="#333" stroke-width="0.5"/>
<text x="164.5" y="589.6" font-size="6.5" fill="#4d4d4d" text-anchor="end">0</text>
<line x1="167.5" y1="561" x2="271.5" y2="561" stroke="#e4e4e4" stroke-width="0.6"/>
<line x1="166.0" y1="561" x2="167.5" y2="561" stroke="#333" stroke-width="0.5"/>
<text x="164.5" y="563.2" font-size="6.5" fill="#4d4d4d" text-anchor="end">3</text>
<line x1="167.5" y1="534.6" x2="271.5" y2="534.6" stroke="#e4e4e4" stroke-width="0.6"/>
<line x1="166.0" y1="534.6" x2="167.5" y2="534.6" stroke="#333" stroke-width="0.5"/>
<text x="164.5" y="536.8000000000001" font-size="6.5" fill="#4d4d4d" text-anchor="end">6</text>
<line x1="167.5" y1="508.4" x2="271.5" y2="508.4" stroke="#e4e4e4" stroke-width="0.6"/>
<line x1="166.0" y1="508.4" x2="167.5" y2="508.4" stroke="#333" stroke-width="0.5"/>
<text x="164.5" y="510.59999999999997" font-size="6.5" fill="#4d4d4d" text-anchor="end">9</text>
<polygon points="171.7,540.0 220.0,530.0 266.8,504.2 266.8,534.1 220.0,537.0 171.7,547.0" fill="#c8c8c8" stroke="none" stroke-width="1" opacity="0.9"/>
<path d="M234.9 521.2h0M171.8 553.7h0M171.8 561.6h0M191.2 531.5h0M172.6 565.1h0M262.1 522.0h0M210.0 495.9h0M172.1 550.3h0M172.7 552.5h0M234.0 569.8h0M231.6 523.6h0M247.4 532.3h0M172.4 532.1h0M172.8 577.3h0M187.8 537.9h0M187.0 531.2h0M259.4 531.6h0M266.0 522.7h0M202.5 560.1h0M172.0 552.4h0M172.0 535.9h0M202.6 540.6h0M171.8 519.6h0M179.1 567.1h0M172.8 562.3h0M246.4 538.1h0M211.4 527.4h0M208.2 494.3h0M226.5 514.9h0M172.8 520.6h0M182.8 529.5h0M171.7 551.4h0M247.4 550.9h0M186.8 572.7h0M172.0 544.1h0M172.5 531.9h0M224.1 523.3h0M194.7 558.9h0M172.3 547.1h0M171.8 551.3h0M265.0 531.8h0M261.8 506.1h0M250.4 527.6h0M209.6 531.5h0M172.2 551.0h0M186.7 558.8h0M197.4 519.6h0M175.5 552.3h0M238.1 577.2h0M172.4 523.6h0M254.0 511.9h0M185.4 552.8h0M211.2 530.4h0M254.7 539.1h0M172.4 547.4h0M192.7 514.9h0M223.8 518.9h0M175.7 556.3h0M171.9 538.9h0M172.1 554.2h0M172.1 535.3h0M210.7 524.0h0M218.3 543.7h0M200.3 516.2h0M208.9 532.7h0M208.2 557.7h0M172.1 529.9h0M172.6 506.5h0M171.9 521.6h0M239.8 523.5h0M230.2 510.6h0M226.0 557.5h0M223.2 511.9h0M171.9 556.4h0M219.7 537.8h0M172.0 520.8h0M207.6 529.5h0M175.1 549.8h0M172.6 529.5h0M266.0 554.2h0M228.6 536.4h0M236.4 507.8h0M171.9 541.8h0M195.4 527.8h0M172.0 540.4h0M172.1 555.0h0M172.1 532.0h0M172.7 540.1h0M239.3 513.5h0M186.3 551.4h0M171.9 551.5h0M173.7 541.0h0M171.8 522.1h0M239.6 530.5h0M206.1 515.8h0M172.1 543.2h0M172.4 582.1h0M171.8 546.0h0M193.5 549.7h0M172.7 522.4h0" stroke="#404040" stroke-width="2.0" stroke-linecap="round" opacity="0.75"/>
<line x1="171.7" y1="543.4" x2="266.8" y2="518.9" stroke="#3a62c4" stroke-width="1"/>
<rect x="167.5" y="479.2" width="104.0" height="9.400000000000034" fill="#d9d9d9" stroke="#333" stroke-width="0.6"/>
<rect x="167.5" y="488.6" width="104.0" height="101.0" fill="none" stroke="#333" stroke-width="0.6"/>
<clipPath id="st2154"><rect x="168.0" y="479.2" width="103.0" height="9.400000000000034"/></clipPath>
<text x="219.5" y="485.8" font-size="5.8" fill="#222" text-anchor="middle" textLength="69.6" lengthAdjust="spacingAndGlyphs" clip-path="url(#st2154)">T cell CD4+ naive_XCELL</text>
<text x="270.5" y="494.40000000000003" font-size="5.8" fill="#e02020" text-anchor="end">Rho = 0.274</text>
<text x="270.5" y="499.0" font-size="5.8" fill="#e02020" text-anchor="end">p = 9.46e-03</text>
<text x="224.5" y="604.8" font-size="7.6" fill="#333" text-anchor="middle" textLength="57" lengthAdjust="spacingAndGlyphs">Infiltration Level</text>
<rect x="286.4" y="488.6" width="104.60000000000002" height="101.0" fill="#fff" stroke="none" stroke-width="1"/>
<line x1="305.0" y1="488.6" x2="305.0" y2="589.6" stroke="#f0f0f0" stroke-width="0.5"/>
<line x1="334.45" y1="488.6" x2="334.45" y2="589.6" stroke="#f0f0f0" stroke-width="0.5"/>
<line x1="365.2" y1="488.6" x2="365.2" y2="589.6" stroke="#f0f0f0" stroke-width="0.5"/>
<line x1="286.4" y1="574.2" x2="391" y2="574.2" stroke="#f0f0f0" stroke-width="0.5"/>
<line x1="286.4" y1="547.8" x2="391" y2="547.8" stroke="#f0f0f0" stroke-width="0.5"/>
<line x1="286.4" y1="521.5" x2="391" y2="521.5" stroke="#f0f0f0" stroke-width="0.5"/>
<line x1="286.4" y1="495.2" x2="391" y2="495.2" stroke="#f0f0f0" stroke-width="0.5"/>
<line x1="291" y1="488.6" x2="291" y2="589.6" stroke="#e4e4e4" stroke-width="0.6"/>
<line x1="291" y1="589.6" x2="291" y2="591.1" stroke="#333" stroke-width="0.5"/>
<text x="291" y="596.5" font-size="6.5" fill="#4d4d4d" text-anchor="middle">0.0</text>
<line x1="319" y1="488.6" x2="319" y2="589.6" stroke="#e4e4e4" stroke-width="0.6"/>
<line x1="319" y1="589.6" x2="319" y2="591.1" stroke="#333" stroke-width="0.5"/>
<text x="319" y="596.5" font-size="6.5" fill="#4d4d4d" text-anchor="middle">0.2</text>
<line x1="349.9" y1="488.6" x2="349.9" y2="589.6" stroke="#e4e4e4" stroke-width="0.6"/>
<line x1="349.9" y1="589.6" x2="349.9" y2="591.1" stroke="#333" stroke-width="0.5"/>
<text x="349.9" y="596.5" font-size="6.5" fill="#4d4d4d" text-anchor="middle">0.4</text>
<line x1="380.5" y1="488.6" x2="380.5" y2="589.6" stroke="#e4e4e4" stroke-width="0.6"/>
<line x1="380.5" y1="589.6" x2="380.5" y2="591.1" stroke="#333" stroke-width="0.5"/>
<text x="380.5" y="596.5" font-size="6.5" fill="#4d4d4d" text-anchor="middle">0.6</text>
<line x1="286.4" y1="587.4" x2="391" y2="587.4" stroke="#e4e4e4" stroke-width="0.6"/>
<line x1="284.9" y1="587.4" x2="286.4" y2="587.4" stroke="#333" stroke-width="0.5"/>
<text x="283.4" y="589.6" font-size="6.5" fill="#4d4d4d" text-anchor="end">0</text>
<line x1="286.4" y1="561" x2="391" y2="561" stroke="#e4e4e4" stroke-width="0.6"/>
<line x1="284.9" y1="561" x2="286.4" y2="561" stroke="#333" stroke-width="0.5"/>
<text x="283.4" y="563.2" font-size="6.5" fill="#4d4d4d" text-anchor="end">3</text>
<line x1="286.4" y1="534.6" x2="391" y2="534.6" stroke="#e4e4e4" stroke-width="0.6"/>
<line x1="284.9" y1="534.6" x2="286.4" y2="534.6" stroke="#333" stroke-width="0.5"/>
<text x="283.4" y="536.8000000000001" font-size="6.5" fill="#4d4d4d" text-anchor="end">6</text>
<line x1="286.4" y1="508.4" x2="391" y2="508.4" stroke="#e4e4e4" stroke-width="0.6"/>
<line x1="284.9" y1="508.4" x2="286.4" y2="508.4" stroke="#333" stroke-width="0.5"/>
<text x="283.4" y="510.59999999999997" font-size="6.5" fill="#4d4d4d" text-anchor="end">9</text>
<polygon points="291.0,539.2 340.0,535.0 386.1,517.3 386.1,540.0 340.0,544.0 291.0,558.6" fill="#c8c8c8" stroke="none" stroke-width="1" opacity="0.9"/>
<path d="M326.9 504.2h0M347.9 563.2h0M349.2 531.7h0M355.9 571.3h0M363.4 580.3h0M360.2 518.3h0M354.4 548.1h0M326.9 582.6h0M332.7 532.3h0M356.0 535.7h0M347.3 529.6h0M363.5 540.5h0M374.5 520.4h0M348.7 540.6h0M297.6 542.0h0M304.6 562.7h0M382.8 500.8h0M302.1 546.3h0M292.9 538.7h0M340.2 560.0h0M384.4 517.1h0M305.0 550.2h0M344.9 548.6h0M386.3 547.8h0M349.6 544.0h0M316.0 526.2h0M355.2 507.9h0M346.8 518.5h0M306.8 544.4h0M361.4 540.5h0M384.9 527.6h0M307.4 562.6h0M359.5 544.3h0M357.1 525.5h0M303.9 541.6h0M338.7 505.1h0M310.5 525.2h0M298.8 559.4h0M376.6 568.4h0M329.2 514.9h0M341.5 562.2h0M333.9 551.1h0M379.8 510.3h0M310.7 539.4h0M323.5 536.0h0M328.0 561.9h0M338.2 528.1h0M316.1 530.7h0M372.5 510.6h0M295.0 516.4h0M323.4 504.8h0M382.3 521.2h0M308.1 536.3h0M352.2 509.9h0M377.6 550.0h0M301.1 521.6h0M337.9 560.6h0M337.0 553.4h0M294.5 553.3h0M291.9 556.3h0M333.1 537.9h0M344.3 529.5h0M292.2 582.8h0M294.1 545.4h0M372.1 554.3h0M292.1 538.3h0M297.7 537.3h0M314.6 538.6h0M370.9 529.7h0M351.8 548.2h0M384.3 567.8h0M370.1 516.1h0M365.7 530.6h0M357.7 536.8h0M295.9 552.2h0M340.0 532.9h0M348.6 524.0h0M366.0 508.6h0M384.0 544.5h0M304.4 544.1h0M379.4 506.8h0M340.6 528.6h0M318.7 538.5h0M316.1 551.6h0M363.2 562.7h0M312.1 525.7h0M333.0 522.9h0M331.6 517.2h0M374.9 543.1h0M292.0 519.3h0M334.3 562.8h0M307.8 552.7h0M333.3 545.2h0M381.4 569.0h0M293.6 525.3h0" stroke="#404040" stroke-width="2.0" stroke-linecap="round" opacity="0.75"/>
<line x1="291" y1="549.3" x2="386.1" y2="528.3" stroke="#3a62c4" stroke-width="1"/>
<rect x="286.4" y="479.2" width="104.60000000000002" height="9.400000000000034" fill="#d9d9d9" stroke="#333" stroke-width="0.6"/>
<rect x="286.4" y="488.6" width="104.60000000000002" height="101.0" fill="none" stroke="#333" stroke-width="0.6"/>
<clipPath id="st3343"><rect x="286.9" y="479.2" width="103.60000000000002" height="9.400000000000034"/></clipPath>
<text x="338.7" y="485.8" font-size="5.8" fill="#222" text-anchor="middle" textLength="110" lengthAdjust="spacingAndGlyphs" clip-path="url(#st3343)">Myeloid dendritic cell activated_XCELL</text>
<text x="390" y="494.40000000000003" font-size="5.8" fill="#e02020" text-anchor="end">Rho = 0.297</text>
<text x="390" y="499.0" font-size="5.8" fill="#e02020" text-anchor="end">p = 4.72e-03</text>
<text x="343.7" y="604.8" font-size="7.6" fill="#333" text-anchor="middle" textLength="57" lengthAdjust="spacingAndGlyphs">Infiltration Level</text>
<rect x="405.7" y="488.6" width="104.60000000000002" height="101.0" fill="#fff" stroke="none" stroke-width="1"/>
<line x1="427.25" y1="488.6" x2="427.25" y2="589.6" stroke="#f0f0f0" stroke-width="0.5"/>
<line x1="461.1" y1="488.6" x2="461.1" y2="589.6" stroke="#f0f0f0" stroke-width="0.5"/>
<line x1="494.95" y1="488.6" x2="494.95" y2="589.6" stroke="#f0f0f0" stroke-width="0.5"/>
<line x1="405.7" y1="574.2" x2="510.3" y2="574.2" stroke="#f0f0f0" stroke-width="0.5"/>
<line x1="405.7" y1="547.8" x2="510.3" y2="547.8" stroke="#f0f0f0" stroke-width="0.5"/>
<line x1="405.7" y1="521.5" x2="510.3" y2="521.5" stroke="#f0f0f0" stroke-width="0.5"/>
<line x1="405.7" y1="495.2" x2="510.3" y2="495.2" stroke="#f0f0f0" stroke-width="0.5"/>
<line x1="410.3" y1="488.6" x2="410.3" y2="589.6" stroke="#e4e4e4" stroke-width="0.6"/>
<line x1="410.3" y1="589.6" x2="410.3" y2="591.1" stroke="#333" stroke-width="0.5"/>
<text x="410.3" y="596.5" font-size="6.5" fill="#4d4d4d" text-anchor="middle">0.0</text>
<line x1="444.2" y1="488.6" x2="444.2" y2="589.6" stroke="#e4e4e4" stroke-width="0.6"/>
<line x1="444.2" y1="589.6" x2="444.2" y2="591.1" stroke="#333" stroke-width="0.5"/>
<text x="444.2" y="596.5" font-size="6.5" fill="#4d4d4d" text-anchor="middle">0.1</text>
<line x1="478" y1="488.6" x2="478" y2="589.6" stroke="#e4e4e4" stroke-width="0.6"/>
<line x1="478" y1="589.6" x2="478" y2="591.1" stroke="#333" stroke-width="0.5"/>
<text x="478" y="596.5" font-size="6.5" fill="#4d4d4d" text-anchor="middle">0.2</text>
<line x1="405.7" y1="587.4" x2="510.3" y2="587.4" stroke="#e4e4e4" stroke-width="0.6"/>
<line x1="404.2" y1="587.4" x2="405.7" y2="587.4" stroke="#333" stroke-width="0.5"/>
<text x="402.7" y="589.6" font-size="6.5" fill="#4d4d4d" text-anchor="end">0</text>
<line x1="405.7" y1="561" x2="510.3" y2="561" stroke="#e4e4e4" stroke-width="0.6"/>
<line x1="404.2" y1="561" x2="405.7" y2="561" stroke="#333" stroke-width="0.5"/>
<text x="402.7" y="563.2" font-size="6.5" fill="#4d4d4d" text-anchor="end">3</text>
<line x1="405.7" y1="534.6" x2="510.3" y2="534.6" stroke="#e4e4e4" stroke-width="0.6"/>
<line x1="404.2" y1="534.6" x2="405.7" y2="534.6" stroke="#333" stroke-width="0.5"/>
<text x="402.7" y="536.8000000000001" font-size="6.5" fill="#4d4d4d" text-anchor="end">6</text>
<line x1="405.7" y1="508.4" x2="510.3" y2="508.4" stroke="#e4e4e4" stroke-width="0.6"/>
<line x1="404.2" y1="508.4" x2="405.7" y2="508.4" stroke="#333" stroke-width="0.5"/>
<text x="402.7" y="510.59999999999997" font-size="6.5" fill="#4d4d4d" text-anchor="end">9</text>
<polygon points="410.3,539.5 455.0,532.0 504.9,509.6 504.9,535.3 455.0,541.0 410.3,549.5" fill="#c8c8c8" stroke="none" stroke-width="1" opacity="0.9"/>
<path d="M412.0 574.6h0M477.1 539.2h0M446.6 529.1h0M427.4 504.8h0M415.0 567.6h0M421.6 525.9h0M482.7 513.0h0M415.0 538.7h0M451.3 530.4h0M411.7 516.4h0M427.7 552.9h0M420.1 560.8h0M410.8 514.7h0M451.2 543.6h0M494.0 527.7h0M428.9 559.7h0M463.6 507.5h0M472.2 510.7h0M415.2 528.2h0M429.3 529.4h0M504.0 542.3h0M411.1 535.3h0M410.3 543.7h0M438.1 516.0h0M410.5 532.4h0M411.7 581.3h0M412.3 529.9h0M415.4 542.9h0M444.7 556.3h0M410.5 541.9h0M410.9 499.2h0M417.9 564.5h0M410.8 551.8h0M410.5 526.6h0M416.8 581.5h0M435.5 550.4h0M453.1 515.8h0M412.0 572.5h0M420.4 530.7h0M410.9 517.1h0M415.1 549.6h0M414.6 573.9h0M421.1 508.0h0M488.7 524.8h0M415.3 515.1h0M430.6 519.9h0M491.9 511.4h0M410.5 545.0h0M412.2 518.7h0M411.7 549.5h0M411.4 523.3h0M429.1 535.6h0M474.2 566.2h0M484.1 533.9h0M420.3 543.5h0M410.7 558.5h0M436.2 564.5h0M410.4 568.0h0M410.7 572.7h0M430.8 559.0h0M411.2 499.6h0M504.1 529.2h0M413.9 581.5h0M437.7 551.1h0M410.3 526.6h0M410.4 510.9h0M410.9 579.0h0M425.3 523.7h0M443.5 529.3h0M435.2 537.1h0M419.0 577.5h0M410.4 551.5h0M410.4 569.9h0M411.5 549.4h0M410.6 576.9h0M416.2 539.7h0M424.8 501.2h0M410.5 553.5h0M424.0 558.9h0M427.4 539.4h0M433.1 554.1h0M425.0 518.5h0M432.7 567.0h0M457.9 546.3h0M411.3 542.6h0M410.8 534.2h0M410.6 526.0h0M410.5 541.8h0M456.2 545.5h0M414.1 552.3h0M410.5 551.8h0M479.5 530.3h0M429.0 570.6h0M411.7 554.8h0M410.8 546.7h0M445.3 551.7h0M412.0 532.9h0M411.8 532.8h0M416.4 542.8h0M435.9 540.6h0" stroke="#404040" stroke-width="2.0" stroke-linecap="round" opacity="0.75"/>
<line x1="410.3" y1="544.6" x2="504.9" y2="522" stroke="#3a62c4" stroke-width="1"/>
<rect x="405.7" y="479.2" width="104.60000000000002" height="9.400000000000034" fill="#d9d9d9" stroke="#333" stroke-width="0.6"/>
<rect x="405.7" y="488.6" width="104.60000000000002" height="101.0" fill="none" stroke="#333" stroke-width="0.6"/>
<clipPath id="st4536"><rect x="406.2" y="479.2" width="103.60000000000002" height="9.400000000000034"/></clipPath>
<text x="458.0" y="485.8" font-size="5.8" fill="#222" text-anchor="middle" textLength="52.3" lengthAdjust="spacingAndGlyphs" clip-path="url(#st4536)">T cell CD8+_XCELL</text>
<text x="509.3" y="494.40000000000003" font-size="5.8" fill="#e02020" text-anchor="end">Rho = 0.385</text>
<text x="509.3" y="499.0" font-size="5.8" fill="#e02020" text-anchor="end">p = 1.97e-04</text>
<text x="463.0" y="604.8" font-size="7.6" fill="#333" text-anchor="middle" textLength="57" lengthAdjust="spacingAndGlyphs">Infiltration Level</text>
<rect x="49.5" y="619.6" width="104.69999999999999" height="100.0" fill="#fff" stroke="none" stroke-width="1"/>
<line x1="65.65" y1="619.6" x2="65.65" y2="719.6" stroke="#f0f0f0" stroke-width="0.5"/>
<line x1="89.8" y1="619.6" x2="89.8" y2="719.6" stroke="#f0f0f0" stroke-width="0.5"/>
<line x1="114.05" y1="619.6" x2="114.05" y2="719.6" stroke="#f0f0f0" stroke-width="0.5"/>
<line x1="138.14999999999998" y1="619.6" x2="138.14999999999998" y2="719.6" stroke="#f0f0f0" stroke-width="0.5"/>
<line x1="49.5" y1="704.2" x2="154.2" y2="704.2" stroke="#f0f0f0" stroke-width="0.5"/>
<line x1="49.5" y1="679.0" x2="154.2" y2="679.0" stroke="#f0f0f0" stroke-width="0.5"/>
<line x1="49.5" y1="653.9" x2="154.2" y2="653.9" stroke="#f0f0f0" stroke-width="0.5"/>
<line x1="49.5" y1="628.8" x2="154.2" y2="628.8" stroke="#f0f0f0" stroke-width="0.5"/>
<line x1="53.7" y1="619.6" x2="53.7" y2="719.6" stroke="#e4e4e4" stroke-width="0.6"/>
<line x1="53.7" y1="719.6" x2="53.7" y2="721.1" stroke="#333" stroke-width="0.5"/>
<text x="53.7" y="727.2" font-size="6.5" fill="#4d4d4d" text-anchor="middle">0.0</text>
<line x1="77.6" y1="619.6" x2="77.6" y2="719.6" stroke="#e4e4e4" stroke-width="0.6"/>
<line x1="77.6" y1="719.6" x2="77.6" y2="721.1" stroke="#333" stroke-width="0.5"/>
<text x="77.6" y="727.2" font-size="6.5" fill="#4d4d4d" text-anchor="middle">0.2</text>
<line x1="102" y1="619.6" x2="102" y2="719.6" stroke="#e4e4e4" stroke-width="0.6"/>
<line x1="102" y1="719.6" x2="102" y2="721.1" stroke="#333" stroke-width="0.5"/>
<text x="102" y="727.2" font-size="6.5" fill="#4d4d4d" text-anchor="middle">0.4</text>
<line x1="126.1" y1="619.6" x2="126.1" y2="719.6" stroke="#e4e4e4" stroke-width="0.6"/>
<line x1="126.1" y1="719.6" x2="126.1" y2="721.1" stroke="#333" stroke-width="0.5"/>
<text x="126.1" y="727.2" font-size="6.5" fill="#4d4d4d" text-anchor="middle">0.6</text>
<line x1="150.2" y1="619.6" x2="150.2" y2="719.6" stroke="#e4e4e4" stroke-width="0.6"/>
<line x1="150.2" y1="719.6" x2="150.2" y2="721.1" stroke="#333" stroke-width="0.5"/>
<text x="150.2" y="727.2" font-size="6.5" fill="#4d4d4d" text-anchor="middle">0.8</text>
<line x1="49.5" y1="716.8" x2="154.2" y2="716.8" stroke="#e4e4e4" stroke-width="0.6"/>
<line x1="48.0" y1="716.8" x2="49.5" y2="716.8" stroke="#333" stroke-width="0.5"/>
<text x="46.5" y="719.0" font-size="6.5" fill="#4d4d4d" text-anchor="end">0</text>
<line x1="49.5" y1="691.6" x2="154.2" y2="691.6" stroke="#e4e4e4" stroke-width="0.6"/>
<line x1="48.0" y1="691.6" x2="49.5" y2="691.6" stroke="#333" stroke-width="0.5"/>
<text x="46.5" y="693.8000000000001" font-size="6.5" fill="#4d4d4d" text-anchor="end">3</text>
<line x1="49.5" y1="666.4" x2="154.2" y2="666.4" stroke="#e4e4e4" stroke-width="0.6"/>
<line x1="48.0" y1="666.4" x2="49.5" y2="666.4" stroke="#333" stroke-width="0.5"/>
<text x="46.5" y="668.6" font-size="6.5" fill="#4d4d4d" text-anchor="end">6</text>
<line x1="49.5" y1="641.4" x2="154.2" y2="641.4" stroke="#e4e4e4" stroke-width="0.6"/>
<line x1="48.0" y1="641.4" x2="49.5" y2="641.4" stroke="#333" stroke-width="0.5"/>
<text x="46.5" y="643.6" font-size="6.5" fill="#4d4d4d" text-anchor="end">9</text>
<polygon points="53.7,681.0 90.0,681.0 150.2,664.3 150.2,697.9 90.0,684.0 53.7,683.6" fill="#c8c8c8" stroke="none" stroke-width="1" opacity="0.9"/>
<path d="M54.5 669.5h0M55.1 663.3h0M54.0 664.5h0M54.0 683.4h0M55.6 676.9h0M60.9 685.2h0M53.8 679.3h0M53.8 689.5h0M57.3 676.9h0M59.9 704.8h0M68.9 673.7h0M54.7 677.7h0M54.0 650.9h0M53.8 677.9h0M57.2 666.6h0M53.9 666.5h0M54.6 669.6h0M60.5 684.6h0M53.9 696.5h0M58.8 679.9h0M62.8 624.6h0M56.2 661.9h0M54.1 689.9h0M57.1 674.9h0M53.8 648.2h0M60.3 703.4h0M53.8 657.6h0M60.2 649.9h0M53.7 688.6h0M54.6 688.1h0M69.6 689.8h0M60.1 692.6h0M53.8 709.8h0M53.8 681.2h0M58.2 665.3h0M54.3 662.0h0M55.8 686.0h0M53.9 703.4h0M57.2 706.7h0M54.4 687.8h0M54.6 689.8h0M54.3 701.4h0M54.5 682.1h0M54.0 676.6h0M54.3 698.8h0M62.1 654.3h0M71.4 694.3h0M61.1 708.4h0M61.1 678.5h0M56.0 678.3h0M53.7 671.6h0M62.6 690.8h0M54.2 697.1h0M53.7 653.1h0M55.1 653.8h0M53.8 678.6h0M53.8 686.2h0M54.0 683.0h0M73.7 679.7h0M54.6 650.9h0M60.7 668.5h0M57.8 674.2h0M54.5 678.9h0M59.7 699.1h0M54.3 694.6h0M54.6 673.6h0M54.0 688.6h0M53.8 676.4h0M56.6 689.2h0M55.4 704.7h0M55.0 698.5h0M54.9 687.6h0M56.4 668.4h0M54.3 662.2h0M54.3 659.5h0M61.2 681.6h0M54.4 706.2h0M58.6 680.6h0M54.0 658.3h0M54.7 680.7h0M54.4 700.3h0M54.0 672.1h0M56.6 679.6h0M58.6 633.8h0M58.4 680.5h0M53.8 677.6h0M67.5 663.9h0M79.6 691.5h0M55.5 660.4h0M57.6 693.1h0M60.6 672.3h0M56.3 664.6h0M54.7 699.9h0M54.0 661.9h0M55.7 669.9h0M65.8 686.2h0M53.8 636.8h0M54.0 667.4h0M54.5 684.3h0M53.8 691.5h0M53.8 706.8h0M54.2 691.4h0M57.7 675.4h0M53.8 634.5h0M54.1 674.3h0M54.5 660.3h0M57.2 681.4h0M60.3 669.5h0M59.7 701.1h0M54.3 658.5h0M56.1 709.5h0M54.1 647.7h0M53.8 677.7h0M54.4 702.1h0M58.3 684.2h0M55.2 673.5h0M64.8 713.0h0M55.6 690.5h0M54.6 690.6h0M74.2 702.1h0M55.2 676.4h0M56.0 654.7h0M54.2 655.1h0M54.4 689.8h0M54.4 688.8h0M54.0 697.3h0M54.1 703.2h0M54.1 682.0h0M56.2 658.5h0M54.8 702.7h0M58.0 689.0h0M66.0 681.5h0M54.0 692.8h0M61.0 668.6h0M54.0 687.5h0M53.8 683.5h0M55.1 674.2h0M55.5 694.0h0M58.0 706.6h0M53.8 644.6h0M59.3 654.5h0M54.1 663.9h0M63.0 642.3h0M54.0 671.1h0M54.0 692.4h0M63.6 687.9h0M55.6 681.8h0M54.1 681.8h0M66.2 705.0h0M59.3 687.8h0M54.1 683.7h0M54.8 714.1h0M53.9 688.4h0M56.3 696.2h0M53.8 712.4h0M55.6 673.4h0M53.8 670.5h0M54.2 630.3h0M54.8 661.2h0M57.2 665.1h0M56.2 668.1h0M65.2 703.8h0M54.4 697.0h0M58.8 671.7h0M54.0 709.5h0M73.2 697.6h0M54.4 681.5h0M80.2 693.3h0M54.6 666.7h0M54.1 689.0h0M56.6 695.5h0M67.3 686.0h0M54.5 697.3h0M53.9 679.2h0M63.7 701.1h0M54.1 702.8h0M53.7 708.5h0M54.8 670.1h0M69.4 671.5h0M54.9 670.3h0M57.6 670.5h0M65.9 695.6h0M54.4 685.3h0M54.4 692.6h0M53.8 637.4h0M54.8 693.4h0M54.0 678.2h0M54.5 682.4h0M56.9 665.2h0M54.1 690.3h0M56.3 673.3h0M55.7 708.2h0M54.1 697.8h0M59.8 704.7h0M54.3 700.4h0M55.3 657.0h0M54.0 652.9h0M67.6 685.0h0M57.8 642.2h0M53.7 669.6h0M53.8 679.0h0M59.8 674.5h0M62.2 680.4h0M54.0 668.1h0M53.8 679.6h0M54.6 697.1h0M57.1 697.7h0M59.6 675.0h0M54.6 653.7h0M59.5 670.5h0M53.9 682.0h0M55.7 691.8h0M53.7 678.7h0M56.8 682.3h0M53.8 706.8h0M54.2 699.5h0M74.3 693.6h0M54.6 701.0h0M54.5 649.4h0M53.9 667.3h0M61.4 666.7h0M63.3 677.5h0M54.2 681.7h0M54.0 698.3h0M54.3 678.7h0M54.1 688.5h0M53.9 657.2h0M58.2 657.7h0M54.1 702.5h0M53.9 669.7h0M53.9 663.6h0M57.8 675.1h0M54.1 687.9h0M54.6 647.8h0M54.0 669.5h0M54.5 682.0h0M55.0 675.2h0M55.8 668.4h0M54.4 678.7h0M54.3 682.5h0M53.9 666.4h0M54.1 671.9h0M58.2 645.2h0M54.3 665.6h0M64.4 672.5h0M57.7 665.9h0M53.7 697.7h0M54.0 689.1h0M54.3 651.3h0M56.7 667.0h0M54.0 670.5h0M54.7 681.2h0M56.5 687.3h0M53.9 681.7h0M57.1 690.3h0M64.9 673.2h0M53.8 662.6h0M56.3 658.7h0M55.3 690.3h0M54.7 699.8h0M53.9 683.0h0M53.9 678.4h0M56.1 682.1h0M63.7 675.5h0M53.8 673.3h0M53.9 689.8h0M54.8 684.1h0M54.2 689.6h0M55.8 671.0h0M54.2 680.2h0M56.7 697.7h0M54.6 711.1h0M54.5 673.9h0M54.1 689.5h0M54.0 685.9h0M54.4 688.1h0M53.9 670.4h0M57.4 680.1h0M54.4 693.0h0M54.3 694.2h0M54.1 687.7h0M53.9 685.6h0M55.6 671.7h0M55.1 659.4h0M54.0 677.6h0M54.3 662.8h0M54.6 691.9h0M54.0 670.7h0M54.0 706.8h0M57.0 700.4h0M63.3 687.4h0M59.2 702.5h0M53.8 699.3h0M59.7 687.0h0M58.4 690.6h0M55.2 690.9h0M54.7 695.6h0M61.6 688.1h0M58.7 675.4h0M55.9 693.3h0M53.8 682.4h0M54.3 700.6h0M54.0 695.0h0M53.8 675.8h0M55.2 681.1h0M57.5 678.0h0M53.9 690.4h0M54.8 673.9h0M57.0 668.0h0M57.6 677.9h0M54.7 678.2h0M57.9 700.7h0M54.2 694.7h0M54.5 712.8h0M57.1 682.7h0M57.3 706.1h0M53.7 699.4h0M54.0 687.6h0M54.5 670.1h0M55.9 671.6h0M56.1 698.0h0M53.9 701.8h0M54.4 635.9h0M53.9 668.8h0M54.6 694.9h0M54.7 696.4h0M54.3 689.9h0M54.1 678.6h0M54.2 656.0h0M54.1 681.0h0M54.8 692.9h0M61.1 676.9h0M58.4 688.6h0M53.8 705.2h0M54.6 656.0h0M54.1 687.8h0M59.8 673.8h0M54.3 665.2h0M55.2 680.3h0M54.2 702.2h0M56.9 684.0h0M58.6 674.8h0M54.2 688.9h0M68.4 701.4h0M54.1 671.0h0M53.9 673.6h0M60.5 697.4h0M54.0 696.7h0M55.2 646.1h0M56.9 709.1h0M57.3 683.0h0M58.1 655.8h0M54.8 708.9h0M54.2 696.6h0M54.8 688.2h0M57.1 678.4h0M53.8 681.6h0M53.9 703.4h0M58.8 646.6h0M55.0 652.6h0M56.4 714.5h0M55.0 686.2h0M54.5 668.6h0M53.9 707.4h0M56.8 648.2h0M54.9 677.2h0M53.8 689.0h0M64.0 685.7h0M54.1 687.2h0M54.4 677.8h0M58.6 681.1h0M54.0 690.4h0M68.3 680.8h0M54.2 662.8h0M59.6 676.6h0M54.5 702.3h0M53.8 685.0h0M57.4 712.5h0M57.5 682.6h0M53.7 690.3h0M54.7 687.0h0M54.3 665.7h0M54.1 699.3h0M54.1 677.0h0M55.9 678.9h0M54.6 677.8h0M54.2 675.0h0M66.9 683.0h0M56.1 696.3h0M54.0 683.2h0M65.0 685.9h0M56.1 642.3h0M54.0 666.0h0M56.4 707.2h0M54.8 665.6h0M53.9 650.5h0M54.3 696.4h0M55.1 711.1h0M68.2 678.0h0M62.5 702.6h0M53.9 688.3h0M54.3 706.7h0M53.9 705.4h0M54.3 655.3h0M55.9 680.1h0M57.5 675.1h0M61.7 682.8h0M58.4 700.0h0M54.5 691.4h0M54.0 686.5h0M54.0 686.0h0M53.9 708.1h0M55.2 657.0h0M68.8 689.9h0M54.4 652.5h0M54.2 686.2h0M55.5 657.4h0M53.9 696.3h0M54.1 678.7h0M58.5 691.1h0M62.9 671.7h0M59.8 679.4h0M55.0 682.2h0M55.6 704.0h0M55.7 707.3h0M55.3 685.2h0M61.5 663.5h0M56.7 693.0h0M54.2 664.6h0M58.9 682.9h0M55.4 680.4h0M64.9 663.7h0M54.3 668.4h0M54.4 688.9h0M57.2 677.2h0M53.8 690.6h0M54.9 670.6h0M53.8 662.0h0M55.3 685.8h0M53.8 693.8h0M54.3 685.8h0M55.4 668.9h0M54.1 681.5h0M54.2 680.1h0M56.2 670.0h0M54.7 656.3h0M54.7 671.3h0M54.0 686.2h0M55.2 696.8h0M54.4 678.7h0M54.6 678.2h0M55.3 703.4h0M59.9 709.4h0M56.8 665.5h0M54.2 701.2h0M59.9 691.8h0M54.3 681.5h0M67.7 680.8h0M54.9 684.9h0M71.4 674.3h0M68.0 689.6h0M57.0 693.4h0M54.4 681.3h0M61.3 674.9h0M57.2 672.6h0M54.7 678.0h0M54.3 713.1h0M53.7 658.3h0M55.2 686.5h0M64.4 649.2h0M56.5 698.7h0M54.1 683.6h0M54.0 656.3h0M54.7 693.5h0M61.9 701.0h0M54.9 671.5h0M53.8 678.2h0M54.0 710.2h0M57.3 668.8h0M58.8 662.4h0M55.1 678.3h0M55.0 650.8h0M53.9 640.3h0M54.6 711.3h0M54.4 691.7h0M58.1 686.3h0M56.5 672.3h0M54.0 682.8h0M59.3 664.9h0M54.5 705.7h0M57.4 678.0h0M54.6 679.8h0M54.1 707.5h0M61.4 691.6h0M54.3 669.8h0M54.5 670.9h0M66.4 662.4h0M56.2 653.7h0M58.5 674.0h0M56.1 693.8h0" stroke="#404040" stroke-width="2.0" stroke-linecap="round" opacity="0.75"/>
<line x1="53.7" y1="682.3" x2="150.2" y2="682.8" stroke="#3a62c4" stroke-width="1"/>
<rect x="49.5" y="609.7" width="104.69999999999999" height="9.899999999999977" fill="#d9d9d9" stroke="#333" stroke-width="0.6"/>
<rect x="49.5" y="619.6" width="104.69999999999999" height="100.0" fill="none" stroke="#333" stroke-width="0.6"/>
<clipPath id="st1104"><rect x="50.0" y="609.7" width="103.69999999999999" height="9.899999999999977"/></clipPath>
<text x="101.85" y="616.8000000000001" font-size="5.8" fill="#222" text-anchor="middle" textLength="35.7" lengthAdjust="spacingAndGlyphs" clip-path="url(#st1104)">B cell_XCELL</text>
<text x="153.2" y="625.4" font-size="5.8" fill="#e02020" text-anchor="end">Rho = -0.054</text>
<text x="153.2" y="630.0" font-size="5.8" fill="#e02020" text-anchor="end">p = 2.82e-01</text>
<text x="106.85" y="735.8" font-size="7.6" fill="#333" text-anchor="middle" textLength="57" lengthAdjust="spacingAndGlyphs">Infiltration Level</text>
<rect x="166.4" y="619.2" width="105.1" height="100.0" fill="#fff" stroke="none" stroke-width="1"/>
<line x1="185.5" y1="619.2" x2="185.5" y2="719.2" stroke="#f0f0f0" stroke-width="0.5"/>
<line x1="213.9" y1="619.2" x2="213.9" y2="719.2" stroke="#f0f0f0" stroke-width="0.5"/>
<line x1="242.65" y1="619.2" x2="242.65" y2="719.2" stroke="#f0f0f0" stroke-width="0.5"/>
<line x1="271.0" y1="619.2" x2="271.0" y2="719.2" stroke="#f0f0f0" stroke-width="0.5"/>
<line x1="166.4" y1="704.2" x2="271.5" y2="704.2" stroke="#f0f0f0" stroke-width="0.5"/>
<line x1="166.4" y1="679.0" x2="271.5" y2="679.0" stroke="#f0f0f0" stroke-width="0.5"/>
<line x1="166.4" y1="653.9" x2="271.5" y2="653.9" stroke="#f0f0f0" stroke-width="0.5"/>
<line x1="166.4" y1="628.8" x2="271.5" y2="628.8" stroke="#f0f0f0" stroke-width="0.5"/>
<line x1="171.5" y1="619.2" x2="171.5" y2="719.2" stroke="#e4e4e4" stroke-width="0.6"/>
<line x1="171.5" y1="719.2" x2="171.5" y2="720.7" stroke="#333" stroke-width="0.5"/>
<text x="171.5" y="727.2" font-size="6.5" fill="#4d4d4d" text-anchor="middle">0.00</text>
<line x1="199.5" y1="619.2" x2="199.5" y2="719.2" stroke="#e4e4e4" stroke-width="0.6"/>
<line x1="199.5" y1="719.2" x2="199.5" y2="720.7" stroke="#333" stroke-width="0.5"/>
<text x="199.5" y="727.2" font-size="6.5" fill="#4d4d4d" text-anchor="middle">0.05</text>
<line x1="228.3" y1="619.2" x2="228.3" y2="719.2" stroke="#e4e4e4" stroke-width="0.6"/>
<line x1="228.3" y1="719.2" x2="228.3" y2="720.7" stroke="#333" stroke-width="0.5"/>
<text x="228.3" y="727.2" font-size="6.5" fill="#4d4d4d" text-anchor="middle">0.10</text>
<line x1="257" y1="619.2" x2="257" y2="719.2" stroke="#e4e4e4" stroke-width="0.6"/>
<line x1="257" y1="719.2" x2="257" y2="720.7" stroke="#333" stroke-width="0.5"/>
<text x="257" y="727.2" font-size="6.5" fill="#4d4d4d" text-anchor="middle">0.15</text>
<line x1="166.4" y1="716.8" x2="271.5" y2="716.8" stroke="#e4e4e4" stroke-width="0.6"/>
<line x1="164.9" y1="716.8" x2="166.4" y2="716.8" stroke="#333" stroke-width="0.5"/>
<text x="163.4" y="719.0" font-size="6.5" fill="#4d4d4d" text-anchor="end">0</text>
<line x1="166.4" y1="691.6" x2="271.5" y2="691.6" stroke="#e4e4e4" stroke-width="0.6"/>
<line x1="164.9" y1="691.6" x2="166.4" y2="691.6" stroke="#333" stroke-width="0.5"/>
<text x="163.4" y="693.8000000000001" font-size="6.5" fill="#4d4d4d" text-anchor="end">3</text>
<line x1="166.4" y1="666.4" x2="271.5" y2="666.4" stroke="#e4e4e4" stroke-width="0.6"/>
<line x1="164.9" y1="666.4" x2="166.4" y2="666.4" stroke="#333" stroke-width="0.5"/>
<text x="163.4" y="668.6" font-size="6.5" fill="#4d4d4d" text-anchor="end">6</text>
<line x1="166.4" y1="641.4" x2="271.5" y2="641.4" stroke="#e4e4e4" stroke-width="0.6"/>
<line x1="164.9" y1="641.4" x2="166.4" y2="641.4" stroke="#333" stroke-width="0.5"/>
<text x="163.4" y="643.6" font-size="6.5" fill="#4d4d4d" text-anchor="end">9</text>
<polygon points="171.5,679.0 210.0,682.0 266.8,675.3 266.8,704.5 210.0,688.0 171.5,683.0" fill="#c8c8c8" stroke="none" stroke-width="1" opacity="0.9"/>
<path d="M182.3 654.7h0M185.9 701.9h0M171.7 685.5h0M183.8 677.8h0M171.6 683.6h0M185.5 710.2h0M173.1 667.2h0M173.6 685.4h0M171.7 654.7h0M171.9 689.4h0M171.9 682.1h0M171.7 681.2h0M172.1 686.2h0M178.6 677.6h0M171.8 682.2h0M171.7 707.9h0M200.3 685.6h0M171.9 707.7h0M171.7 684.9h0M171.5 711.2h0M204.2 694.7h0M208.2 705.5h0M171.7 694.9h0M171.7 674.1h0M182.9 691.7h0M172.0 668.2h0M171.9 671.3h0M173.8 680.4h0M172.8 687.1h0M214.3 702.0h0M172.8 689.9h0M172.1 666.5h0M189.0 685.5h0M171.5 687.1h0M178.9 662.8h0M186.6 680.1h0M195.4 685.4h0M171.5 688.4h0M201.4 667.4h0M171.5 693.8h0M173.3 655.2h0M185.1 671.1h0M171.6 665.5h0M172.4 690.4h0M172.0 649.7h0M204.7 693.9h0M171.8 675.3h0M172.3 697.7h0M199.7 689.6h0M172.3 656.2h0M172.4 695.6h0M181.8 678.5h0M175.8 682.2h0M191.6 673.9h0M172.0 655.1h0M172.3 685.2h0M171.6 645.6h0M182.2 657.1h0M171.5 678.5h0M171.9 672.1h0M172.3 651.4h0M175.7 694.9h0M180.2 694.8h0M194.2 682.4h0M171.7 695.4h0M177.8 701.9h0M194.1 680.8h0M172.4 667.3h0M177.3 689.6h0M172.0 677.9h0M174.8 658.5h0M171.9 648.6h0M176.5 703.0h0M171.8 649.4h0M172.5 670.2h0M171.9 665.0h0M188.3 707.0h0M171.7 664.9h0M171.8 631.5h0M180.2 659.3h0M177.7 662.4h0M184.3 680.4h0M177.1 672.7h0M171.7 712.0h0M184.6 678.3h0M172.6 691.4h0M171.8 708.4h0M187.5 697.6h0M172.3 687.5h0M171.5 662.5h0M172.0 699.6h0M171.6 692.3h0M172.5 680.0h0M171.8 696.0h0M171.6 630.0h0M171.7 663.8h0M172.2 654.6h0M172.5 631.7h0M228.4 696.0h0M172.0 690.0h0M171.6 714.5h0M171.5 697.6h0M173.2 648.4h0M203.7 692.4h0M171.8 665.1h0M181.5 680.8h0M172.1 652.8h0M171.8 636.6h0M171.7 697.4h0M178.6 670.5h0M172.0 685.3h0M178.9 649.8h0M172.3 678.0h0M183.6 660.8h0M171.9 651.6h0M171.9 667.2h0M193.2 630.9h0M172.2 691.9h0M172.2 662.7h0M172.0 705.6h0M172.7 676.5h0M187.7 684.0h0M192.3 680.5h0M171.7 674.0h0M171.5 670.0h0M180.1 693.4h0M182.7 669.2h0M176.3 695.8h0M172.1 696.7h0M171.9 666.7h0M175.2 711.6h0M189.3 703.9h0M171.8 683.7h0M221.9 661.9h0M186.6 686.3h0M172.1 661.4h0M172.8 678.5h0M182.0 674.6h0M171.6 690.1h0M172.2 684.8h0M171.7 679.6h0M171.7 677.3h0M171.6 687.9h0M172.4 679.0h0M172.8 696.3h0M194.0 670.5h0M172.1 686.2h0M173.4 658.6h0M171.7 671.0h0M171.5 639.9h0M171.6 679.9h0M172.4 688.8h0M171.9 664.0h0M171.6 681.6h0M182.3 662.3h0M171.7 712.6h0M171.7 702.8h0M183.7 681.6h0M172.1 692.3h0M173.5 680.0h0M172.0 656.7h0M172.0 672.6h0M171.9 681.3h0M171.8 661.3h0M175.7 699.3h0M172.1 675.6h0M171.8 655.9h0M175.8 700.8h0M171.8 687.9h0M171.8 656.7h0M172.1 675.9h0M172.2 680.0h0M171.8 701.8h0M172.4 681.1h0M216.5 673.3h0M172.8 685.2h0M171.8 681.6h0M171.6 651.7h0M175.1 678.3h0M172.6 669.7h0M178.6 685.9h0M184.3 687.3h0M171.9 712.8h0M171.8 681.7h0M171.9 705.1h0M171.5 668.8h0M171.7 698.3h0M171.8 671.1h0M171.8 664.9h0M171.6 699.2h0M206.9 695.7h0M171.7 676.7h0M172.3 670.7h0M172.4 695.1h0M172.5 688.0h0M172.2 685.2h0M171.9 696.9h0M172.7 686.2h0M172.2 694.7h0M172.1 666.0h0M176.5 695.2h0M172.2 662.1h0M182.9 628.8h0M189.2 714.3h0M180.4 691.0h0M184.4 686.5h0M175.0 665.1h0M171.7 691.1h0M172.2 670.8h0M171.8 659.4h0M172.7 685.4h0M193.0 675.6h0M172.1 666.7h0M195.6 701.1h0M171.5 661.8h0M182.4 667.5h0M173.2 674.4h0M171.6 710.5h0M184.4 661.9h0M172.6 644.4h0M171.8 691.2h0M172.0 642.5h0M171.8 683.4h0M172.2 685.3h0M184.7 713.5h0M171.6 663.6h0M171.7 680.1h0M204.3 674.6h0M229.5 687.8h0M173.2 693.8h0M171.5 673.9h0M171.5 680.9h0M172.0 700.4h0M172.3 679.2h0M171.6 665.5h0M172.1 697.4h0M179.1 676.6h0M172.2 683.9h0M209.6 682.4h0M171.9 712.4h0M171.9 674.5h0M172.0 688.8h0M171.7 660.4h0M171.6 659.0h0M200.0 702.0h0M172.2 675.4h0M171.5 671.3h0M180.3 638.6h0M171.6 672.3h0M171.6 686.3h0M172.3 664.1h0M172.5 668.2h0M171.9 655.2h0M184.8 629.6h0M171.6 685.6h0M179.6 698.1h0M197.3 678.6h0M171.9 673.6h0M184.1 683.1h0M172.6 683.2h0M171.7 660.7h0M171.8 690.4h0M172.1 678.8h0M172.5 688.6h0M172.4 653.2h0M171.7 658.8h0M171.9 689.2h0M171.6 680.7h0M172.1 637.3h0M172.1 668.4h0M172.4 671.2h0M176.9 663.4h0M172.6 682.3h0M203.0 686.0h0M171.6 680.1h0M171.7 673.4h0M199.3 707.0h0M172.2 672.9h0M193.9 692.6h0M172.1 676.1h0M171.9 669.5h0M229.2 666.4h0M172.2 701.8h0M172.7 698.3h0M171.9 701.7h0M171.9 659.6h0M199.8 668.7h0M172.4 681.2h0M171.9 686.6h0M211.1 702.4h0M171.5 659.3h0M173.9 690.8h0M172.0 710.3h0M172.2 681.3h0M171.7 662.8h0M172.0 667.5h0M172.8 698.0h0M172.0 664.3h0M175.6 688.2h0M173.2 708.3h0M186.5 661.8h0M171.9 674.2h0M173.9 682.6h0M172.0 680.7h0M171.9 695.4h0M171.7 702.6h0M171.6 660.1h0M174.4 636.1h0M171.8 689.8h0M171.9 637.4h0M209.8 690.5h0M171.7 710.7h0M172.3 681.6h0M171.8 692.2h0M172.4 660.9h0M184.1 655.1h0M180.5 699.7h0M172.1 672.4h0M191.9 699.8h0M171.9 669.2h0M172.4 659.2h0M172.3 658.5h0M171.8 687.8h0M177.7 676.7h0M172.2 680.9h0M172.4 699.7h0M171.8 682.4h0M171.6 697.4h0M182.0 683.3h0M212.2 694.6h0M173.5 652.2h0M172.4 674.9h0M179.3 687.6h0M172.5 686.5h0M215.5 677.1h0M174.5 705.1h0M182.4 663.9h0M179.2 711.9h0M171.7 683.5h0M172.1 697.7h0M190.6 651.4h0M179.2 692.8h0M171.8 694.0h0M171.7 639.6h0M172.6 664.5h0M179.1 699.6h0M171.5 670.8h0M171.7 665.0h0M172.3 709.3h0M172.0 714.0h0M183.9 652.2h0M177.8 658.0h0M189.9 674.2h0M171.7 660.5h0M172.3 637.9h0M171.6 685.2h0M215.3 679.0h0M171.6 708.5h0M174.8 693.4h0M188.8 708.2h0M171.6 681.7h0M171.6 675.2h0M172.7 707.9h0M174.4 668.2h0M172.2 674.7h0M173.5 674.9h0M172.5 693.6h0M172.0 686.8h0M183.5 699.2h0M217.6 702.7h0M171.7 674.2h0M171.8 696.1h0M172.1 690.3h0M172.1 686.8h0M171.8 676.7h0M180.4 707.5h0M174.3 702.4h0M171.6 655.0h0M171.8 677.5h0M183.3 688.8h0M172.0 683.3h0M172.0 662.0h0M172.1 691.5h0M172.3 671.3h0M172.2 664.1h0M172.6 672.2h0M206.5 706.7h0M173.2 687.9h0M172.3 669.4h0M171.5 680.5h0M171.8 682.7h0M171.7 652.9h0M171.8 687.3h0M188.8 697.0h0M171.9 680.3h0M171.8 663.7h0M178.5 666.4h0M172.3 681.2h0M171.9 667.9h0M171.7 695.8h0M172.4 696.3h0M171.6 656.3h0M175.6 659.0h0M177.9 678.8h0M182.0 676.8h0M172.3 686.6h0M186.4 663.2h0M188.4 684.1h0M171.9 695.5h0M171.9 682.3h0M173.9 651.6h0M171.9 665.7h0M172.7 692.3h0M172.4 694.3h0M172.6 706.2h0M171.7 669.9h0M171.9 650.7h0M171.9 702.7h0M207.2 701.8h0M172.9 705.9h0M171.6 708.4h0M180.6 687.3h0M172.9 648.9h0M172.8 699.5h0M191.5 661.8h0M172.5 669.4h0M176.6 710.4h0M172.1 686.8h0M171.6 696.3h0M172.5 664.1h0M188.3 695.3h0M172.7 683.4h0M171.9 705.5h0M171.7 695.6h0M172.3 698.7h0M195.3 697.2h0M194.9 659.4h0M205.2 673.9h0M176.6 699.8h0M172.3 692.0h0M172.0 665.5h0M176.3 712.1h0M172.1 657.8h0M171.8 677.8h0M172.0 679.2h0M172.5 636.6h0M172.4 698.5h0M172.0 659.1h0M182.1 685.9h0M171.9 672.8h0M171.8 647.3h0M172.3 668.9h0M202.2 680.4h0M172.1 683.3h0M179.9 671.9h0M175.8 659.1h0M177.1 648.1h0M172.2 674.3h0M171.5 669.1h0M191.9 697.5h0M222.7 703.4h0M176.3 646.6h0M171.7 669.3h0M191.1 697.8h0M171.6 683.4h0M183.8 700.4h0M171.7 683.3h0M172.1 677.9h0M172.7 698.6h0M171.6 662.3h0M173.0 695.6h0M171.7 688.4h0M173.1 658.9h0M181.0 701.9h0M199.0 658.2h0M172.3 692.6h0M182.1 684.2h0M172.1 685.2h0M182.2 699.7h0M172.1 653.3h0M171.5 704.9h0M171.7 690.2h0M171.6 669.5h0M171.9 669.8h0M172.3 692.0h0M176.8 699.6h0M172.0 681.8h0M172.1 675.3h0M172.7 659.4h0M171.7 686.9h0M171.5 652.9h0M171.7 673.2h0M171.8 695.0h0M172.1 698.3h0M171.7 662.6h0M172.4 651.1h0M171.8 695.9h0M171.5 659.2h0M171.7 660.7h0M196.5 691.4h0" stroke="#404040" stroke-width="2.0" stroke-linecap="round" opacity="0.75"/>
<line x1="171.5" y1="681.1" x2="266.8" y2="690" stroke="#3a62c4" stroke-width="1"/>
<rect x="166.4" y="609.2" width="105.1" height="10.0" fill="#d9d9d9" stroke="#333" stroke-width="0.6"/>
<rect x="166.4" y="619.2" width="105.1" height="100.0" fill="none" stroke="#333" stroke-width="0.6"/>
<clipPath id="st2273"><rect x="166.9" y="609.2" width="104.1" height="10.0"/></clipPath>
<text x="218.95" y="616.4000000000001" font-size="5.8" fill="#222" text-anchor="middle" textLength="69.6" lengthAdjust="spacingAndGlyphs" clip-path="url(#st2273)">T cell CD4+ naive_XCELL</text>
<text x="270.5" y="625.0" font-size="5.8" fill="#e02020" text-anchor="end">Rho = -0.121</text>
<text x="270.5" y="629.6" font-size="5.8" fill="#e02020" text-anchor="end">p = 1.55e-02</text>
<text x="223.95" y="735.8" font-size="7.6" fill="#333" text-anchor="middle" textLength="57" lengthAdjust="spacingAndGlyphs">Infiltration Level</text>
<rect x="286.8" y="619.2" width="104.69999999999999" height="100.0" fill="#fff" stroke="none" stroke-width="1"/>
<line x1="305.6" y1="619.2" x2="305.6" y2="719.2" stroke="#f0f0f0" stroke-width="0.5"/>
<line x1="333.55" y1="619.2" x2="333.55" y2="719.2" stroke="#f0f0f0" stroke-width="0.5"/>
<line x1="361.6" y1="619.2" x2="361.6" y2="719.2" stroke="#f0f0f0" stroke-width="0.5"/>
<line x1="389.5" y1="619.2" x2="389.5" y2="719.2" stroke="#f0f0f0" stroke-width="0.5"/>
<line x1="286.8" y1="704.2" x2="391.5" y2="704.2" stroke="#f0f0f0" stroke-width="0.5"/>
<line x1="286.8" y1="679.0" x2="391.5" y2="679.0" stroke="#f0f0f0" stroke-width="0.5"/>
<line x1="286.8" y1="653.9" x2="391.5" y2="653.9" stroke="#f0f0f0" stroke-width="0.5"/>
<line x1="286.8" y1="628.8" x2="391.5" y2="628.8" stroke="#f0f0f0" stroke-width="0.5"/>
<line x1="291.7" y1="619.2" x2="291.7" y2="719.2" stroke="#e4e4e4" stroke-width="0.6"/>
<line x1="291.7" y1="719.2" x2="291.7" y2="720.7" stroke="#333" stroke-width="0.5"/>
<text x="291.7" y="727.2" font-size="6.5" fill="#4d4d4d" text-anchor="middle">0.0</text>
<line x1="319.5" y1="619.2" x2="319.5" y2="719.2" stroke="#e4e4e4" stroke-width="0.6"/>
<line x1="319.5" y1="719.2" x2="319.5" y2="720.7" stroke="#333" stroke-width="0.5"/>
<text x="319.5" y="727.2" font-size="6.5" fill="#4d4d4d" text-anchor="middle">0.2</text>
<line x1="347.6" y1="619.2" x2="347.6" y2="719.2" stroke="#e4e4e4" stroke-width="0.6"/>
<line x1="347.6" y1="719.2" x2="347.6" y2="720.7" stroke="#333" stroke-width="0.5"/>
<text x="347.6" y="727.2" font-size="6.5" fill="#4d4d4d" text-anchor="middle">0.4</text>
<line x1="375.6" y1="619.2" x2="375.6" y2="719.2" stroke="#e4e4e4" stroke-width="0.6"/>
<line x1="375.6" y1="719.2" x2="375.6" y2="720.7" stroke="#333" stroke-width="0.5"/>
<text x="375.6" y="727.2" font-size="6.5" fill="#4d4d4d" text-anchor="middle">0.6</text>
<line x1="286.8" y1="716.8" x2="391.5" y2="716.8" stroke="#e4e4e4" stroke-width="0.6"/>
<line x1="285.3" y1="716.8" x2="286.8" y2="716.8" stroke="#333" stroke-width="0.5"/>
<text x="283.8" y="719.0" font-size="6.5" fill="#4d4d4d" text-anchor="end">0</text>
<line x1="286.8" y1="691.6" x2="391.5" y2="691.6" stroke="#e4e4e4" stroke-width="0.6"/>
<line x1="285.3" y1="691.6" x2="286.8" y2="691.6" stroke="#333" stroke-width="0.5"/>
<text x="283.8" y="693.8000000000001" font-size="6.5" fill="#4d4d4d" text-anchor="end">3</text>
<line x1="286.8" y1="666.4" x2="391.5" y2="666.4" stroke="#e4e4e4" stroke-width="0.6"/>
<line x1="285.3" y1="666.4" x2="286.8" y2="666.4" stroke="#333" stroke-width="0.5"/>
<text x="283.8" y="668.6" font-size="6.5" fill="#4d4d4d" text-anchor="end">6</text>
<line x1="286.8" y1="641.4" x2="391.5" y2="641.4" stroke="#e4e4e4" stroke-width="0.6"/>
<line x1="285.3" y1="641.4" x2="286.8" y2="641.4" stroke="#333" stroke-width="0.5"/>
<text x="283.8" y="643.6" font-size="6.5" fill="#4d4d4d" text-anchor="end">9</text>
<polygon points="291.7,676.5 340.0,680.5 386.8,680.0 386.8,690.0 340.0,684.0 291.7,681.0" fill="#c8c8c8" stroke="none" stroke-width="1" opacity="0.9"/>
<path d="M346.7 655.4h0M326.9 704.6h0M321.3 700.9h0M331.4 668.2h0M299.3 713.4h0M306.6 672.0h0M346.1 705.8h0M356.0 692.9h0M309.2 699.2h0M308.8 674.8h0M367.0 691.0h0M360.8 695.0h0M350.7 685.3h0M331.8 662.7h0M337.5 674.7h0M308.7 674.2h0M302.4 695.5h0M363.0 709.1h0M364.9 683.5h0M332.5 709.7h0M328.0 659.6h0M306.9 694.1h0M319.2 704.3h0M323.9 638.6h0M325.0 672.7h0M343.1 678.9h0M301.8 675.9h0M312.8 689.3h0M352.4 660.1h0M344.3 709.5h0M312.6 681.9h0M344.7 677.3h0M330.0 700.4h0M301.9 699.5h0M328.5 693.3h0M310.4 662.8h0M384.5 675.8h0M353.3 681.9h0M321.8 705.6h0M343.8 684.4h0M323.6 642.5h0M362.9 688.6h0M294.2 683.9h0M369.6 702.0h0M324.7 667.5h0M340.4 696.7h0M350.2 683.7h0M356.9 641.2h0M324.1 698.0h0M308.9 700.6h0M308.4 631.6h0M344.6 713.3h0M329.2 687.9h0M331.1 696.7h0M328.0 695.1h0M373.2 669.2h0M306.2 662.3h0M315.0 679.9h0M370.8 707.6h0M356.5 692.2h0M332.4 664.6h0M297.9 695.0h0M301.6 670.0h0M352.6 693.2h0M310.5 693.9h0M344.3 682.6h0M343.7 701.4h0M356.0 704.9h0M321.9 689.9h0M318.2 661.2h0M318.1 681.3h0M305.9 669.8h0M322.9 707.2h0M319.4 699.5h0M315.8 688.3h0M335.1 667.2h0M351.6 666.2h0M319.5 705.5h0M305.0 697.0h0M357.1 700.5h0M316.4 691.2h0M346.2 689.0h0M304.5 685.4h0M344.9 703.9h0M304.8 679.3h0M343.2 678.8h0M307.9 678.6h0M332.0 685.6h0M318.8 686.0h0M299.8 678.0h0M377.5 697.4h0M337.1 691.7h0M295.0 674.7h0M326.2 700.8h0M336.5 699.7h0M331.2 675.5h0M344.5 686.1h0M315.2 665.2h0M371.7 685.8h0M323.7 676.1h0M331.5 678.7h0M325.8 693.5h0M342.3 674.3h0M336.0 709.5h0M355.1 657.2h0M318.8 694.7h0M324.4 688.5h0M362.6 703.6h0M342.7 662.8h0M323.1 692.1h0M328.3 690.7h0M364.6 706.2h0M295.9 707.8h0M310.5 697.6h0M310.8 667.8h0M336.6 712.6h0M323.5 641.1h0M337.7 668.9h0M324.4 700.5h0M324.9 708.5h0M359.1 666.1h0M323.8 691.9h0M337.6 689.8h0M384.0 695.8h0M312.1 678.2h0M351.4 672.4h0M319.6 681.3h0M331.7 699.2h0M304.8 692.1h0M333.4 685.8h0M317.0 683.5h0M335.8 701.2h0M304.8 683.0h0M344.1 655.3h0M357.0 699.9h0M370.9 714.3h0M350.5 701.0h0M323.7 671.4h0M299.7 704.3h0M311.9 664.5h0M333.0 701.0h0M339.3 701.4h0M328.4 696.6h0M350.9 691.9h0M323.6 694.0h0M357.0 687.5h0M325.4 682.3h0M325.9 704.6h0M375.0 699.8h0M330.5 681.0h0M334.6 669.1h0M292.3 652.1h0M330.3 692.3h0M343.2 696.6h0M331.5 697.5h0M379.4 704.4h0M314.3 667.2h0M363.8 693.0h0M320.8 683.8h0M309.4 668.2h0M365.2 674.2h0M360.9 711.4h0M336.0 650.2h0M325.2 685.0h0M328.5 708.2h0M306.8 686.2h0M292.4 674.6h0M331.0 703.7h0M316.1 658.9h0M311.2 680.2h0M319.8 671.5h0M346.2 688.0h0M356.4 677.3h0M353.3 693.9h0M368.1 654.6h0M355.4 692.5h0M318.6 710.3h0M303.4 686.3h0M336.4 693.9h0M368.0 696.5h0M331.8 683.2h0M299.7 633.1h0M324.4 664.4h0M322.9 700.0h0M334.8 673.0h0M353.0 691.3h0M377.5 678.6h0M339.9 664.6h0M330.4 690.1h0M314.2 695.3h0M292.1 661.6h0M315.3 670.8h0M328.9 669.8h0M301.1 632.4h0M358.9 672.6h0M335.2 700.3h0M324.0 696.3h0M333.6 695.8h0M319.8 681.2h0M364.4 711.2h0M325.7 669.9h0M332.8 670.8h0M323.1 681.8h0M351.5 681.6h0M367.3 678.5h0M292.3 687.9h0M317.9 679.4h0M297.9 709.7h0M325.9 678.5h0M349.8 685.6h0M349.5 702.9h0M309.2 690.0h0M342.5 695.8h0M356.7 669.6h0M329.4 668.7h0M360.6 708.7h0M323.2 689.4h0M350.1 688.0h0M310.6 707.0h0M366.3 698.6h0M325.2 685.5h0M368.9 678.0h0M317.0 688.6h0M342.3 688.4h0M313.3 685.6h0M333.4 698.3h0M315.3 686.2h0M322.3 681.3h0M352.0 680.0h0M352.2 683.2h0M309.9 708.7h0M339.7 705.0h0M353.7 690.7h0M356.3 686.0h0M346.9 658.1h0M324.5 705.7h0M365.0 686.4h0M309.2 670.3h0M312.4 697.2h0M313.2 682.4h0M320.5 658.8h0M341.7 691.0h0M348.6 706.7h0M358.2 676.7h0M303.9 697.1h0M312.5 688.4h0M292.5 666.6h0M339.7 687.6h0M327.7 702.1h0M360.3 682.9h0M326.1 706.7h0M344.2 704.9h0M324.3 678.9h0M328.2 704.8h0M333.6 641.5h0M320.8 692.2h0M378.8 676.4h0M330.8 684.2h0M372.5 698.4h0M336.2 706.4h0M312.1 661.5h0M320.5 674.9h0M354.7 670.8h0M334.7 706.4h0M306.8 705.6h0M346.1 641.4h0M309.7 706.0h0M331.4 692.4h0M333.5 704.3h0M343.0 656.4h0M345.6 673.1h0M367.1 688.1h0M325.9 678.9h0M330.7 689.0h0M357.9 664.5h0M334.4 666.8h0M357.9 709.6h0M321.9 678.2h0M332.6 672.6h0M345.9 679.0h0M340.2 690.5h0M328.5 672.4h0M354.5 689.7h0M312.9 681.8h0M311.0 684.6h0M312.0 664.2h0M308.2 665.7h0M308.7 697.9h0M300.8 674.2h0M360.0 697.4h0M316.4 704.3h0M317.8 684.9h0M352.1 703.0h0M331.7 707.9h0M301.2 702.2h0M350.4 676.3h0M313.9 678.5h0M352.3 669.0h0M331.0 662.7h0M321.1 684.4h0M307.7 652.1h0M308.5 682.2h0M338.9 682.8h0M365.1 703.7h0M352.6 714.4h0M314.6 701.3h0M305.7 672.0h0M325.7 679.5h0M320.7 702.1h0M334.8 646.5h0M313.5 670.9h0M330.9 678.4h0M371.1 696.7h0M354.0 699.1h0M324.4 646.0h0M291.9 659.1h0M310.1 679.6h0M336.5 684.8h0M345.3 697.2h0M323.7 697.3h0M320.1 684.1h0M379.8 681.4h0M341.0 675.5h0M350.8 699.0h0M320.6 691.9h0M322.2 701.6h0M309.6 701.4h0M319.9 658.8h0M352.1 664.3h0M366.2 658.3h0M312.6 645.7h0M322.9 661.6h0M316.7 676.8h0M309.3 686.0h0M367.9 679.7h0M378.0 690.1h0M311.0 671.1h0M323.8 700.3h0M326.6 705.2h0M307.8 696.7h0M341.6 694.6h0M336.8 663.7h0M304.8 690.1h0M349.3 666.7h0M367.4 681.2h0M317.4 674.6h0M342.8 688.4h0M310.7 691.7h0M296.1 673.8h0M381.7 694.7h0M332.7 701.3h0M333.3 682.3h0M301.5 680.4h0M337.9 677.7h0M360.5 708.4h0M320.0 673.5h0M363.5 683.2h0M345.5 705.5h0M324.2 689.7h0M323.8 703.7h0M339.3 685.4h0M330.2 685.6h0M341.8 663.8h0M320.6 701.0h0M319.7 673.2h0M377.1 687.0h0M314.4 688.1h0M359.8 665.4h0M339.6 681.9h0M370.7 677.1h0M301.1 680.7h0M342.1 664.4h0M331.5 695.0h0M337.7 674.6h0M306.9 678.0h0M338.2 711.1h0M327.6 681.3h0M306.4 698.9h0M326.6 665.6h0M338.3 683.0h0M294.4 689.2h0M342.1 671.8h0M315.5 681.1h0M322.7 662.2h0M305.7 691.5h0M377.2 701.4h0M326.1 663.3h0M359.7 711.7h0M305.0 679.3h0M370.0 667.4h0M356.9 672.3h0M339.8 657.4h0M321.2 697.3h0M341.8 683.2h0M343.4 681.7h0M328.7 706.5h0M353.6 704.1h0M318.3 686.2h0M316.9 663.9h0M309.6 678.7h0M318.3 680.4h0M341.8 673.7h0M299.5 683.8h0M320.8 653.2h0M327.0 691.2h0M322.0 702.6h0M313.8 683.2h0M293.1 698.5h0M330.1 687.4h0M342.5 653.4h0M306.8 679.4h0M335.7 682.7h0M311.0 688.2h0M379.1 667.4h0M307.5 665.1h0M325.3 693.5h0M316.8 687.1h0M344.1 705.2h0M306.8 699.3h0M364.2 694.4h0M318.3 690.6h0M334.6 670.3h0M320.0 675.3h0M334.7 671.7h0M343.9 684.8h0M371.3 679.6h0M344.4 687.8h0M356.8 691.4h0M311.6 700.9h0M378.3 667.3h0M292.1 643.4h0M334.2 682.9h0M339.3 684.7h0M330.7 687.5h0M309.2 653.5h0M315.7 687.5h0M313.8 667.2h0M321.5 662.6h0M348.9 698.1h0M377.6 673.9h0M368.1 667.7h0M364.6 678.4h0M311.9 694.4h0M337.3 686.7h0M332.7 668.1h0M345.3 682.8h0M320.0 685.9h0M328.6 671.6h0M316.5 655.8h0M338.9 698.0h0M324.4 698.5h0M334.8 678.8h0M319.9 672.5h0M342.3 699.5h0M334.5 703.4h0M372.7 687.2h0M320.0 674.1h0M339.5 655.5h0M321.5 670.8h0M328.2 674.9h0M352.2 653.9h0M351.5 691.9h0M303.0 686.6h0M330.8 691.9h0M322.5 696.8h0M336.6 662.8h0M324.5 686.8h0M314.8 699.6h0M353.3 665.2h0M313.4 687.0h0M330.5 698.0h0M316.6 688.4h0M345.5 661.4h0M377.1 656.8h0M335.8 668.8h0M327.3 681.2h0M347.4 703.5h0M346.4 705.8h0M328.9 712.2h0M313.6 695.3h0" stroke="#404040" stroke-width="2.0" stroke-linecap="round" opacity="0.75"/>
<line x1="291.7" y1="678.8" x2="386.8" y2="685.3" stroke="#3a62c4" stroke-width="1"/>
<rect x="286.8" y="609.2" width="104.69999999999999" height="10.0" fill="#d9d9d9" stroke="#333" stroke-width="0.6"/>
<rect x="286.8" y="619.2" width="104.69999999999999" height="100.0" fill="none" stroke="#333" stroke-width="0.6"/>
<clipPath id="st3477"><rect x="287.3" y="609.2" width="103.69999999999999" height="10.0"/></clipPath>
<text x="339.15" y="616.4000000000001" font-size="5.8" fill="#222" text-anchor="middle" textLength="110" lengthAdjust="spacingAndGlyphs" clip-path="url(#st3477)">Myeloid dendritic cell activated_XCELL</text>
<text x="390.5" y="625.0" font-size="5.8" fill="#e02020" text-anchor="end">Rho = -0.109</text>
<text x="390.5" y="629.6" font-size="5.8" fill="#e02020" text-anchor="end">p = 2.89e-02</text>
<text x="344.15" y="735.8" font-size="7.6" fill="#333" text-anchor="middle" textLength="57" lengthAdjust="spacingAndGlyphs">Infiltration Level</text>
<rect x="405.9" y="619.2" width="104.90000000000003" height="100.0" fill="#fff" stroke="none" stroke-width="1"/>
<line x1="419.8" y1="619.2" x2="419.8" y2="719.2" stroke="#f0f0f0" stroke-width="0.5"/>
<line x1="438.35" y1="619.2" x2="438.35" y2="719.2" stroke="#f0f0f0" stroke-width="0.5"/>
<line x1="457.15" y1="619.2" x2="457.15" y2="719.2" stroke="#f0f0f0" stroke-width="0.5"/>
<line x1="476.20000000000005" y1="619.2" x2="476.20000000000005" y2="719.2" stroke="#f0f0f0" stroke-width="0.5"/>
<line x1="495.5" y1="619.2" x2="495.5" y2="719.2" stroke="#f0f0f0" stroke-width="0.5"/>
<line x1="405.9" y1="704.2" x2="510.8" y2="704.2" stroke="#f0f0f0" stroke-width="0.5"/>
<line x1="405.9" y1="679.0" x2="510.8" y2="679.0" stroke="#f0f0f0" stroke-width="0.5"/>
<line x1="405.9" y1="653.9" x2="510.8" y2="653.9" stroke="#f0f0f0" stroke-width="0.5"/>
<line x1="405.9" y1="628.8" x2="510.8" y2="628.8" stroke="#f0f0f0" stroke-width="0.5"/>
<line x1="410.6" y1="619.2" x2="410.6" y2="719.2" stroke="#e4e4e4" stroke-width="0.6"/>
<line x1="410.6" y1="719.2" x2="410.6" y2="720.7" stroke="#333" stroke-width="0.5"/>
<text x="410.6" y="727.2" font-size="6.5" fill="#4d4d4d" text-anchor="middle">0.00</text>
<line x1="429" y1="619.2" x2="429" y2="719.2" stroke="#e4e4e4" stroke-width="0.6"/>
<line x1="429" y1="719.2" x2="429" y2="720.7" stroke="#333" stroke-width="0.5"/>
<text x="429" y="727.2" font-size="6.5" fill="#4d4d4d" text-anchor="middle">0.05</text>
<line x1="447.7" y1="619.2" x2="447.7" y2="719.2" stroke="#e4e4e4" stroke-width="0.6"/>
<line x1="447.7" y1="719.2" x2="447.7" y2="720.7" stroke="#333" stroke-width="0.5"/>
<text x="447.7" y="727.2" font-size="6.5" fill="#4d4d4d" text-anchor="middle">0.10</text>
<line x1="466.6" y1="619.2" x2="466.6" y2="719.2" stroke="#e4e4e4" stroke-width="0.6"/>
<line x1="466.6" y1="719.2" x2="466.6" y2="720.7" stroke="#333" stroke-width="0.5"/>
<text x="466.6" y="727.2" font-size="6.5" fill="#4d4d4d" text-anchor="middle">0.15</text>
<line x1="485.8" y1="619.2" x2="485.8" y2="719.2" stroke="#e4e4e4" stroke-width="0.6"/>
<line x1="485.8" y1="719.2" x2="485.8" y2="720.7" stroke="#333" stroke-width="0.5"/>
<text x="485.8" y="727.2" font-size="6.5" fill="#4d4d4d" text-anchor="middle">0.20</text>
<line x1="505.2" y1="619.2" x2="505.2" y2="719.2" stroke="#e4e4e4" stroke-width="0.6"/>
<line x1="505.2" y1="719.2" x2="505.2" y2="720.7" stroke="#333" stroke-width="0.5"/>
<text x="505.2" y="727.2" font-size="6.5" fill="#4d4d4d" text-anchor="middle">0.25</text>
<line x1="405.9" y1="716.8" x2="510.8" y2="716.8" stroke="#e4e4e4" stroke-width="0.6"/>
<line x1="404.4" y1="716.8" x2="405.9" y2="716.8" stroke="#333" stroke-width="0.5"/>
<text x="402.9" y="719.0" font-size="6.5" fill="#4d4d4d" text-anchor="end">0</text>
<line x1="405.9" y1="691.6" x2="510.8" y2="691.6" stroke="#e4e4e4" stroke-width="0.6"/>
<line x1="404.4" y1="691.6" x2="405.9" y2="691.6" stroke="#333" stroke-width="0.5"/>
<text x="402.9" y="693.8000000000001" font-size="6.5" fill="#4d4d4d" text-anchor="end">3</text>
<line x1="405.9" y1="666.4" x2="510.8" y2="666.4" stroke="#e4e4e4" stroke-width="0.6"/>
<line x1="404.4" y1="666.4" x2="405.9" y2="666.4" stroke="#333" stroke-width="0.5"/>
<text x="402.9" y="668.6" font-size="6.5" fill="#4d4d4d" text-anchor="end">6</text>
<line x1="405.9" y1="641.4" x2="510.8" y2="641.4" stroke="#e4e4e4" stroke-width="0.6"/>
<line x1="404.4" y1="641.4" x2="405.9" y2="641.4" stroke="#333" stroke-width="0.5"/>
<text x="402.9" y="643.6" font-size="6.5" fill="#4d4d4d" text-anchor="end">9</text>
<polygon points="410.6,677.5 455.0,681.0 506.0,684.6 506.0,698.6 455.0,688.0 410.6,682.0" fill="#c8c8c8" stroke="none" stroke-width="1" opacity="0.9"/>
<path d="M412.9 683.8h0M465.8 676.3h0M411.6 673.5h0M411.9 707.9h0M425.5 687.3h0M410.7 687.7h0M429.8 712.8h0M448.4 695.0h0M435.2 687.6h0M411.7 671.4h0M419.3 665.5h0M464.2 674.3h0M416.0 676.2h0M433.7 687.5h0M417.6 686.1h0M411.8 662.1h0M413.2 691.2h0M421.4 699.6h0M418.3 671.3h0M411.2 676.4h0M410.7 664.4h0M410.7 656.9h0M423.6 683.3h0M410.6 683.9h0M410.7 710.1h0M414.9 710.8h0M497.5 639.3h0M422.5 697.3h0M417.6 676.7h0M416.1 655.7h0M410.8 692.0h0M411.8 684.3h0M458.7 692.1h0M423.0 686.2h0M410.6 684.7h0M444.5 693.4h0M410.7 664.6h0M411.8 704.5h0M436.3 665.5h0M422.6 707.6h0M411.2 689.4h0M419.6 708.2h0M419.9 662.2h0M411.6 687.1h0M420.4 643.8h0M421.6 697.8h0M418.5 704.3h0M410.6 669.2h0M418.3 666.0h0M412.2 682.7h0M420.8 671.1h0M413.2 670.6h0M422.5 710.8h0M450.9 671.5h0M425.3 690.2h0M414.1 655.0h0M465.9 675.9h0M413.8 674.9h0M424.7 667.7h0M436.3 686.4h0M439.3 687.1h0M416.8 672.0h0M423.3 711.6h0M411.6 660.8h0M415.1 684.5h0M411.2 663.1h0M412.1 672.4h0M411.4 660.1h0M412.7 665.3h0M410.7 674.2h0M410.7 664.7h0M415.7 686.0h0M410.8 707.8h0M422.2 681.1h0M436.6 685.4h0M414.7 651.6h0M452.3 672.6h0M410.7 677.8h0M436.0 685.3h0M411.1 687.0h0M410.7 667.3h0M411.7 677.1h0M470.6 668.5h0M491.0 678.8h0M426.1 693.9h0M410.7 696.6h0M411.0 701.6h0M410.9 694.2h0M450.3 681.4h0M425.2 679.9h0M443.7 681.5h0M443.2 684.4h0M414.8 693.2h0M417.9 712.9h0M427.8 690.0h0M432.0 643.1h0M411.0 703.5h0M420.1 660.5h0M415.8 656.0h0M411.6 651.8h0M463.8 693.3h0M427.8 692.3h0M410.8 679.3h0M411.1 663.6h0M429.4 652.6h0M428.8 666.1h0M415.8 665.5h0M410.6 651.0h0M411.0 689.3h0M411.0 694.7h0M424.8 647.4h0M410.6 696.2h0M422.5 688.1h0M438.2 686.1h0M423.2 658.0h0M427.2 679.7h0M412.1 686.4h0M410.9 658.8h0M446.0 641.7h0M418.1 688.9h0M412.2 684.8h0M429.6 713.5h0M410.9 660.7h0M441.9 655.1h0M412.9 711.3h0M434.1 664.2h0M445.4 679.9h0M445.7 669.3h0M411.0 691.8h0M417.4 665.4h0M410.7 692.0h0M431.4 668.2h0M411.0 675.3h0M410.8 641.4h0M414.9 682.5h0M417.3 673.0h0M421.4 659.0h0M411.1 683.3h0M415.4 688.3h0M419.6 688.0h0M434.4 701.3h0M412.7 668.1h0M410.7 686.3h0M410.7 686.3h0M410.9 683.1h0M426.5 699.8h0M425.3 668.0h0M460.8 711.0h0M441.2 668.9h0M441.1 659.6h0M410.8 700.6h0M410.9 687.8h0M439.0 667.2h0M414.7 672.5h0M429.7 659.6h0M430.8 703.5h0M411.6 666.9h0M412.1 681.8h0M413.7 672.6h0M411.3 702.3h0M420.6 681.3h0M421.5 701.0h0M424.0 679.9h0M423.2 680.3h0M410.9 634.6h0M421.6 692.3h0M412.4 700.5h0M411.0 686.9h0M414.2 654.5h0M412.5 642.0h0M420.5 701.1h0M410.6 697.7h0M410.6 678.9h0M417.3 684.1h0M411.8 696.3h0M411.1 661.2h0M414.0 642.2h0M411.2 693.1h0M413.2 679.6h0M438.4 688.0h0M410.7 678.9h0M461.0 668.1h0M433.5 664.3h0M410.8 647.9h0M414.4 640.2h0M411.5 686.4h0M423.6 711.1h0M439.8 672.7h0M417.5 669.0h0M476.4 700.4h0M410.8 680.7h0M443.0 672.8h0M411.7 701.3h0M453.2 689.1h0M470.8 702.4h0M452.0 691.9h0M426.3 693.9h0M420.7 712.9h0M411.5 698.8h0M418.8 691.5h0M418.0 697.4h0M419.0 706.0h0M427.6 688.5h0M472.9 702.3h0M411.1 673.3h0M412.9 689.9h0M423.8 673.4h0M418.0 642.9h0M410.9 683.2h0M411.2 677.2h0M448.7 672.6h0M410.7 667.3h0M417.3 689.7h0M411.9 710.9h0M421.5 658.5h0M410.6 680.2h0M411.5 694.5h0M432.8 683.0h0M420.1 678.7h0M428.3 658.5h0M443.5 693.2h0M453.3 636.2h0M430.5 685.8h0M436.9 680.6h0M430.6 708.6h0M411.2 680.2h0M419.1 699.9h0M411.2 684.1h0M437.7 693.7h0M422.4 711.1h0M411.1 695.2h0M410.7 684.1h0M417.9 679.9h0M417.7 672.6h0M413.8 680.6h0M411.6 681.6h0M421.0 676.9h0M424.2 696.5h0M426.0 705.4h0M413.4 691.3h0M421.8 655.2h0M411.5 697.4h0M439.1 678.3h0M411.8 699.2h0M410.9 691.1h0M433.5 684.8h0M437.4 650.5h0M410.9 700.5h0M429.5 657.8h0M411.5 665.2h0M410.6 704.5h0M411.3 696.2h0M411.1 691.9h0M411.2 682.9h0M434.2 684.5h0M421.2 706.3h0M411.4 667.7h0M411.9 681.2h0M448.5 673.5h0M432.6 695.0h0M416.1 675.9h0M446.8 682.3h0M419.2 655.7h0M420.3 697.9h0M410.7 644.5h0M417.0 625.6h0M459.1 630.6h0M416.6 680.7h0M441.6 654.4h0M414.8 659.1h0M412.4 679.3h0M411.6 627.4h0M410.7 670.5h0M412.0 706.2h0M417.9 675.2h0M412.6 672.6h0M411.2 670.5h0M421.8 687.3h0M413.7 693.6h0M433.8 671.5h0M426.3 714.7h0M417.7 675.6h0M417.9 700.6h0M411.8 678.5h0M415.6 677.5h0M416.4 678.2h0M412.1 676.9h0M420.5 649.6h0M428.9 662.5h0M410.9 663.7h0M414.2 690.0h0M412.0 696.7h0M423.7 658.0h0M430.0 676.0h0M433.3 679.3h0M411.0 672.7h0M432.7 708.0h0M412.2 686.0h0M411.1 690.1h0M413.0 651.8h0M421.6 685.1h0M430.1 706.3h0M414.4 682.5h0M448.1 687.8h0M410.7 680.9h0M411.4 670.4h0M458.8 691.4h0M416.9 690.0h0M410.9 663.8h0M412.1 687.1h0M432.4 696.4h0M417.6 683.9h0M413.9 689.3h0M438.0 676.6h0M415.9 692.3h0M411.6 680.3h0M410.8 696.9h0M410.7 679.8h0M423.8 697.7h0M411.0 654.5h0M423.8 701.0h0M420.3 710.9h0M432.4 690.8h0M427.1 690.7h0M434.6 694.6h0M442.3 689.9h0M439.9 685.1h0M422.2 670.1h0M415.6 678.6h0M411.1 681.1h0M442.9 690.6h0M416.9 707.7h0M411.0 701.1h0M411.9 708.0h0M448.5 704.5h0M414.5 662.7h0M417.4 695.9h0M462.7 685.3h0M446.2 687.2h0M411.6 678.5h0M410.8 669.6h0M413.0 671.5h0M410.9 688.6h0M411.5 700.4h0M411.0 679.8h0M438.4 672.4h0M420.2 708.5h0M411.8 683.6h0M410.6 661.9h0M411.9 688.9h0M422.4 685.0h0M433.8 694.4h0M447.0 682.3h0M411.1 670.4h0M410.9 684.4h0M415.2 689.2h0M425.9 685.6h0M422.3 713.9h0M424.6 701.1h0M410.7 654.4h0M411.2 661.4h0M417.7 709.8h0M411.1 702.8h0M413.2 693.3h0M424.7 642.7h0M429.7 689.5h0M455.7 673.1h0M425.4 684.4h0M446.4 681.5h0M421.9 710.0h0M411.7 695.9h0M411.5 650.3h0M420.1 679.2h0M424.7 682.3h0M410.9 680.2h0M444.7 712.3h0M410.8 689.5h0M411.8 662.7h0M433.2 656.9h0M446.8 678.4h0M449.2 680.9h0M423.9 674.8h0M416.2 672.1h0M457.6 700.2h0M417.5 664.7h0M415.0 697.5h0M411.4 651.7h0M428.5 671.9h0M411.1 696.7h0M411.2 683.2h0M411.9 684.6h0M438.8 695.9h0M411.6 701.1h0M449.4 676.6h0M411.1 664.2h0M433.7 677.7h0M418.5 667.3h0M413.3 672.5h0M416.7 645.3h0M411.0 698.6h0M410.9 666.9h0M443.3 685.5h0M420.9 676.5h0M431.6 695.4h0M419.4 688.5h0M410.6 692.6h0M416.3 673.2h0M446.5 685.7h0M419.2 684.8h0M415.2 711.8h0M410.8 684.2h0M435.1 682.4h0M412.5 685.5h0M413.7 692.8h0M411.3 679.7h0M410.7 695.5h0M412.8 668.1h0M411.1 655.2h0M411.1 656.4h0M432.2 676.7h0M418.7 664.2h0M430.8 680.9h0M411.0 705.1h0M413.6 689.1h0M435.6 644.7h0M424.2 653.9h0M411.3 675.2h0M504.7 646.4h0M410.6 659.4h0M411.2 695.3h0M452.2 658.0h0M431.0 687.6h0M442.8 694.0h0M410.6 687.4h0M410.7 671.7h0M417.5 667.4h0M420.3 694.0h0M411.3 694.2h0M411.2 688.4h0M450.5 702.1h0M445.4 685.3h0M423.9 704.7h0M414.5 644.4h0M432.2 690.8h0M410.8 674.4h0M427.1 648.7h0M413.7 670.3h0M446.4 708.1h0M457.1 679.8h0M410.7 662.9h0M424.8 647.9h0M411.0 692.2h0M410.7 702.3h0M410.9 660.2h0M410.9 666.1h0M411.5 694.4h0M410.7 696.9h0M411.4 648.6h0M424.8 709.6h0M410.8 690.6h0M435.3 652.4h0M411.1 676.4h0M484.8 693.5h0M410.8 690.8h0M427.9 635.1h0M426.3 677.7h0M428.9 671.8h0M453.9 658.6h0M423.6 672.4h0M436.2 700.2h0M444.2 673.0h0M411.3 692.5h0M424.9 701.0h0M413.3 674.4h0M414.2 698.0h0M411.1 704.7h0M411.4 696.5h0M424.2 675.1h0M413.3 669.0h0M488.2 673.7h0M448.1 691.4h0M411.3 697.7h0M410.6 664.8h0M416.4 665.3h0M411.0 679.2h0M410.8 643.2h0M411.6 677.4h0M410.7 664.2h0M426.0 682.1h0M413.5 676.4h0M411.2 676.5h0M481.3 677.8h0M412.5 648.9h0M410.7 676.9h0M413.3 673.0h0M416.3 666.2h0M410.9 692.8h0M411.7 687.4h0M410.8 687.4h0M411.0 685.5h0" stroke="#404040" stroke-width="2.0" stroke-linecap="round" opacity="0.75"/>
<line x1="410.6" y1="679.5" x2="506" y2="691.6" stroke="#3a62c4" stroke-width="1"/>
<rect x="405.9" y="608.9" width="104.90000000000003" height="10.300000000000068" fill="#d9d9d9" stroke="#333" stroke-width="0.6"/>
<rect x="405.9" y="619.2" width="104.90000000000003" height="100.0" fill="none" stroke="#333" stroke-width="0.6"/>
<clipPath id="st4667"><rect x="406.4" y="608.9" width="103.90000000000003" height="10.300000000000068"/></clipPath>
<text x="458.35" y="616.4000000000001" font-size="5.8" fill="#222" text-anchor="middle" textLength="52.3" lengthAdjust="spacingAndGlyphs" clip-path="url(#st4667)">T cell CD8+_XCELL</text>
<text x="509.8" y="625.0" font-size="5.8" fill="#e02020" text-anchor="end">Rho = -0.12</text>
<text x="509.8" y="629.6" font-size="5.8" fill="#e02020" text-anchor="end">p = 1.63e-02</text>
<text x="463.35" y="735.8" font-size="7.6" fill="#333" text-anchor="middle" textLength="57" lengthAdjust="spacingAndGlyphs">Infiltration Level</text>
<line x1="573.5" y1="481.2" x2="583.8" y2="481.2" stroke="#3f76a8" stroke-width="1.3"/>
<line x1="573.5" y1="490.1" x2="583.8" y2="490.1" stroke="#b8282e" stroke-width="1.3"/>
<text x="586.2" y="484.2" font-size="9" font-weight="bold" fill="#222" text-anchor="start" textLength="92.3" lengthAdjust="spacingAndGlyphs">Low CCL20 Expression</text>
<text x="586.2" y="493.2" font-size="9" font-weight="bold" fill="#222" text-anchor="start" textLength="94" lengthAdjust="spacingAndGlyphs">High CCL20 Expression</text>
<rect x="568.2" y="501" width="107.79999999999995" height="94.70000000000005" fill="#fff" stroke="#999" stroke-width="0.7"/>
<line x1="566.4000000000001" y1="503.8" x2="568.2" y2="503.8" stroke="#444" stroke-width="0.5"/>
<text x="564.7" y="503.8" font-size="5.6" fill="#333" text-anchor="middle" transform="rotate(-90 564.7 503.8)">1.0</text>
<line x1="566.4000000000001" y1="521.4" x2="568.2" y2="521.4" stroke="#444" stroke-width="0.5"/>
<text x="564.7" y="521.4" font-size="5.6" fill="#333" text-anchor="middle" transform="rotate(-90 564.7 521.4)">0.8</text>
<line x1="566.4000000000001" y1="539" x2="568.2" y2="539" stroke="#444" stroke-width="0.5"/>
<text x="564.7" y="539" font-size="5.6" fill="#333" text-anchor="middle" transform="rotate(-90 564.7 539)">0.6</text>
<line x1="566.4000000000001" y1="556.3" x2="568.2" y2="556.3" stroke="#444" stroke-width="0.5"/>
<text x="564.7" y="556.3" font-size="5.6" fill="#333" text-anchor="middle" transform="rotate(-90 564.7 556.3)">0.4</text>
<line x1="566.4000000000001" y1="573.7" x2="568.2" y2="573.7" stroke="#444" stroke-width="0.5"/>
<text x="564.7" y="573.7" font-size="5.6" fill="#333" text-anchor="middle" transform="rotate(-90 564.7 573.7)">0.2</text>
<line x1="566.4000000000001" y1="591.3" x2="568.2" y2="591.3" stroke="#444" stroke-width="0.5"/>
<text x="564.7" y="591.3" font-size="5.6" fill="#333" text-anchor="middle" transform="rotate(-90 564.7 591.3)">0.0</text>
<line x1="571.8" y1="595.7" x2="571.8" y2="597.5" stroke="#444" stroke-width="0.5"/>
<text x="571.8" y="601.9" font-size="6.2" fill="#333" text-anchor="middle">0</text>
<line x1="590.6" y1="595.7" x2="590.6" y2="597.5" stroke="#444" stroke-width="0.5"/>
<text x="590.6" y="601.9" font-size="6.2" fill="#333" text-anchor="middle">20</text>
<line x1="609.6" y1="595.7" x2="609.6" y2="597.5" stroke="#444" stroke-width="0.5"/>
<text x="609.6" y="601.9" font-size="6.2" fill="#333" text-anchor="middle">40</text>
<line x1="628.4" y1="595.7" x2="628.4" y2="597.5" stroke="#444" stroke-width="0.5"/>
<text x="628.4" y="601.9" font-size="6.2" fill="#333" text-anchor="middle">60</text>
<line x1="646.9" y1="595.7" x2="646.9" y2="597.5" stroke="#444" stroke-width="0.5"/>
<text x="646.9" y="601.9" font-size="6.2" fill="#333" text-anchor="middle">80</text>
<line x1="665.7" y1="595.7" x2="665.7" y2="597.5" stroke="#444" stroke-width="0.5"/>
<text x="665.7" y="601.9" font-size="6.2" fill="#333" text-anchor="middle">100</text>
<text x="673.7" y="508.2" font-size="8.2" fill="#d03038" text-anchor="end" textLength="70.6" lengthAdjust="spacingAndGlyphs">HR=0.553, p=0.00161</text>
<text x="571.2" y="591.8" font-size="3" fill="#b02020" text-anchor="start" textLength="29" lengthAdjust="spacingAndGlyphs">HR=0.553, p = 0.00161</text>
<path d="M571.8,504.1 575.4,504.1 575.4,505.8 577.1,505.8 577.1,507.7 579.0,507.7 579.0,510.6 580.7,510.6 580.7,514.2 582.1,514.2 582.1,517.8 583.1,517.8 583.1,523.1 584.1,523.1 584.1,529.8 587.4,529.8 587.4,532.7 590.3,532.7 590.3,536.6 592.3,536.6 592.3,537.8 599.5,537.8 599.5,540.0 603.1,540.0 603.1,543.1 606.7,543.1 606.7,546.2 608.6,546.2 608.6,549.6 620.0,549.6 620.0,561.2 625.0,561.2 625.0,576.3 645.2,576.3" fill="none" stroke="#3f76a8" stroke-width="1.1"/>
<line x1="595.8670520231213" y1="536.7938342967245" x2="595.8670520231213" y2="538.7938342967245" stroke="#3f76a8" stroke-width="0.5"/>
<line x1="611.4619460500962" y1="548.5953757225434" x2="611.4619460500962" y2="550.5953757225434" stroke="#3f76a8" stroke-width="0.5"/>
<line x1="617.1218689788054" y1="548.5953757225434" x2="617.1218689788054" y2="550.5953757225434" stroke="#3f76a8" stroke-width="0.5"/>
<line x1="622.4807321772639" y1="560.1560693641618" x2="622.4807321772639" y2="562.1560693641618" stroke="#3f76a8" stroke-width="0.5"/>
<line x1="627.538535645472" y1="575.3294797687861" x2="627.538535645472" y2="577.3294797687861" stroke="#3f76a8" stroke-width="0.5"/>
<line x1="632.5963391136802" y1="575.3294797687861" x2="632.5963391136802" y2="577.3294797687861" stroke="#3f76a8" stroke-width="0.5"/>
<line x1="637.6541425818882" y1="575.3294797687861" x2="637.6541425818882" y2="577.3294797687861" stroke="#3f76a8" stroke-width="0.5"/>
<line x1="642.7119460500963" y1="575.3294797687861" x2="642.7119460500963" y2="577.3294797687861" stroke="#3f76a8" stroke-width="0.5"/>
<path d="M571.8,504.1 573.5,504.1 573.5,505.8 575.9,505.8 575.9,508.2 578.3,508.2 578.3,509.9 583.8,509.9 583.8,511.1 588.6,511.1 588.6,512.5 592.3,512.5 592.3,514.9 604.3,514.9 604.3,515.9 606.2,515.9 606.2,519.0 626.5,519.0 626.5,529.8 627.2,529.8 627.2,539.5 637.5,539.5 637.5,552.7 674.1,552.7" fill="none" stroke="#b8282e" stroke-width="1.1"/>
<line x1="581.0549132947976" y1="508.8554913294798" x2="581.0549132947976" y2="510.8554913294798" stroke="#b8282e" stroke-width="0.5"/>
<line x1="595.2649325626204" y1="513.9132947976879" x2="595.2649325626204" y2="515.9132947976879" stroke="#b8282e" stroke-width="0.5"/>
<line x1="601.2861271676301" y1="513.9132947976879" x2="601.2861271676301" y2="515.9132947976879" stroke="#b8282e" stroke-width="0.5"/>
<line x1="608.752408477842" y1="518.0077071290945" x2="608.752408477842" y2="520.0077071290945" stroke="#b8282e" stroke-width="0.5"/>
<line x1="613.8102119460501" y1="518.0077071290945" x2="613.8102119460501" y2="520.0077071290945" stroke="#b8282e" stroke-width="0.5"/>
<line x1="618.8680154142581" y1="518.0077071290945" x2="618.8680154142581" y2="520.0077071290945" stroke="#b8282e" stroke-width="0.5"/>
<line x1="623.9258188824663" y1="518.0077071290945" x2="623.9258188824663" y2="520.0077071290945" stroke="#b8282e" stroke-width="0.5"/>
<line x1="629.7663776493256" y1="538.4797687861271" x2="629.7663776493256" y2="540.4797687861271" stroke="#b8282e" stroke-width="0.5"/>
<line x1="634.944605009634" y1="538.4797687861271" x2="634.944605009634" y2="540.4797687861271" stroke="#b8282e" stroke-width="0.5"/>
<line x1="640.148637489678" y1="551.7263969171483" x2="640.148637489678" y2="553.7263969171483" stroke="#b8282e" stroke-width="0.5"/>
<line x1="645.3784750894578" y1="551.7263969171483" x2="645.3784750894578" y2="553.7263969171483" stroke="#b8282e" stroke-width="0.5"/>
<line x1="650.6083126892376" y1="551.7263969171483" x2="650.6083126892376" y2="553.7263969171483" stroke="#b8282e" stroke-width="0.5"/>
<line x1="655.8381502890173" y1="551.7263969171483" x2="655.8381502890173" y2="553.7263969171483" stroke="#b8282e" stroke-width="0.5"/>
<line x1="661.0679878887971" y1="551.7263969171483" x2="661.0679878887971" y2="553.7263969171483" stroke="#b8282e" stroke-width="0.5"/>
<line x1="666.2978254885769" y1="551.7263969171483" x2="666.2978254885769" y2="553.7263969171483" stroke="#b8282e" stroke-width="0.5"/>
<line x1="671.5276630883567" y1="551.7263969171483" x2="671.5276630883567" y2="553.7263969171483" stroke="#b8282e" stroke-width="0.5"/>
<rect x="568.9" y="610.1" width="108.89999999999998" height="94.69999999999993" fill="#fff" stroke="#999" stroke-width="0.7"/>
<line x1="567.1" y1="614.4" x2="568.9" y2="614.4" stroke="#444" stroke-width="0.5"/>
<text x="565.4" y="614.4" font-size="5.6" fill="#333" text-anchor="middle" transform="rotate(-90 565.4 614.4)">1.0</text>
<line x1="567.1" y1="631.8" x2="568.9" y2="631.8" stroke="#444" stroke-width="0.5"/>
<text x="565.4" y="631.8" font-size="5.6" fill="#333" text-anchor="middle" transform="rotate(-90 565.4 631.8)">0.8</text>
<line x1="567.1" y1="649.1" x2="568.9" y2="649.1" stroke="#444" stroke-width="0.5"/>
<text x="565.4" y="649.1" font-size="5.6" fill="#333" text-anchor="middle" transform="rotate(-90 565.4 649.1)">0.6</text>
<line x1="567.1" y1="666.7" x2="568.9" y2="666.7" stroke="#444" stroke-width="0.5"/>
<text x="565.4" y="666.7" font-size="5.6" fill="#333" text-anchor="middle" transform="rotate(-90 565.4 666.7)">0.4</text>
<line x1="567.1" y1="684" x2="568.9" y2="684" stroke="#444" stroke-width="0.5"/>
<text x="565.4" y="684" font-size="5.6" fill="#333" text-anchor="middle" transform="rotate(-90 565.4 684)">0.2</text>
<line x1="567.1" y1="701.1" x2="568.9" y2="701.1" stroke="#444" stroke-width="0.5"/>
<text x="565.4" y="701.1" font-size="5.6" fill="#333" text-anchor="middle" transform="rotate(-90 565.4 701.1)">0.0</text>
<line x1="573.5" y1="704.8" x2="573.5" y2="706.5999999999999" stroke="#444" stroke-width="0.5"/>
<text x="573.5" y="713.3" font-size="6.2" fill="#333" text-anchor="middle">0</text>
<line x1="600.7" y1="704.8" x2="600.7" y2="706.5999999999999" stroke="#444" stroke-width="0.5"/>
<text x="600.7" y="713.3" font-size="6.2" fill="#333" text-anchor="middle">50</text>
<line x1="627.9" y1="704.8" x2="627.9" y2="706.5999999999999" stroke="#444" stroke-width="0.5"/>
<text x="627.9" y="713.3" font-size="6.2" fill="#333" text-anchor="middle">100</text>
<line x1="655.4" y1="704.8" x2="655.4" y2="706.5999999999999" stroke="#444" stroke-width="0.5"/>
<text x="655.4" y="713.3" font-size="6.2" fill="#333" text-anchor="middle">150</text>
<text x="673.1999999999999" y="619.7" font-size="8.2" fill="#d03038" text-anchor="end" textLength="66.7" lengthAdjust="spacingAndGlyphs">HR=1.25, p=0.00206</text>
<text x="571.9" y="702.8" font-size="3" fill="#b02020" text-anchor="start" textLength="29" lengthAdjust="spacingAndGlyphs">HR=1.25, p = 0.00206</text>
<path d="M573.5,614.4 575.9,614.4 575.9,616.1 576.8,616.1 576.8,617.6 577.8,617.6 577.8,619.0 578.5,619.0 578.5,620.6 579.2,620.6 579.2,622.1 579.6,622.1 579.6,623.4 580.0,623.4 580.0,624.6 580.3,624.6 580.3,625.8 580.7,625.8 580.7,627.0 581.1,627.0 581.1,628.2 581.4,628.2 581.4,629.4 581.8,629.4 581.8,630.6 582.1,630.6 582.1,631.8 582.6,631.8 582.6,633.1 583.1,633.1 583.1,634.5 583.6,634.5 583.6,635.9 584.2,635.9 584.2,637.3 584.9,637.3 584.9,638.8 585.5,638.8 585.5,640.2 586.7,640.2 586.7,641.7 587.9,641.7 587.9,643.1 589.5,643.1 589.5,644.3 591.1,644.3 591.1,645.5 592.9,645.5 592.9,646.7 594.7,646.7 594.7,647.9 597.1,647.9 597.1,649.1 599.5,649.1 599.5,650.3 604.3,650.3 604.3,652.3 604.5,652.3 604.5,653.5 604.6,653.5 604.6,654.7 604.8,654.7 604.8,655.9 609.6,655.9 609.6,656.6 609.6,659.0 613.4,659.0 613.4,660.7 613.4,663.1 621.2,663.1 621.2,666.7 623.1,666.7 623.1,670.3 624.5,670.3 624.5,672.7 633.2,672.7 633.2,675.6 651.3,675.6 651.3,675.9 658.5,675.9 658.5,681.2 662.1,681.2 662.1,686.0 667.4,686.0 667.4,691.3 674.1,691.3" fill="none" stroke="#3f76a8" stroke-width="1.1"/>
<line x1="617.3025048169557" y1="662.0924855491329" x2="617.3025048169557" y2="664.0924855491329" stroke="#3f76a8" stroke-width="0.5"/>
<line x1="628.8631984585742" y1="671.7263969171483" x2="628.8631984585742" y2="673.7263969171483" stroke="#3f76a8" stroke-width="0.5"/>
<line x1="636.209055876686" y1="674.616570327553" x2="636.209055876686" y2="676.616570327553" stroke="#3f76a8" stroke-width="0.5"/>
<line x1="642.2302504816955" y1="674.616570327553" x2="642.2302504816955" y2="676.616570327553" stroke="#3f76a8" stroke-width="0.5"/>
<line x1="648.2514450867052" y1="674.616570327553" x2="648.2514450867052" y2="676.616570327553" stroke="#3f76a8" stroke-width="0.5"/>
<line x1="654.8747591522158" y1="674.8574181117534" x2="654.8747591522158" y2="676.8574181117534" stroke="#3f76a8" stroke-width="0.5"/>
<line x1="664.7495183044316" y1="684.9730250481696" x2="664.7495183044316" y2="686.9730250481696" stroke="#3f76a8" stroke-width="0.5"/>
<line x1="670.7707129094413" y1="690.2716763005781" x2="670.7707129094413" y2="692.2716763005781" stroke="#3f76a8" stroke-width="0.5"/>
<path d="M573.5,614.4 573.8,614.4 573.8,615.8 574.1,615.8 574.1,617.2 574.4,617.2 574.4,618.5 574.8,618.5 574.8,619.7 575.2,619.7 575.2,620.9 575.5,620.9 575.5,622.1 575.9,622.1 575.9,623.4 576.2,623.4 576.2,624.6 576.5,624.6 576.5,625.8 576.7,625.8 576.7,627.0 577.0,627.0 577.0,628.2 577.3,628.2 577.3,629.4 577.7,629.4 577.7,630.6 578.2,630.6 578.2,631.8 578.6,631.8 578.6,633.0 579.0,633.0 579.0,634.2 579.4,634.2 579.4,635.4 579.9,635.4 579.9,636.6 580.3,636.6 580.3,637.8 580.7,637.8 580.7,639.0 581.3,639.0 581.3,640.2 581.9,640.2 581.9,641.4 582.5,641.4 582.5,642.6 583.1,642.6 583.1,643.8 583.9,643.8 583.9,645.0 584.7,645.0 584.7,646.2 585.5,646.2 585.5,647.4 586.2,647.4 586.2,648.6 586.8,648.6 586.8,649.8 587.4,649.8 587.4,651.1 588.0,651.1 588.0,652.3 588.6,652.3 588.6,653.5 589.8,653.5 589.8,654.8 591.1,654.8 591.1,656.2 592.3,656.2 592.3,657.6 594.1,657.6 594.1,658.8 595.9,658.8 595.9,660.0 600.7,660.0 600.7,661.9 602.5,661.9 602.5,663.1 604.3,663.1 604.3,664.3 607.2,664.3 607.2,665.7 612.7,665.7 612.7,666.7 612.7,669.6 622.4,669.6 622.4,672.7 623.6,672.7 623.6,677.5 626.0,677.5 626.0,684.8 629.6,684.8 629.6,691.3 660.2,691.3 660.2,701.6" fill="none" stroke="#b8282e" stroke-width="1.1"/>
<line x1="609.9566473988439" y1="664.7418111753371" x2="609.9566473988439" y2="666.7418111753371" stroke="#b8282e" stroke-width="0.5"/>
<line x1="617.5433526011561" y1="668.5953757225434" x2="617.5433526011561" y2="670.5953757225434" stroke="#b8282e" stroke-width="0.5"/>
<line x1="632.1347141939627" y1="690.2716763005781" x2="632.1347141939627" y2="692.2716763005781" stroke="#b8282e" stroke-width="0.5"/>
<line x1="637.2326589595376" y1="690.2716763005781" x2="637.2326589595376" y2="692.2716763005781" stroke="#b8282e" stroke-width="0.5"/>
<line x1="642.3306037251124" y1="690.2716763005781" x2="642.3306037251124" y2="692.2716763005781" stroke="#b8282e" stroke-width="0.5"/>
<line x1="647.4285484906873" y1="690.2716763005781" x2="647.4285484906873" y2="692.2716763005781" stroke="#b8282e" stroke-width="0.5"/>
<line x1="652.526493256262" y1="690.2716763005781" x2="652.526493256262" y2="692.2716763005781" stroke="#b8282e" stroke-width="0.5"/>
<line x1="657.6244380218369" y1="690.2716763005781" x2="657.6244380218369" y2="692.2716763005781" stroke="#b8282e" stroke-width="0.5"/>
<text x="543.3" y="540.9" font-size="9.8" font-weight="bold" fill="#000" text-anchor="middle" textLength="57.6" lengthAdjust="spacingAndGlyphs" transform="rotate(-90 543.3 540.9)">HPV+HNSCC</text>
<text x="551.6" y="546.6" font-size="9.8" font-weight="bold" fill="#000" text-anchor="middle" textLength="90.4" lengthAdjust="spacingAndGlyphs" transform="rotate(-90 551.6 546.6)">Cumulative Survival</text>
<text x="543.3" y="657" font-size="9.8" font-weight="bold" fill="#000" text-anchor="middle" textLength="55.5" lengthAdjust="spacingAndGlyphs" transform="rotate(-90 543.3 657)">HPV-HNSCC</text>
<text x="551.2" y="660.2" font-size="9.8" font-weight="bold" fill="#000" text-anchor="middle" textLength="88.9" lengthAdjust="spacingAndGlyphs" transform="rotate(-90 551.2 660.2)">Cumulative Survival</text>
<text x="621.5" y="725.9" font-size="10.2" font-weight="bold" fill="#000" text-anchor="middle" textLength="124.5" lengthAdjust="spacingAndGlyphs">Time to Follow-Up (months)</text>
</svg></body></html>
